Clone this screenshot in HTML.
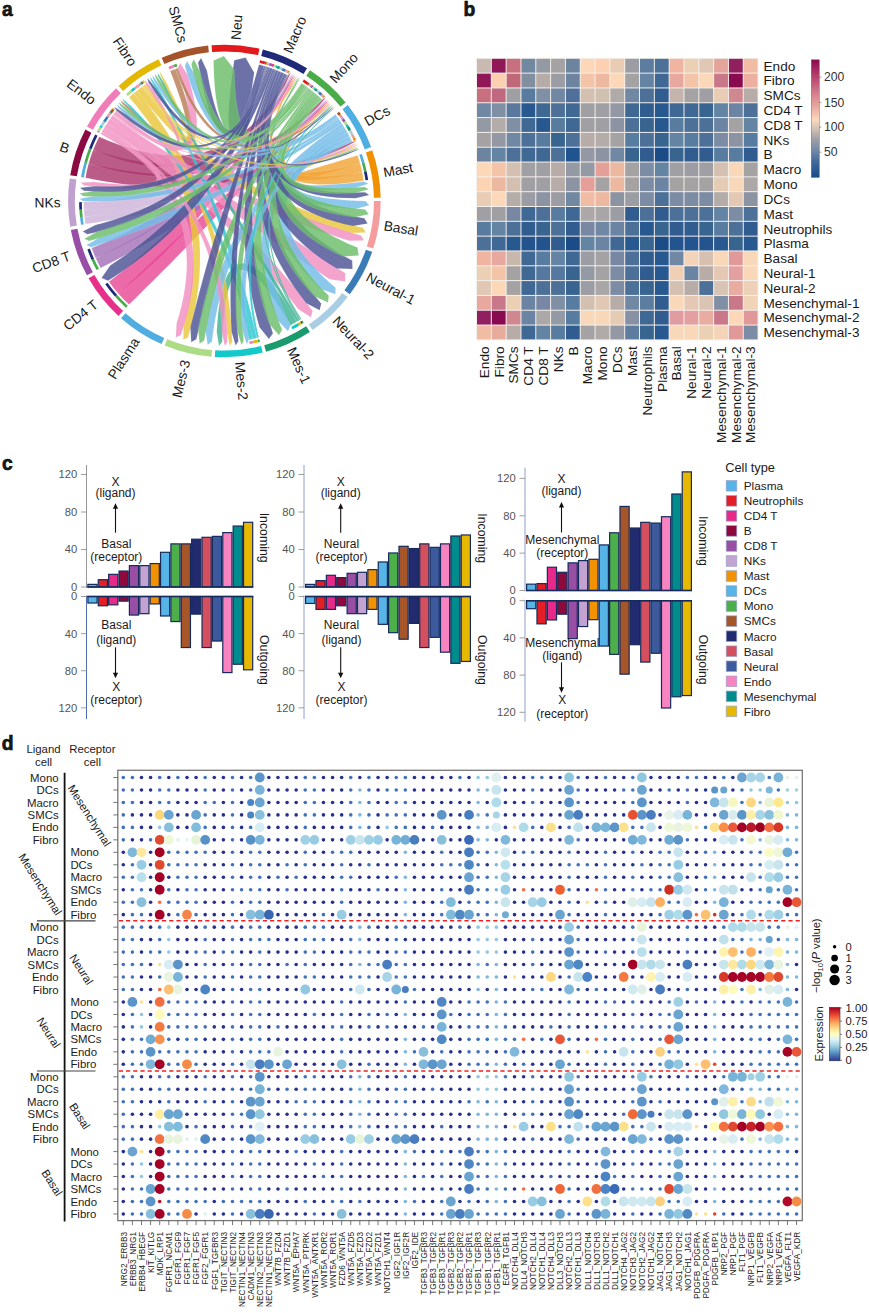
<!DOCTYPE html>
<html><head><meta charset="utf-8"><style>
html,body{margin:0;padding:0;background:#fff;}
svg{display:block;}
svg{fill:#1a1a1a;}
text{font-family:'Liberation Sans', Arial, sans-serif;}
</style></head><body>
<svg width="869" height="1313" viewBox="0 0 869 1313">
<rect width="869" height="1313" fill="#fff"/>
<path d="M380.70,201.07 A156.3,156.3 0 0 1 373.28,248.58 L366.90,246.54 A149.6,149.6 0 0 0 374.00,201.07 Z" fill="#f59c9c"/>
<path d="M372.21,251.82 A156.3,156.3 0 0 1 349.77,294.34 L344.39,290.34 A149.6,149.6 0 0 0 365.87,249.64 Z" fill="#3a7cb8"/>
<path d="M347.70,297.06 A156.3,156.3 0 0 1 312.67,329.99 L308.88,324.46 A149.6,149.6 0 0 0 342.42,292.94 Z" fill="#a9cde2"/>
<path d="M309.83,331.89 A156.3,156.3 0 0 1 266.00,351.66 L264.22,345.20 A149.6,149.6 0 0 0 306.17,326.28 Z" fill="#1a9b6e"/>
<path d="M262.70,352.53 A156.3,156.3 0 0 1 214.83,357.01 L215.24,350.32 A149.6,149.6 0 0 0 261.06,346.04 Z" fill="#13c9c9"/>
<path d="M211.42,356.76 A156.3,156.3 0 0 1 164.69,345.44 L167.25,339.25 A149.6,149.6 0 0 0 211.98,350.08 Z" fill="#acdc86"/>
<path d="M161.55,344.11 A156.3,156.3 0 0 1 121.02,318.23 L125.45,313.21 A149.6,149.6 0 0 0 164.25,337.97 Z" fill="#4fade0"/>
<path d="M118.49,315.95 A156.3,156.3 0 0 1 88.56,278.31 L94.38,275.00 A149.6,149.6 0 0 0 123.03,311.02 Z" fill="#e6308a"/>
<path d="M86.91,275.33 A156.3,156.3 0 0 1 70.82,230.02 L77.40,228.77 A149.6,149.6 0 0 0 92.80,272.14 Z" fill="#984ea6"/>
<path d="M70.22,226.66 A156.3,156.3 0 0 1 69.72,178.58 L76.35,179.54 A149.6,149.6 0 0 0 76.83,225.56 Z" fill="#bfa0cf"/>
<path d="M70.24,175.21 A156.3,156.3 0 0 1 85.38,129.57 L91.34,132.63 A149.6,149.6 0 0 0 76.85,176.31 Z" fill="#8b0a41"/>
<path d="M86.97,126.55 A156.3,156.3 0 0 1 116.11,88.30 L120.75,93.13 A149.6,149.6 0 0 0 92.86,129.74 Z" fill="#f07cb8"/>
<path d="M118.59,85.96 A156.3,156.3 0 0 1 158.57,59.24 L161.39,65.32 A149.6,149.6 0 0 0 123.13,90.89 Z" fill="#e2b800"/>
<path d="M161.68,57.84 A156.3,156.3 0 0 1 208.17,45.55 L208.86,52.21 A149.6,149.6 0 0 0 164.37,63.97 Z" fill="#a5532b"/>
<path d="M211.56,45.23 A156.3,156.3 0 0 1 259.52,48.70 L258.02,55.23 A149.6,149.6 0 0 0 212.11,51.91 Z" fill="#e2191d"/>
<path d="M262.84,49.50 A156.3,156.3 0 0 1 307.07,68.35 L303.53,74.04 A149.6,149.6 0 0 0 261.19,55.99 Z" fill="#1e2a78"/>
<path d="M309.95,70.19 A156.3,156.3 0 0 1 345.66,102.38 L340.46,106.61 A149.6,149.6 0 0 0 306.28,75.80 Z" fill="#48ac48"/>
<path d="M347.78,105.05 A156.3,156.3 0 0 1 371.11,147.10 L364.82,149.41 A149.6,149.6 0 0 0 342.50,109.17 Z" fill="#4faee2"/>
<path d="M372.25,150.31 A156.3,156.3 0 0 1 380.66,197.66 L373.97,197.80 A149.6,149.6 0 0 0 365.92,152.49 Z" fill="#f29100"/>
<path d="M128.99,304.55 A140.8,140.8 0 0 1 118.37,293.64 L125.47,286.81 132.73,279.84 140.01,272.89 147.30,265.96 154.61,259.06 161.95,252.17 169.32,245.31 176.72,238.49 184.15,231.69 191.61,224.93 199.10,218.20 206.62,211.50 214.16,204.82 221.71,198.15 229.27,191.48 236.81,184.81 244.34,178.11 251.85,171.39 259.33,164.65 266.79,157.87 274.21,151.07 281.61,144.24 288.99,137.38 296.34,130.50 303.68,123.61 311.01,116.70 318.32,109.78 325.63,102.85 L329.03,100.61 L319.42,110.93 312.21,117.95 305.02,125.00 297.84,132.06 290.68,139.14 283.54,146.25 276.44,153.38 269.36,160.55 262.32,167.75 255.31,174.98 248.33,182.24 241.37,189.53 234.44,196.84 227.52,204.16 220.60,211.48 213.68,218.79 206.74,226.09 199.77,233.36 192.78,240.60 185.77,247.82 178.72,255.00 171.65,262.16 164.56,269.29 157.44,276.40 150.31,283.49 143.17,290.57 136.01,297.64 128.99,304.55 Z" fill="#e84995" fill-opacity="0.82" stroke="#ffffff" stroke-opacity="0.35" stroke-width="0.3"/>
<path d="M118.37,293.64 A140.8,140.8 0 0 1 108.99,281.65 L116.64,275.64 124.36,269.43 131.99,263.13 139.53,256.77 146.98,250.32 154.35,243.81 161.64,237.23 168.85,230.58 176.00,223.86 183.07,217.08 190.07,210.22 197.00,203.29 203.85,196.27 210.61,189.16 217.27,181.95 223.82,174.63 230.25,167.18 236.55,159.62 242.72,151.92 248.75,144.11 254.64,136.16 260.40,128.10 266.02,119.92 271.50,111.62 276.86,103.22 282.09,94.70 287.20,86.08 292.19,77.36 L294.78,74.22 L288.58,86.88 283.59,95.59 278.50,104.22 273.33,112.77 268.06,121.25 262.71,129.66 257.28,137.99 251.78,146.27 246.19,154.48 240.52,162.62 234.77,170.71 228.94,178.74 223.00,186.70 216.96,194.59 210.81,202.39 204.52,210.09 198.10,217.70 191.54,225.20 184.83,232.58 177.97,239.84 170.97,246.98 163.83,254.01 156.55,260.91 149.13,267.70 141.59,274.38 133.92,280.95 126.12,287.41 118.37,293.64 Z" fill="#e84995" fill-opacity="0.82" stroke="#ffffff" stroke-opacity="0.35" stroke-width="0.3"/>
<path d="M85.53,177.76 A140.8,140.8 0 0 1 88.65,163.61 L98.12,165.65 107.74,167.51 117.33,169.17 126.90,170.63 136.45,171.88 145.97,172.95 155.48,173.82 164.97,174.51 174.44,175.02 183.90,175.34 193.35,175.47 202.80,175.41 212.25,175.16 221.69,174.68 231.12,173.99 240.56,173.05 249.98,171.87 259.39,170.42 268.79,168.71 278.17,166.74 287.52,164.50 296.86,162.00 306.17,159.24 315.45,156.22 324.71,152.96 333.94,149.45 343.15,145.69 352.32,141.70 L356.43,141.05 L344.06,147.82 334.86,151.72 325.63,155.41 316.39,158.88 307.12,162.16 297.83,165.24 288.53,168.13 279.19,170.82 269.84,173.33 260.45,175.66 251.03,177.79 241.58,179.73 232.09,181.47 222.56,182.99 212.99,184.29 203.37,185.35 193.71,186.16 184.01,186.71 174.27,186.99 164.50,187.00 154.69,186.75 144.86,186.23 135.00,185.44 125.11,184.40 115.20,183.10 105.27,181.56 95.32,179.76 85.53,177.76 Z" fill="#ac386e" fill-opacity="0.82" stroke="#ffffff" stroke-opacity="0.35" stroke-width="0.3"/>
<path d="M88.65,163.61 A140.8,140.8 0 0 1 93.22,149.86 L102.30,152.76 111.46,155.37 120.52,157.63 129.48,159.55 138.35,161.14 147.12,162.39 155.81,163.32 164.42,163.92 172.95,164.20 181.41,164.17 189.81,163.81 198.15,163.11 206.44,162.08 214.68,160.69 222.87,158.93 231.00,156.78 239.07,154.24 247.07,151.29 255.00,147.93 262.84,144.16 270.60,139.98 278.27,135.39 285.85,130.40 293.33,125.01 300.72,119.22 308.01,113.05 315.21,106.48 322.32,99.54 L325.91,97.46 L316.82,108.16 309.65,114.87 302.39,121.23 295.06,127.24 287.64,132.90 280.13,138.22 272.54,143.21 264.86,147.86 257.09,152.19 249.22,156.18 241.25,159.85 233.17,163.18 224.97,166.17 216.65,168.81 208.21,171.07 199.63,172.96 190.93,174.44 182.11,175.52 173.17,176.18 164.13,176.42 154.98,176.24 145.73,175.64 136.40,174.63 126.97,173.21 117.47,171.39 107.88,169.17 98.22,166.56 88.65,163.61 Z" fill="#ac386e" fill-opacity="0.82" stroke="#ffffff" stroke-opacity="0.35" stroke-width="0.3"/>
<path d="M93.22,149.86 A140.8,140.8 0 0 1 99.17,136.65 L107.82,140.41 116.46,143.80 124.91,146.74 133.18,149.25 141.27,151.32 149.18,152.97 156.92,154.21 164.49,155.03 171.91,155.44 179.18,155.45 186.33,155.05 193.36,154.23 200.27,152.97 207.09,151.27 213.79,149.10 220.39,146.45 226.87,143.30 233.23,139.64 239.44,135.46 245.51,130.77 251.41,125.56 257.16,119.84 262.73,113.63 268.14,106.91 273.37,99.71 278.44,92.01 283.33,83.84 288.05,75.18 L290.87,72.13 L285.35,84.98 280.52,93.30 275.54,101.17 270.40,108.60 265.11,115.58 259.66,122.12 254.06,128.24 248.29,133.93 242.36,139.19 236.25,144.04 229.95,148.47 223.46,152.47 216.76,156.04 209.84,159.16 202.71,161.81 195.35,163.98 187.78,165.64 180.00,166.79 172.02,167.42 163.87,167.51 155.54,167.08 147.05,166.13 138.41,164.66 129.62,162.67 120.69,160.19 111.61,157.21 102.40,153.74 93.22,149.86 Z" fill="#ac386e" fill-opacity="0.82" stroke="#ffffff" stroke-opacity="0.35" stroke-width="0.3"/>
<path d="M100.54,267.96 A140.8,140.8 0 0 1 95.69,258.09 L104.56,253.72 113.45,249.22 122.30,244.64 131.08,239.98 139.81,235.25 148.49,230.44 157.12,225.56 165.70,220.60 174.24,215.58 182.73,210.49 191.18,205.33 199.59,200.10 207.94,194.78 216.24,189.37 224.48,183.87 232.66,178.26 240.76,172.54 248.80,166.71 256.75,160.75 264.62,154.67 272.41,148.48 280.12,142.16 287.75,135.73 295.31,129.19 302.78,122.54 310.18,115.79 317.51,108.93 324.77,101.97 L328.06,99.61 L318.42,109.88 311.15,116.82 303.83,123.69 296.45,130.47 289.01,137.17 281.53,143.81 273.99,150.37 266.40,156.86 258.76,163.28 251.08,169.64 243.34,175.93 235.54,182.15 227.69,188.30 219.77,194.37 211.78,200.34 203.71,206.22 195.56,212.00 187.32,217.66 179.00,223.21 170.60,228.64 162.10,233.95 153.53,239.15 144.87,244.23 136.13,249.20 127.32,254.06 118.44,258.81 109.48,263.46 100.54,267.96 Z" fill="#a572b8" fill-opacity="0.82" stroke="#ffffff" stroke-opacity="0.35" stroke-width="0.3"/>
<path d="M95.69,258.09 A140.8,140.8 0 0 1 91.63,247.88 L100.70,244.20 109.70,240.30 118.55,236.24 127.25,232.02 135.80,227.62 144.21,223.07 152.47,218.35 160.59,213.47 168.57,208.44 176.42,203.24 184.14,197.88 191.72,192.34 199.17,186.63 206.47,180.74 213.63,174.65 220.63,168.36 227.47,161.87 234.13,155.17 240.63,148.25 246.94,141.12 253.08,133.78 259.04,126.23 264.82,118.48 270.43,110.53 275.85,102.38 281.11,94.04 286.19,85.50 291.11,76.78 L293.56,73.55 L287.33,86.16 282.32,94.77 277.16,103.22 271.85,111.49 266.39,119.59 260.77,127.53 255.02,135.30 249.12,142.91 243.07,150.37 236.87,157.67 230.53,164.82 224.03,171.81 217.36,178.64 210.53,185.31 203.53,191.80 196.34,198.11 188.96,204.23 181.39,210.15 173.63,215.87 165.68,221.38 157.55,226.69 149.23,231.79 140.72,236.68 132.04,241.37 123.19,245.86 114.16,250.15 104.96,254.24 95.69,258.09 Z" fill="#a572b8" fill-opacity="0.82" stroke="#ffffff" stroke-opacity="0.35" stroke-width="0.3"/>
<path d="M357.59,155.34 A140.8,140.8 0 0 1 360.15,163.63 L350.92,166.43 342.29,169.00 334.32,171.30 327.03,173.35 320.40,175.14 314.43,176.66 309.12,177.92 304.47,178.91 300.46,179.63 297.10,180.09 294.34,180.28 292.12,180.19 290.16,179.71 288.09,177.54 288.73,174.86 290.13,173.70 291.94,172.63 294.31,171.38 297.30,169.90 300.94,168.16 305.22,166.16 310.16,163.90 315.75,161.37 322.02,158.58 328.94,155.53 336.54,152.23 344.80,148.66 353.74,144.84 L357.65,143.83 L345.32,149.85 337.09,153.48 329.54,156.88 322.68,160.04 316.49,162.96 310.99,165.65 306.18,168.11 302.05,170.33 298.63,172.32 295.91,174.07 293.92,175.56 292.72,176.74 292.45,177.33 292.77,175.90 291.72,174.49 292.14,174.27 293.64,173.94 295.96,173.40 299.01,172.63 302.77,171.63 307.23,170.41 312.38,168.96 318.22,167.27 324.74,165.36 331.95,163.20 339.84,160.82 348.41,158.19 357.59,155.34 Z" fill="#f2a536" fill-opacity="0.82" stroke="#ffffff" stroke-opacity="0.35" stroke-width="0.3"/>
<path d="M360.15,163.63 A140.8,140.8 0 0 1 362.20,172.07 L352.71,174.25 343.75,176.10 335.39,177.61 327.62,178.78 320.44,179.60 313.84,180.07 307.82,180.18 302.38,179.92 297.51,179.28 293.20,178.25 289.46,176.80 286.31,174.90 283.82,172.52 282.10,169.72 281.19,166.63 281.07,163.35 281.63,159.93 282.80,156.33 284.56,152.49 286.90,148.38 289.80,143.96 293.29,139.24 297.36,134.18 302.02,128.79 307.28,123.08 313.14,117.02 319.59,110.63 326.65,103.91 L329.98,101.62 L320.50,111.56 314.12,117.98 308.36,124.08 303.23,129.85 298.72,135.29 294.85,140.40 291.61,145.17 289.01,149.59 287.06,153.66 285.76,157.34 285.10,160.58 285.05,163.35 285.54,165.61 286.46,167.37 287.78,168.78 289.57,169.94 291.91,170.92 294.89,171.68 298.52,172.21 302.81,172.46 307.75,172.43 313.34,172.11 319.57,171.48 326.44,170.55 333.95,169.30 342.08,167.73 350.83,165.83 360.15,163.63 Z" fill="#f2a536" fill-opacity="0.82" stroke="#ffffff" stroke-opacity="0.35" stroke-width="0.3"/>
<path d="M362.20,172.07 A140.8,140.8 0 0 1 363.72,180.62 L354.02,182.17 344.77,183.35 336.03,184.13 327.80,184.53 320.09,184.52 312.88,184.12 306.19,183.29 300.01,182.05 294.34,180.38 289.21,178.28 284.64,175.73 280.63,172.76 277.22,169.38 274.43,165.61 272.26,161.49 270.70,157.06 269.72,152.32 269.29,147.29 269.40,141.94 270.02,136.27 271.16,130.27 272.81,123.91 274.96,117.20 277.63,110.12 280.81,102.67 284.52,94.85 288.74,86.65 293.48,78.08 L295.99,74.91 L289.88,87.26 285.75,95.45 282.16,103.27 279.12,110.70 276.62,117.76 274.68,124.43 273.29,130.70 272.45,136.58 272.16,142.04 272.41,147.07 273.19,151.67 274.49,155.81 276.26,159.50 278.49,162.75 281.16,165.60 284.27,168.09 287.85,170.23 291.92,172.05 296.50,173.56 301.61,174.76 307.26,175.63 313.47,176.17 320.22,176.37 327.53,176.22 335.39,175.72 343.80,174.86 352.76,173.64 362.20,172.07 Z" fill="#f2a536" fill-opacity="0.82" stroke="#ffffff" stroke-opacity="0.35" stroke-width="0.3"/>
<path d="M85.51,224.11 A140.8,140.8 0 0 1 84.49,216.81 L94.36,215.41 104.25,213.92 114.12,212.34 123.96,210.67 133.78,208.92 143.57,207.09 153.35,205.18 163.10,203.19 172.84,201.13 182.56,198.99 192.25,196.77 201.93,194.47 211.59,192.09 221.22,189.62 230.84,187.05 240.43,184.38 249.99,181.60 259.53,178.72 269.03,175.71 278.51,172.60 287.96,169.37 297.37,166.03 306.76,162.57 316.11,159.01 325.44,155.34 334.74,151.57 344.00,147.70 353.24,143.72 L357.15,142.67 L344.51,148.87 335.25,152.82 325.98,156.67 316.68,160.44 307.35,164.13 298.01,167.73 288.64,171.26 279.25,174.70 269.83,178.08 260.40,181.37 250.94,184.59 241.45,187.73 231.94,190.79 222.40,193.76 212.83,196.63 203.22,199.41 193.59,202.08 183.92,204.64 174.21,207.08 164.48,209.42 154.71,211.64 144.91,213.74 135.07,215.74 125.21,217.63 115.31,219.41 105.39,221.08 95.44,222.65 85.51,224.11 Z" fill="#cdb5d9" fill-opacity="0.82" stroke="#ffffff" stroke-opacity="0.35" stroke-width="0.3"/>
<path d="M84.49,216.81 A140.8,140.8 0 0 1 83.86,209.47 L93.69,208.53 103.48,207.37 113.16,206.00 122.74,204.42 132.23,202.63 141.62,200.63 150.91,198.42 160.11,196.02 169.21,193.40 178.23,190.59 187.16,187.56 196.00,184.33 204.75,180.89 213.41,177.22 221.98,173.33 230.45,169.20 238.82,164.84 247.09,160.24 255.26,155.40 263.32,150.31 271.27,144.99 279.11,139.42 286.84,133.62 294.47,127.58 301.99,121.30 309.40,114.79 316.70,108.06 323.90,101.09 L327.17,98.71 L317.59,108.99 310.30,115.79 302.92,122.38 295.44,128.76 287.87,134.92 280.19,140.88 272.42,146.63 264.55,152.17 256.59,157.51 248.52,162.64 240.36,167.57 232.09,172.30 223.71,176.82 215.22,181.12 206.62,185.20 197.90,189.06 189.07,192.69 180.12,196.08 171.05,199.23 161.87,202.14 152.57,204.81 143.16,207.23 133.64,209.42 124.02,211.37 114.28,213.08 104.44,214.56 94.49,215.81 84.49,216.81 Z" fill="#cdb5d9" fill-opacity="0.82" stroke="#ffffff" stroke-opacity="0.35" stroke-width="0.3"/>
<path d="M83.86,209.47 A140.8,140.8 0 0 1 83.60,202.11 L93.40,201.64 103.05,200.89 112.51,199.84 121.78,198.49 130.86,196.86 139.76,194.94 148.48,192.74 157.02,190.25 165.38,187.48 173.57,184.42 181.59,181.07 189.43,177.43 197.11,173.49 204.62,169.25 211.96,164.69 219.11,159.82 226.08,154.63 232.87,149.11 239.47,143.26 245.87,137.09 252.08,130.59 258.09,123.77 263.90,116.63 269.51,109.17 274.93,101.40 280.16,93.31 285.19,84.91 290.02,76.20 L292.44,72.96 L286.30,85.55 281.31,94.02 276.13,102.19 270.76,110.07 265.21,117.65 259.48,124.93 253.57,131.93 247.47,138.64 241.19,145.06 234.72,151.20 228.06,157.06 221.21,162.63 214.15,167.91 206.90,172.89 199.44,177.58 191.77,181.96 183.89,186.03 175.80,189.78 167.50,193.21 159.00,196.31 150.28,199.09 141.37,201.54 132.26,203.66 122.95,205.46 113.45,206.94 103.76,208.10 93.88,208.95 83.86,209.47 Z" fill="#cdb5d9" fill-opacity="0.82" stroke="#ffffff" stroke-opacity="0.35" stroke-width="0.3"/>
<path d="M296.72,321.80 A140.8,140.8 0 0 1 290.36,325.40 L285.56,317.07 280.92,309.39 276.44,302.39 272.15,296.07 268.04,290.43 264.11,285.49 260.38,281.23 256.85,277.67 253.55,274.80 250.50,272.62 247.72,271.11 245.26,270.23 243.10,269.92 241.18,270.10 239.34,270.75 237.50,271.98 235.62,273.87 233.76,276.48 231.97,279.84 230.28,283.93 228.72,288.75 227.31,294.28 226.05,300.51 224.95,307.44 224.01,315.05 223.22,323.36 222.61,332.34 222.15,341.98 L219.05,345.90 L216.70,332.01 217.31,322.88 218.09,314.42 219.03,306.61 220.14,299.46 221.42,292.96 222.87,287.10 224.50,281.87 226.33,277.26 228.39,273.26 230.69,269.87 233.31,267.10 236.29,265.00 239.60,263.68 243.15,263.22 246.80,263.62 250.46,264.80 254.14,266.70 257.87,269.26 261.68,272.48 265.58,276.35 269.61,280.88 273.77,286.06 278.07,291.89 282.51,298.39 287.10,305.54 291.85,313.36 296.72,321.80 Z" fill="#3cb292" fill-opacity="0.82" stroke="#ffffff" stroke-opacity="0.35" stroke-width="0.3"/>
<path d="M136.85,90.73 A140.8,140.8 0 0 1 141.99,86.84 L148.07,94.66 154.30,102.30 160.66,109.73 167.16,116.95 173.79,123.96 180.56,130.76 187.45,137.35 194.49,143.73 201.66,149.90 208.96,155.85 216.39,161.60 223.96,167.13 231.66,172.45 239.49,177.57 247.46,182.47 255.55,187.18 263.78,191.67 272.13,195.96 280.61,200.05 289.23,203.94 297.97,207.62 306.85,211.11 315.86,214.39 325.00,217.46 334.27,220.34 343.68,223.01 353.22,225.47 362.84,227.72 L365.95,232.45 L351.34,233.11 341.62,230.58 332.04,227.84 322.59,224.89 313.27,221.72 304.10,218.34 295.05,214.75 286.15,210.94 277.38,206.91 268.75,202.68 260.26,198.22 251.91,193.56 243.70,188.68 235.63,183.60 227.69,178.30 219.89,172.80 212.23,167.09 204.70,161.17 197.31,155.05 190.05,148.73 182.92,142.19 175.93,135.46 169.08,128.52 162.36,121.37 155.77,114.01 149.32,106.45 143.00,98.68 136.85,90.73 Z" fill="#eac63b" fill-opacity="0.82" stroke="#ffffff" stroke-opacity="0.35" stroke-width="0.3"/>
<path d="M129.08,97.37 A140.8,140.8 0 0 1 133.72,93.28 L140.24,100.92 146.45,108.65 152.31,116.46 157.84,124.36 163.02,132.33 167.87,140.38 172.39,148.51 176.56,156.72 180.40,165.01 183.90,173.37 187.06,181.82 189.88,190.35 192.36,198.95 194.50,207.64 196.29,216.41 197.74,225.25 198.84,234.18 199.60,243.18 200.00,252.26 200.06,261.41 199.77,270.64 199.13,279.95 198.14,289.32 196.81,298.77 195.13,308.29 193.10,317.88 190.74,327.55 188.04,337.23 L183.27,340.04 L183.45,325.63 185.78,316.20 187.77,306.86 189.43,297.59 190.75,288.40 191.75,279.29 192.41,270.25 192.74,261.30 192.74,252.42 192.42,243.61 191.76,234.88 190.77,226.22 189.45,217.63 187.80,209.12 185.81,200.67 183.48,192.29 180.82,183.99 177.82,175.75 174.48,167.59 170.79,159.50 166.77,151.48 162.40,143.53 157.70,135.65 152.65,127.85 147.27,120.11 141.54,112.45 135.47,104.86 129.08,97.37 Z" fill="#eac63b" fill-opacity="0.82" stroke="#ffffff" stroke-opacity="0.35" stroke-width="0.3"/>
<path d="M106.89,123.43 A140.8,140.8 0 0 1 110.29,118.51 L118.56,124.18 126.86,129.86 135.17,135.52 143.50,141.16 151.83,146.79 160.18,152.40 168.54,157.99 176.93,163.55 185.32,169.09 193.74,174.60 202.17,180.09 210.62,185.56 219.08,191.01 227.55,196.45 236.02,201.88 244.49,207.31 252.96,212.76 261.42,218.21 269.87,223.68 278.31,229.16 286.74,234.66 295.16,240.18 303.57,245.70 311.97,251.24 320.38,256.78 328.77,262.33 337.17,267.89 345.42,273.35 L345.07,281.39 L329.56,279.29 321.20,273.67 312.86,268.02 304.52,262.37 296.20,256.69 287.89,251.00 279.60,245.28 271.32,239.54 263.06,233.78 254.82,227.99 246.60,222.17 238.39,216.34 230.19,210.48 222.00,204.62 213.82,198.75 205.64,192.89 197.45,187.03 189.25,181.18 181.05,175.35 172.83,169.54 164.61,163.73 156.38,157.95 148.14,152.17 139.89,146.41 131.64,140.66 123.38,134.91 115.12,129.16 106.89,123.43 Z" fill="#f290c1" fill-opacity="0.82" stroke="#ffffff" stroke-opacity="0.35" stroke-width="0.3"/>
<path d="M170.16,71.07 A140.8,140.8 0 0 1 175.34,69.02 L178.83,78.11 181.93,86.64 184.65,94.60 186.97,101.98 188.90,108.79 190.43,115.04 191.56,120.72 192.30,125.85 192.62,130.43 192.53,134.49 192.00,138.02 190.98,141.05 189.42,143.55 187.30,145.38 184.72,146.42 181.87,146.68 178.80,146.26 175.46,145.24 171.81,143.65 167.83,141.49 163.48,138.77 158.76,135.48 153.66,131.62 148.18,127.19 142.31,122.18 136.05,116.59 129.40,110.43 122.37,103.69 L120.35,100.01 L131.10,108.62 137.74,114.72 143.99,120.24 149.84,125.17 155.30,129.50 160.37,133.24 165.03,136.38 169.29,138.92 173.13,140.85 176.53,142.18 179.46,142.91 181.87,143.07 183.73,142.74 185.08,142.03 186.10,140.94 186.91,139.33 187.48,137.10 187.76,134.20 187.69,130.65 187.27,126.46 186.47,121.65 185.29,116.22 183.73,110.19 181.79,103.55 179.46,96.32 176.74,88.49 173.64,80.06 170.16,71.07 Z" fill="#b77d55" fill-opacity="0.82" stroke="#ffffff" stroke-opacity="0.35" stroke-width="0.3"/>
<path d="M259.02,64.52 A140.8,140.8 0 0 1 264.02,65.89 L261.51,75.25 259.16,83.93 256.98,91.92 254.97,99.23 253.13,105.85 251.48,111.78 250.01,117.05 248.72,121.65 247.61,125.61 246.65,128.97 245.82,131.79 244.93,134.25 243.26,136.83 237.37,138.72 231.91,135.10 230.30,131.98 229.45,129.17 228.91,126.04 228.58,122.38 228.46,118.11 228.54,113.20 228.81,107.63 229.28,101.39 229.93,94.47 230.75,86.87 231.75,78.58 232.92,69.60 234.21,60.34 L245.55,57.55 L254.22,72.64 252.90,81.48 251.69,89.61 250.61,97.02 249.65,103.71 248.79,109.67 248.04,114.90 247.39,119.38 246.84,123.10 246.37,126.02 245.97,128.07 245.57,129.03 244.71,128.28 240.28,125.62 235.72,127.08 235.67,127.81 236.71,127.02 238.08,125.19 239.64,122.49 241.33,118.98 243.13,114.72 245.05,109.71 247.08,103.97 249.23,97.51 251.49,90.33 253.88,82.43 256.39,73.82 259.02,64.52 Z" fill="#4c5395" fill-opacity="0.82" stroke="#ffffff" stroke-opacity="0.35" stroke-width="0.3"/>
<path d="M301.71,83.32 A140.8,140.8 0 0 1 305.80,86.11 L300.26,94.16 294.93,101.58 289.80,108.37 284.87,114.54 280.15,120.09 275.63,125.03 271.29,129.38 267.11,133.15 263.05,136.35 259.06,138.99 255.05,141.05 250.93,142.46 246.63,143.10 242.22,142.79 237.88,141.45 233.85,139.13 230.25,135.97 227.11,132.10 224.39,127.60 222.04,122.50 220.03,116.80 218.33,110.52 216.91,103.64 215.75,96.15 214.85,88.06 214.18,79.34 213.75,70.00 213.55,60.42 L223.86,56.00 L234.28,69.48 234.53,78.32 234.94,86.47 235.52,93.92 236.25,100.67 237.12,106.71 238.10,112.04 239.18,116.64 240.33,120.52 241.50,123.69 242.66,126.18 243.76,128.06 244.83,129.48 246.00,130.56 247.50,131.36 249.51,131.79 252.10,131.68 255.21,130.91 258.73,129.41 262.59,127.15 266.73,124.15 271.11,120.42 275.72,115.97 280.52,110.81 285.53,104.96 290.73,98.42 296.13,91.20 301.71,83.32 Z" fill="#6bbd6a" fill-opacity="0.82" stroke="#ffffff" stroke-opacity="0.35" stroke-width="0.3"/>
<path d="M347.15,132.03 A140.8,140.8 0 0 1 349.41,136.22 L340.96,141.00 333.09,145.84 325.83,150.75 319.18,155.71 313.13,160.72 307.69,165.78 302.87,170.89 298.67,176.04 295.08,181.22 292.11,186.43 289.74,191.65 287.97,196.88 286.78,202.11 286.17,207.36 286.10,212.62 286.58,217.91 287.60,223.25 289.15,228.65 291.24,234.13 293.88,239.71 297.08,245.38 300.85,251.14 305.19,257.01 310.11,262.97 315.62,269.03 321.72,275.17 328.42,281.40 335.63,287.65 L335.36,294.34 L321.36,289.22 314.42,282.67 308.06,276.15 302.29,269.67 297.12,263.21 292.56,256.78 288.60,250.37 285.25,243.99 282.53,237.63 280.44,231.31 279.00,225.02 278.20,218.80 278.05,212.64 278.53,206.58 279.65,200.62 281.38,194.78 283.71,189.05 286.62,183.44 290.11,177.93 294.17,172.52 298.80,167.20 303.99,161.97 309.75,156.80 316.08,151.71 322.99,146.69 330.47,141.74 338.53,136.84 347.15,132.03 Z" fill="#73bce8" fill-opacity="0.82" stroke="#ffffff" stroke-opacity="0.35" stroke-width="0.3"/>
<path d="M104.42,127.31 A140.8,140.8 0 0 1 106.89,123.43 L115.35,128.87 123.75,134.41 132.06,140.03 140.28,145.75 148.43,151.55 156.50,157.44 164.49,163.41 172.41,169.47 180.25,175.60 188.02,181.83 195.71,188.14 203.33,194.53 210.87,201.02 218.33,207.60 225.70,214.28 232.99,221.07 240.18,227.96 247.27,234.97 254.27,242.08 261.17,249.31 267.96,256.65 274.66,264.09 281.25,271.65 287.75,279.31 294.15,287.08 300.45,294.95 306.66,302.92 312.71,310.92 L310.91,317.36 L298.29,309.31 292.21,301.41 286.06,293.59 279.82,285.87 273.50,278.22 267.11,270.67 260.64,263.20 254.09,255.80 247.46,248.49 240.76,241.26 233.99,234.11 227.13,227.04 220.19,220.05 213.16,213.16 206.04,206.35 198.82,199.64 191.51,193.03 184.09,186.52 176.57,180.12 168.95,173.83 161.22,167.64 153.40,161.56 145.47,155.59 137.45,149.73 129.33,143.97 121.12,138.31 112.81,132.75 104.42,127.31 Z" fill="#f290c1" fill-opacity="0.82" stroke="#ffffff" stroke-opacity="0.35" stroke-width="0.3"/>
<path d="M256.81,338.02 A140.8,140.8 0 0 1 252.63,338.94 L250.42,329.18 248.11,319.44 245.69,309.75 243.17,300.09 240.55,290.48 237.82,280.90 235.00,271.37 232.06,261.88 229.03,252.42 225.90,243.01 222.66,233.63 219.32,224.30 215.88,215.00 212.33,205.74 208.67,196.52 204.90,187.35 201.03,178.22 197.04,169.12 192.94,160.08 188.72,151.07 184.39,142.11 179.96,133.20 175.40,124.32 170.74,115.49 165.97,106.71 161.09,97.97 156.10,89.27 151.00,80.61 L149.99,76.55 L158.22,88.03 163.25,96.74 168.16,105.50 172.98,114.29 177.69,123.13 182.29,132.01 186.80,140.93 191.20,149.89 195.50,158.88 199.69,167.92 203.79,177.01 207.78,186.13 211.67,195.29 215.46,204.50 219.13,213.75 222.70,223.04 226.16,232.38 229.51,241.76 232.74,251.19 235.86,260.67 238.87,270.18 241.77,279.75 244.55,289.35 247.23,299.00 249.79,308.70 252.24,318.43 254.58,328.21 256.81,338.02 Z" fill="#2ac6cf" fill-opacity="0.82" stroke="#ffffff" stroke-opacity="0.35" stroke-width="0.3"/>
<path d="M345.03,128.39 A140.8,140.8 0 0 1 347.15,132.03 L338.78,137.13 330.88,142.37 323.45,147.76 316.50,153.29 310.03,158.96 304.04,164.77 298.54,170.71 293.52,176.79 288.98,183.01 284.94,189.35 281.37,195.82 278.29,202.42 275.68,209.13 273.54,215.96 271.86,222.90 270.64,229.97 269.86,237.15 269.52,244.47 269.61,251.91 270.15,259.50 271.12,267.23 272.54,275.11 274.40,283.14 276.71,291.33 279.46,299.67 282.68,308.17 286.35,316.83 290.45,325.57 L288.04,331.29 L277.84,320.60 274.08,311.59 270.80,302.70 267.99,293.95 265.67,285.32 263.84,276.82 262.51,268.45 261.67,260.22 261.32,252.13 261.48,244.19 262.13,236.40 263.28,228.76 264.93,221.29 267.05,213.99 269.65,206.86 272.72,199.89 276.26,193.09 280.24,186.45 284.68,179.97 289.57,173.65 294.92,167.47 300.71,161.45 306.96,155.58 313.66,149.85 320.82,144.26 328.43,138.82 336.51,133.53 345.03,128.39 Z" fill="#73bce8" fill-opacity="0.82" stroke="#ffffff" stroke-opacity="0.35" stroke-width="0.3"/>
<path d="M133.72,93.28 A140.8,140.8 0 0 1 136.85,90.73 L143.13,98.58 149.20,106.52 155.07,114.54 160.72,122.65 166.16,130.83 171.38,139.10 176.40,147.45 181.20,155.88 185.79,164.39 190.17,172.98 194.33,181.66 198.29,190.42 202.03,199.26 205.56,208.18 208.87,217.19 211.97,226.28 214.85,235.45 217.52,244.71 219.97,254.05 222.20,263.47 224.21,272.98 226.01,282.56 227.59,292.23 228.95,301.98 230.10,311.82 231.03,321.73 231.74,331.73 232.24,341.78 L229.93,345.89 L226.83,332.02 226.14,322.13 225.23,312.33 224.11,302.60 222.78,292.96 221.24,283.39 219.50,273.91 217.54,264.51 215.37,255.18 212.99,245.94 210.40,236.78 207.60,227.69 204.59,218.69 201.37,209.77 197.93,200.92 194.29,192.15 190.42,183.47 186.34,174.86 182.05,166.34 177.54,157.90 172.81,149.54 167.87,141.26 162.72,133.06 157.34,124.94 151.76,116.90 145.96,108.94 139.94,101.07 133.72,93.28 Z" fill="#eac63b" fill-opacity="0.82" stroke="#ffffff" stroke-opacity="0.35" stroke-width="0.3"/>
<path d="M252.63,338.94 A140.8,140.8 0 0 1 248.81,339.67 L246.86,329.89 244.72,320.19 242.39,310.59 239.88,301.09 237.18,291.68 234.31,282.38 231.25,273.16 228.01,264.05 224.59,255.02 220.99,246.09 217.21,237.26 213.24,228.52 209.09,219.88 204.75,211.32 200.22,202.87 195.51,194.51 190.61,186.25 185.51,178.09 180.23,170.02 174.75,162.06 169.08,154.19 163.22,146.43 157.17,138.76 150.93,131.19 144.50,123.73 137.88,116.36 131.07,109.09 124.08,101.92 L122.04,98.30 L132.68,107.55 139.53,114.84 146.20,122.23 152.68,129.71 158.98,137.29 165.10,144.97 171.03,152.75 176.78,160.62 182.34,168.59 187.73,176.66 192.93,184.82 197.95,193.08 202.79,201.44 207.44,209.90 211.91,218.46 216.19,227.12 220.28,235.89 224.17,244.75 227.88,253.72 231.40,262.79 234.72,271.96 237.85,281.23 240.79,290.60 243.54,300.08 246.09,309.65 248.46,319.32 250.64,329.09 252.63,338.94 Z" fill="#2ac6cf" fill-opacity="0.82" stroke="#ffffff" stroke-opacity="0.35" stroke-width="0.3"/>
<path d="M349.41,136.22 A140.8,140.8 0 0 1 351.10,139.58 L342.50,144.01 334.58,148.30 327.35,152.43 320.81,156.42 314.96,160.25 309.82,163.93 305.38,167.45 301.66,170.80 298.66,173.96 296.39,176.91 294.85,179.60 294.00,181.97 293.78,183.96 294.06,185.62 294.78,187.10 296.01,188.56 297.87,190.06 300.44,191.56 303.74,193.01 307.76,194.39 312.51,195.67 317.97,196.84 324.14,197.88 331.01,198.79 338.58,199.57 346.85,200.21 355.81,200.71 365.40,201.06 L369.33,205.36 L355.41,209.03 346.28,208.47 337.81,207.75 330.02,206.87 322.88,205.82 316.40,204.61 310.58,203.22 305.40,201.64 300.86,199.86 296.96,197.85 293.68,195.59 291.06,193.03 289.18,190.13 288.14,186.95 288.03,183.64 288.77,180.38 290.25,177.18 292.40,174.01 295.17,170.80 298.58,167.50 302.63,164.09 307.33,160.54 312.68,156.86 318.69,153.03 325.37,149.05 332.72,144.92 340.73,140.64 349.41,136.22 Z" fill="#73bce8" fill-opacity="0.82" stroke="#ffffff" stroke-opacity="0.35" stroke-width="0.3"/>
<path d="M110.29,118.51 A140.8,140.8 0 0 1 112.46,115.60 L120.54,121.50 128.70,127.29 136.92,132.95 145.19,138.50 153.53,143.92 161.93,149.21 170.40,154.38 178.93,159.41 187.52,164.32 196.17,169.10 204.88,173.75 213.66,178.27 222.49,182.66 231.38,186.93 240.32,191.09 249.32,195.13 258.36,199.06 267.46,202.89 276.60,206.61 285.79,210.24 295.03,213.75 304.32,217.17 313.67,220.48 323.07,223.69 332.52,226.78 342.02,229.77 351.58,232.66 361.14,235.41 L363.90,240.54 L349.21,240.64 339.56,237.68 329.98,234.59 320.45,231.39 310.99,228.05 301.59,224.60 292.25,221.01 282.98,217.29 273.77,213.45 264.63,209.47 255.56,205.37 246.55,201.14 237.61,196.79 228.73,192.32 219.91,187.73 211.16,183.03 202.45,178.23 193.81,173.32 185.22,168.31 176.68,163.20 168.19,157.99 159.76,152.67 151.38,147.24 143.05,141.72 134.78,136.08 126.56,130.33 118.39,124.48 110.29,118.51 Z" fill="#f290c1" fill-opacity="0.82" stroke="#ffffff" stroke-opacity="0.35" stroke-width="0.3"/>
<path d="M341.92,123.46 A140.8,140.8 0 0 1 343.82,126.41 L335.54,131.90 327.53,137.57 319.78,143.40 312.29,149.40 305.07,155.57 298.13,161.90 291.45,168.40 285.04,175.06 278.91,181.89 273.05,188.89 267.47,196.05 262.16,203.37 257.11,210.85 252.34,218.49 247.83,226.28 243.57,234.22 239.57,242.31 235.83,250.55 232.33,258.94 229.07,267.49 226.07,276.18 223.31,285.04 220.79,294.05 218.52,303.21 216.51,312.54 214.74,322.03 213.22,331.69 211.97,341.45 L207.63,345.03 L205.56,330.58 207.15,320.71 209.02,311.01 211.15,301.47 213.56,292.10 216.24,282.90 219.20,273.87 222.43,265.01 225.94,256.32 229.72,247.80 233.78,239.46 238.10,231.30 242.69,223.31 247.55,215.50 252.66,207.86 258.03,200.39 263.65,193.09 269.51,185.96 275.63,178.99 281.99,172.18 288.60,165.52 295.46,159.03 302.57,152.70 309.93,146.53 317.55,140.52 325.42,134.67 333.55,128.98 341.92,123.46 Z" fill="#73bce8" fill-opacity="0.82" stroke="#ffffff" stroke-opacity="0.35" stroke-width="0.3"/>
<path d="M280.94,72.05 A140.8,140.8 0 0 1 284.10,73.48 L280.26,82.51 276.88,91.39 273.99,100.10 271.59,108.65 269.67,117.03 268.24,125.23 267.30,133.26 266.86,141.10 266.91,148.76 267.45,156.21 268.47,163.47 269.97,170.52 271.93,177.36 274.33,183.99 277.17,190.43 280.42,196.67 284.09,202.75 288.16,208.66 292.63,214.43 297.52,220.06 302.83,225.56 308.56,230.94 314.73,236.20 321.35,241.33 328.42,246.34 335.94,251.23 343.93,255.99 352.22,260.53 L352.52,268.90 L336.71,268.48 328.30,263.32 320.36,257.98 312.89,252.45 305.90,246.73 299.40,240.81 293.39,234.69 287.89,228.38 282.91,221.88 278.44,215.20 274.50,208.34 271.09,201.34 268.20,194.18 265.82,186.90 263.95,179.50 262.56,171.99 261.64,164.37 261.18,156.63 261.17,148.79 261.60,140.82 262.46,132.72 263.77,124.49 265.52,116.12 267.71,107.61 270.34,98.94 273.42,90.13 276.96,81.16 280.94,72.05 Z" fill="#4c5395" fill-opacity="0.82" stroke="#ffffff" stroke-opacity="0.35" stroke-width="0.3"/>
<path d="M101.58,132.16 A140.8,140.8 0 0 1 103.27,129.23 L111.82,134.34 119.95,139.62 127.66,145.06 134.94,150.65 141.81,156.41 148.25,162.33 154.27,168.41 159.87,174.66 165.06,181.07 169.83,187.64 174.18,194.39 178.12,201.30 181.62,208.40 184.70,215.67 187.35,223.12 189.55,230.75 191.31,238.55 192.61,246.53 193.46,254.68 193.85,263.00 193.79,271.48 193.28,280.12 192.31,288.91 190.89,297.85 189.03,306.95 186.72,316.20 183.98,325.59 180.80,335.09 L175.78,337.61 L176.59,323.26 179.30,314.16 181.59,305.23 183.45,296.47 184.91,287.87 185.94,279.44 186.57,271.17 186.79,263.07 186.59,255.12 185.99,247.32 184.98,239.68 183.56,232.17 181.72,224.81 179.46,217.59 176.77,210.51 173.65,203.58 170.09,196.78 166.08,190.13 161.63,183.63 156.73,177.28 151.38,171.09 145.59,165.05 139.36,159.17 132.68,153.45 125.56,147.89 118.00,142.48 110.00,137.24 101.58,132.16 Z" fill="#f290c1" fill-opacity="0.82" stroke="#ffffff" stroke-opacity="0.35" stroke-width="0.3"/>
<path d="M316.92,94.87 A140.8,140.8 0 0 1 319.43,97.11 L313.10,104.52 307.34,111.80 302.18,118.95 297.61,125.96 293.64,132.84 290.26,139.56 287.49,146.14 285.33,152.55 283.77,158.79 282.82,164.84 282.45,170.70 282.67,176.35 283.43,181.80 284.73,187.03 286.55,192.08 288.86,196.95 291.67,201.68 294.97,206.29 298.77,210.80 303.09,215.22 307.94,219.56 313.34,223.82 319.29,228.01 325.81,232.12 332.90,236.13 340.57,240.06 348.83,243.88 357.50,247.54 L358.73,255.60 L343.13,256.60 334.44,252.44 326.31,248.12 318.75,243.62 311.76,238.95 305.35,234.09 299.53,229.05 294.31,223.82 289.70,218.40 285.72,212.81 282.38,207.05 279.69,201.14 277.66,195.12 276.27,189.01 275.51,182.82 275.36,176.57 275.81,170.26 276.82,163.90 278.38,157.47 280.49,150.96 283.14,144.35 286.33,137.65 290.05,130.83 294.33,123.89 299.15,116.82 304.52,109.63 310.44,102.31 316.92,94.87 Z" fill="#6bbd6a" fill-opacity="0.82" stroke="#ffffff" stroke-opacity="0.35" stroke-width="0.3"/>
<path d="M113.63,114.08 A140.8,140.8 0 0 1 115.64,111.58 L123.26,117.55 130.50,122.96 137.35,127.79 143.79,132.04 149.85,135.71 155.50,138.80 160.74,141.31 165.56,143.23 169.95,144.57 173.88,145.32 177.33,145.52 180.28,145.20 182.72,144.41 184.70,143.21 186.33,141.59 187.67,139.50 188.74,136.85 189.53,133.61 190.01,129.74 190.15,125.26 189.93,120.17 189.34,114.46 188.38,108.16 187.05,101.27 185.33,93.79 183.23,85.72 180.75,77.07 177.89,67.89 L180.17,62.91 L187.79,74.98 190.28,83.81 192.38,92.09 194.08,99.82 195.38,107.00 196.28,113.64 196.77,119.75 196.85,125.32 196.50,130.37 195.72,134.91 194.47,138.93 192.72,142.42 190.46,145.32 187.71,147.56 184.54,149.09 181.04,149.89 177.26,150.02 173.22,149.54 168.87,148.48 164.21,146.87 159.19,144.71 153.82,141.99 148.08,138.73 141.95,134.91 135.45,130.54 128.56,125.61 121.29,120.12 113.63,114.08 Z" fill="#f290c1" fill-opacity="0.82" stroke="#ffffff" stroke-opacity="0.35" stroke-width="0.3"/>
<path d="M299.31,320.22 A140.8,140.8 0 0 1 296.72,321.80 L291.48,313.23 286.26,304.63 281.05,296.02 275.87,287.40 270.72,278.76 265.58,270.11 260.47,261.44 255.38,252.77 250.32,244.07 245.28,235.37 240.26,226.65 235.26,217.92 230.29,209.17 225.34,200.41 220.41,191.64 215.51,182.85 210.62,174.06 205.75,165.25 200.91,156.43 196.08,147.59 191.28,138.75 186.49,129.89 181.73,121.02 176.99,112.14 172.26,103.25 167.56,94.34 162.88,85.42 158.22,76.49 L157.46,72.38 L165.05,84.28 169.74,93.19 174.44,102.09 179.17,110.98 183.92,119.85 188.70,128.70 193.49,137.55 198.31,146.37 203.16,155.19 208.02,163.99 212.92,172.78 217.83,181.55 222.76,190.31 227.72,199.06 232.70,207.80 237.70,216.52 242.73,225.23 247.77,233.92 252.83,242.61 257.91,251.28 263.02,259.94 268.14,268.59 273.28,277.23 278.45,285.85 283.63,294.47 288.84,303.07 294.06,311.65 299.31,320.22 Z" fill="#3cb292" fill-opacity="0.82" stroke="#ffffff" stroke-opacity="0.35" stroke-width="0.3"/>
<path d="M335.55,114.57 A140.8,140.8 0 0 1 337.36,116.95 L329.43,122.79 321.67,128.08 314.11,132.82 306.73,136.99 299.54,140.61 292.53,143.67 285.69,146.18 279.04,148.13 272.55,149.52 266.22,150.35 260.06,150.61 254.07,150.29 248.23,149.39 242.56,147.90 237.07,145.81 231.77,143.12 226.67,139.83 221.79,135.94 217.12,131.46 212.67,126.41 208.44,120.77 204.44,114.57 200.66,107.81 197.09,100.48 193.73,92.60 190.59,84.16 187.65,75.16 184.92,65.64 L187.09,60.88 L193.97,73.24 196.80,82.01 199.80,90.20 202.98,97.83 206.33,104.88 209.86,111.37 213.55,117.29 217.41,122.64 221.43,127.44 225.62,131.70 229.97,135.41 234.50,138.58 239.22,141.23 244.13,143.35 249.25,144.93 254.59,145.98 260.15,146.49 265.94,146.44 271.96,145.82 278.19,144.64 284.64,142.89 291.30,140.56 298.17,137.66 305.25,134.19 312.53,130.14 320.00,125.52 327.68,120.33 335.55,114.57 Z" fill="#73bce8" fill-opacity="0.82" stroke="#ffffff" stroke-opacity="0.35" stroke-width="0.3"/>
<path d="M340.26,120.99 A140.8,140.8 0 0 1 341.92,123.46 L333.57,129.05 325.16,134.57 316.72,140.00 308.23,145.34 299.70,150.60 291.12,155.77 282.51,160.87 273.86,165.88 265.16,170.81 256.43,175.66 247.65,180.43 238.83,185.12 229.97,189.72 221.06,194.24 212.10,198.67 203.10,203.00 194.05,207.24 184.94,211.38 175.79,215.41 166.58,219.35 157.32,223.18 148.02,226.92 138.66,230.55 129.26,234.09 119.80,237.53 110.31,240.87 100.76,244.11 91.20,247.25 L86.35,245.34 L98.69,237.88 108.18,234.69 117.64,231.41 127.05,228.06 136.42,224.61 145.75,221.09 155.04,217.48 164.29,213.79 173.50,210.02 182.67,206.17 191.80,202.24 200.90,198.22 209.95,194.12 218.97,189.93 227.94,185.65 236.87,181.27 245.75,176.80 254.58,172.23 263.37,167.55 272.11,162.77 280.79,157.89 289.43,152.92 298.03,147.84 306.57,142.66 315.06,137.38 323.51,132.01 331.91,126.55 340.26,120.99 Z" fill="#73bce8" fill-opacity="0.82" stroke="#ffffff" stroke-opacity="0.35" stroke-width="0.3"/>
<path d="M270.06,67.81 A140.8,140.8 0 0 1 272.72,68.75 L269.30,78.19 265.70,87.50 261.92,96.67 257.97,105.70 253.85,114.59 249.55,123.35 245.10,131.97 240.47,140.47 235.68,148.84 230.72,157.08 225.59,165.21 220.28,173.20 214.80,181.07 209.12,188.81 203.25,196.41 197.18,203.87 190.90,211.17 184.40,218.32 177.69,225.31 170.77,232.13 163.64,238.79 156.29,245.29 148.75,251.62 140.99,257.78 133.04,263.78 124.89,269.62 116.55,275.30 108.12,280.75 L101.49,277.94 L110.11,265.49 118.28,260.04 126.28,254.46 134.11,248.73 141.77,242.88 149.26,236.90 156.58,230.78 163.75,224.54 170.75,218.16 177.60,211.66 184.30,205.01 190.83,198.23 197.21,191.31 203.42,184.23 209.45,177.00 215.30,169.60 220.97,162.03 226.43,154.30 231.70,146.39 236.77,138.31 241.63,130.06 246.29,121.65 250.74,113.07 255.00,104.33 259.06,95.43 262.92,86.38 266.59,77.16 270.06,67.81 Z" fill="#4c5395" fill-opacity="0.82" stroke="#ffffff" stroke-opacity="0.35" stroke-width="0.3"/>
<path d="M175.34,69.02 A140.8,140.8 0 0 1 177.96,68.08 L181.42,77.20 185.02,85.76 188.77,93.73 192.66,101.13 196.69,107.95 200.87,114.20 205.17,119.87 209.62,124.97 214.20,129.51 218.93,133.47 223.79,136.87 228.79,139.71 233.94,141.99 239.25,143.71 244.71,144.87 250.33,145.46 256.11,145.49 262.06,144.94 268.16,143.82 274.43,142.13 280.86,139.85 287.44,137.00 294.17,133.56 301.06,129.55 308.11,124.96 315.30,119.79 322.64,114.05 330.14,107.72 L333.55,105.55 L323.43,115.01 316.06,120.80 308.83,126.02 301.75,130.66 294.82,134.74 288.03,138.24 281.39,141.18 274.88,143.54 268.52,145.33 262.29,146.55 256.20,147.20 250.25,147.27 244.43,146.75 238.75,145.66 233.21,143.97 227.81,141.69 222.57,138.83 217.48,135.37 212.55,131.34 207.78,126.71 203.17,121.51 198.72,115.74 194.43,109.38 190.30,102.45 186.33,94.95 182.51,86.88 178.84,78.23 175.34,69.02 Z" fill="#b77d55" fill-opacity="0.82" stroke="#ffffff" stroke-opacity="0.35" stroke-width="0.3"/>
<path d="M278.45,70.99 A140.8,140.8 0 0 1 280.94,72.05 L277.23,81.24 273.91,90.37 270.97,99.44 268.43,108.45 266.28,117.39 264.53,126.27 263.17,135.08 262.22,143.83 261.67,152.50 261.52,161.09 261.77,169.61 262.41,178.04 263.44,186.39 264.85,194.65 266.62,202.83 268.75,210.93 271.23,218.95 274.05,226.91 277.22,234.80 280.72,242.64 284.56,250.42 288.74,258.15 293.28,265.83 298.16,273.47 303.41,281.06 309.01,288.61 314.98,296.11 321.24,303.48 L319.68,310.30 L306.27,303.22 300.13,295.36 294.39,287.43 289.04,279.42 284.09,271.34 279.54,263.19 275.39,254.97 271.66,246.68 268.34,238.32 265.43,229.91 262.94,221.43 260.87,212.91 259.20,204.35 257.92,195.75 257.04,187.11 256.53,178.44 256.40,169.73 256.62,160.99 257.20,152.22 258.13,143.40 259.42,134.53 261.06,125.61 263.05,116.65 265.41,107.63 268.12,98.55 271.20,89.42 274.64,80.23 278.45,70.99 Z" fill="#4c5395" fill-opacity="0.82" stroke="#ffffff" stroke-opacity="0.35" stroke-width="0.3"/>
<path d="M276.00,69.99 A140.8,140.8 0 0 1 278.45,70.99 L274.85,80.29 271.50,89.61 268.40,98.95 265.56,108.29 262.99,117.64 260.68,127.00 258.63,136.37 256.86,145.75 255.36,155.13 254.13,164.51 253.17,173.90 252.47,183.28 252.04,192.66 251.86,202.04 251.92,211.41 252.22,220.78 252.74,230.15 253.49,239.51 254.45,248.87 255.62,258.24 257.01,267.61 258.62,276.99 260.44,286.37 262.49,295.77 264.76,305.18 267.27,314.60 270.00,324.04 272.93,333.38 L268.93,338.99 L259.45,327.18 256.74,317.47 254.28,307.77 252.09,298.07 250.16,288.39 248.49,278.71 247.10,269.04 245.98,259.38 245.14,249.74 244.58,240.11 244.28,230.50 244.26,220.91 244.50,211.34 245.00,201.79 245.75,192.27 246.73,182.78 247.94,173.30 249.38,163.85 251.04,154.41 252.91,144.98 255.01,135.58 257.32,126.18 259.86,116.79 262.63,107.41 265.62,98.04 268.84,88.68 272.30,79.33 276.00,69.99 Z" fill="#4c5395" fill-opacity="0.82" stroke="#ffffff" stroke-opacity="0.35" stroke-width="0.3"/>
<path d="M314.95,93.18 A140.8,140.8 0 0 1 316.92,94.87 L310.69,102.48 304.96,110.07 299.72,117.65 294.99,125.19 290.77,132.72 287.06,140.22 283.86,147.69 281.18,155.12 279.02,162.52 277.37,169.88 276.23,177.19 275.60,184.44 275.46,191.64 275.81,198.78 276.64,205.86 277.93,212.89 279.67,219.88 281.86,226.83 284.49,233.75 287.58,240.66 291.11,247.56 295.09,254.45 299.54,261.35 304.46,268.24 309.85,275.14 315.71,282.03 322.06,288.93 328.82,295.75 L327.96,302.49 L314.25,296.33 307.69,289.06 301.62,281.75 296.06,274.40 291.00,267.01 286.45,259.57 282.43,252.09 278.93,244.58 275.96,237.03 273.53,229.45 271.63,221.86 270.27,214.26 269.43,206.66 269.11,199.08 269.30,191.50 269.98,183.95 271.15,176.40 272.79,168.87 274.90,161.35 277.47,153.83 280.51,146.30 284.01,138.76 287.99,131.21 292.43,123.64 297.34,116.05 302.74,108.45 308.61,100.82 314.95,93.18 Z" fill="#6bbd6a" fill-opacity="0.82" stroke="#ffffff" stroke-opacity="0.35" stroke-width="0.3"/>
<path d="M351.10,139.58 A140.8,140.8 0 0 1 352.14,141.79 L343.42,146.00 335.38,150.02 328.02,153.84 321.36,157.47 315.38,160.91 310.09,164.15 305.50,167.19 301.62,170.02 298.44,172.65 295.98,175.05 294.26,177.18 293.26,178.97 292.94,180.32 293.09,181.18 293.58,181.87 294.64,182.63 296.45,183.42 299.03,184.12 302.36,184.68 306.42,185.07 311.19,185.29 316.66,185.32 322.84,185.17 329.71,184.83 337.27,184.30 345.52,183.58 354.45,182.67 364.05,181.56 L368.37,183.77 L355.03,188.02 346.01,188.91 337.67,189.60 330.00,190.09 323.01,190.37 316.68,190.45 311.02,190.32 306.01,189.98 301.66,189.43 297.94,188.65 294.83,187.61 292.32,186.27 290.42,184.51 289.32,182.28 289.24,179.84 290.05,177.48 291.56,175.18 293.69,172.82 296.45,170.34 299.86,167.69 303.92,164.86 308.65,161.84 314.04,158.63 320.10,155.21 326.84,151.60 334.25,147.79 342.34,143.79 351.10,139.58 Z" fill="#73bce8" fill-opacity="0.82" stroke="#ffffff" stroke-opacity="0.35" stroke-width="0.3"/>
<path d="M313.14,91.68 A140.8,140.8 0 0 1 314.95,93.18 L308.78,100.95 302.98,108.78 297.56,116.67 292.51,124.62 287.84,132.62 283.55,140.68 279.64,148.80 276.12,156.97 272.99,165.19 270.25,173.46 267.89,181.78 265.92,190.14 264.33,198.54 263.11,206.97 262.25,215.44 261.74,223.94 261.58,232.48 261.76,241.06 262.27,249.68 263.11,258.35 264.29,267.07 265.80,275.84 267.66,284.67 269.85,293.56 272.38,302.52 275.26,311.53 278.50,320.61 282.05,329.68 L279.03,335.32 L269.32,324.01 266.06,314.59 263.17,305.23 260.67,295.92 258.55,286.66 256.82,277.45 255.48,268.30 254.53,259.20 253.98,250.17 253.82,241.20 254.06,232.30 254.68,223.47 255.69,214.72 257.08,206.05 258.83,197.45 260.94,188.94 263.40,180.49 266.20,172.12 269.35,163.81 272.83,155.57 276.66,147.39 280.82,139.26 285.33,131.19 290.19,123.18 295.40,115.22 300.96,107.32 306.87,99.47 313.14,91.68 Z" fill="#6bbd6a" fill-opacity="0.82" stroke="#ffffff" stroke-opacity="0.35" stroke-width="0.3"/>
<path d="M343.82,126.41 A140.8,140.8 0 0 1 345.03,128.39 L336.68,133.72 328.70,139.21 321.07,144.88 313.82,150.71 306.93,156.71 300.41,162.88 294.26,169.22 288.48,175.73 283.07,182.40 278.04,189.23 273.37,196.23 269.08,203.40 265.15,210.72 261.58,218.20 258.38,225.85 255.54,233.64 253.05,241.60 250.92,249.71 249.13,257.98 247.70,266.42 246.61,275.01 245.87,283.78 245.49,292.70 245.45,301.80 245.77,311.07 246.44,320.50 247.47,330.11 248.85,339.86 L246.92,344.24 L242.36,330.74 241.35,320.95 240.70,311.32 240.43,301.86 240.52,292.57 240.99,283.44 241.83,274.49 243.05,265.70 244.64,257.08 246.60,248.64 248.94,240.37 251.65,232.28 254.73,224.37 258.18,216.64 261.99,209.08 266.16,201.70 270.68,194.49 275.56,187.46 280.79,180.60 286.37,173.91 292.31,167.38 298.60,161.03 305.24,154.84 312.24,148.82 319.60,142.96 327.31,137.27 335.39,131.75 343.82,126.41 Z" fill="#73bce8" fill-opacity="0.82" stroke="#ffffff" stroke-opacity="0.35" stroke-width="0.3"/>
<path d="M338.92,119.09 A140.8,140.8 0 0 1 340.26,120.99 L331.99,126.69 323.65,132.18 315.24,137.46 306.77,142.54 298.24,147.41 289.64,152.07 280.98,156.52 272.25,160.78 263.46,164.82 254.60,168.67 245.68,172.31 236.69,175.75 227.63,178.98 218.50,182.00 209.31,184.81 200.04,187.40 190.70,189.78 181.28,191.93 171.80,193.87 162.25,195.58 152.63,197.08 142.93,198.35 133.18,199.40 123.35,200.23 113.45,200.84 103.49,201.23 93.47,201.41 83.40,201.37 L79.42,198.72 L93.44,196.27 103.36,196.12 113.21,195.77 123.00,195.21 132.72,194.45 142.37,193.48 151.97,192.31 161.50,190.94 170.97,189.36 180.38,187.58 189.72,185.60 199.01,183.41 208.24,181.02 217.40,178.42 226.51,175.60 235.55,172.57 244.53,169.32 253.44,165.85 262.29,162.16 271.07,158.25 279.79,154.12 288.44,149.77 297.02,145.19 305.54,140.41 313.98,135.40 322.36,130.18 330.68,124.74 338.92,119.09 Z" fill="#73bce8" fill-opacity="0.82" stroke="#ffffff" stroke-opacity="0.35" stroke-width="0.3"/>
<path d="M284.10,73.48 A140.8,140.8 0 0 1 286.17,74.47 L282.13,83.38 278.62,92.03 275.62,100.40 273.14,108.49 271.19,116.31 269.77,123.84 268.87,131.09 268.50,138.05 268.65,144.71 269.33,151.06 270.51,157.11 272.20,162.83 274.38,168.25 277.03,173.36 280.15,178.17 283.73,182.70 287.76,186.96 292.26,190.98 297.22,194.76 302.67,198.30 308.60,201.62 315.03,204.71 321.97,207.56 329.43,210.19 337.40,212.57 345.88,214.72 354.89,216.61 364.34,218.24 L367.62,223.62 L353.07,225.97 343.71,223.92 334.85,221.58 326.50,218.95 318.65,216.02 311.30,212.79 304.47,209.25 298.17,205.41 292.39,201.25 287.15,196.80 282.47,192.04 278.34,187.00 274.78,181.69 271.77,176.13 269.33,170.32 267.42,164.29 266.05,158.03 265.20,151.56 264.86,144.85 265.02,137.92 265.67,130.75 266.82,123.34 268.46,115.68 270.59,107.76 273.22,99.58 276.35,91.14 279.97,82.44 284.10,73.48 Z" fill="#4c5395" fill-opacity="0.82" stroke="#ffffff" stroke-opacity="0.35" stroke-width="0.3"/>
<path d="M103.27,129.23 A140.8,140.8 0 0 1 104.42,127.31 L112.92,132.60 121.11,138.06 128.99,143.70 136.58,149.51 143.86,155.49 150.84,161.64 157.53,167.97 163.91,174.47 170.00,181.15 175.79,187.99 181.28,195.02 186.47,202.22 191.37,209.59 195.96,217.15 200.24,224.90 204.22,232.82 207.88,240.93 211.23,249.22 214.27,257.70 216.98,266.36 219.38,275.19 221.46,284.21 223.23,293.41 224.67,302.78 225.81,312.32 226.62,322.04 227.13,331.93 227.32,341.97 L224.74,346.00 L221.99,332.10 221.52,322.37 220.76,312.82 219.70,303.44 218.33,294.23 216.68,285.20 214.72,276.34 212.47,267.65 209.93,259.12 207.09,250.76 203.95,242.57 200.51,234.54 196.77,226.68 192.73,218.98 188.38,211.45 183.72,204.08 178.74,196.88 173.45,189.86 167.85,183.01 161.92,176.33 155.69,169.83 149.13,163.50 142.27,157.35 135.09,151.37 127.60,145.57 119.80,139.95 111.68,134.50 103.27,129.23 Z" fill="#f290c1" fill-opacity="0.82" stroke="#ffffff" stroke-opacity="0.35" stroke-width="0.3"/>
<path d="M258.90,337.51 A140.8,140.8 0 0 1 256.81,338.02 L254.60,328.27 252.73,318.63 251.23,309.10 250.08,299.68 249.29,290.36 248.86,281.16 248.78,272.06 249.07,263.08 249.71,254.20 250.71,245.44 252.07,236.79 253.79,228.25 255.86,219.82 258.29,211.51 261.07,203.30 264.21,195.21 267.70,187.24 271.54,179.37 275.74,171.62 280.28,163.98 285.18,156.44 290.43,149.02 296.03,141.71 301.98,134.51 308.29,127.42 314.95,120.44 321.96,113.56 329.32,106.80 L332.72,104.60 L322.81,114.46 315.84,121.31 309.22,128.27 302.95,135.34 297.04,142.52 291.49,149.80 286.30,157.20 281.46,164.70 276.98,172.32 272.85,180.04 269.08,187.87 265.67,195.81 262.61,203.86 259.91,212.01 257.56,220.27 255.56,228.64 253.91,237.11 252.61,245.69 251.67,254.38 251.07,263.18 250.82,272.08 250.93,281.10 251.38,290.22 252.18,299.46 253.33,308.81 254.84,318.26 256.70,327.83 258.90,337.51 Z" fill="#2ac6cf" fill-opacity="0.82" stroke="#ffffff" stroke-opacity="0.35" stroke-width="0.3"/>
<path d="M319.43,97.11 A140.8,140.8 0 0 1 320.98,98.55 L314.49,105.80 308.60,112.81 303.33,119.60 298.67,126.15 294.63,132.47 291.21,138.55 288.42,144.38 286.26,149.96 284.72,155.27 283.80,160.30 283.49,165.04 283.77,169.47 284.62,173.60 286.02,177.43 287.94,180.99 290.38,184.32 293.36,187.43 296.89,190.36 300.99,193.12 305.68,195.70 310.97,198.10 316.87,200.32 323.39,202.35 330.52,204.18 338.27,205.81 346.63,207.23 355.62,208.44 365.15,209.42 L368.80,214.20 L354.55,217.18 345.29,215.86 336.61,214.29 328.52,212.47 321.01,210.40 314.10,208.06 307.77,205.45 302.04,202.56 296.92,199.39 292.41,195.93 288.53,192.19 285.31,188.17 282.76,183.90 280.89,179.40 279.70,174.71 279.18,169.86 279.29,164.86 280.01,159.69 281.33,154.36 283.23,148.85 285.72,143.15 288.78,137.24 292.42,131.11 296.64,124.76 301.46,118.19 306.86,111.39 312.85,104.36 319.43,97.11 Z" fill="#6bbd6a" fill-opacity="0.82" stroke="#ffffff" stroke-opacity="0.35" stroke-width="0.3"/>
<path d="M272.72,68.75 A140.8,140.8 0 0 1 274.63,69.46 L271.16,78.89 267.74,88.34 264.37,97.81 261.05,107.29 257.80,116.79 254.59,126.31 251.45,135.84 248.37,145.40 245.36,154.97 242.41,164.57 239.51,174.18 236.68,183.81 233.91,193.45 231.18,203.11 228.50,212.78 225.86,222.46 223.25,232.14 220.67,241.84 218.11,251.54 215.58,261.25 213.07,270.97 210.58,280.69 208.12,290.42 205.70,300.17 203.30,309.92 200.93,319.68 198.60,329.45 196.33,339.18 L191.25,342.16 L190.38,327.48 192.78,317.69 195.24,307.91 197.75,298.15 200.32,288.40 202.95,278.68 205.63,268.97 208.38,259.28 211.19,249.62 214.06,239.97 217.00,230.34 219.99,220.74 223.04,211.15 226.14,201.58 229.28,192.02 232.45,182.48 235.66,172.95 238.90,163.43 242.16,153.92 245.44,144.42 248.75,134.93 252.08,125.45 255.44,115.97 258.83,106.51 262.25,97.05 265.71,87.60 269.19,78.17 272.72,68.75 Z" fill="#4c5395" fill-opacity="0.82" stroke="#ffffff" stroke-opacity="0.35" stroke-width="0.3"/>
<path d="M100.60,133.93 A140.8,140.8 0 0 1 101.58,132.16 L110.07,136.90 117.89,141.42 125.05,145.72 131.54,149.80 137.36,153.66 142.53,157.31 147.04,160.74 150.89,163.95 154.10,166.97 156.66,169.80 158.59,172.47 159.87,175.04 160.45,177.57 160.20,180.06 159.05,182.32 157.14,184.18 154.58,185.68 151.41,186.86 147.62,187.77 143.19,188.42 138.13,188.84 132.41,189.03 126.04,188.99 119.01,188.72 111.31,188.23 102.96,187.51 93.93,186.57 84.26,185.41 L80.57,182.58 L94.46,181.95 103.40,182.91 111.67,183.65 119.26,184.18 126.16,184.50 132.38,184.61 137.92,184.51 142.76,184.20 146.90,183.70 150.34,183.00 153.05,182.14 155.03,181.15 156.31,180.10 157.02,179.01 157.27,177.70 157.02,176.00 156.13,173.90 154.54,171.47 152.24,168.75 149.24,165.78 145.55,162.57 141.17,159.14 136.11,155.49 130.36,151.61 123.93,147.52 116.83,143.21 109.05,138.68 100.60,133.93 Z" fill="#f290c1" fill-opacity="0.82" stroke="#ffffff" stroke-opacity="0.35" stroke-width="0.3"/>
<path d="M310.61,89.68 A140.8,140.8 0 0 1 312.13,90.87 L306.03,98.81 300.09,106.84 294.32,114.94 288.73,123.11 283.30,131.36 278.04,139.69 272.97,148.10 268.06,156.58 263.34,165.14 258.80,173.78 254.43,182.49 250.25,191.28 246.23,200.14 242.38,209.06 238.70,218.05 235.17,227.10 231.80,236.21 228.57,245.39 225.48,254.62 222.54,263.92 219.74,273.27 217.08,282.69 214.57,292.17 212.20,301.72 209.98,311.34 207.91,321.03 205.99,330.78 204.24,340.55 L199.59,343.86 L198.16,329.28 200.17,319.41 202.35,309.61 204.70,299.88 207.22,290.23 209.92,280.66 212.79,271.17 215.84,261.76 219.07,252.43 222.48,243.19 226.06,234.02 229.82,224.95 233.75,215.95 237.84,207.04 242.09,198.20 246.49,189.44 251.04,180.76 255.73,172.14 260.57,163.59 265.54,155.11 270.66,146.70 275.92,138.35 281.33,130.07 286.89,121.86 292.59,113.71 298.45,105.63 304.45,97.62 310.61,89.68 Z" fill="#6bbd6a" fill-opacity="0.82" stroke="#ffffff" stroke-opacity="0.35" stroke-width="0.3"/>
<path d="M144.46,85.09 A140.8,140.8 0 0 1 145.96,84.08 L151.43,92.07 156.54,99.46 161.29,106.22 165.67,112.36 169.69,117.88 173.35,122.78 176.65,127.06 179.57,130.71 182.14,133.74 184.32,136.14 186.13,137.90 187.52,139.01 188.36,139.45 188.33,139.50 188.25,139.49 188.25,138.53 187.93,136.77 187.25,134.34 186.20,131.25 184.79,127.54 183.01,123.19 180.87,118.22 178.36,112.63 175.49,106.42 172.26,99.58 168.67,92.13 164.71,84.06 160.39,75.36 L159.59,71.29 L166.68,83.08 170.64,91.17 174.24,98.64 177.47,105.49 180.34,111.73 182.85,117.35 184.99,122.36 186.77,126.75 188.20,130.54 189.26,133.71 189.96,136.30 190.30,138.34 190.23,139.93 189.36,141.22 187.81,141.35 186.42,140.62 184.83,139.33 182.94,137.46 180.71,134.98 178.13,131.90 175.19,128.20 171.88,123.89 168.22,118.97 164.19,113.43 159.80,107.27 155.05,100.49 149.94,93.10 144.46,85.09 Z" fill="#eac63b" fill-opacity="0.82" stroke="#ffffff" stroke-opacity="0.35" stroke-width="0.3"/>
<path d="M264.02,65.89 A140.8,140.8 0 0 1 265.71,66.40 L262.86,75.70 260.06,84.31 257.31,92.23 254.61,99.45 251.97,106.00 249.37,111.85 246.83,117.03 244.33,121.54 241.86,125.39 239.40,128.60 236.92,131.17 234.35,133.10 231.61,134.34 228.69,134.78 225.72,134.30 222.88,132.94 220.23,130.82 217.75,128.00 215.41,124.50 213.19,120.33 211.05,115.49 209.00,109.97 207.02,103.76 205.11,96.87 203.27,89.30 201.48,81.03 199.75,72.08 198.08,62.48 L201.07,57.89 L206.97,70.78 208.61,79.61 210.29,87.73 212.00,95.14 213.74,101.84 215.50,107.82 217.28,113.10 219.07,117.65 220.86,121.47 222.62,124.58 224.34,126.95 225.97,128.63 227.50,129.68 229.00,130.21 230.64,130.25 232.55,129.71 234.71,128.45 237.05,126.43 239.52,123.65 242.06,120.12 244.66,115.85 247.30,110.86 249.99,105.14 252.72,98.70 255.48,91.56 258.29,83.71 261.13,75.15 264.02,65.89 Z" fill="#4c5395" fill-opacity="0.82" stroke="#ffffff" stroke-opacity="0.35" stroke-width="0.3"/>
<path d="M268.39,67.25 A140.8,140.8 0 0 1 270.06,67.81 L266.75,77.24 263.21,86.42 259.44,95.33 255.43,103.99 251.20,112.39 246.73,120.54 242.04,128.44 237.12,136.09 231.96,143.48 226.58,150.64 220.96,157.54 215.11,164.20 209.01,170.61 202.67,176.77 196.07,182.67 189.22,188.31 182.12,193.68 174.75,198.77 167.13,203.59 159.26,208.13 151.13,212.39 142.75,216.37 134.12,220.06 125.25,223.48 116.13,226.61 106.78,229.47 97.19,232.05 87.40,234.35 L82.67,231.62 L95.42,224.98 104.81,222.51 113.95,219.79 122.87,216.82 131.55,213.61 140.00,210.14 148.23,206.42 156.23,202.46 164.01,198.25 171.57,193.79 178.91,189.07 186.04,184.10 192.95,178.87 199.64,173.38 206.10,167.61 212.34,161.57 218.34,155.24 224.11,148.64 229.64,141.75 234.92,134.58 239.96,127.12 244.76,119.39 249.31,111.38 253.61,103.10 257.67,94.54 261.49,85.71 265.06,76.61 268.39,67.25 Z" fill="#4c5395" fill-opacity="0.82" stroke="#ffffff" stroke-opacity="0.35" stroke-width="0.3"/>
<path d="M305.80,86.11 A140.8,140.8 0 0 1 307.14,87.07 L301.35,94.95 295.69,102.20 290.17,108.81 284.78,114.79 279.52,120.14 274.40,124.86 269.40,128.96 264.51,132.43 259.74,135.29 255.06,137.53 250.46,139.14 245.93,140.11 241.46,140.41 237.05,140.03 232.74,138.94 228.55,137.13 224.51,134.62 220.64,131.42 216.96,127.55 213.45,123.03 210.12,117.86 206.96,112.06 203.97,105.61 201.14,98.53 198.47,90.82 195.94,82.48 193.56,73.50 191.34,63.93 L193.86,59.25 L200.21,71.87 202.48,80.65 204.87,88.78 207.37,96.26 209.98,103.08 212.71,109.25 215.53,114.77 218.44,119.64 221.45,123.87 224.55,127.47 227.73,130.45 231.00,132.83 234.39,134.63 237.93,135.85 241.64,136.49 245.55,136.54 249.67,135.97 253.99,134.74 258.50,132.86 263.18,130.32 268.02,127.10 273.00,123.22 278.13,118.68 283.40,113.47 288.80,107.61 294.33,101.10 300.00,93.93 305.80,86.11 Z" fill="#6bbd6a" fill-opacity="0.82" stroke="#ffffff" stroke-opacity="0.35" stroke-width="0.3"/>
<path d="M309.31,88.68 A140.8,140.8 0 0 1 310.61,89.68 L304.45,97.60 298.15,105.33 291.73,112.88 285.18,120.24 278.52,127.42 271.72,134.41 264.81,141.23 257.77,147.87 250.62,154.33 243.34,160.61 235.93,166.72 228.40,172.66 220.73,178.41 212.94,183.98 205.00,189.36 196.93,194.54 188.71,199.53 180.36,204.32 171.86,208.91 163.22,213.29 154.43,217.46 145.51,221.43 136.45,225.19 127.26,228.75 117.93,232.11 108.46,235.26 98.87,238.22 89.18,240.96 L84.39,238.71 L96.95,231.69 106.42,228.83 115.76,225.79 124.98,222.56 134.07,219.16 143.05,215.57 151.90,211.81 160.63,207.87 169.24,203.75 177.74,199.46 186.12,194.98 194.39,190.33 202.54,185.48 210.57,180.45 218.48,175.22 226.27,169.79 233.93,164.16 241.45,158.32 248.85,152.27 256.11,146.02 263.23,139.56 270.22,132.89 277.07,126.03 283.79,118.95 290.37,111.68 296.82,104.21 303.13,96.55 309.31,88.68 Z" fill="#6bbd6a" fill-opacity="0.82" stroke="#ffffff" stroke-opacity="0.35" stroke-width="0.3"/>
<path d="M274.63,69.46 A140.8,140.8 0 0 1 276.00,69.99 L272.46,79.38 269.09,88.79 265.88,98.22 262.84,107.68 259.96,117.17 257.25,126.67 254.72,136.21 252.35,145.77 250.15,155.35 248.13,164.96 246.28,174.59 244.60,184.24 243.09,193.91 241.74,203.60 240.55,213.31 239.51,223.04 238.62,232.79 237.87,242.55 237.27,252.34 236.81,262.14 236.50,271.96 236.32,281.81 236.29,291.67 236.41,301.56 236.68,311.47 237.09,321.40 237.65,331.36 238.37,341.31 L235.61,345.57 L231.55,331.74 231.03,321.68 230.68,311.65 230.49,301.65 230.47,291.67 230.62,281.71 230.94,271.78 231.43,261.88 232.09,252.00 232.93,242.15 233.94,232.33 235.12,222.54 236.46,212.78 237.97,203.05 239.63,193.35 241.45,183.67 243.42,174.02 245.53,164.40 247.78,154.80 250.18,145.23 252.72,135.68 255.41,126.15 258.24,116.65 261.22,107.17 264.34,97.71 267.62,88.27 271.05,78.85 274.63,69.46 Z" fill="#4c5395" fill-opacity="0.82" stroke="#ffffff" stroke-opacity="0.35" stroke-width="0.3"/>
<path d="M286.17,74.47 A140.8,140.8 0 0 1 287.38,75.07 L283.21,83.91 279.57,92.40 276.45,100.56 273.85,108.37 271.78,115.85 270.24,122.97 269.23,129.75 268.75,136.17 268.80,142.23 269.36,147.93 270.44,153.26 272.03,158.22 274.11,162.80 276.68,167.02 279.73,170.90 283.25,174.43 287.26,177.64 291.76,180.53 296.75,183.12 302.26,185.40 308.28,187.38 314.83,189.04 321.89,190.39 329.49,191.43 337.62,192.14 346.27,192.53 355.45,192.60 365.13,192.33 L369.28,194.99 L355.50,198.22 346.11,198.11 337.23,197.65 328.86,196.84 321.00,195.67 313.65,194.15 306.80,192.27 300.48,190.03 294.67,187.42 289.40,184.44 284.66,181.09 280.46,177.39 276.82,173.33 273.75,168.94 271.22,164.23 269.26,159.20 267.83,153.87 266.93,148.25 266.56,142.31 266.70,136.07 267.35,129.51 268.51,122.64 270.18,115.44 272.36,107.91 275.04,100.05 278.24,91.86 281.95,83.33 286.17,74.47 Z" fill="#4c5395" fill-opacity="0.82" stroke="#ffffff" stroke-opacity="0.35" stroke-width="0.3"/>
<path d="M338.14,118.01 A140.8,140.8 0 0 1 338.92,119.09 L330.77,124.77 322.63,130.01 314.52,134.79 306.43,139.13 298.36,143.02 290.31,146.47 282.28,149.47 274.28,152.02 266.29,154.13 258.32,155.79 250.37,157.00 242.43,157.76 234.52,158.08 226.62,157.94 218.73,157.35 210.87,156.30 203.02,154.80 195.20,152.83 187.40,150.41 179.62,147.52 171.87,144.18 164.14,140.38 156.45,136.13 148.78,131.42 141.13,126.25 133.52,120.63 125.93,114.56 118.38,108.04 L116.38,104.27 L127.82,112.30 135.30,118.32 142.81,123.89 150.34,129.01 157.88,133.68 165.45,137.91 173.03,141.69 180.63,145.03 188.25,147.93 195.90,150.39 203.57,152.41 211.26,153.98 218.98,155.11 226.73,155.80 234.51,156.04 242.32,155.84 250.15,155.18 258.02,154.07 265.91,152.51 273.84,150.49 281.79,148.02 289.76,145.09 297.76,141.71 305.79,137.88 313.84,133.59 321.92,128.85 330.02,123.66 338.14,118.01 Z" fill="#73bce8" fill-opacity="0.82" stroke="#ffffff" stroke-opacity="0.35" stroke-width="0.3"/>
<path d="M337.36,116.95 A140.8,140.8 0 0 1 338.14,118.01 L330.09,123.73 322.14,128.93 314.30,133.61 306.57,137.77 298.94,141.40 291.42,144.51 284.01,147.10 276.70,149.17 269.50,150.71 262.40,151.74 255.40,152.24 248.50,152.21 241.70,151.65 235.01,150.57 228.42,148.95 221.93,146.79 215.55,144.10 209.29,140.87 203.14,137.10 197.11,132.80 191.19,127.97 185.39,122.61 179.72,116.71 174.16,110.29 168.72,103.34 163.39,95.87 158.18,87.87 153.10,79.36 L152.38,75.15 L160.67,86.33 165.79,94.24 171.03,101.62 176.37,108.48 181.81,114.81 187.35,120.62 192.99,125.91 198.74,130.69 204.59,134.94 210.54,138.68 216.60,141.90 222.77,144.61 229.05,146.80 235.45,148.48 241.96,149.65 248.60,150.29 255.35,150.41 262.22,150.01 269.22,149.08 276.33,147.63 283.56,145.64 290.90,143.13 298.36,140.09 305.93,136.51 313.62,132.41 321.42,127.79 329.34,122.63 337.36,116.95 Z" fill="#73bce8" fill-opacity="0.82" stroke="#ffffff" stroke-opacity="0.35" stroke-width="0.3"/>
<path d="M312.13,90.87 A140.8,140.8 0 0 1 313.14,91.68 L306.99,99.55 301.12,107.51 295.52,115.54 290.19,123.65 285.14,131.84 280.37,140.11 275.87,148.45 271.66,156.88 267.72,165.39 264.07,173.97 260.69,182.63 257.60,191.36 254.78,200.16 252.24,209.03 249.96,217.98 247.94,226.99 246.19,236.07 244.69,245.21 243.45,254.43 242.46,263.72 241.73,273.08 241.24,282.51 241.02,292.01 241.05,301.59 241.33,311.25 241.88,320.99 242.68,330.80 243.74,340.67 L241.53,344.98 L237.33,331.30 236.55,321.34 236.06,311.46 235.84,301.66 235.89,291.93 236.23,282.29 236.84,272.72 237.74,263.24 238.92,253.84 240.38,244.52 242.13,235.29 244.15,226.14 246.44,217.08 249.01,208.11 251.84,199.22 254.94,190.42 258.30,181.70 261.91,173.06 265.77,164.50 269.89,156.01 274.27,147.61 278.90,139.27 283.79,131.02 288.93,122.84 294.34,114.73 300.01,106.70 305.93,98.75 312.13,90.87 Z" fill="#6bbd6a" fill-opacity="0.82" stroke="#ffffff" stroke-opacity="0.35" stroke-width="0.3"/>
<path d="M308.27,87.91 A140.8,140.8 0 0 1 309.31,88.68 L303.21,96.61 296.97,104.23 290.59,111.55 284.07,118.56 277.40,125.28 270.60,131.71 263.65,137.83 256.57,143.66 249.34,149.20 241.97,154.44 234.45,159.39 226.79,164.05 218.97,168.41 211.01,172.47 202.89,176.22 194.61,179.67 186.18,182.80 177.59,185.62 168.85,188.12 159.95,190.29 150.90,192.15 141.71,193.68 132.36,194.89 122.87,195.79 113.23,196.36 103.45,196.62 93.52,196.57 83.48,196.20 L79.61,193.29 L93.65,191.19 103.41,191.29 113.02,191.09 122.49,190.59 131.81,189.80 141.00,188.71 150.05,187.33 158.95,185.65 167.72,183.69 176.36,181.43 184.87,178.88 193.24,176.03 201.48,172.88 209.59,169.43 217.56,165.67 225.40,161.59 233.11,157.20 240.67,152.49 248.09,147.46 255.36,142.11 262.49,136.44 269.47,130.45 276.30,124.14 282.99,117.52 289.53,110.59 295.93,103.34 302.17,95.78 308.27,87.91 Z" fill="#6bbd6a" fill-opacity="0.82" stroke="#ffffff" stroke-opacity="0.35" stroke-width="0.3"/>
<path d="M320.98,98.55 A140.8,140.8 0 0 1 321.92,99.44 L315.32,106.58 309.33,113.43 303.94,120.00 299.18,126.27 295.03,132.25 291.50,137.94 288.59,143.32 286.30,148.41 284.63,153.18 283.59,157.62 283.15,161.73 283.31,165.48 284.04,168.88 285.31,171.93 287.12,174.68 289.47,177.15 292.38,179.37 295.87,181.36 299.97,183.10 304.69,184.59 310.02,185.83 315.98,186.81 322.56,187.52 329.75,187.96 337.57,188.13 346.01,188.01 355.06,187.61 364.70,186.94 L368.93,189.31 L355.35,192.98 346.15,193.34 337.53,193.41 329.52,193.17 322.09,192.63 315.26,191.78 309.02,190.63 303.37,189.15 298.31,187.35 293.85,185.23 290.00,182.76 286.77,179.95 284.19,176.82 282.29,173.38 281.06,169.67 280.50,165.73 280.58,161.56 281.29,157.17 282.59,152.53 284.48,147.65 286.97,142.50 290.04,137.07 293.71,131.37 297.97,125.38 302.83,119.11 308.28,112.54 314.33,105.69 320.98,98.55 Z" fill="#6bbd6a" fill-opacity="0.82" stroke="#ffffff" stroke-opacity="0.35" stroke-width="0.3"/>
<path d="M267.16,66.85 A140.8,140.8 0 0 1 268.39,67.25 L265.18,76.66 261.72,85.69 258.02,94.36 254.07,102.66 249.88,110.59 245.45,118.16 240.77,125.36 235.85,132.21 230.68,138.69 225.26,144.81 219.60,150.57 213.68,155.97 207.50,161.01 201.06,165.69 194.36,169.99 187.40,173.92 180.17,177.47 172.67,180.63 164.91,183.40 156.90,185.78 148.62,187.77 140.10,189.37 131.32,190.57 122.29,191.39 113.02,191.82 103.51,191.86 93.75,191.52 83.77,190.80 L80.01,187.73 L94.05,186.15 103.60,186.53 112.91,186.54 121.96,186.19 130.77,185.48 139.33,184.41 147.64,182.98 155.71,181.19 163.55,179.04 171.14,176.54 178.51,173.68 185.64,170.45 192.55,166.85 199.22,162.89 205.66,158.54 211.87,153.81 217.84,148.69 223.57,143.19 229.06,137.29 234.29,131.00 239.28,124.33 244.02,117.27 248.50,109.82 252.74,101.99 256.72,93.77 260.45,85.18 263.93,76.20 267.16,66.85 Z" fill="#4c5395" fill-opacity="0.82" stroke="#ffffff" stroke-opacity="0.35" stroke-width="0.3"/>
<path d="M115.64,111.58 A140.8,140.8 0 0 1 116.45,110.60 L123.95,116.75 130.98,122.36 137.54,127.44 143.62,131.99 149.22,136.00 154.35,139.48 159.00,142.42 163.18,144.83 166.86,146.69 170.05,148.01 172.73,148.79 174.84,149.04 176.35,148.83 177.27,148.27 177.83,147.36 178.09,145.90 177.97,143.81 177.40,141.11 176.37,137.85 174.87,134.02 172.89,129.64 170.45,124.72 167.53,119.26 164.14,113.26 160.27,106.72 155.94,99.65 151.12,92.04 145.85,83.91 L144.87,79.75 L153.59,90.47 158.40,98.11 162.74,105.24 166.61,111.83 170.00,117.90 172.92,123.45 175.36,128.48 177.33,133.00 178.82,137.00 179.84,140.50 180.37,143.52 180.40,146.08 179.87,148.21 178.68,149.83 176.92,150.74 174.79,150.93 172.32,150.53 169.46,149.60 166.17,148.15 162.43,146.18 158.23,143.69 153.56,140.68 148.42,137.14 142.81,133.08 136.73,128.50 130.17,123.39 123.14,117.75 115.64,111.58 Z" fill="#f290c1" fill-opacity="0.82" stroke="#ffffff" stroke-opacity="0.35" stroke-width="0.3"/>
<path d="M301.36,318.91 A140.8,140.8 0 0 1 300.34,319.57 L295.10,311.14 290.33,302.78 286.04,294.48 282.21,286.25 278.85,278.09 275.97,270.00 273.56,261.98 271.62,254.02 270.15,246.13 269.15,238.31 268.62,230.56 268.57,222.87 268.99,215.26 269.88,207.72 271.25,200.25 273.08,192.84 275.39,185.52 278.16,178.26 281.41,171.07 285.13,163.95 289.31,156.91 293.97,149.94 299.09,143.03 304.69,136.20 310.75,129.44 317.28,122.75 324.28,116.13 331.75,109.58 L335.12,107.38 L324.94,116.86 317.97,123.46 311.47,130.12 305.44,136.85 299.88,143.65 294.79,150.51 290.17,157.45 286.02,164.45 282.34,171.52 279.13,178.66 276.39,185.86 274.11,193.13 272.31,200.47 270.97,207.88 270.11,215.36 269.70,222.90 269.77,230.51 270.30,238.19 271.30,245.95 272.77,253.77 274.70,261.66 277.11,269.63 279.98,277.66 283.32,285.77 287.12,293.95 291.40,302.20 296.14,310.52 301.36,318.91 Z" fill="#3cb292" fill-opacity="0.82" stroke="#ffffff" stroke-opacity="0.35" stroke-width="0.3"/>
<path d="M300.34,319.57 A140.8,140.8 0 0 1 299.31,320.22 L294.10,311.71 289.27,303.19 284.82,294.67 280.75,286.14 277.06,277.60 273.75,269.06 270.82,260.52 268.26,251.97 266.09,243.41 264.30,234.85 262.89,226.28 261.86,217.71 261.20,209.14 260.93,200.56 261.04,191.97 261.53,183.39 262.39,174.80 263.63,166.20 265.26,157.61 267.26,149.00 269.64,140.40 272.40,131.79 275.53,123.18 279.05,114.56 282.94,105.94 287.21,97.32 291.86,88.69 296.88,80.06 L299.37,76.89 L292.72,89.17 288.09,97.77 283.83,106.36 279.96,114.95 276.46,123.54 273.35,132.12 270.61,140.69 268.25,149.26 266.27,157.82 264.66,166.37 263.44,174.93 262.59,183.47 262.12,192.01 262.03,200.55 262.32,209.08 262.98,217.60 264.02,226.12 265.44,234.63 267.23,243.15 269.40,251.65 271.95,260.15 274.87,268.65 278.17,277.15 281.85,285.64 285.90,294.13 290.34,302.61 295.15,311.09 300.34,319.57 Z" fill="#3cb292" fill-opacity="0.82" stroke="#ffffff" stroke-opacity="0.35" stroke-width="0.3"/>
<path d="M141.99,86.84 A140.8,140.8 0 0 1 142.81,86.25 L148.72,94.19 154.75,101.71 160.91,108.80 167.19,115.47 173.59,121.70 180.11,127.51 186.76,132.89 193.53,137.84 200.42,142.36 207.43,146.46 214.57,150.13 221.83,153.37 229.21,156.19 236.71,158.57 244.34,160.54 252.09,162.07 259.96,163.19 267.96,163.87 276.08,164.14 284.32,163.97 292.69,163.38 301.19,162.37 309.81,160.93 318.55,159.06 327.42,156.77 336.42,154.05 345.54,150.91 354.79,147.34 L358.73,146.40 L345.96,152.06 336.80,155.22 327.75,157.95 318.83,160.25 310.04,162.12 301.36,163.57 292.81,164.58 284.38,165.16 276.07,165.32 267.89,165.05 259.83,164.34 251.89,163.21 244.09,161.64 236.40,159.65 228.84,157.23 221.41,154.38 214.10,151.10 206.92,147.39 199.86,143.26 192.93,138.70 186.12,133.71 179.44,128.29 172.89,122.45 166.46,116.18 160.15,109.48 153.97,102.36 147.92,94.81 141.99,86.84 Z" fill="#eac63b" fill-opacity="0.82" stroke="#ffffff" stroke-opacity="0.35" stroke-width="0.3"/>
<path d="M142.81,86.25 A140.8,140.8 0 0 1 143.64,85.67 L149.45,93.60 155.33,101.00 161.26,107.86 167.25,114.19 173.30,119.98 179.41,125.23 185.57,129.95 191.79,134.14 198.07,137.78 204.40,140.90 210.79,143.48 217.23,145.52 223.74,147.04 230.29,148.02 236.91,148.47 243.59,148.39 250.32,147.78 257.12,146.63 263.97,144.96 270.89,142.75 277.88,140.01 284.92,136.74 292.03,132.94 299.20,128.60 306.43,123.72 313.72,118.31 321.08,112.37 328.49,105.89 L331.87,103.66 L321.87,113.31 314.47,119.28 307.13,124.72 299.85,129.63 292.63,133.99 285.46,137.82 278.35,141.12 271.29,143.88 264.29,146.10 257.35,147.78 250.47,148.93 243.64,149.54 236.88,149.60 230.17,149.13 223.53,148.12 216.94,146.58 210.42,144.49 203.96,141.87 197.57,138.71 191.24,135.02 184.97,130.79 178.76,126.03 172.61,120.74 166.53,114.91 160.51,108.54 154.55,101.64 148.65,94.21 142.81,86.25 Z" fill="#eac63b" fill-opacity="0.82" stroke="#ffffff" stroke-opacity="0.35" stroke-width="0.3"/>
<path d="M143.64,85.67 A140.8,140.8 0 0 1 144.46,85.09 L150.18,93.03 155.88,100.37 161.55,107.10 167.20,113.22 172.83,118.74 178.43,123.66 184.00,127.96 189.55,131.67 195.08,134.76 200.57,137.26 206.04,139.15 211.48,140.44 216.89,141.13 222.28,141.22 227.65,140.72 232.99,139.61 238.32,137.91 243.63,135.61 248.92,132.71 254.20,129.21 259.47,125.11 264.71,120.40 269.94,115.08 275.16,109.16 280.35,102.64 285.53,95.51 290.69,87.77 295.83,79.43 L298.40,76.30 L291.72,88.43 286.54,96.21 281.33,103.38 276.09,109.94 270.83,115.91 265.55,121.27 260.24,126.03 254.90,130.18 249.54,133.73 244.15,136.67 238.73,139.00 233.28,140.72 227.81,141.84 222.32,142.34 216.81,142.23 211.28,141.51 205.74,140.18 200.17,138.25 194.60,135.70 189.01,132.56 183.40,128.80 177.77,124.45 172.13,119.49 166.47,113.93 160.79,107.77 155.09,101.01 149.37,93.64 143.64,85.67 Z" fill="#eac63b" fill-opacity="0.82" stroke="#ffffff" stroke-opacity="0.35" stroke-width="0.3"/>
<path d="M266.43,66.62 A140.8,140.8 0 0 1 267.16,66.85 L264.06,76.17 260.79,84.91 257.36,93.08 253.76,100.68 250.00,107.71 246.08,114.17 241.99,120.06 237.73,125.39 233.30,130.15 228.70,134.35 223.93,137.98 218.97,141.04 213.83,143.53 208.50,145.45 202.99,146.78 197.30,147.53 191.43,147.68 185.39,147.24 179.19,146.20 172.82,144.57 166.30,142.35 159.62,139.54 152.79,136.15 145.80,132.17 138.66,127.61 131.36,122.47 123.91,116.76 116.30,110.47 L114.30,106.65 L125.89,114.28 133.23,119.94 140.41,125.02 147.40,129.54 154.23,133.48 160.87,136.85 167.35,139.65 173.65,141.89 179.77,143.56 185.73,144.68 191.52,145.24 197.15,145.23 202.63,144.67 207.96,143.54 213.15,141.85 218.19,139.57 223.08,136.72 227.83,133.27 232.42,129.24 236.85,124.63 241.13,119.42 245.24,113.63 249.19,107.25 252.97,100.28 256.59,92.74 260.03,84.61 263.32,75.91 266.43,66.62 Z" fill="#4c5395" fill-opacity="0.82" stroke="#ffffff" stroke-opacity="0.35" stroke-width="0.3"/>
<path d="M265.71,66.40 A140.8,140.8 0 0 1 266.43,66.62 L263.42,75.92 260.33,84.57 257.15,92.57 253.89,99.94 250.54,106.66 247.12,112.74 243.60,118.18 240.00,122.99 236.31,127.16 232.52,130.70 228.63,133.61 224.62,135.88 220.50,137.50 216.25,138.47 211.90,138.76 207.45,138.39 202.90,137.33 198.29,135.60 193.60,133.21 188.85,130.16 184.03,126.45 179.14,122.08 174.18,117.07 169.16,111.41 164.06,105.10 158.88,98.14 153.63,90.54 148.30,82.30 L147.52,78.06 L156.26,88.79 161.43,96.32 166.51,103.20 171.50,109.44 176.39,115.02 181.19,119.96 185.88,124.25 190.47,127.89 194.97,130.90 199.35,133.27 203.64,135.02 207.84,136.13 211.96,136.63 216.00,136.51 219.99,135.76 223.93,134.37 227.82,132.33 231.65,129.64 235.42,126.28 239.11,122.25 242.73,117.57 246.27,112.22 249.72,106.22 253.09,99.56 256.37,92.25 259.57,84.28 262.68,75.66 265.71,66.40 Z" fill="#4c5395" fill-opacity="0.82" stroke="#ffffff" stroke-opacity="0.35" stroke-width="0.3"/>
<path d="M307.71,87.49 A140.8,140.8 0 0 1 308.27,87.91 L302.28,95.75 296.23,103.06 290.14,109.84 283.99,116.09 277.80,121.81 271.56,127.00 265.26,131.66 258.91,135.80 252.51,139.41 246.05,142.49 239.53,145.04 232.96,147.07 226.32,148.57 219.62,149.53 212.86,149.95 206.03,149.82 199.15,149.15 192.22,147.94 185.23,146.17 178.20,143.86 171.12,141.00 163.99,137.60 156.82,133.65 149.61,129.17 142.36,124.14 135.07,118.58 127.73,112.47 120.35,105.84 L118.43,102.03 L129.65,110.26 136.88,116.30 144.06,121.81 151.18,126.80 158.25,131.25 165.25,135.17 172.20,138.56 179.10,141.44 185.94,143.79 192.73,145.61 199.48,146.92 206.18,147.71 212.83,147.97 219.45,147.70 226.03,146.91 232.58,145.58 239.08,143.72 245.55,141.31 251.98,138.37 258.36,134.88 264.70,130.84 270.99,126.27 277.23,121.16 283.43,115.50 289.57,109.30 295.67,102.57 301.71,95.30 307.71,87.49 Z" fill="#6bbd6a" fill-opacity="0.82" stroke="#ffffff" stroke-opacity="0.35" stroke-width="0.3"/>
<path d="M307.14,87.07 A140.8,140.8 0 0 1 307.71,87.49 L301.80,95.32 295.93,102.56 290.09,109.19 284.30,115.21 278.55,120.64 272.84,125.47 267.16,129.70 261.52,133.33 255.91,136.37 250.33,138.81 244.77,140.65 239.23,141.88 233.72,142.51 228.23,142.53 222.76,141.92 217.32,140.70 211.91,138.85 206.55,136.37 201.23,133.28 195.96,129.56 190.75,125.23 185.58,120.29 180.47,114.74 175.41,108.58 170.40,101.82 165.43,94.45 160.51,86.47 155.65,77.90 L155.02,73.68 L163.03,84.99 167.87,92.88 172.74,100.17 177.64,106.85 182.57,112.93 187.54,118.40 192.53,123.26 197.54,127.53 202.59,131.21 207.66,134.28 212.77,136.77 217.92,138.67 223.11,139.99 228.35,140.71 233.64,140.84 239.00,140.37 244.41,139.30 249.88,137.62 255.41,135.32 260.98,132.41 266.60,128.89 272.27,124.75 277.98,120.00 283.73,114.63 289.52,108.66 295.36,102.07 301.23,94.88 307.14,87.07 Z" fill="#6bbd6a" fill-opacity="0.82" stroke="#ffffff" stroke-opacity="0.35" stroke-width="0.3"/>
<path d="M112.46,115.60 A140.8,140.8 0 0 1 112.85,115.09 L120.85,121.02 128.89,126.59 136.98,131.81 145.12,136.66 153.31,141.16 161.54,145.30 169.82,149.08 178.15,152.50 186.52,155.56 194.94,158.26 203.40,160.60 211.91,162.58 220.46,164.21 229.06,165.48 237.70,166.39 246.39,166.94 255.12,167.14 263.89,166.98 272.71,166.48 281.58,165.62 290.50,164.40 299.46,162.83 308.47,160.91 317.52,158.63 326.62,156.00 335.78,153.01 344.97,149.67 354.22,145.98 L358.20,145.11 L345.50,151.05 336.25,154.40 327.05,157.39 317.89,160.02 308.79,162.29 299.72,164.20 290.71,165.76 281.74,166.95 272.81,167.78 263.94,168.25 255.11,168.36 246.33,168.11 237.60,167.49 228.92,166.53 220.29,165.20 211.71,163.51 203.17,161.47 194.69,159.08 186.25,156.33 177.87,153.22 169.52,149.76 161.23,145.95 152.98,141.78 144.78,137.26 136.63,132.38 128.53,127.14 120.47,121.55 112.46,115.60 Z" fill="#f290c1" fill-opacity="0.82" stroke="#ffffff" stroke-opacity="0.35" stroke-width="0.3"/>
<path d="M112.85,115.09 A140.8,140.8 0 0 1 113.24,114.58 L121.18,120.50 129.09,125.94 136.99,130.93 144.86,135.45 152.72,139.50 160.55,143.08 168.37,146.21 176.16,148.86 183.93,151.05 191.68,152.77 199.40,154.03 207.10,154.82 214.78,155.15 222.44,155.02 230.07,154.42 237.68,153.37 245.27,151.85 252.83,149.87 260.38,147.44 267.91,144.54 275.42,141.19 282.91,137.38 290.38,133.10 297.84,128.37 305.28,123.17 312.70,117.51 320.11,111.39 327.49,104.81 L330.93,102.64 L321.06,112.51 313.61,118.66 306.13,124.34 298.64,129.56 291.11,134.32 283.57,138.61 276.01,142.43 268.42,145.78 260.81,148.67 253.18,151.09 245.54,153.04 237.87,154.52 230.18,155.53 222.48,156.08 214.76,156.16 207.03,155.77 199.28,154.92 191.51,153.61 183.73,151.84 175.93,149.60 168.11,146.90 160.27,143.75 152.41,140.13 144.54,136.04 136.64,131.50 128.73,126.49 120.80,121.02 112.85,115.09 Z" fill="#f290c1" fill-opacity="0.82" stroke="#ffffff" stroke-opacity="0.35" stroke-width="0.3"/>
<path d="M113.24,114.58 A140.8,140.8 0 0 1 113.63,114.08 L121.50,119.99 129.26,125.37 136.92,130.22 144.48,134.54 151.93,138.32 159.28,141.56 166.53,144.27 173.67,146.45 180.70,148.10 187.62,149.21 194.44,149.78 201.15,149.83 207.76,149.34 214.26,148.33 220.65,146.79 226.93,144.72 233.11,142.12 239.19,139.00 245.17,135.35 251.05,131.18 256.84,126.47 262.52,121.24 268.10,115.48 273.59,109.18 278.98,102.36 284.27,95.00 289.46,87.11 294.55,78.69 L297.20,75.60 L290.70,87.89 285.47,95.83 280.14,103.23 274.70,110.10 269.15,116.44 263.49,122.24 257.73,127.51 251.86,132.24 245.89,136.44 239.81,140.10 233.62,143.23 227.34,145.81 220.95,147.86 214.46,149.37 207.87,150.34 201.18,150.78 194.40,150.68 187.52,150.05 180.54,148.89 173.46,147.20 166.29,144.98 159.01,142.23 151.63,138.95 144.16,135.14 136.58,130.79 128.90,125.92 121.12,120.52 113.24,114.58 Z" fill="#f290c1" fill-opacity="0.82" stroke="#ffffff" stroke-opacity="0.35" stroke-width="0.3"/>
<path d="M321.92,99.44 A140.8,140.8 0 0 1 322.18,99.69 L315.50,106.74 309.41,113.40 303.90,119.67 298.98,125.55 294.64,131.04 290.89,136.13 287.73,140.84 285.16,145.15 283.18,149.06 281.78,152.57 280.98,155.67 280.75,158.35 281.09,160.60 281.97,162.43 283.38,163.87 285.36,164.95 287.92,165.68 291.08,166.05 294.84,166.03 299.19,165.63 304.14,164.85 309.68,163.67 315.81,162.11 322.52,160.17 329.83,157.83 337.72,155.10 346.19,151.98 355.25,148.48 L359.25,147.69 L346.71,153.36 338.20,156.47 330.28,159.20 322.94,161.53 316.17,163.46 309.99,165.01 304.38,166.16 299.35,166.91 294.89,167.27 291.01,167.23 287.69,166.79 284.95,165.93 282.78,164.65 281.21,162.94 280.29,160.83 279.99,158.36 280.29,155.54 281.18,152.37 282.65,148.82 284.69,144.88 287.32,140.57 290.52,135.87 294.30,130.77 298.66,125.29 303.60,119.41 309.13,113.15 315.23,106.49 321.92,99.44 Z" fill="#6bbd6a" fill-opacity="0.82" stroke="#ffffff" stroke-opacity="0.35" stroke-width="0.3"/>
<path d="M287.38,75.07 A140.8,140.8 0 0 1 287.70,75.23 L283.44,83.99 279.69,92.31 276.43,100.17 273.67,107.58 271.41,114.54 269.65,121.05 268.39,127.10 267.63,132.70 267.37,137.84 267.61,142.52 268.34,146.74 269.56,150.49 271.26,153.78 273.44,156.62 276.10,159.00 279.23,160.94 282.86,162.44 286.98,163.51 291.60,164.14 296.73,164.33 302.35,164.09 308.48,163.39 315.12,162.25 322.25,160.67 329.89,158.64 338.02,156.16 346.66,153.23 355.80,149.85 L359.80,149.11 L347.15,154.61 338.47,157.54 330.28,160.02 322.59,162.05 315.39,163.62 308.68,164.75 302.46,165.42 296.73,165.63 291.49,165.38 286.75,164.68 282.50,163.51 278.74,161.88 275.50,159.78 272.76,157.23 270.54,154.23 268.84,150.78 267.65,146.90 266.97,142.59 266.78,137.84 267.10,132.65 267.90,127.01 269.20,120.94 271.00,114.41 273.28,107.44 276.07,100.02 279.34,92.16 283.12,83.84 287.38,75.07 Z" fill="#4c5395" fill-opacity="0.82" stroke="#ffffff" stroke-opacity="0.35" stroke-width="0.3"/>
<path d="M301.46,83.16 A140.8,140.8 0 0 1 301.71,83.32 L296.39,91.43 291.46,98.94 286.91,105.83 282.76,112.13 278.98,117.81 275.60,122.89 272.60,127.37 269.99,131.24 267.77,134.51 265.94,137.17 264.49,139.23 263.42,140.68 262.72,141.56 261.94,141.84 261.85,141.00 262.30,139.95 263.12,138.32 264.33,136.10 265.93,133.27 267.92,129.83 270.29,125.79 273.05,121.15 276.19,115.90 279.73,110.04 283.65,103.58 287.95,96.52 292.65,88.84 297.73,80.57 L300.35,77.48 L293.69,89.48 288.99,97.15 284.67,104.21 280.74,110.66 277.19,116.50 274.03,121.74 271.24,126.36 268.84,130.38 266.83,133.79 265.20,136.59 263.95,138.77 263.09,140.35 262.62,141.29 262.38,141.22 262.22,141.07 262.92,140.29 264.01,138.88 265.50,136.86 267.37,134.23 269.62,130.99 272.26,127.14 275.28,122.68 278.69,117.61 282.47,111.94 286.64,105.65 291.20,98.76 296.14,91.27 301.46,83.16 Z" fill="#6bbd6a" fill-opacity="0.82" stroke="#ffffff" stroke-opacity="0.35" stroke-width="0.3"/>
<path d="M287.70,75.23 A140.8,140.8 0 0 1 287.96,75.36 L283.65,84.06 279.78,92.21 276.34,99.80 273.34,106.84 270.78,113.32 268.65,119.24 266.96,124.61 265.71,129.42 264.90,133.66 264.52,137.35 264.58,140.46 265.06,142.99 265.95,144.93 267.23,146.30 268.90,147.14 270.99,147.47 273.54,147.26 276.54,146.52 280.00,145.23 283.90,143.38 288.24,140.98 293.03,138.02 298.25,134.51 303.92,130.45 310.02,125.83 316.56,120.66 323.54,114.93 330.95,108.65 L334.38,106.51 L324.32,115.87 317.32,121.60 310.75,126.78 304.62,131.40 298.92,135.47 293.65,138.98 288.80,141.94 284.39,144.34 280.40,146.18 276.83,147.47 273.69,148.19 270.96,148.35 268.64,147.92 266.76,146.90 265.36,145.31 264.45,143.17 264.00,140.51 263.99,137.32 264.42,133.59 265.28,129.31 266.57,124.49 268.29,119.12 270.44,113.19 273.03,106.71 276.05,99.67 279.50,92.08 283.38,83.93 287.70,75.23 Z" fill="#4c5395" fill-opacity="0.82" stroke="#ffffff" stroke-opacity="0.35" stroke-width="0.3"/>
<path d="M339.10,111.80 A145.3,145.3 0 0 1 340.97,114.26 L338.80,115.87 A142.6,142.6 0 0 0 336.97,113.46 Z" fill="#a5532b"/>
<path d="M340.97,114.26 A145.3,145.3 0 0 1 341.78,115.36 L339.60,116.95 A142.6,142.6 0 0 0 338.80,115.87 Z" fill="#e2b800"/>
<path d="M341.78,115.36 A145.3,145.3 0 0 1 342.58,116.47 L340.39,118.04 A142.6,142.6 0 0 0 339.60,116.95 Z" fill="#f07cb8"/>
<path d="M342.58,116.47 A145.3,145.3 0 0 1 343.96,118.43 L341.74,119.97 A142.6,142.6 0 0 0 340.39,118.04 Z" fill="#bfa0cf"/>
<path d="M343.96,118.43 A145.3,145.3 0 0 1 345.68,120.98 L343.43,122.46 A142.6,142.6 0 0 0 341.74,119.97 Z" fill="#984ea6"/>
<path d="M345.68,120.98 A145.3,145.3 0 0 1 347.63,124.02 L345.34,125.45 A142.6,142.6 0 0 0 343.43,122.46 Z" fill="#acdc86"/>
<path d="M347.63,124.02 A145.3,145.3 0 0 1 348.89,126.07 L346.57,127.46 A142.6,142.6 0 0 0 345.34,125.45 Z" fill="#13c9c9"/>
<path d="M348.89,126.07 A145.3,145.3 0 0 1 351.07,129.82 L348.72,131.14 A142.6,142.6 0 0 0 346.57,127.46 Z" fill="#1a9b6e"/>
<path d="M351.07,129.82 A145.3,145.3 0 0 1 353.41,134.15 L351.01,135.39 A142.6,142.6 0 0 0 348.72,131.14 Z" fill="#a9cde2"/>
<path d="M353.41,134.15 A145.3,145.3 0 0 1 355.15,137.62 L352.72,138.80 A142.6,142.6 0 0 0 351.01,135.39 Z" fill="#f59c9c"/>
<path d="M355.15,137.62 A145.3,145.3 0 0 1 356.23,139.89 L353.78,141.03 A142.6,142.6 0 0 0 352.72,138.80 Z" fill="#f29100"/>
<path d="M303.92,79.39 A145.3,145.3 0 0 1 304.18,79.56 L302.70,81.82 A142.6,142.6 0 0 0 302.45,81.65 Z" fill="#1e2a78"/>
<path d="M304.18,79.56 A145.3,145.3 0 0 1 308.40,82.44 L306.84,84.64 A142.6,142.6 0 0 0 302.70,81.82 Z" fill="#e2191d"/>
<path d="M308.40,82.44 A145.3,145.3 0 0 1 309.78,83.43 L308.19,85.62 A142.6,142.6 0 0 0 306.84,84.64 Z" fill="#a5532b"/>
<path d="M309.78,83.43 A145.3,145.3 0 0 1 310.37,83.86 L308.77,86.04 A142.6,142.6 0 0 0 308.19,85.62 Z" fill="#e2b800"/>
<path d="M310.37,83.86 A145.3,145.3 0 0 1 310.95,84.29 L309.35,86.46 A142.6,142.6 0 0 0 308.77,86.04 Z" fill="#f07cb8"/>
<path d="M310.95,84.29 A145.3,145.3 0 0 1 312.03,85.10 L310.40,87.25 A142.6,142.6 0 0 0 309.35,86.46 Z" fill="#bfa0cf"/>
<path d="M312.03,85.10 A145.3,145.3 0 0 1 313.37,86.12 L311.72,88.26 A142.6,142.6 0 0 0 310.40,87.25 Z" fill="#984ea6"/>
<path d="M313.37,86.12 A145.3,145.3 0 0 1 314.93,87.35 L313.25,89.46 A142.6,142.6 0 0 0 311.72,88.26 Z" fill="#acdc86"/>
<path d="M314.93,87.35 A145.3,145.3 0 0 1 315.97,88.19 L314.27,90.28 A142.6,142.6 0 0 0 313.25,89.46 Z" fill="#13c9c9"/>
<path d="M315.97,88.19 A145.3,145.3 0 0 1 317.85,89.74 L316.11,91.80 A142.6,142.6 0 0 0 314.27,90.28 Z" fill="#1a9b6e"/>
<path d="M317.85,89.74 A145.3,145.3 0 0 1 319.88,91.48 L318.11,93.51 A142.6,142.6 0 0 0 316.11,91.80 Z" fill="#a9cde2"/>
<path d="M319.88,91.48 A145.3,145.3 0 0 1 322.47,93.79 L320.64,95.78 A142.6,142.6 0 0 0 318.11,93.51 Z" fill="#3a7cb8"/>
<path d="M322.47,93.79 A145.3,145.3 0 0 1 324.07,95.27 L322.22,97.24 A142.6,142.6 0 0 0 320.64,95.78 Z" fill="#f59c9c"/>
<path d="M324.07,95.27 A145.3,145.3 0 0 1 325.04,96.20 L323.17,98.14 A142.6,142.6 0 0 0 322.22,97.24 Z" fill="#f29100"/>
<path d="M325.04,96.20 A145.3,145.3 0 0 1 325.30,96.45 L323.43,98.39 A142.6,142.6 0 0 0 323.17,98.14 Z" fill="#4faee2"/>
<path d="M260.13,60.16 A145.3,145.3 0 0 1 265.28,61.57 L264.52,64.16 A142.6,142.6 0 0 0 259.47,62.78 Z" fill="#e2191d"/>
<path d="M265.28,61.57 A145.3,145.3 0 0 1 267.03,62.09 L266.24,64.67 A142.6,142.6 0 0 0 264.52,64.16 Z" fill="#a5532b"/>
<path d="M267.03,62.09 A145.3,145.3 0 0 1 267.78,62.33 L266.97,64.90 A142.6,142.6 0 0 0 266.24,64.67 Z" fill="#e2b800"/>
<path d="M267.78,62.33 A145.3,145.3 0 0 1 268.53,62.56 L267.71,65.14 A142.6,142.6 0 0 0 266.97,64.90 Z" fill="#f07cb8"/>
<path d="M268.53,62.56 A145.3,145.3 0 0 1 269.80,62.97 L268.96,65.54 A142.6,142.6 0 0 0 267.71,65.14 Z" fill="#bfa0cf"/>
<path d="M269.80,62.97 A145.3,145.3 0 0 1 271.52,63.55 L270.64,66.11 A142.6,142.6 0 0 0 268.96,65.54 Z" fill="#984ea6"/>
<path d="M271.52,63.55 A145.3,145.3 0 0 1 274.26,64.52 L273.34,67.06 A142.6,142.6 0 0 0 270.64,66.11 Z" fill="#e6308a"/>
<path d="M274.26,64.52 A145.3,145.3 0 0 1 276.23,65.26 L275.27,67.78 A142.6,142.6 0 0 0 273.34,67.06 Z" fill="#acdc86"/>
<path d="M276.23,65.26 A145.3,145.3 0 0 1 277.65,65.81 L276.66,68.32 A142.6,142.6 0 0 0 275.27,67.78 Z" fill="#13c9c9"/>
<path d="M277.65,65.81 A145.3,145.3 0 0 1 280.18,66.83 L279.14,69.33 A142.6,142.6 0 0 0 276.66,68.32 Z" fill="#1a9b6e"/>
<path d="M280.18,66.83 A145.3,145.3 0 0 1 282.75,67.93 L281.66,70.40 A142.6,142.6 0 0 0 279.14,69.33 Z" fill="#a9cde2"/>
<path d="M282.75,67.93 A145.3,145.3 0 0 1 286.01,69.41 L284.86,71.85 A142.6,142.6 0 0 0 281.66,70.40 Z" fill="#3a7cb8"/>
<path d="M286.01,69.41 A145.3,145.3 0 0 1 288.14,70.43 L286.96,72.86 A142.6,142.6 0 0 0 284.86,71.85 Z" fill="#f59c9c"/>
<path d="M288.14,70.43 A145.3,145.3 0 0 1 289.40,71.05 L288.19,73.46 A142.6,142.6 0 0 0 286.96,72.86 Z" fill="#f29100"/>
<path d="M289.40,71.05 A145.3,145.3 0 0 1 289.72,71.21 L288.51,73.62 A142.6,142.6 0 0 0 288.19,73.46 Z" fill="#4faee2"/>
<path d="M289.72,71.21 A145.3,145.3 0 0 1 289.99,71.35 L288.77,73.76 A142.6,142.6 0 0 0 288.51,73.62 Z" fill="#48ac48"/>
<path d="M126.04,94.06 A145.3,145.3 0 0 1 130.83,89.84 L132.57,91.91 A142.6,142.6 0 0 0 127.87,96.04 Z" fill="#acdc86"/>
<path d="M130.83,89.84 A145.3,145.3 0 0 1 134.05,87.21 L135.73,89.32 A142.6,142.6 0 0 0 132.57,91.91 Z" fill="#13c9c9"/>
<path d="M134.05,87.21 A145.3,145.3 0 0 1 139.36,83.19 L140.94,85.38 A142.6,142.6 0 0 0 135.73,89.32 Z" fill="#f59c9c"/>
<path d="M139.36,83.19 A145.3,145.3 0 0 1 140.20,82.58 L141.77,84.78 A142.6,142.6 0 0 0 140.94,85.38 Z" fill="#4faee2"/>
<path d="M140.20,82.58 A145.3,145.3 0 0 1 141.05,81.98 L142.60,84.19 A142.6,142.6 0 0 0 141.77,84.78 Z" fill="#48ac48"/>
<path d="M141.05,81.98 A145.3,145.3 0 0 1 141.91,81.39 L143.44,83.61 A142.6,142.6 0 0 0 142.60,84.19 Z" fill="#1e2a78"/>
<path d="M141.91,81.39 A145.3,145.3 0 0 1 143.45,80.34 L144.95,82.58 A142.6,142.6 0 0 0 143.44,83.61 Z" fill="#e2b800"/>
<path d="M96.64,131.79 A145.3,145.3 0 0 1 97.65,129.96 L100.01,131.28 A142.6,142.6 0 0 0 99.02,133.08 Z" fill="#bfa0cf"/>
<path d="M97.65,129.96 A145.3,145.3 0 0 1 99.39,126.93 L101.72,128.31 A142.6,142.6 0 0 0 100.01,131.28 Z" fill="#acdc86"/>
<path d="M99.39,126.93 A145.3,145.3 0 0 1 100.59,124.95 L102.89,126.37 A142.6,142.6 0 0 0 101.72,128.31 Z" fill="#13c9c9"/>
<path d="M100.59,124.95 A145.3,145.3 0 0 1 103.14,120.96 L105.39,122.44 A142.6,142.6 0 0 0 102.89,126.37 Z" fill="#a9cde2"/>
<path d="M103.14,120.96 A145.3,145.3 0 0 1 106.64,115.88 L108.83,117.46 A142.6,142.6 0 0 0 105.39,122.44 Z" fill="#3a7cb8"/>
<path d="M106.64,115.88 A145.3,145.3 0 0 1 108.88,112.87 L111.03,114.51 A142.6,142.6 0 0 0 108.83,117.46 Z" fill="#f59c9c"/>
<path d="M108.88,112.87 A145.3,145.3 0 0 1 109.28,112.34 L111.42,113.99 A142.6,142.6 0 0 0 111.03,114.51 Z" fill="#4faee2"/>
<path d="M109.28,112.34 A145.3,145.3 0 0 1 109.69,111.82 L111.82,113.48 A142.6,142.6 0 0 0 111.42,113.99 Z" fill="#48ac48"/>
<path d="M109.69,111.82 A145.3,145.3 0 0 1 110.09,111.30 L112.22,112.97 A142.6,142.6 0 0 0 111.82,113.48 Z" fill="#1e2a78"/>
<path d="M110.09,111.30 A145.3,145.3 0 0 1 112.16,108.72 L114.25,110.44 A142.6,142.6 0 0 0 112.22,112.97 Z" fill="#a5532b"/>
<path d="M112.16,108.72 A145.3,145.3 0 0 1 113.00,107.71 L115.07,109.44 A142.6,142.6 0 0 0 114.25,110.44 Z" fill="#e2b800"/>
<path d="M303.82,322.67 A145.3,145.3 0 0 1 302.76,323.36 L301.31,321.08 A142.6,142.6 0 0 0 302.34,320.41 Z" fill="#48ac48"/>
<path d="M302.76,323.36 A145.3,145.3 0 0 1 301.70,324.03 L300.26,321.75 A142.6,142.6 0 0 0 301.31,321.08 Z" fill="#1e2a78"/>
<path d="M301.70,324.03 A145.3,145.3 0 0 1 299.04,325.67 L297.65,323.35 A142.6,142.6 0 0 0 300.26,321.75 Z" fill="#e2b800"/>
<path d="M299.04,325.67 A145.3,145.3 0 0 1 292.46,329.37 L291.20,326.99 A142.6,142.6 0 0 0 297.65,323.35 Z" fill="#13c9c9"/>
<path d="M168.42,66.92 A145.3,145.3 0 0 1 173.77,64.81 L174.71,67.34 A142.6,142.6 0 0 0 169.46,69.41 Z" fill="#f07cb8"/>
<path d="M173.77,64.81 A145.3,145.3 0 0 1 176.47,63.83 L177.36,66.38 A142.6,142.6 0 0 0 174.71,67.34 Z" fill="#48ac48"/>
<path d="M260.01,341.87 A145.3,145.3 0 0 1 257.85,342.40 L257.23,339.77 A142.6,142.6 0 0 0 259.35,339.25 Z" fill="#48ac48"/>
<path d="M257.85,342.40 A145.3,145.3 0 0 1 253.53,343.35 L252.99,340.71 A142.6,142.6 0 0 0 257.23,339.77 Z" fill="#e2b800"/>
<path d="M253.53,343.35 A145.3,145.3 0 0 1 249.59,344.10 L249.13,341.44 A142.6,142.6 0 0 0 252.99,340.71 Z" fill="#f07cb8"/>
<path d="M81.09,177.02 A145.3,145.3 0 0 1 84.32,162.42 L86.92,163.14 A142.6,142.6 0 0 0 83.76,177.47 Z" fill="#4faee2"/>
<path d="M84.32,162.42 A145.3,145.3 0 0 1 89.02,148.23 L91.54,149.21 A142.6,142.6 0 0 0 86.92,163.14 Z" fill="#48ac48"/>
<path d="M89.02,148.23 A145.3,145.3 0 0 1 95.16,134.59 L97.56,135.83 A142.6,142.6 0 0 0 91.54,149.21 Z" fill="#1e2a78"/>
<path d="M81.07,224.85 A145.3,145.3 0 0 1 80.02,217.32 L82.70,217.02 A142.6,142.6 0 0 0 83.73,224.41 Z" fill="#4faee2"/>
<path d="M80.02,217.32 A145.3,145.3 0 0 1 79.36,209.74 L82.06,209.58 A142.6,142.6 0 0 0 82.70,217.02 Z" fill="#48ac48"/>
<path d="M79.36,209.74 A145.3,145.3 0 0 1 79.10,202.14 L81.80,202.12 A142.6,142.6 0 0 0 82.06,209.58 Z" fill="#1e2a78"/>
<path d="M96.58,270.10 A145.3,145.3 0 0 1 91.58,259.92 L94.05,258.82 A142.6,142.6 0 0 0 98.96,268.82 Z" fill="#48ac48"/>
<path d="M91.58,259.92 A145.3,145.3 0 0 1 87.39,249.38 L89.94,248.48 A142.6,142.6 0 0 0 94.05,258.82 Z" fill="#1e2a78"/>
<path d="M125.94,307.86 A145.3,145.3 0 0 1 114.98,296.60 L117.01,294.82 A142.6,142.6 0 0 0 127.77,305.87 Z" fill="#48ac48"/>
<path d="M114.98,296.60 A145.3,145.3 0 0 1 105.30,284.23 L107.51,282.68 A142.6,142.6 0 0 0 117.01,294.82 Z" fill="#1e2a78"/>
<path d="M361.85,153.88 A145.3,145.3 0 0 1 364.49,162.44 L361.89,163.16 A142.6,142.6 0 0 0 359.29,154.76 Z" fill="#4faee2"/>
<path d="M364.49,162.44 A145.3,145.3 0 0 1 366.60,171.15 L363.96,171.70 A142.6,142.6 0 0 0 361.89,163.16 Z" fill="#48ac48"/>
<path d="M366.60,171.15 A145.3,145.3 0 0 1 368.17,179.96 L365.50,180.36 A142.6,142.6 0 0 0 363.96,171.70 Z" fill="#1e2a78"/>
<text x="383.97" y="225.91" font-size="13.8" dominant-baseline="central" transform="rotate(8.87 383.97 225.91)">Basal</text>
<text x="367.23" y="276.37" font-size="13.8" dominant-baseline="central" transform="rotate(27.82 367.23 276.37)">Neural-1</text>
<text x="335.02" y="318.67" font-size="13.8" dominant-baseline="central" transform="rotate(46.77 335.02 318.67)">Neural-2</text>
<text x="290.82" y="348.21" font-size="13.8" dominant-baseline="central" transform="rotate(65.72 290.82 348.21)">Mes-1</text>
<text x="239.42" y="361.80" font-size="13.8" dominant-baseline="central" transform="rotate(84.66 239.42 361.80)">Mes-2</text>
<text x="185.85" y="360.20" font-size="13.8" text-anchor="end" dominant-baseline="central" transform="rotate(-76.39 185.85 360.20)">Mes-3</text>
<text x="136.25" y="339.06" font-size="13.8" text-anchor="end" dominant-baseline="central" transform="rotate(-57.44 136.25 339.06)">Plasma</text>
<text x="96.20" y="302.96" font-size="13.8" text-anchor="end" dominant-baseline="central" transform="rotate(-38.49 96.20 302.96)">CD4 T</text>
<text x="70.04" y="255.81" font-size="13.8" text-anchor="end" dominant-baseline="central" transform="rotate(-19.55 70.04 255.81)">CD8 T</text>
<text x="60.61" y="202.72" font-size="13.8" text-anchor="end" dominant-baseline="central" transform="rotate(-0.60 60.61 202.72)">NKs</text>
<text x="68.93" y="149.44" font-size="13.8" text-anchor="end" dominant-baseline="central" transform="rotate(18.35 68.93 149.44)">B</text>
<text x="94.09" y="101.75" font-size="13.8" text-anchor="end" dominant-baseline="central" transform="rotate(37.29 94.09 101.75)">Endo</text>
<text x="133.38" y="64.82" font-size="13.8" text-anchor="end" dominant-baseline="central" transform="rotate(56.24 133.38 64.82)">Fibro</text>
<text x="182.53" y="42.64" font-size="13.8" text-anchor="end" dominant-baseline="central" transform="rotate(75.19 182.53 42.64)">SMCs</text>
<text x="236.05" y="39.92" font-size="13.8" dominant-baseline="central" transform="rotate(-85.86 236.05 39.92)">Neu</text>
<text x="287.72" y="52.43" font-size="13.8" dominant-baseline="central" transform="rotate(-66.92 287.72 52.43)">Macro</text>
<text x="332.53" y="81.04" font-size="13.8" dominant-baseline="central" transform="rotate(-47.97 332.53 81.04)">Mono</text>
<text x="365.62" y="122.65" font-size="13.8" dominant-baseline="central" transform="rotate(-29.02 365.62 122.65)">DCs</text>
<text x="383.41" y="172.75" font-size="13.8" dominant-baseline="central" transform="rotate(-10.07 383.41 172.75)">Mast</text>
<rect x="476.0" y="57.8" width="282.58" height="282.58" fill="#f4f0ec"/>
<rect x="477.00" y="58.80" width="13.82" height="13.82" fill="#c8bab0"/>
<rect x="491.82" y="58.80" width="13.82" height="13.82" fill="#901858"/>
<rect x="506.64" y="58.80" width="13.82" height="13.82" fill="#c87080"/>
<rect x="521.46" y="58.80" width="13.82" height="13.82" fill="#7088a0"/>
<rect x="536.28" y="58.80" width="13.82" height="13.82" fill="#949aa4"/>
<rect x="551.10" y="58.80" width="13.82" height="13.82" fill="#a4a2a2"/>
<rect x="565.92" y="58.80" width="13.82" height="13.82" fill="#6c84a0"/>
<rect x="580.74" y="58.80" width="13.82" height="13.82" fill="#fcd8b8"/>
<rect x="595.56" y="58.80" width="13.82" height="13.82" fill="#fcd0b0"/>
<rect x="610.38" y="58.80" width="13.82" height="13.82" fill="#e8ccb4"/>
<rect x="625.20" y="58.80" width="13.82" height="13.82" fill="#9c9ca4"/>
<rect x="640.02" y="58.80" width="13.82" height="13.82" fill="#5c7ca0"/>
<rect x="654.84" y="58.80" width="13.82" height="13.82" fill="#4c7098"/>
<rect x="669.66" y="58.80" width="13.82" height="13.82" fill="#f0b4a0"/>
<rect x="684.48" y="58.80" width="13.82" height="13.82" fill="#ecd0b4"/>
<rect x="699.30" y="58.80" width="13.82" height="13.82" fill="#e0c8b4"/>
<rect x="714.12" y="58.80" width="13.82" height="13.82" fill="#e4a49c"/>
<rect x="728.94" y="58.80" width="13.82" height="13.82" fill="#902060"/>
<rect x="743.76" y="58.80" width="13.82" height="13.82" fill="#f0bca4"/>
<rect x="477.00" y="73.62" width="13.82" height="13.82" fill="#901858"/>
<rect x="491.82" y="73.62" width="13.82" height="13.82" fill="#fcd0b0"/>
<rect x="506.64" y="73.62" width="13.82" height="13.82" fill="#c06878"/>
<rect x="521.46" y="73.62" width="13.82" height="13.82" fill="#8090a0"/>
<rect x="536.28" y="73.62" width="13.82" height="13.82" fill="#b8aca8"/>
<rect x="551.10" y="73.62" width="13.82" height="13.82" fill="#9c9ca4"/>
<rect x="565.92" y="73.62" width="13.82" height="13.82" fill="#6c84a0"/>
<rect x="580.74" y="73.62" width="13.82" height="13.82" fill="#f4c4a8"/>
<rect x="595.56" y="73.62" width="13.82" height="13.82" fill="#ecb8a0"/>
<rect x="610.38" y="73.62" width="13.82" height="13.82" fill="#fcd8b8"/>
<rect x="625.20" y="73.62" width="13.82" height="13.82" fill="#a4a2a2"/>
<rect x="640.02" y="73.62" width="13.82" height="13.82" fill="#6484a4"/>
<rect x="654.84" y="73.62" width="13.82" height="13.82" fill="#406894"/>
<rect x="669.66" y="73.62" width="13.82" height="13.82" fill="#e8a8a0"/>
<rect x="684.48" y="73.62" width="13.82" height="13.82" fill="#f4c4a8"/>
<rect x="699.30" y="73.62" width="13.82" height="13.82" fill="#fcd8b8"/>
<rect x="714.12" y="73.62" width="13.82" height="13.82" fill="#c87888"/>
<rect x="728.94" y="73.62" width="13.82" height="13.82" fill="#8a0a50"/>
<rect x="743.76" y="73.62" width="13.82" height="13.82" fill="#ecb0a0"/>
<rect x="477.00" y="88.44" width="13.82" height="13.82" fill="#c87080"/>
<rect x="491.82" y="88.44" width="13.82" height="13.82" fill="#c06880"/>
<rect x="506.64" y="88.44" width="13.82" height="13.82" fill="#a0a0a4"/>
<rect x="521.46" y="88.44" width="13.82" height="13.82" fill="#587ca0"/>
<rect x="536.28" y="88.44" width="13.82" height="13.82" fill="#8090a4"/>
<rect x="551.10" y="88.44" width="13.82" height="13.82" fill="#7088a4"/>
<rect x="565.92" y="88.44" width="13.82" height="13.82" fill="#50709c"/>
<rect x="580.74" y="88.44" width="13.82" height="13.82" fill="#d4c0b0"/>
<rect x="595.56" y="88.44" width="13.82" height="13.82" fill="#d0c0b0"/>
<rect x="610.38" y="88.44" width="13.82" height="13.82" fill="#b0aaa8"/>
<rect x="625.20" y="88.44" width="13.82" height="13.82" fill="#7088a4"/>
<rect x="640.02" y="88.44" width="13.82" height="13.82" fill="#4c7098"/>
<rect x="654.84" y="88.44" width="13.82" height="13.82" fill="#305c90"/>
<rect x="669.66" y="88.44" width="13.82" height="13.82" fill="#c4b4ac"/>
<rect x="684.48" y="88.44" width="13.82" height="13.82" fill="#a4a2a2"/>
<rect x="699.30" y="88.44" width="13.82" height="13.82" fill="#a0a0a4"/>
<rect x="714.12" y="88.44" width="13.82" height="13.82" fill="#e8ccb4"/>
<rect x="728.94" y="88.44" width="13.82" height="13.82" fill="#d08890"/>
<rect x="743.76" y="88.44" width="13.82" height="13.82" fill="#b8aca8"/>
<rect x="477.00" y="103.26" width="13.82" height="13.82" fill="#7088a4"/>
<rect x="491.82" y="103.26" width="13.82" height="13.82" fill="#8090a4"/>
<rect x="506.64" y="103.26" width="13.82" height="13.82" fill="#5878a0"/>
<rect x="521.46" y="103.26" width="13.82" height="13.82" fill="#285890"/>
<rect x="536.28" y="103.26" width="13.82" height="13.82" fill="#406894"/>
<rect x="551.10" y="103.26" width="13.82" height="13.82" fill="#4c7098"/>
<rect x="565.92" y="103.26" width="13.82" height="13.82" fill="#406894"/>
<rect x="580.74" y="103.26" width="13.82" height="13.82" fill="#a0a0a4"/>
<rect x="595.56" y="103.26" width="13.82" height="13.82" fill="#a0a0a4"/>
<rect x="610.38" y="103.26" width="13.82" height="13.82" fill="#9498a4"/>
<rect x="625.20" y="103.26" width="13.82" height="13.82" fill="#406894"/>
<rect x="640.02" y="103.26" width="13.82" height="13.82" fill="#305c90"/>
<rect x="654.84" y="103.26" width="13.82" height="13.82" fill="#285890"/>
<rect x="669.66" y="103.26" width="13.82" height="13.82" fill="#406894"/>
<rect x="684.48" y="103.26" width="13.82" height="13.82" fill="#406894"/>
<rect x="699.30" y="103.26" width="13.82" height="13.82" fill="#386490"/>
<rect x="714.12" y="103.26" width="13.82" height="13.82" fill="#6484a4"/>
<rect x="728.94" y="103.26" width="13.82" height="13.82" fill="#6c84a4"/>
<rect x="743.76" y="103.26" width="13.82" height="13.82" fill="#4c7098"/>
<rect x="477.00" y="118.08" width="13.82" height="13.82" fill="#949aa4"/>
<rect x="491.82" y="118.08" width="13.82" height="13.82" fill="#b4aca8"/>
<rect x="506.64" y="118.08" width="13.82" height="13.82" fill="#8090a4"/>
<rect x="521.46" y="118.08" width="13.82" height="13.82" fill="#406894"/>
<rect x="536.28" y="118.08" width="13.82" height="13.82" fill="#285890"/>
<rect x="551.10" y="118.08" width="13.82" height="13.82" fill="#587ca0"/>
<rect x="565.92" y="118.08" width="13.82" height="13.82" fill="#406894"/>
<rect x="580.74" y="118.08" width="13.82" height="13.82" fill="#a0a0a4"/>
<rect x="595.56" y="118.08" width="13.82" height="13.82" fill="#a0a0a4"/>
<rect x="610.38" y="118.08" width="13.82" height="13.82" fill="#8c94a4"/>
<rect x="625.20" y="118.08" width="13.82" height="13.82" fill="#4c7098"/>
<rect x="640.02" y="118.08" width="13.82" height="13.82" fill="#386490"/>
<rect x="654.84" y="118.08" width="13.82" height="13.82" fill="#285890"/>
<rect x="669.66" y="118.08" width="13.82" height="13.82" fill="#587ca0"/>
<rect x="684.48" y="118.08" width="13.82" height="13.82" fill="#4c7098"/>
<rect x="699.30" y="118.08" width="13.82" height="13.82" fill="#4c7098"/>
<rect x="714.12" y="118.08" width="13.82" height="13.82" fill="#6c84a4"/>
<rect x="728.94" y="118.08" width="13.82" height="13.82" fill="#a4a2a2"/>
<rect x="743.76" y="118.08" width="13.82" height="13.82" fill="#6484a4"/>
<rect x="477.00" y="132.90" width="13.82" height="13.82" fill="#a4a2a2"/>
<rect x="491.82" y="132.90" width="13.82" height="13.82" fill="#9498a4"/>
<rect x="506.64" y="132.90" width="13.82" height="13.82" fill="#7088a4"/>
<rect x="521.46" y="132.90" width="13.82" height="13.82" fill="#4c7098"/>
<rect x="536.28" y="132.90" width="13.82" height="13.82" fill="#587ca0"/>
<rect x="551.10" y="132.90" width="13.82" height="13.82" fill="#386490"/>
<rect x="565.92" y="132.90" width="13.82" height="13.82" fill="#4c7098"/>
<rect x="580.74" y="132.90" width="13.82" height="13.82" fill="#b8aca8"/>
<rect x="595.56" y="132.90" width="13.82" height="13.82" fill="#b4aca8"/>
<rect x="610.38" y="132.90" width="13.82" height="13.82" fill="#a4a2a2"/>
<rect x="625.20" y="132.90" width="13.82" height="13.82" fill="#587ca0"/>
<rect x="640.02" y="132.90" width="13.82" height="13.82" fill="#4c7098"/>
<rect x="654.84" y="132.90" width="13.82" height="13.82" fill="#386490"/>
<rect x="669.66" y="132.90" width="13.82" height="13.82" fill="#6484a4"/>
<rect x="684.48" y="132.90" width="13.82" height="13.82" fill="#587ca0"/>
<rect x="699.30" y="132.90" width="13.82" height="13.82" fill="#4c7098"/>
<rect x="714.12" y="132.90" width="13.82" height="13.82" fill="#7c8ca4"/>
<rect x="728.94" y="132.90" width="13.82" height="13.82" fill="#8c94a4"/>
<rect x="743.76" y="132.90" width="13.82" height="13.82" fill="#587ca0"/>
<rect x="477.00" y="147.72" width="13.82" height="13.82" fill="#6c84a0"/>
<rect x="491.82" y="147.72" width="13.82" height="13.82" fill="#6484a4"/>
<rect x="506.64" y="147.72" width="13.82" height="13.82" fill="#4c7098"/>
<rect x="521.46" y="147.72" width="13.82" height="13.82" fill="#406894"/>
<rect x="536.28" y="147.72" width="13.82" height="13.82" fill="#406894"/>
<rect x="551.10" y="147.72" width="13.82" height="13.82" fill="#4c7098"/>
<rect x="565.92" y="147.72" width="13.82" height="13.82" fill="#205490"/>
<rect x="580.74" y="147.72" width="13.82" height="13.82" fill="#9498a4"/>
<rect x="595.56" y="147.72" width="13.82" height="13.82" fill="#8c94a4"/>
<rect x="610.38" y="147.72" width="13.82" height="13.82" fill="#7088a4"/>
<rect x="625.20" y="147.72" width="13.82" height="13.82" fill="#386490"/>
<rect x="640.02" y="147.72" width="13.82" height="13.82" fill="#305c90"/>
<rect x="654.84" y="147.72" width="13.82" height="13.82" fill="#1c4c88"/>
<rect x="669.66" y="147.72" width="13.82" height="13.82" fill="#386490"/>
<rect x="684.48" y="147.72" width="13.82" height="13.82" fill="#305c90"/>
<rect x="699.30" y="147.72" width="13.82" height="13.82" fill="#305c90"/>
<rect x="714.12" y="147.72" width="13.82" height="13.82" fill="#587ca0"/>
<rect x="728.94" y="147.72" width="13.82" height="13.82" fill="#587ca0"/>
<rect x="743.76" y="147.72" width="13.82" height="13.82" fill="#305c90"/>
<rect x="477.00" y="162.54" width="13.82" height="13.82" fill="#fcd8b8"/>
<rect x="491.82" y="162.54" width="13.82" height="13.82" fill="#f4c4a8"/>
<rect x="506.64" y="162.54" width="13.82" height="13.82" fill="#d4c0b0"/>
<rect x="521.46" y="162.54" width="13.82" height="13.82" fill="#a0a0a4"/>
<rect x="536.28" y="162.54" width="13.82" height="13.82" fill="#a0a0a4"/>
<rect x="551.10" y="162.54" width="13.82" height="13.82" fill="#b8aca8"/>
<rect x="565.92" y="162.54" width="13.82" height="13.82" fill="#949aa4"/>
<rect x="580.74" y="162.54" width="13.82" height="13.82" fill="#949aa4"/>
<rect x="595.56" y="162.54" width="13.82" height="13.82" fill="#e4a098"/>
<rect x="610.38" y="162.54" width="13.82" height="13.82" fill="#ecb8a0"/>
<rect x="625.20" y="162.54" width="13.82" height="13.82" fill="#a4a2a2"/>
<rect x="640.02" y="162.54" width="13.82" height="13.82" fill="#7c8ca4"/>
<rect x="654.84" y="162.54" width="13.82" height="13.82" fill="#6484a4"/>
<rect x="669.66" y="162.54" width="13.82" height="13.82" fill="#a0a0a4"/>
<rect x="684.48" y="162.54" width="13.82" height="13.82" fill="#9c9ca4"/>
<rect x="699.30" y="162.54" width="13.82" height="13.82" fill="#a0a0a4"/>
<rect x="714.12" y="162.54" width="13.82" height="13.82" fill="#d4c0b0"/>
<rect x="728.94" y="162.54" width="13.82" height="13.82" fill="#f8d8b8"/>
<rect x="743.76" y="162.54" width="13.82" height="13.82" fill="#a4a2a2"/>
<rect x="477.00" y="177.36" width="13.82" height="13.82" fill="#fcd4b4"/>
<rect x="491.82" y="177.36" width="13.82" height="13.82" fill="#ecb8a0"/>
<rect x="506.64" y="177.36" width="13.82" height="13.82" fill="#d4c0b0"/>
<rect x="521.46" y="177.36" width="13.82" height="13.82" fill="#a0a0a4"/>
<rect x="536.28" y="177.36" width="13.82" height="13.82" fill="#a0a0a4"/>
<rect x="551.10" y="177.36" width="13.82" height="13.82" fill="#b8aca8"/>
<rect x="565.92" y="177.36" width="13.82" height="13.82" fill="#8c94a4"/>
<rect x="580.74" y="177.36" width="13.82" height="13.82" fill="#e4a098"/>
<rect x="595.56" y="177.36" width="13.82" height="13.82" fill="#a4a2a2"/>
<rect x="610.38" y="177.36" width="13.82" height="13.82" fill="#ecb8a0"/>
<rect x="625.20" y="177.36" width="13.82" height="13.82" fill="#a4a2a2"/>
<rect x="640.02" y="177.36" width="13.82" height="13.82" fill="#7c8ca4"/>
<rect x="654.84" y="177.36" width="13.82" height="13.82" fill="#6c84a4"/>
<rect x="669.66" y="177.36" width="13.82" height="13.82" fill="#a4a2a2"/>
<rect x="684.48" y="177.36" width="13.82" height="13.82" fill="#a4a2a2"/>
<rect x="699.30" y="177.36" width="13.82" height="13.82" fill="#a4a2a2"/>
<rect x="714.12" y="177.36" width="13.82" height="13.82" fill="#e4ccb4"/>
<rect x="728.94" y="177.36" width="13.82" height="13.82" fill="#f8d8b8"/>
<rect x="743.76" y="177.36" width="13.82" height="13.82" fill="#aca8a8"/>
<rect x="477.00" y="192.18" width="13.82" height="13.82" fill="#e8ccb4"/>
<rect x="491.82" y="192.18" width="13.82" height="13.82" fill="#fcd8b8"/>
<rect x="506.64" y="192.18" width="13.82" height="13.82" fill="#b4aca8"/>
<rect x="521.46" y="192.18" width="13.82" height="13.82" fill="#9c9ca4"/>
<rect x="536.28" y="192.18" width="13.82" height="13.82" fill="#8c94a4"/>
<rect x="551.10" y="192.18" width="13.82" height="13.82" fill="#9c9ca4"/>
<rect x="565.92" y="192.18" width="13.82" height="13.82" fill="#7088a0"/>
<rect x="580.74" y="192.18" width="13.82" height="13.82" fill="#f0bca4"/>
<rect x="595.56" y="192.18" width="13.82" height="13.82" fill="#ecb8a0"/>
<rect x="610.38" y="192.18" width="13.82" height="13.82" fill="#8c94a4"/>
<rect x="625.20" y="192.18" width="13.82" height="13.82" fill="#9c9ca4"/>
<rect x="640.02" y="192.18" width="13.82" height="13.82" fill="#7c8ca4"/>
<rect x="654.84" y="192.18" width="13.82" height="13.82" fill="#4c7098"/>
<rect x="669.66" y="192.18" width="13.82" height="13.82" fill="#7c8ca4"/>
<rect x="684.48" y="192.18" width="13.82" height="13.82" fill="#7c8ca4"/>
<rect x="699.30" y="192.18" width="13.82" height="13.82" fill="#7c8ca4"/>
<rect x="714.12" y="192.18" width="13.82" height="13.82" fill="#b4aca8"/>
<rect x="728.94" y="192.18" width="13.82" height="13.82" fill="#e4c8b4"/>
<rect x="743.76" y="192.18" width="13.82" height="13.82" fill="#8c94a4"/>
<rect x="477.00" y="207.00" width="13.82" height="13.82" fill="#a0a0a4"/>
<rect x="491.82" y="207.00" width="13.82" height="13.82" fill="#a0a0a4"/>
<rect x="506.64" y="207.00" width="13.82" height="13.82" fill="#7888a4"/>
<rect x="521.46" y="207.00" width="13.82" height="13.82" fill="#406894"/>
<rect x="536.28" y="207.00" width="13.82" height="13.82" fill="#4c7098"/>
<rect x="551.10" y="207.00" width="13.82" height="13.82" fill="#587ca0"/>
<rect x="565.92" y="207.00" width="13.82" height="13.82" fill="#406894"/>
<rect x="580.74" y="207.00" width="13.82" height="13.82" fill="#aca8a8"/>
<rect x="595.56" y="207.00" width="13.82" height="13.82" fill="#a8a6a6"/>
<rect x="610.38" y="207.00" width="13.82" height="13.82" fill="#9c9ca4"/>
<rect x="625.20" y="207.00" width="13.82" height="13.82" fill="#305c90"/>
<rect x="640.02" y="207.00" width="13.82" height="13.82" fill="#4c7098"/>
<rect x="654.84" y="207.00" width="13.82" height="13.82" fill="#305c90"/>
<rect x="669.66" y="207.00" width="13.82" height="13.82" fill="#4c7098"/>
<rect x="684.48" y="207.00" width="13.82" height="13.82" fill="#4c7098"/>
<rect x="699.30" y="207.00" width="13.82" height="13.82" fill="#4c7098"/>
<rect x="714.12" y="207.00" width="13.82" height="13.82" fill="#6484a4"/>
<rect x="728.94" y="207.00" width="13.82" height="13.82" fill="#7c8ca4"/>
<rect x="743.76" y="207.00" width="13.82" height="13.82" fill="#4c7098"/>
<rect x="477.00" y="221.82" width="13.82" height="13.82" fill="#587ca0"/>
<rect x="491.82" y="221.82" width="13.82" height="13.82" fill="#6484a4"/>
<rect x="506.64" y="221.82" width="13.82" height="13.82" fill="#4c7098"/>
<rect x="521.46" y="221.82" width="13.82" height="13.82" fill="#305c90"/>
<rect x="536.28" y="221.82" width="13.82" height="13.82" fill="#386490"/>
<rect x="551.10" y="221.82" width="13.82" height="13.82" fill="#4c7098"/>
<rect x="565.92" y="221.82" width="13.82" height="13.82" fill="#305c90"/>
<rect x="580.74" y="221.82" width="13.82" height="13.82" fill="#7888a4"/>
<rect x="595.56" y="221.82" width="13.82" height="13.82" fill="#7088a4"/>
<rect x="610.38" y="221.82" width="13.82" height="13.82" fill="#6c84a4"/>
<rect x="625.20" y="221.82" width="13.82" height="13.82" fill="#4c7098"/>
<rect x="640.02" y="221.82" width="13.82" height="13.82" fill="#285890"/>
<rect x="654.84" y="221.82" width="13.82" height="13.82" fill="#386490"/>
<rect x="669.66" y="221.82" width="13.82" height="13.82" fill="#305c90"/>
<rect x="684.48" y="221.82" width="13.82" height="13.82" fill="#305c90"/>
<rect x="699.30" y="221.82" width="13.82" height="13.82" fill="#386490"/>
<rect x="714.12" y="221.82" width="13.82" height="13.82" fill="#587ca0"/>
<rect x="728.94" y="221.82" width="13.82" height="13.82" fill="#4c7098"/>
<rect x="743.76" y="221.82" width="13.82" height="13.82" fill="#305c90"/>
<rect x="477.00" y="236.64" width="13.82" height="13.82" fill="#4c7098"/>
<rect x="491.82" y="236.64" width="13.82" height="13.82" fill="#406894"/>
<rect x="506.64" y="236.64" width="13.82" height="13.82" fill="#285890"/>
<rect x="521.46" y="236.64" width="13.82" height="13.82" fill="#245490"/>
<rect x="536.28" y="236.64" width="13.82" height="13.82" fill="#245490"/>
<rect x="551.10" y="236.64" width="13.82" height="13.82" fill="#305c90"/>
<rect x="565.92" y="236.64" width="13.82" height="13.82" fill="#1c4c88"/>
<rect x="580.74" y="236.64" width="13.82" height="13.82" fill="#6484a4"/>
<rect x="595.56" y="236.64" width="13.82" height="13.82" fill="#6c84a4"/>
<rect x="610.38" y="236.64" width="13.82" height="13.82" fill="#406894"/>
<rect x="625.20" y="236.64" width="13.82" height="13.82" fill="#285890"/>
<rect x="640.02" y="236.64" width="13.82" height="13.82" fill="#386490"/>
<rect x="654.84" y="236.64" width="13.82" height="13.82" fill="#1c4c88"/>
<rect x="669.66" y="236.64" width="13.82" height="13.82" fill="#245490"/>
<rect x="684.48" y="236.64" width="13.82" height="13.82" fill="#245490"/>
<rect x="699.30" y="236.64" width="13.82" height="13.82" fill="#245490"/>
<rect x="714.12" y="236.64" width="13.82" height="13.82" fill="#285890"/>
<rect x="728.94" y="236.64" width="13.82" height="13.82" fill="#386490"/>
<rect x="743.76" y="236.64" width="13.82" height="13.82" fill="#285890"/>
<rect x="477.00" y="251.46" width="13.82" height="13.82" fill="#f0b4a0"/>
<rect x="491.82" y="251.46" width="13.82" height="13.82" fill="#e8a8a0"/>
<rect x="506.64" y="251.46" width="13.82" height="13.82" fill="#c8b8ac"/>
<rect x="521.46" y="251.46" width="13.82" height="13.82" fill="#406894"/>
<rect x="536.28" y="251.46" width="13.82" height="13.82" fill="#587ca0"/>
<rect x="551.10" y="251.46" width="13.82" height="13.82" fill="#6484a4"/>
<rect x="565.92" y="251.46" width="13.82" height="13.82" fill="#406894"/>
<rect x="580.74" y="251.46" width="13.82" height="13.82" fill="#9c9ca4"/>
<rect x="595.56" y="251.46" width="13.82" height="13.82" fill="#a4a2a2"/>
<rect x="610.38" y="251.46" width="13.82" height="13.82" fill="#7888a4"/>
<rect x="625.20" y="251.46" width="13.82" height="13.82" fill="#4c7098"/>
<rect x="640.02" y="251.46" width="13.82" height="13.82" fill="#305c90"/>
<rect x="654.84" y="251.46" width="13.82" height="13.82" fill="#285890"/>
<rect x="669.66" y="251.46" width="13.82" height="13.82" fill="#7088a4"/>
<rect x="684.48" y="251.46" width="13.82" height="13.82" fill="#f4d4b8"/>
<rect x="699.30" y="251.46" width="13.82" height="13.82" fill="#d8c0b0"/>
<rect x="714.12" y="251.46" width="13.82" height="13.82" fill="#f8d8b8"/>
<rect x="728.94" y="251.46" width="13.82" height="13.82" fill="#e09898"/>
<rect x="743.76" y="251.46" width="13.82" height="13.82" fill="#f8d8b8"/>
<rect x="477.00" y="266.28" width="13.82" height="13.82" fill="#ecd0b4"/>
<rect x="491.82" y="266.28" width="13.82" height="13.82" fill="#f4c4a8"/>
<rect x="506.64" y="266.28" width="13.82" height="13.82" fill="#a4a2a2"/>
<rect x="521.46" y="266.28" width="13.82" height="13.82" fill="#406894"/>
<rect x="536.28" y="266.28" width="13.82" height="13.82" fill="#5478a0"/>
<rect x="551.10" y="266.28" width="13.82" height="13.82" fill="#5478a0"/>
<rect x="565.92" y="266.28" width="13.82" height="13.82" fill="#386490"/>
<rect x="580.74" y="266.28" width="13.82" height="13.82" fill="#949aa4"/>
<rect x="595.56" y="266.28" width="13.82" height="13.82" fill="#a4a2a2"/>
<rect x="610.38" y="266.28" width="13.82" height="13.82" fill="#7c8ca4"/>
<rect x="625.20" y="266.28" width="13.82" height="13.82" fill="#4c7098"/>
<rect x="640.02" y="266.28" width="13.82" height="13.82" fill="#305c90"/>
<rect x="654.84" y="266.28" width="13.82" height="13.82" fill="#285890"/>
<rect x="669.66" y="266.28" width="13.82" height="13.82" fill="#f0d0b4"/>
<rect x="684.48" y="266.28" width="13.82" height="13.82" fill="#6c84a4"/>
<rect x="699.30" y="266.28" width="13.82" height="13.82" fill="#b8aca8"/>
<rect x="714.12" y="266.28" width="13.82" height="13.82" fill="#e4c8b4"/>
<rect x="728.94" y="266.28" width="13.82" height="13.82" fill="#e4a0a0"/>
<rect x="743.76" y="266.28" width="13.82" height="13.82" fill="#f8d8b8"/>
<rect x="477.00" y="281.10" width="13.82" height="13.82" fill="#e0c8b4"/>
<rect x="491.82" y="281.10" width="13.82" height="13.82" fill="#fcd8b8"/>
<rect x="506.64" y="281.10" width="13.82" height="13.82" fill="#a4a2a2"/>
<rect x="521.46" y="281.10" width="13.82" height="13.82" fill="#406894"/>
<rect x="536.28" y="281.10" width="13.82" height="13.82" fill="#4c7098"/>
<rect x="551.10" y="281.10" width="13.82" height="13.82" fill="#4c7098"/>
<rect x="565.92" y="281.10" width="13.82" height="13.82" fill="#386490"/>
<rect x="580.74" y="281.10" width="13.82" height="13.82" fill="#9c9ca4"/>
<rect x="595.56" y="281.10" width="13.82" height="13.82" fill="#a8a6a6"/>
<rect x="610.38" y="281.10" width="13.82" height="13.82" fill="#7c8ca4"/>
<rect x="625.20" y="281.10" width="13.82" height="13.82" fill="#4c7098"/>
<rect x="640.02" y="281.10" width="13.82" height="13.82" fill="#386490"/>
<rect x="654.84" y="281.10" width="13.82" height="13.82" fill="#285890"/>
<rect x="669.66" y="281.10" width="13.82" height="13.82" fill="#d4c0b0"/>
<rect x="684.48" y="281.10" width="13.82" height="13.82" fill="#b8aca8"/>
<rect x="699.30" y="281.10" width="13.82" height="13.82" fill="#4c7098"/>
<rect x="714.12" y="281.10" width="13.82" height="13.82" fill="#d8c4b4"/>
<rect x="728.94" y="281.10" width="13.82" height="13.82" fill="#e8aca0"/>
<rect x="743.76" y="281.10" width="13.82" height="13.82" fill="#ecd0b8"/>
<rect x="477.00" y="295.92" width="13.82" height="13.82" fill="#e8a8a0"/>
<rect x="491.82" y="295.92" width="13.82" height="13.82" fill="#c87888"/>
<rect x="506.64" y="295.92" width="13.82" height="13.82" fill="#ecd0b4"/>
<rect x="521.46" y="295.92" width="13.82" height="13.82" fill="#6c84a4"/>
<rect x="536.28" y="295.92" width="13.82" height="13.82" fill="#7888a4"/>
<rect x="551.10" y="295.92" width="13.82" height="13.82" fill="#8090a4"/>
<rect x="565.92" y="295.92" width="13.82" height="13.82" fill="#587ca0"/>
<rect x="580.74" y="295.92" width="13.82" height="13.82" fill="#d4c0b0"/>
<rect x="595.56" y="295.92" width="13.82" height="13.82" fill="#e0c8b4"/>
<rect x="610.38" y="295.92" width="13.82" height="13.82" fill="#b8aca8"/>
<rect x="625.20" y="295.92" width="13.82" height="13.82" fill="#7088a4"/>
<rect x="640.02" y="295.92" width="13.82" height="13.82" fill="#5c7ca0"/>
<rect x="654.84" y="295.92" width="13.82" height="13.82" fill="#305c90"/>
<rect x="669.66" y="295.92" width="13.82" height="13.82" fill="#f8d8b8"/>
<rect x="684.48" y="295.92" width="13.82" height="13.82" fill="#e4c8b4"/>
<rect x="699.30" y="295.92" width="13.82" height="13.82" fill="#dcc4b4"/>
<rect x="714.12" y="295.92" width="13.82" height="13.82" fill="#8090a4"/>
<rect x="728.94" y="295.92" width="13.82" height="13.82" fill="#c87888"/>
<rect x="743.76" y="295.92" width="13.82" height="13.82" fill="#f0d4b8"/>
<rect x="477.00" y="310.74" width="13.82" height="13.82" fill="#902060"/>
<rect x="491.82" y="310.74" width="13.82" height="13.82" fill="#8a0a50"/>
<rect x="506.64" y="310.74" width="13.82" height="13.82" fill="#d08890"/>
<rect x="521.46" y="310.74" width="13.82" height="13.82" fill="#6c84a4"/>
<rect x="536.28" y="310.74" width="13.82" height="13.82" fill="#aca8a8"/>
<rect x="551.10" y="310.74" width="13.82" height="13.82" fill="#949aa4"/>
<rect x="565.92" y="310.74" width="13.82" height="13.82" fill="#587ca0"/>
<rect x="580.74" y="310.74" width="13.82" height="13.82" fill="#f8d8b8"/>
<rect x="595.56" y="310.74" width="13.82" height="13.82" fill="#f8d8b8"/>
<rect x="610.38" y="310.74" width="13.82" height="13.82" fill="#e4ccb4"/>
<rect x="625.20" y="310.74" width="13.82" height="13.82" fill="#8890a4"/>
<rect x="640.02" y="310.74" width="13.82" height="13.82" fill="#406894"/>
<rect x="654.84" y="310.74" width="13.82" height="13.82" fill="#305c90"/>
<rect x="669.66" y="310.74" width="13.82" height="13.82" fill="#e09ca0"/>
<rect x="684.48" y="310.74" width="13.82" height="13.82" fill="#e4a0a0"/>
<rect x="699.30" y="310.74" width="13.82" height="13.82" fill="#e8aca0"/>
<rect x="714.12" y="310.74" width="13.82" height="13.82" fill="#c87888"/>
<rect x="728.94" y="310.74" width="13.82" height="13.82" fill="#fcd8b8"/>
<rect x="743.76" y="310.74" width="13.82" height="13.82" fill="#e09898"/>
<rect x="477.00" y="325.56" width="13.82" height="13.82" fill="#f0bca4"/>
<rect x="491.82" y="325.56" width="13.82" height="13.82" fill="#e8ac9c"/>
<rect x="506.64" y="325.56" width="13.82" height="13.82" fill="#b8aca8"/>
<rect x="521.46" y="325.56" width="13.82" height="13.82" fill="#406894"/>
<rect x="536.28" y="325.56" width="13.82" height="13.82" fill="#6484a4"/>
<rect x="551.10" y="325.56" width="13.82" height="13.82" fill="#587ca0"/>
<rect x="565.92" y="325.56" width="13.82" height="13.82" fill="#305c90"/>
<rect x="580.74" y="325.56" width="13.82" height="13.82" fill="#a4a2a2"/>
<rect x="595.56" y="325.56" width="13.82" height="13.82" fill="#b0aaa8"/>
<rect x="610.38" y="325.56" width="13.82" height="13.82" fill="#9498a4"/>
<rect x="625.20" y="325.56" width="13.82" height="13.82" fill="#5c7ca0"/>
<rect x="640.02" y="325.56" width="13.82" height="13.82" fill="#386490"/>
<rect x="654.84" y="325.56" width="13.82" height="13.82" fill="#285890"/>
<rect x="669.66" y="325.56" width="13.82" height="13.82" fill="#f8d8b8"/>
<rect x="684.48" y="325.56" width="13.82" height="13.82" fill="#f8d8b8"/>
<rect x="699.30" y="325.56" width="13.82" height="13.82" fill="#ecd0b4"/>
<rect x="714.12" y="325.56" width="13.82" height="13.82" fill="#f4d4b8"/>
<rect x="728.94" y="325.56" width="13.82" height="13.82" fill="#e09898"/>
<rect x="743.76" y="325.56" width="13.82" height="13.82" fill="#7c8ca4"/>
<text x="763.50" y="70.51" font-size="13.6">Endo</text>
<text x="763.50" y="85.33" font-size="13.6">Fibro</text>
<text x="763.50" y="100.15" font-size="13.6">SMCs</text>
<text x="763.50" y="114.97" font-size="13.6">CD4 T</text>
<text x="763.50" y="129.79" font-size="13.6">CD8 T</text>
<text x="763.50" y="144.61" font-size="13.6">NKs</text>
<text x="763.50" y="159.43" font-size="13.6">B</text>
<text x="763.50" y="174.25" font-size="13.6">Macro</text>
<text x="763.50" y="189.07" font-size="13.6">Mono</text>
<text x="763.50" y="203.89" font-size="13.6">DCs</text>
<text x="763.50" y="218.71" font-size="13.6">Mast</text>
<text x="763.50" y="233.53" font-size="13.6">Neutrophils</text>
<text x="763.50" y="248.35" font-size="13.6">Plasma</text>
<text x="763.50" y="263.17" font-size="13.6">Basal</text>
<text x="763.50" y="277.99" font-size="13.6">Neural-1</text>
<text x="763.50" y="292.81" font-size="13.6">Neural-2</text>
<text x="763.50" y="307.63" font-size="13.6">Mesenchymal-1</text>
<text x="763.50" y="322.45" font-size="13.6">Mesenchymal-2</text>
<text x="763.50" y="337.27" font-size="13.6">Mesenchymal-3</text>
<text x="488.71" y="346.30" font-size="13.7" text-anchor="end" transform="rotate(-90.00 488.71 346.30)">Endo</text>
<text x="503.53" y="346.30" font-size="13.7" text-anchor="end" transform="rotate(-90.00 503.53 346.30)">Fibro</text>
<text x="518.35" y="346.30" font-size="13.7" text-anchor="end" transform="rotate(-90.00 518.35 346.30)">SMCs</text>
<text x="533.17" y="346.30" font-size="13.7" text-anchor="end" transform="rotate(-90.00 533.17 346.30)">CD4 T</text>
<text x="547.99" y="346.30" font-size="13.7" text-anchor="end" transform="rotate(-90.00 547.99 346.30)">CD8 T</text>
<text x="562.81" y="346.30" font-size="13.7" text-anchor="end" transform="rotate(-90.00 562.81 346.30)">NKs</text>
<text x="577.63" y="346.30" font-size="13.7" text-anchor="end" transform="rotate(-90.00 577.63 346.30)">B</text>
<text x="592.45" y="346.30" font-size="13.7" text-anchor="end" transform="rotate(-90.00 592.45 346.30)">Macro</text>
<text x="607.27" y="346.30" font-size="13.7" text-anchor="end" transform="rotate(-90.00 607.27 346.30)">Mono</text>
<text x="622.09" y="346.30" font-size="13.7" text-anchor="end" transform="rotate(-90.00 622.09 346.30)">DCs</text>
<text x="636.91" y="346.30" font-size="13.7" text-anchor="end" transform="rotate(-90.00 636.91 346.30)">Mast</text>
<text x="651.73" y="346.30" font-size="13.7" text-anchor="end" transform="rotate(-90.00 651.73 346.30)">Neutrophils</text>
<text x="666.55" y="346.30" font-size="13.7" text-anchor="end" transform="rotate(-90.00 666.55 346.30)">Plasma</text>
<text x="681.37" y="346.30" font-size="13.7" text-anchor="end" transform="rotate(-90.00 681.37 346.30)">Basal</text>
<text x="696.19" y="346.30" font-size="13.7" text-anchor="end" transform="rotate(-90.00 696.19 346.30)">Neural-1</text>
<text x="711.01" y="346.30" font-size="13.7" text-anchor="end" transform="rotate(-90.00 711.01 346.30)">Neural-2</text>
<text x="725.83" y="346.30" font-size="13.7" text-anchor="end" transform="rotate(-90.00 725.83 346.30)">Mesenchymal-1</text>
<text x="740.65" y="346.30" font-size="13.7" text-anchor="end" transform="rotate(-90.00 740.65 346.30)">Mesenchymal-2</text>
<text x="755.47" y="346.30" font-size="13.7" text-anchor="end" transform="rotate(-90.00 755.47 346.30)">Mesenchymal-3</text>
<defs><linearGradient id="hmcb" x1="0" y1="1" x2="0" y2="0"><stop offset="0" stop-color="#184a8a"/><stop offset="0.13" stop-color="#41689a"/><stop offset="0.22" stop-color="#6c86a6"/><stop offset="0.33" stop-color="#a2a2a6"/><stop offset="0.42" stop-color="#d6c4b6"/><stop offset="0.49" stop-color="#fbd8bc"/><stop offset="0.6" stop-color="#eaa8a0"/><stop offset="0.72" stop-color="#d27c8c"/><stop offset="0.85" stop-color="#b8456e"/><stop offset="1.0" stop-color="#8a0a50"/></linearGradient></defs>
<rect x="811.3" y="59.8" width="8" height="117.6" fill="url(#hmcb)" stroke="#555" stroke-width="0.4"/>
<line x1="819.3" x2="821.3" y1="77.2" y2="77.2" stroke="#555" stroke-width="0.6"/>
<text x="824.00" y="81.40" font-size="12.2" fill="#333">200</text>
<line x1="819.3" x2="821.3" y1="102.4" y2="102.4" stroke="#555" stroke-width="0.6"/>
<text x="824.00" y="106.60" font-size="12.2" fill="#333">150</text>
<line x1="819.3" x2="821.3" y1="127.1" y2="127.1" stroke="#555" stroke-width="0.6"/>
<text x="824.00" y="131.30" font-size="12.2" fill="#333">100</text>
<line x1="819.3" x2="821.3" y1="152.2" y2="152.2" stroke="#555" stroke-width="0.6"/>
<text x="824.00" y="156.40" font-size="12.2" fill="#333">50</text>
<line x1="86.5" x2="86.5" y1="465" y2="588.0" stroke="#999" stroke-width="1"/>
<line x1="86.5" x2="86.5" y1="595.5" y2="719" stroke="#5070a8" stroke-width="1"/>
<line x1="81.0" x2="86.5" y1="587.00" y2="587.00" stroke="#888" stroke-width="0.8"/>
<text x="77.20" y="590.90" font-size="11.2" text-anchor="end" fill="#555">0</text>
<line x1="81.0" x2="86.5" y1="596.50" y2="596.50" stroke="#888" stroke-width="0.8"/>
<text x="77.20" y="600.40" font-size="11.2" text-anchor="end" fill="#555">0</text>
<line x1="81.0" x2="86.5" y1="549.50" y2="549.50" stroke="#888" stroke-width="0.8"/>
<text x="77.20" y="553.40" font-size="11.2" text-anchor="end" fill="#555">40</text>
<line x1="81.0" x2="86.5" y1="633.62" y2="633.62" stroke="#888" stroke-width="0.8"/>
<text x="77.20" y="637.52" font-size="11.2" text-anchor="end" fill="#555">40</text>
<line x1="81.0" x2="86.5" y1="512.00" y2="512.00" stroke="#888" stroke-width="0.8"/>
<text x="77.20" y="515.90" font-size="11.2" text-anchor="end" fill="#555">80</text>
<line x1="81.0" x2="86.5" y1="670.74" y2="670.74" stroke="#888" stroke-width="0.8"/>
<text x="77.20" y="674.64" font-size="11.2" text-anchor="end" fill="#555">80</text>
<line x1="81.0" x2="86.5" y1="474.50" y2="474.50" stroke="#888" stroke-width="0.8"/>
<text x="77.20" y="478.40" font-size="11.2" text-anchor="end" fill="#555">120</text>
<line x1="81.0" x2="86.5" y1="707.86" y2="707.86" stroke="#888" stroke-width="0.8"/>
<text x="77.20" y="711.76" font-size="11.2" text-anchor="end" fill="#555">120</text>
<rect x="87.90" y="584.38" width="9.18" height="2.62" fill="#56b4e6" stroke="#162a5c" stroke-width="1.2"/>
<rect x="87.90" y="596.50" width="9.18" height="6.50" fill="#56b4e6" stroke="#162a5c" stroke-width="1.2"/>
<rect x="98.27" y="579.69" width="9.18" height="7.31" fill="#e31e24" stroke="#162a5c" stroke-width="1.2"/>
<rect x="98.27" y="596.50" width="9.18" height="9.28" fill="#e31e24" stroke="#162a5c" stroke-width="1.2"/>
<rect x="108.65" y="574.34" width="9.18" height="12.66" fill="#e7298a" stroke="#162a5c" stroke-width="1.2"/>
<rect x="108.65" y="596.50" width="9.18" height="8.35" fill="#e7298a" stroke="#162a5c" stroke-width="1.2"/>
<rect x="119.02" y="571.06" width="9.18" height="15.94" fill="#8e0a3c" stroke="#162a5c" stroke-width="1.2"/>
<rect x="119.02" y="596.50" width="9.18" height="4.64" fill="#8e0a3c" stroke="#162a5c" stroke-width="1.2"/>
<rect x="129.40" y="565.62" width="9.18" height="21.38" fill="#984ea3" stroke="#162a5c" stroke-width="1.2"/>
<rect x="129.40" y="596.50" width="9.18" height="18.56" fill="#984ea3" stroke="#162a5c" stroke-width="1.2"/>
<rect x="139.78" y="565.62" width="9.18" height="21.38" fill="#c3a3d1" stroke="#162a5c" stroke-width="1.2"/>
<rect x="139.78" y="596.50" width="9.18" height="17.17" fill="#c3a3d1" stroke="#162a5c" stroke-width="1.2"/>
<rect x="150.15" y="563.56" width="9.18" height="23.44" fill="#f39200" stroke="#162a5c" stroke-width="1.2"/>
<rect x="150.15" y="596.50" width="9.18" height="7.42" fill="#f39200" stroke="#162a5c" stroke-width="1.2"/>
<rect x="160.53" y="552.31" width="9.18" height="34.69" fill="#56b4e6" stroke="#162a5c" stroke-width="1.2"/>
<rect x="160.53" y="596.50" width="9.18" height="19.49" fill="#56b4e6" stroke="#162a5c" stroke-width="1.2"/>
<rect x="170.90" y="543.88" width="9.18" height="43.12" fill="#4daf4a" stroke="#162a5c" stroke-width="1.2"/>
<rect x="170.90" y="596.50" width="9.18" height="25.06" fill="#4daf4a" stroke="#162a5c" stroke-width="1.2"/>
<rect x="181.28" y="543.88" width="9.18" height="43.12" fill="#a65628" stroke="#162a5c" stroke-width="1.2"/>
<rect x="181.28" y="596.50" width="9.18" height="51.04" fill="#a65628" stroke="#162a5c" stroke-width="1.2"/>
<rect x="191.65" y="539.19" width="9.18" height="47.81" fill="#232b70" stroke="#162a5c" stroke-width="1.2"/>
<rect x="191.65" y="596.50" width="9.18" height="17.63" fill="#232b70" stroke="#162a5c" stroke-width="1.2"/>
<rect x="202.03" y="537.31" width="9.18" height="49.69" fill="#d5505f" stroke="#162a5c" stroke-width="1.2"/>
<rect x="202.03" y="596.50" width="9.18" height="51.04" fill="#d5505f" stroke="#162a5c" stroke-width="1.2"/>
<rect x="212.40" y="536.38" width="9.18" height="50.62" fill="#3c5a9c" stroke="#162a5c" stroke-width="1.2"/>
<rect x="212.40" y="596.50" width="9.18" height="44.54" fill="#3c5a9c" stroke="#162a5c" stroke-width="1.2"/>
<rect x="222.78" y="532.62" width="9.18" height="54.38" fill="#f783c0" stroke="#162a5c" stroke-width="1.2"/>
<rect x="222.78" y="596.50" width="9.18" height="76.10" fill="#f783c0" stroke="#162a5c" stroke-width="1.2"/>
<rect x="233.15" y="526.06" width="9.18" height="60.94" fill="#008c8c" stroke="#162a5c" stroke-width="1.2"/>
<rect x="233.15" y="596.50" width="9.18" height="67.74" fill="#008c8c" stroke="#162a5c" stroke-width="1.2"/>
<rect x="243.53" y="522.31" width="9.18" height="64.69" fill="#e6b800" stroke="#162a5c" stroke-width="1.2"/>
<rect x="243.53" y="596.50" width="9.18" height="73.31" fill="#e6b800" stroke="#162a5c" stroke-width="1.2"/>
<line x1="87.3" x2="253.3" y1="587.00" y2="587.00" stroke="#162a5c" stroke-width="1.6"/>
<line x1="87.3" x2="253.3" y1="596.50" y2="596.50" stroke="#162a5c" stroke-width="1.6"/>
<text x="259.80" y="512.70" font-size="12.3" transform="rotate(90.00 259.80 512.70)">Incoming</text>
<text x="259.80" y="635.00" font-size="12.3" transform="rotate(90.00 259.80 635.00)">Outgoing</text>
<text x="115.50" y="486.00" font-size="12" text-anchor="middle">X</text>
<text x="115.50" y="497.00" font-size="12" text-anchor="middle">(ligand)</text>
<line x1="115.5" x2="115.5" y1="532.7" y2="507.3" stroke="#111" stroke-width="1.1"/><path d="M112.9,508.8 L115.5,503.3 L118.1,508.8 Z" fill="#111"/>
<text x="116.30" y="547.50" font-size="12" text-anchor="middle">Basal</text>
<text x="116.30" y="561.00" font-size="12" text-anchor="middle">(receptor)</text>
<text x="116.30" y="629.00" font-size="12" text-anchor="middle">Basal</text>
<text x="116.30" y="643.50" font-size="12" text-anchor="middle">(ligand)</text>
<line x1="115.5" x2="115.5" y1="647.3" y2="674.3" stroke="#111" stroke-width="1.1"/><path d="M112.9,672.8 L115.5,678.3 L118.1,672.8 Z" fill="#111"/>
<text x="116.30" y="691.00" font-size="12" text-anchor="middle">X</text>
<text x="116.30" y="703.50" font-size="12" text-anchor="middle">(receptor)</text>
<line x1="304.0" x2="304.0" y1="465" y2="588.0" stroke="#8ea0c8" stroke-width="1"/>
<line x1="304.0" x2="304.0" y1="595.5" y2="719" stroke="#8ea0c8" stroke-width="1"/>
<line x1="298.5" x2="304.0" y1="587.00" y2="587.00" stroke="#888" stroke-width="0.8"/>
<text x="294.70" y="590.90" font-size="11.2" text-anchor="end" fill="#555">0</text>
<line x1="298.5" x2="304.0" y1="596.50" y2="596.50" stroke="#888" stroke-width="0.8"/>
<text x="294.70" y="600.40" font-size="11.2" text-anchor="end" fill="#555">0</text>
<line x1="298.5" x2="304.0" y1="549.50" y2="549.50" stroke="#888" stroke-width="0.8"/>
<text x="294.70" y="553.40" font-size="11.2" text-anchor="end" fill="#555">40</text>
<line x1="298.5" x2="304.0" y1="633.62" y2="633.62" stroke="#888" stroke-width="0.8"/>
<text x="294.70" y="637.52" font-size="11.2" text-anchor="end" fill="#555">40</text>
<line x1="298.5" x2="304.0" y1="512.00" y2="512.00" stroke="#888" stroke-width="0.8"/>
<text x="294.70" y="515.90" font-size="11.2" text-anchor="end" fill="#555">80</text>
<line x1="298.5" x2="304.0" y1="670.74" y2="670.74" stroke="#888" stroke-width="0.8"/>
<text x="294.70" y="674.64" font-size="11.2" text-anchor="end" fill="#555">80</text>
<line x1="298.5" x2="304.0" y1="474.50" y2="474.50" stroke="#888" stroke-width="0.8"/>
<text x="294.70" y="478.40" font-size="11.2" text-anchor="end" fill="#555">120</text>
<line x1="298.5" x2="304.0" y1="707.86" y2="707.86" stroke="#888" stroke-width="0.8"/>
<text x="294.70" y="711.76" font-size="11.2" text-anchor="end" fill="#555">120</text>
<rect x="305.60" y="584.38" width="9.18" height="2.62" fill="#56b4e6" stroke="#162a5c" stroke-width="1.2"/>
<rect x="305.60" y="596.50" width="9.18" height="6.96" fill="#56b4e6" stroke="#162a5c" stroke-width="1.2"/>
<rect x="315.98" y="580.62" width="9.18" height="6.38" fill="#e31e24" stroke="#162a5c" stroke-width="1.2"/>
<rect x="315.98" y="596.50" width="9.18" height="12.90" fill="#e31e24" stroke="#162a5c" stroke-width="1.2"/>
<rect x="326.35" y="575.28" width="9.18" height="11.72" fill="#e7298a" stroke="#162a5c" stroke-width="1.2"/>
<rect x="326.35" y="596.50" width="9.18" height="12.90" fill="#e7298a" stroke="#162a5c" stroke-width="1.2"/>
<rect x="336.73" y="577.62" width="9.18" height="9.38" fill="#8e0a3c" stroke="#162a5c" stroke-width="1.2"/>
<rect x="336.73" y="596.50" width="9.18" height="9.28" fill="#8e0a3c" stroke="#162a5c" stroke-width="1.2"/>
<rect x="347.10" y="573.31" width="9.18" height="13.69" fill="#984ea3" stroke="#162a5c" stroke-width="1.2"/>
<rect x="347.10" y="596.50" width="9.18" height="17.17" fill="#984ea3" stroke="#162a5c" stroke-width="1.2"/>
<rect x="357.48" y="572.28" width="9.18" height="14.72" fill="#c3a3d1" stroke="#162a5c" stroke-width="1.2"/>
<rect x="357.48" y="596.50" width="9.18" height="17.17" fill="#c3a3d1" stroke="#162a5c" stroke-width="1.2"/>
<rect x="367.85" y="569.66" width="9.18" height="17.34" fill="#f39200" stroke="#162a5c" stroke-width="1.2"/>
<rect x="367.85" y="596.50" width="9.18" height="12.90" fill="#f39200" stroke="#162a5c" stroke-width="1.2"/>
<rect x="378.23" y="561.97" width="9.18" height="25.03" fill="#56b4e6" stroke="#162a5c" stroke-width="1.2"/>
<rect x="378.23" y="596.50" width="9.18" height="27.84" fill="#56b4e6" stroke="#162a5c" stroke-width="1.2"/>
<rect x="388.60" y="552.97" width="9.18" height="34.03" fill="#4daf4a" stroke="#162a5c" stroke-width="1.2"/>
<rect x="388.60" y="596.50" width="9.18" height="36.19" fill="#4daf4a" stroke="#162a5c" stroke-width="1.2"/>
<rect x="398.98" y="546.31" width="9.18" height="40.69" fill="#a65628" stroke="#162a5c" stroke-width="1.2"/>
<rect x="398.98" y="596.50" width="9.18" height="42.69" fill="#a65628" stroke="#162a5c" stroke-width="1.2"/>
<rect x="409.35" y="548.56" width="9.18" height="38.44" fill="#232b70" stroke="#162a5c" stroke-width="1.2"/>
<rect x="409.35" y="596.50" width="9.18" height="26.91" fill="#232b70" stroke="#162a5c" stroke-width="1.2"/>
<rect x="419.73" y="543.88" width="9.18" height="43.12" fill="#d5505f" stroke="#162a5c" stroke-width="1.2"/>
<rect x="419.73" y="596.50" width="9.18" height="51.04" fill="#d5505f" stroke="#162a5c" stroke-width="1.2"/>
<rect x="430.10" y="547.34" width="9.18" height="39.66" fill="#3c5a9c" stroke="#162a5c" stroke-width="1.2"/>
<rect x="430.10" y="596.50" width="9.18" height="40.83" fill="#3c5a9c" stroke="#162a5c" stroke-width="1.2"/>
<rect x="440.48" y="543.88" width="9.18" height="43.12" fill="#f783c0" stroke="#162a5c" stroke-width="1.2"/>
<rect x="440.48" y="596.50" width="9.18" height="55.68" fill="#f783c0" stroke="#162a5c" stroke-width="1.2"/>
<rect x="450.85" y="536.00" width="9.18" height="51.00" fill="#008c8c" stroke="#162a5c" stroke-width="1.2"/>
<rect x="450.85" y="596.50" width="9.18" height="66.82" fill="#008c8c" stroke="#162a5c" stroke-width="1.2"/>
<rect x="461.23" y="534.97" width="9.18" height="52.03" fill="#e6b800" stroke="#162a5c" stroke-width="1.2"/>
<rect x="461.23" y="596.50" width="9.18" height="64.96" fill="#e6b800" stroke="#162a5c" stroke-width="1.2"/>
<line x1="305.0" x2="471.0" y1="587.00" y2="587.00" stroke="#162a5c" stroke-width="1.6"/>
<line x1="305.0" x2="471.0" y1="596.50" y2="596.50" stroke="#162a5c" stroke-width="1.6"/>
<text x="477.50" y="513.30" font-size="12.3" transform="rotate(90.00 477.50 513.30)">Incoming</text>
<text x="477.50" y="635.00" font-size="12.3" transform="rotate(90.00 477.50 635.00)">Outgoing</text>
<text x="340.70" y="486.00" font-size="12" text-anchor="middle">X</text>
<text x="340.70" y="497.00" font-size="12" text-anchor="middle">(ligand)</text>
<line x1="340.7" x2="340.7" y1="532.7" y2="507.3" stroke="#111" stroke-width="1.1"/><path d="M338.09999999999997,508.8 L340.7,503.3 L343.3,508.8 Z" fill="#111"/>
<text x="341.50" y="547.50" font-size="12" text-anchor="middle">Neural</text>
<text x="341.50" y="561.00" font-size="12" text-anchor="middle">(receptor)</text>
<text x="341.50" y="629.00" font-size="12" text-anchor="middle">Neural</text>
<text x="341.50" y="643.50" font-size="12" text-anchor="middle">(ligand)</text>
<line x1="340.7" x2="340.7" y1="647.3" y2="674.3" stroke="#111" stroke-width="1.1"/><path d="M338.09999999999997,672.8 L340.7,678.3 L343.3,672.8 Z" fill="#111"/>
<text x="341.50" y="691.00" font-size="12" text-anchor="middle">X</text>
<text x="341.50" y="703.50" font-size="12" text-anchor="middle">(receptor)</text>
<line x1="525.0" x2="525.0" y1="467.6" y2="591.5" stroke="#8ea0c8" stroke-width="1"/>
<line x1="525.0" x2="525.0" y1="599.7" y2="721.7" stroke="#8ea0c8" stroke-width="1"/>
<line x1="519.5" x2="525.0" y1="590.50" y2="590.50" stroke="#888" stroke-width="0.8"/>
<text x="515.70" y="594.40" font-size="11.2" text-anchor="end" fill="#555">0</text>
<line x1="519.5" x2="525.0" y1="600.70" y2="600.70" stroke="#888" stroke-width="0.8"/>
<text x="515.70" y="604.60" font-size="11.2" text-anchor="end" fill="#555">0</text>
<line x1="519.5" x2="525.0" y1="553.14" y2="553.14" stroke="#888" stroke-width="0.8"/>
<text x="515.70" y="557.04" font-size="11.2" text-anchor="end" fill="#555">40</text>
<line x1="519.5" x2="525.0" y1="637.90" y2="637.90" stroke="#888" stroke-width="0.8"/>
<text x="515.70" y="641.80" font-size="11.2" text-anchor="end" fill="#555">40</text>
<line x1="519.5" x2="525.0" y1="515.78" y2="515.78" stroke="#888" stroke-width="0.8"/>
<text x="515.70" y="519.68" font-size="11.2" text-anchor="end" fill="#555">80</text>
<line x1="519.5" x2="525.0" y1="675.10" y2="675.10" stroke="#888" stroke-width="0.8"/>
<text x="515.70" y="679.00" font-size="11.2" text-anchor="end" fill="#555">80</text>
<line x1="519.5" x2="525.0" y1="478.42" y2="478.42" stroke="#888" stroke-width="0.8"/>
<text x="515.70" y="482.32" font-size="11.2" text-anchor="end" fill="#555">120</text>
<line x1="519.5" x2="525.0" y1="712.30" y2="712.30" stroke="#888" stroke-width="0.8"/>
<text x="515.70" y="716.20" font-size="11.2" text-anchor="end" fill="#555">120</text>
<rect x="526.60" y="584.15" width="9.18" height="6.35" fill="#56b4e6" stroke="#162a5c" stroke-width="1.2"/>
<rect x="526.60" y="600.70" width="9.18" height="8.00" fill="#56b4e6" stroke="#162a5c" stroke-width="1.2"/>
<rect x="536.98" y="583.59" width="9.18" height="6.91" fill="#e31e24" stroke="#162a5c" stroke-width="1.2"/>
<rect x="536.98" y="600.70" width="9.18" height="23.16" fill="#e31e24" stroke="#162a5c" stroke-width="1.2"/>
<rect x="547.35" y="567.24" width="9.18" height="23.26" fill="#e7298a" stroke="#162a5c" stroke-width="1.2"/>
<rect x="547.35" y="600.70" width="9.18" height="19.25" fill="#e7298a" stroke="#162a5c" stroke-width="1.2"/>
<rect x="557.73" y="572.29" width="9.18" height="18.21" fill="#8e0a3c" stroke="#162a5c" stroke-width="1.2"/>
<rect x="557.73" y="600.70" width="9.18" height="13.49" fill="#8e0a3c" stroke="#162a5c" stroke-width="1.2"/>
<rect x="568.10" y="562.85" width="9.18" height="27.65" fill="#984ea3" stroke="#162a5c" stroke-width="1.2"/>
<rect x="568.10" y="600.70" width="9.18" height="37.94" fill="#984ea3" stroke="#162a5c" stroke-width="1.2"/>
<rect x="578.48" y="560.61" width="9.18" height="29.89" fill="#c3a3d1" stroke="#162a5c" stroke-width="1.2"/>
<rect x="578.48" y="600.70" width="9.18" height="25.85" fill="#c3a3d1" stroke="#162a5c" stroke-width="1.2"/>
<rect x="588.85" y="559.30" width="9.18" height="31.20" fill="#f39200" stroke="#162a5c" stroke-width="1.2"/>
<rect x="588.85" y="600.70" width="9.18" height="18.97" fill="#f39200" stroke="#162a5c" stroke-width="1.2"/>
<rect x="599.23" y="544.92" width="9.18" height="45.58" fill="#56b4e6" stroke="#162a5c" stroke-width="1.2"/>
<rect x="599.23" y="600.70" width="9.18" height="45.38" fill="#56b4e6" stroke="#162a5c" stroke-width="1.2"/>
<rect x="609.60" y="532.78" width="9.18" height="57.72" fill="#4daf4a" stroke="#162a5c" stroke-width="1.2"/>
<rect x="609.60" y="600.70" width="9.18" height="53.66" fill="#4daf4a" stroke="#162a5c" stroke-width="1.2"/>
<rect x="619.98" y="506.44" width="9.18" height="84.06" fill="#a65628" stroke="#162a5c" stroke-width="1.2"/>
<rect x="619.98" y="600.70" width="9.18" height="73.47" fill="#a65628" stroke="#162a5c" stroke-width="1.2"/>
<rect x="630.35" y="528.02" width="9.18" height="62.48" fill="#232b70" stroke="#162a5c" stroke-width="1.2"/>
<rect x="630.35" y="600.70" width="9.18" height="43.99" fill="#232b70" stroke="#162a5c" stroke-width="1.2"/>
<rect x="640.73" y="522.32" width="9.18" height="68.18" fill="#d5505f" stroke="#162a5c" stroke-width="1.2"/>
<rect x="640.73" y="600.70" width="9.18" height="61.38" fill="#d5505f" stroke="#162a5c" stroke-width="1.2"/>
<rect x="651.10" y="523.07" width="9.18" height="67.43" fill="#3c5a9c" stroke="#162a5c" stroke-width="1.2"/>
<rect x="651.10" y="600.70" width="9.18" height="52.55" fill="#3c5a9c" stroke="#162a5c" stroke-width="1.2"/>
<rect x="661.48" y="516.71" width="9.18" height="73.79" fill="#f783c0" stroke="#162a5c" stroke-width="1.2"/>
<rect x="661.48" y="600.70" width="9.18" height="107.32" fill="#f783c0" stroke="#162a5c" stroke-width="1.2"/>
<rect x="671.85" y="494.02" width="9.18" height="96.48" fill="#008c8c" stroke="#162a5c" stroke-width="1.2"/>
<rect x="671.85" y="600.70" width="9.18" height="96.07" fill="#008c8c" stroke="#162a5c" stroke-width="1.2"/>
<rect x="682.23" y="471.88" width="9.18" height="118.62" fill="#e6b800" stroke="#162a5c" stroke-width="1.2"/>
<rect x="682.23" y="600.70" width="9.18" height="94.86" fill="#e6b800" stroke="#162a5c" stroke-width="1.2"/>
<line x1="526.0" x2="692.0" y1="590.50" y2="590.50" stroke="#162a5c" stroke-width="1.6"/>
<line x1="526.0" x2="692.0" y1="600.70" y2="600.70" stroke="#162a5c" stroke-width="1.6"/>
<text x="698.50" y="516.00" font-size="12.3" transform="rotate(90.00 698.50 516.00)">Incoming</text>
<text x="698.50" y="634.70" font-size="12.3" transform="rotate(90.00 698.50 634.70)">Outgoing</text>
<text x="561.50" y="483.00" font-size="12" text-anchor="middle">X</text>
<text x="561.50" y="495.20" font-size="12" text-anchor="middle">(ligand)</text>
<line x1="561.5" x2="561.5" y1="532.5" y2="506" stroke="#111" stroke-width="1.1"/><path d="M558.9,507.5 L561.5,502 L564.1,507.5 Z" fill="#111"/>
<text x="562.30" y="544.20" font-size="12" text-anchor="middle">Mesenchymal</text>
<text x="562.30" y="557.00" font-size="12" text-anchor="middle">(receptor)</text>
<text x="562.30" y="647.20" font-size="12" text-anchor="middle">Mesenchymal</text>
<text x="562.30" y="659.60" font-size="12" text-anchor="middle">(ligand)</text>
<line x1="561.5" x2="561.5" y1="662.3" y2="688.7" stroke="#111" stroke-width="1.1"/><path d="M558.9,687.2 L561.5,692.7 L564.1,687.2 Z" fill="#111"/>
<text x="562.30" y="703.80" font-size="12" text-anchor="middle">X</text>
<text x="562.30" y="717.60" font-size="12" text-anchor="middle">(receptor)</text>
<text x="725.20" y="472.40" font-size="12.8">Cell type</text>
<rect x="726.2" y="480.50" width="10.6" height="10.6" fill="#56b4e6" stroke="#9aa6c8" stroke-width="0.7"/>
<text x="743.70" y="490.10" font-size="11.8">Plasma</text>
<rect x="726.2" y="495.54" width="10.6" height="10.6" fill="#e31e24" stroke="#9aa6c8" stroke-width="0.7"/>
<text x="743.70" y="505.14" font-size="11.8">Neutrophils</text>
<rect x="726.2" y="510.58" width="10.6" height="10.6" fill="#e7298a" stroke="#9aa6c8" stroke-width="0.7"/>
<text x="743.70" y="520.18" font-size="11.8">CD4 T</text>
<rect x="726.2" y="525.62" width="10.6" height="10.6" fill="#8e0a3c" stroke="#9aa6c8" stroke-width="0.7"/>
<text x="743.70" y="535.22" font-size="11.8">B</text>
<rect x="726.2" y="540.66" width="10.6" height="10.6" fill="#984ea3" stroke="#9aa6c8" stroke-width="0.7"/>
<text x="743.70" y="550.26" font-size="11.8">CD8 T</text>
<rect x="726.2" y="555.70" width="10.6" height="10.6" fill="#c3a3d1" stroke="#9aa6c8" stroke-width="0.7"/>
<text x="743.70" y="565.30" font-size="11.8">NKs</text>
<rect x="726.2" y="570.74" width="10.6" height="10.6" fill="#f39200" stroke="#9aa6c8" stroke-width="0.7"/>
<text x="743.70" y="580.34" font-size="11.8">Mast</text>
<rect x="726.2" y="585.78" width="10.6" height="10.6" fill="#56b4e6" stroke="#9aa6c8" stroke-width="0.7"/>
<text x="743.70" y="595.38" font-size="11.8">DCs</text>
<rect x="726.2" y="600.82" width="10.6" height="10.6" fill="#4daf4a" stroke="#9aa6c8" stroke-width="0.7"/>
<text x="743.70" y="610.42" font-size="11.8">Mono</text>
<rect x="726.2" y="615.86" width="10.6" height="10.6" fill="#a65628" stroke="#9aa6c8" stroke-width="0.7"/>
<text x="743.70" y="625.46" font-size="11.8">SMCs</text>
<rect x="726.2" y="630.90" width="10.6" height="10.6" fill="#232b70" stroke="#9aa6c8" stroke-width="0.7"/>
<text x="743.70" y="640.50" font-size="11.8">Macro</text>
<rect x="726.2" y="645.94" width="10.6" height="10.6" fill="#d5505f" stroke="#9aa6c8" stroke-width="0.7"/>
<text x="743.70" y="655.54" font-size="11.8">Basal</text>
<rect x="726.2" y="660.98" width="10.6" height="10.6" fill="#3c5a9c" stroke="#9aa6c8" stroke-width="0.7"/>
<text x="743.70" y="670.58" font-size="11.8">Neural</text>
<rect x="726.2" y="676.02" width="10.6" height="10.6" fill="#f783c0" stroke="#9aa6c8" stroke-width="0.7"/>
<text x="743.70" y="685.62" font-size="11.8">Endo</text>
<rect x="726.2" y="691.06" width="10.6" height="10.6" fill="#008c8c" stroke="#9aa6c8" stroke-width="0.7"/>
<text x="743.70" y="700.66" font-size="11.8">Mesenchymal</text>
<rect x="726.2" y="706.10" width="10.6" height="10.6" fill="#e6b800" stroke="#9aa6c8" stroke-width="0.7"/>
<text x="743.70" y="715.70" font-size="11.8">Fibro</text>
<rect x="117.8" y="770.3" width="684.5" height="450.29999999999995" fill="none" stroke="#777" stroke-width="1.3"/>
<line x1="118.8" x2="801.3" y1="920.8" y2="920.8" stroke="#f02020" stroke-width="1.6" stroke-dasharray="4.2,3"/>
<line x1="118.8" x2="801.3" y1="1071.0" y2="1071.0" stroke="#f02020" stroke-width="1.6" stroke-dasharray="4.2,3"/>
<line x1="113.3" x2="117.8" y1="777.50" y2="777.50" stroke="#555" stroke-width="0.8"/>
<line x1="113.3" x2="117.8" y1="789.97" y2="789.97" stroke="#555" stroke-width="0.8"/>
<line x1="113.3" x2="117.8" y1="802.44" y2="802.44" stroke="#555" stroke-width="0.8"/>
<line x1="113.3" x2="117.8" y1="814.91" y2="814.91" stroke="#555" stroke-width="0.8"/>
<line x1="113.3" x2="117.8" y1="827.38" y2="827.38" stroke="#555" stroke-width="0.8"/>
<line x1="113.3" x2="117.8" y1="839.85" y2="839.85" stroke="#555" stroke-width="0.8"/>
<line x1="113.3" x2="117.8" y1="852.32" y2="852.32" stroke="#555" stroke-width="0.8"/>
<line x1="113.3" x2="117.8" y1="864.79" y2="864.79" stroke="#555" stroke-width="0.8"/>
<line x1="113.3" x2="117.8" y1="877.26" y2="877.26" stroke="#555" stroke-width="0.8"/>
<line x1="113.3" x2="117.8" y1="889.73" y2="889.73" stroke="#555" stroke-width="0.8"/>
<line x1="113.3" x2="117.8" y1="902.20" y2="902.20" stroke="#555" stroke-width="0.8"/>
<line x1="113.3" x2="117.8" y1="914.67" y2="914.67" stroke="#555" stroke-width="0.8"/>
<line x1="113.3" x2="117.8" y1="927.14" y2="927.14" stroke="#555" stroke-width="0.8"/>
<line x1="113.3" x2="117.8" y1="939.61" y2="939.61" stroke="#555" stroke-width="0.8"/>
<line x1="113.3" x2="117.8" y1="952.08" y2="952.08" stroke="#555" stroke-width="0.8"/>
<line x1="113.3" x2="117.8" y1="964.55" y2="964.55" stroke="#555" stroke-width="0.8"/>
<line x1="113.3" x2="117.8" y1="977.02" y2="977.02" stroke="#555" stroke-width="0.8"/>
<line x1="113.3" x2="117.8" y1="989.49" y2="989.49" stroke="#555" stroke-width="0.8"/>
<line x1="113.3" x2="117.8" y1="1001.96" y2="1001.96" stroke="#555" stroke-width="0.8"/>
<line x1="113.3" x2="117.8" y1="1014.43" y2="1014.43" stroke="#555" stroke-width="0.8"/>
<line x1="113.3" x2="117.8" y1="1026.90" y2="1026.90" stroke="#555" stroke-width="0.8"/>
<line x1="113.3" x2="117.8" y1="1039.37" y2="1039.37" stroke="#555" stroke-width="0.8"/>
<line x1="113.3" x2="117.8" y1="1051.84" y2="1051.84" stroke="#555" stroke-width="0.8"/>
<line x1="113.3" x2="117.8" y1="1064.31" y2="1064.31" stroke="#555" stroke-width="0.8"/>
<line x1="113.3" x2="117.8" y1="1076.78" y2="1076.78" stroke="#555" stroke-width="0.8"/>
<line x1="113.3" x2="117.8" y1="1089.25" y2="1089.25" stroke="#555" stroke-width="0.8"/>
<line x1="113.3" x2="117.8" y1="1101.72" y2="1101.72" stroke="#555" stroke-width="0.8"/>
<line x1="113.3" x2="117.8" y1="1114.19" y2="1114.19" stroke="#555" stroke-width="0.8"/>
<line x1="113.3" x2="117.8" y1="1126.66" y2="1126.66" stroke="#555" stroke-width="0.8"/>
<line x1="113.3" x2="117.8" y1="1139.13" y2="1139.13" stroke="#555" stroke-width="0.8"/>
<line x1="113.3" x2="117.8" y1="1151.60" y2="1151.60" stroke="#555" stroke-width="0.8"/>
<line x1="113.3" x2="117.8" y1="1164.07" y2="1164.07" stroke="#555" stroke-width="0.8"/>
<line x1="113.3" x2="117.8" y1="1176.54" y2="1176.54" stroke="#555" stroke-width="0.8"/>
<line x1="113.3" x2="117.8" y1="1189.01" y2="1189.01" stroke="#555" stroke-width="0.8"/>
<line x1="113.3" x2="117.8" y1="1201.48" y2="1201.48" stroke="#555" stroke-width="0.8"/>
<line x1="113.3" x2="117.8" y1="1213.95" y2="1213.95" stroke="#555" stroke-width="0.8"/>
<line x1="123.30" x2="123.30" y1="1220.6" y2="1225.1" stroke="#555" stroke-width="0.8"/>
<text x="126.60" y="1231.90" font-size="9.4" text-anchor="end" fill="#222" transform="rotate(-90.00 126.60 1231.90)" textLength="54.4" lengthAdjust="spacingAndGlyphs">NRG2_ERBB3</text>
<line x1="132.40" x2="132.40" y1="1220.6" y2="1225.1" stroke="#555" stroke-width="0.8"/>
<text x="135.70" y="1231.90" font-size="9.4" text-anchor="end" fill="#222" transform="rotate(-90.00 135.70 1231.90)" textLength="54.4" lengthAdjust="spacingAndGlyphs">ERBB3_NRG1</text>
<line x1="141.50" x2="141.50" y1="1220.6" y2="1225.1" stroke="#555" stroke-width="0.8"/>
<text x="144.80" y="1231.90" font-size="9.4" text-anchor="end" fill="#222" transform="rotate(-90.00 144.80 1231.90)" textLength="59.9" lengthAdjust="spacingAndGlyphs">ERBB4_HBEGF</text>
<line x1="150.59" x2="150.59" y1="1220.6" y2="1225.1" stroke="#555" stroke-width="0.8"/>
<text x="153.89" y="1231.90" font-size="9.4" text-anchor="end" fill="#222" transform="rotate(-90.00 153.89 1231.90)" textLength="41.1" lengthAdjust="spacingAndGlyphs">KIT_KITLG</text>
<line x1="159.69" x2="159.69" y1="1220.6" y2="1225.1" stroke="#555" stroke-width="0.8"/>
<text x="162.99" y="1231.90" font-size="9.4" text-anchor="end" fill="#222" transform="rotate(-90.00 162.99 1231.90)" textLength="43.4" lengthAdjust="spacingAndGlyphs">MDK_LRP1</text>
<line x1="168.79" x2="168.79" y1="1220.6" y2="1225.1" stroke="#555" stroke-width="0.8"/>
<text x="172.09" y="1231.90" font-size="9.4" text-anchor="end" fill="#222" transform="rotate(-90.00 172.09 1231.90)" textLength="60.3" lengthAdjust="spacingAndGlyphs">FGFR1_NCAM1</text>
<line x1="177.89" x2="177.89" y1="1220.6" y2="1225.1" stroke="#555" stroke-width="0.8"/>
<text x="181.19" y="1231.90" font-size="9.4" text-anchor="end" fill="#222" transform="rotate(-90.00 181.19 1231.90)" textLength="52.6" lengthAdjust="spacingAndGlyphs">FGFR1_FGF9</text>
<line x1="186.99" x2="186.99" y1="1220.6" y2="1225.1" stroke="#555" stroke-width="0.8"/>
<text x="190.29" y="1231.90" font-size="9.4" text-anchor="end" fill="#222" transform="rotate(-90.00 190.29 1231.90)" textLength="52.6" lengthAdjust="spacingAndGlyphs">FGFR1_FGF7</text>
<line x1="196.08" x2="196.08" y1="1220.6" y2="1225.1" stroke="#555" stroke-width="0.8"/>
<text x="199.38" y="1231.90" font-size="9.4" text-anchor="end" fill="#222" transform="rotate(-90.00 199.38 1231.90)" textLength="52.6" lengthAdjust="spacingAndGlyphs">FGFR1_FGF5</text>
<line x1="205.18" x2="205.18" y1="1220.6" y2="1225.1" stroke="#555" stroke-width="0.8"/>
<text x="208.48" y="1231.90" font-size="9.4" text-anchor="end" fill="#222" transform="rotate(-90.00 208.48 1231.90)" textLength="52.6" lengthAdjust="spacingAndGlyphs">FGF2_FGFR1</text>
<line x1="214.28" x2="214.28" y1="1220.6" y2="1225.1" stroke="#555" stroke-width="0.8"/>
<text x="217.58" y="1231.90" font-size="9.4" text-anchor="end" fill="#222" transform="rotate(-90.00 217.58 1231.90)" textLength="58.0" lengthAdjust="spacingAndGlyphs">FGF1_TGFBR3</text>
<line x1="223.38" x2="223.38" y1="1220.6" y2="1225.1" stroke="#555" stroke-width="0.8"/>
<text x="226.68" y="1231.90" font-size="9.4" text-anchor="end" fill="#222" transform="rotate(-90.00 226.68 1231.90)" textLength="60.8" lengthAdjust="spacingAndGlyphs">TIGIT_NECTIN3</text>
<line x1="232.48" x2="232.48" y1="1220.6" y2="1225.1" stroke="#555" stroke-width="0.8"/>
<text x="235.78" y="1231.90" font-size="9.4" text-anchor="end" fill="#222" transform="rotate(-90.00 235.78 1231.90)" textLength="60.8" lengthAdjust="spacingAndGlyphs">TIGIT_NECTIN2</text>
<line x1="241.57" x2="241.57" y1="1220.6" y2="1225.1" stroke="#555" stroke-width="0.8"/>
<text x="244.87" y="1231.90" font-size="9.4" text-anchor="end" fill="#222" transform="rotate(-90.00 244.87 1231.90)" textLength="75.0" lengthAdjust="spacingAndGlyphs">NECTIN1_NECTIN4</text>
<line x1="250.67" x2="250.67" y1="1220.6" y2="1225.1" stroke="#555" stroke-width="0.8"/>
<text x="253.97" y="1231.90" font-size="9.4" text-anchor="end" fill="#222" transform="rotate(-90.00 253.97 1231.90)" textLength="68.6" lengthAdjust="spacingAndGlyphs">CADM1_NECTIN3</text>
<line x1="259.77" x2="259.77" y1="1220.6" y2="1225.1" stroke="#555" stroke-width="0.8"/>
<text x="263.07" y="1231.90" font-size="9.4" text-anchor="end" fill="#222" transform="rotate(-90.00 263.07 1231.90)" textLength="75.0" lengthAdjust="spacingAndGlyphs">NECTIN2_NECTIN3</text>
<line x1="268.87" x2="268.87" y1="1220.6" y2="1225.1" stroke="#555" stroke-width="0.8"/>
<text x="272.17" y="1231.90" font-size="9.4" text-anchor="end" fill="#222" transform="rotate(-90.00 272.17 1231.90)" textLength="75.0" lengthAdjust="spacingAndGlyphs">NECTIN1_NECTIN3</text>
<line x1="277.97" x2="277.97" y1="1220.6" y2="1225.1" stroke="#555" stroke-width="0.8"/>
<text x="281.27" y="1231.90" font-size="9.4" text-anchor="end" fill="#222" transform="rotate(-90.00 281.27 1231.90)" textLength="53.9" lengthAdjust="spacingAndGlyphs">WNT7B_FZD4</text>
<line x1="287.06" x2="287.06" y1="1220.6" y2="1225.1" stroke="#555" stroke-width="0.8"/>
<text x="290.36" y="1231.90" font-size="9.4" text-anchor="end" fill="#222" transform="rotate(-90.00 290.36 1231.90)" textLength="53.9" lengthAdjust="spacingAndGlyphs">WNT7B_FZD1</text>
<line x1="296.16" x2="296.16" y1="1220.6" y2="1225.1" stroke="#555" stroke-width="0.8"/>
<text x="299.46" y="1231.90" font-size="9.4" text-anchor="end" fill="#222" transform="rotate(-90.00 299.46 1231.90)" textLength="60.3" lengthAdjust="spacingAndGlyphs">WNT5A_EPHA7</text>
<line x1="305.26" x2="305.26" y1="1220.6" y2="1225.1" stroke="#555" stroke-width="0.8"/>
<text x="308.56" y="1231.90" font-size="9.4" text-anchor="end" fill="#222" transform="rotate(-90.00 308.56 1231.90)" textLength="60.8" lengthAdjust="spacingAndGlyphs">WNT5A_PTPRK</text>
<line x1="314.36" x2="314.36" y1="1220.6" y2="1225.1" stroke="#555" stroke-width="0.8"/>
<text x="317.66" y="1231.90" font-size="9.4" text-anchor="end" fill="#222" transform="rotate(-90.00 317.66 1231.90)" textLength="65.8" lengthAdjust="spacingAndGlyphs">WNT5A_ANTXR1</text>
<line x1="323.46" x2="323.46" y1="1220.6" y2="1225.1" stroke="#555" stroke-width="0.8"/>
<text x="326.76" y="1231.90" font-size="9.4" text-anchor="end" fill="#222" transform="rotate(-90.00 326.76 1231.90)" textLength="56.2" lengthAdjust="spacingAndGlyphs">WNT5A_ROR2</text>
<line x1="332.55" x2="332.55" y1="1220.6" y2="1225.1" stroke="#555" stroke-width="0.8"/>
<text x="335.85" y="1231.90" font-size="9.4" text-anchor="end" fill="#222" transform="rotate(-90.00 335.85 1231.90)" textLength="56.2" lengthAdjust="spacingAndGlyphs">WNT5A_ROR1</text>
<line x1="341.65" x2="341.65" y1="1220.6" y2="1225.1" stroke="#555" stroke-width="0.8"/>
<text x="344.95" y="1231.90" font-size="9.4" text-anchor="end" fill="#222" transform="rotate(-90.00 344.95 1231.90)" textLength="53.9" lengthAdjust="spacingAndGlyphs">FZD6_WNT5A</text>
<line x1="350.75" x2="350.75" y1="1220.6" y2="1225.1" stroke="#555" stroke-width="0.8"/>
<text x="354.05" y="1231.90" font-size="9.4" text-anchor="end" fill="#222" transform="rotate(-90.00 354.05 1231.90)" textLength="53.9" lengthAdjust="spacingAndGlyphs">WNT5A_FZD5</text>
<line x1="359.85" x2="359.85" y1="1220.6" y2="1225.1" stroke="#555" stroke-width="0.8"/>
<text x="363.15" y="1231.90" font-size="9.4" text-anchor="end" fill="#222" transform="rotate(-90.00 363.15 1231.90)" textLength="53.9" lengthAdjust="spacingAndGlyphs">WNT5A_FZD3</text>
<line x1="368.95" x2="368.95" y1="1220.6" y2="1225.1" stroke="#555" stroke-width="0.8"/>
<text x="372.25" y="1231.90" font-size="9.4" text-anchor="end" fill="#222" transform="rotate(-90.00 372.25 1231.90)" textLength="53.9" lengthAdjust="spacingAndGlyphs">WNT5A_FZD2</text>
<line x1="378.04" x2="378.04" y1="1220.6" y2="1225.1" stroke="#555" stroke-width="0.8"/>
<text x="381.34" y="1231.90" font-size="9.4" text-anchor="end" fill="#222" transform="rotate(-90.00 381.34 1231.90)" textLength="53.9" lengthAdjust="spacingAndGlyphs">WNT5A_FZD1</text>
<line x1="387.14" x2="387.14" y1="1220.6" y2="1225.1" stroke="#555" stroke-width="0.8"/>
<text x="390.44" y="1231.90" font-size="9.4" text-anchor="end" fill="#222" transform="rotate(-90.00 390.44 1231.90)" textLength="61.7" lengthAdjust="spacingAndGlyphs">NOTCH1_WNT4</text>
<line x1="396.24" x2="396.24" y1="1220.6" y2="1225.1" stroke="#555" stroke-width="0.8"/>
<text x="399.54" y="1231.90" font-size="9.4" text-anchor="end" fill="#222" transform="rotate(-90.00 399.54 1231.90)" textLength="47.1" lengthAdjust="spacingAndGlyphs">IGF2_IGF1R</text>
<line x1="405.34" x2="405.34" y1="1220.6" y2="1225.1" stroke="#555" stroke-width="0.8"/>
<text x="408.64" y="1231.90" font-size="9.4" text-anchor="end" fill="#222" transform="rotate(-90.00 408.64 1231.90)" textLength="47.1" lengthAdjust="spacingAndGlyphs">IGF2_IGF2R</text>
<line x1="414.44" x2="414.44" y1="1220.6" y2="1225.1" stroke="#555" stroke-width="0.8"/>
<text x="417.74" y="1231.90" font-size="9.4" text-anchor="end" fill="#222" transform="rotate(-90.00 417.74 1231.90)" textLength="36.6" lengthAdjust="spacingAndGlyphs">IGF2_IDE</text>
<line x1="423.53" x2="423.53" y1="1220.6" y2="1225.1" stroke="#555" stroke-width="0.8"/>
<text x="426.83" y="1231.90" font-size="9.4" text-anchor="end" fill="#222" transform="rotate(-90.00 426.83 1231.90)" textLength="62.8" lengthAdjust="spacingAndGlyphs">TGFB3_TGFβR3</text>
<line x1="432.63" x2="432.63" y1="1220.6" y2="1225.1" stroke="#555" stroke-width="0.8"/>
<text x="435.93" y="1231.90" font-size="9.4" text-anchor="end" fill="#222" transform="rotate(-90.00 435.93 1231.90)" textLength="62.8" lengthAdjust="spacingAndGlyphs">TGFB3_TGFβR2</text>
<line x1="441.73" x2="441.73" y1="1220.6" y2="1225.1" stroke="#555" stroke-width="0.8"/>
<text x="445.03" y="1231.90" font-size="9.4" text-anchor="end" fill="#222" transform="rotate(-90.00 445.03 1231.90)" textLength="62.8" lengthAdjust="spacingAndGlyphs">TGFB3_TGFβR1</text>
<line x1="450.83" x2="450.83" y1="1220.6" y2="1225.1" stroke="#555" stroke-width="0.8"/>
<text x="454.13" y="1231.90" font-size="9.4" text-anchor="end" fill="#222" transform="rotate(-90.00 454.13 1231.90)" textLength="62.8" lengthAdjust="spacingAndGlyphs">TGFB2_TGFβR3</text>
<line x1="459.93" x2="459.93" y1="1220.6" y2="1225.1" stroke="#555" stroke-width="0.8"/>
<text x="463.23" y="1231.90" font-size="9.4" text-anchor="end" fill="#222" transform="rotate(-90.00 463.23 1231.90)" textLength="62.8" lengthAdjust="spacingAndGlyphs">TGFB2_TGFβR2</text>
<line x1="469.02" x2="469.02" y1="1220.6" y2="1225.1" stroke="#555" stroke-width="0.8"/>
<text x="472.32" y="1231.90" font-size="9.4" text-anchor="end" fill="#222" transform="rotate(-90.00 472.32 1231.90)" textLength="62.8" lengthAdjust="spacingAndGlyphs">TGFB2_TGFβR1</text>
<line x1="478.12" x2="478.12" y1="1220.6" y2="1225.1" stroke="#555" stroke-width="0.8"/>
<text x="481.42" y="1231.90" font-size="9.4" text-anchor="end" fill="#222" transform="rotate(-90.00 481.42 1231.90)" textLength="62.8" lengthAdjust="spacingAndGlyphs">TGFB1_TGFβR3</text>
<line x1="487.22" x2="487.22" y1="1220.6" y2="1225.1" stroke="#555" stroke-width="0.8"/>
<text x="490.52" y="1231.90" font-size="9.4" text-anchor="end" fill="#222" transform="rotate(-90.00 490.52 1231.90)" textLength="62.8" lengthAdjust="spacingAndGlyphs">TGFB1_TGFβR2</text>
<line x1="496.32" x2="496.32" y1="1220.6" y2="1225.1" stroke="#555" stroke-width="0.8"/>
<text x="499.62" y="1231.90" font-size="9.4" text-anchor="end" fill="#222" transform="rotate(-90.00 499.62 1231.90)" textLength="62.8" lengthAdjust="spacingAndGlyphs">TGFB1_TGFβR1</text>
<line x1="505.42" x2="505.42" y1="1220.6" y2="1225.1" stroke="#555" stroke-width="0.8"/>
<text x="508.72" y="1231.90" font-size="9.4" text-anchor="end" fill="#222" transform="rotate(-90.00 508.72 1231.90)" textLength="53.9" lengthAdjust="spacingAndGlyphs">EGFR_TGFB1</text>
<line x1="514.51" x2="514.51" y1="1220.6" y2="1225.1" stroke="#555" stroke-width="0.8"/>
<text x="517.81" y="1231.90" font-size="9.4" text-anchor="end" fill="#222" transform="rotate(-90.00 517.81 1231.90)" textLength="58.1" lengthAdjust="spacingAndGlyphs">NOTCH4_DLL4</text>
<line x1="523.61" x2="523.61" y1="1220.6" y2="1225.1" stroke="#555" stroke-width="0.8"/>
<text x="526.91" y="1231.90" font-size="9.4" text-anchor="end" fill="#222" transform="rotate(-90.00 526.91 1231.90)" textLength="58.1" lengthAdjust="spacingAndGlyphs">DLL4_NOTCH3</text>
<line x1="532.71" x2="532.71" y1="1220.6" y2="1225.1" stroke="#555" stroke-width="0.8"/>
<text x="536.01" y="1231.90" font-size="9.4" text-anchor="end" fill="#222" transform="rotate(-90.00 536.01 1231.90)" textLength="58.1" lengthAdjust="spacingAndGlyphs">NOTCH2_DLL4</text>
<line x1="541.81" x2="541.81" y1="1220.6" y2="1225.1" stroke="#555" stroke-width="0.8"/>
<text x="545.11" y="1231.90" font-size="9.4" text-anchor="end" fill="#222" transform="rotate(-90.00 545.11 1231.90)" textLength="58.1" lengthAdjust="spacingAndGlyphs">NOTCH1_DLL4</text>
<line x1="550.91" x2="550.91" y1="1220.6" y2="1225.1" stroke="#555" stroke-width="0.8"/>
<text x="554.21" y="1231.90" font-size="9.4" text-anchor="end" fill="#222" transform="rotate(-90.00 554.21 1231.90)" textLength="58.1" lengthAdjust="spacingAndGlyphs">NOTCH4_DLL3</text>
<line x1="560.00" x2="560.00" y1="1220.6" y2="1225.1" stroke="#555" stroke-width="0.8"/>
<text x="563.30" y="1231.90" font-size="9.4" text-anchor="end" fill="#222" transform="rotate(-90.00 563.30 1231.90)" textLength="58.1" lengthAdjust="spacingAndGlyphs">DLL3_NOTCH3</text>
<line x1="569.10" x2="569.10" y1="1220.6" y2="1225.1" stroke="#555" stroke-width="0.8"/>
<text x="572.40" y="1231.90" font-size="9.4" text-anchor="end" fill="#222" transform="rotate(-90.00 572.40 1231.90)" textLength="58.1" lengthAdjust="spacingAndGlyphs">NOTCH2_DLL3</text>
<line x1="578.20" x2="578.20" y1="1220.6" y2="1225.1" stroke="#555" stroke-width="0.8"/>
<text x="581.50" y="1231.90" font-size="9.4" text-anchor="end" fill="#222" transform="rotate(-90.00 581.50 1231.90)" textLength="58.1" lengthAdjust="spacingAndGlyphs">NOTCH1_DLL3</text>
<line x1="587.30" x2="587.30" y1="1220.6" y2="1225.1" stroke="#555" stroke-width="0.8"/>
<text x="590.60" y="1231.90" font-size="9.4" text-anchor="end" fill="#222" transform="rotate(-90.00 590.60 1231.90)" textLength="58.1" lengthAdjust="spacingAndGlyphs">DLL1_NOTCH4</text>
<line x1="596.40" x2="596.40" y1="1220.6" y2="1225.1" stroke="#555" stroke-width="0.8"/>
<text x="599.70" y="1231.90" font-size="9.4" text-anchor="end" fill="#222" transform="rotate(-90.00 599.70 1231.90)" textLength="58.1" lengthAdjust="spacingAndGlyphs">DLL1_NOTCH3</text>
<line x1="605.49" x2="605.49" y1="1220.6" y2="1225.1" stroke="#555" stroke-width="0.8"/>
<text x="608.79" y="1231.90" font-size="9.4" text-anchor="end" fill="#222" transform="rotate(-90.00 608.79 1231.90)" textLength="58.1" lengthAdjust="spacingAndGlyphs">DLL1_NOTCH2</text>
<line x1="614.59" x2="614.59" y1="1220.6" y2="1225.1" stroke="#555" stroke-width="0.8"/>
<text x="617.89" y="1231.90" font-size="9.4" text-anchor="end" fill="#222" transform="rotate(-90.00 617.89 1231.90)" textLength="58.1" lengthAdjust="spacingAndGlyphs">DLL1_NOTCH1</text>
<line x1="623.69" x2="623.69" y1="1220.6" y2="1225.1" stroke="#555" stroke-width="0.8"/>
<text x="626.99" y="1231.90" font-size="9.4" text-anchor="end" fill="#222" transform="rotate(-90.00 626.99 1231.90)" textLength="59.0" lengthAdjust="spacingAndGlyphs">NOTCH4_JAG2</text>
<line x1="632.79" x2="632.79" y1="1220.6" y2="1225.1" stroke="#555" stroke-width="0.8"/>
<text x="636.09" y="1231.90" font-size="9.4" text-anchor="end" fill="#222" transform="rotate(-90.00 636.09 1231.90)" textLength="59.0" lengthAdjust="spacingAndGlyphs">NOTCH3_JAG2</text>
<line x1="641.89" x2="641.89" y1="1220.6" y2="1225.1" stroke="#555" stroke-width="0.8"/>
<text x="645.19" y="1231.90" font-size="9.4" text-anchor="end" fill="#222" transform="rotate(-90.00 645.19 1231.90)" textLength="59.0" lengthAdjust="spacingAndGlyphs">NOTCH2_JAG2</text>
<line x1="650.98" x2="650.98" y1="1220.6" y2="1225.1" stroke="#555" stroke-width="0.8"/>
<text x="654.28" y="1231.90" font-size="9.4" text-anchor="end" fill="#222" transform="rotate(-90.00 654.28 1231.90)" textLength="59.0" lengthAdjust="spacingAndGlyphs">NOTCH1_JAG2</text>
<line x1="660.08" x2="660.08" y1="1220.6" y2="1225.1" stroke="#555" stroke-width="0.8"/>
<text x="663.38" y="1231.90" font-size="9.4" text-anchor="end" fill="#222" transform="rotate(-90.00 663.38 1231.90)" textLength="59.0" lengthAdjust="spacingAndGlyphs">JAG1_NOTCH4</text>
<line x1="669.18" x2="669.18" y1="1220.6" y2="1225.1" stroke="#555" stroke-width="0.8"/>
<text x="672.48" y="1231.90" font-size="9.4" text-anchor="end" fill="#222" transform="rotate(-90.00 672.48 1231.90)" textLength="59.0" lengthAdjust="spacingAndGlyphs">JAG1_NOTCH3</text>
<line x1="678.28" x2="678.28" y1="1220.6" y2="1225.1" stroke="#555" stroke-width="0.8"/>
<text x="681.58" y="1231.90" font-size="9.4" text-anchor="end" fill="#222" transform="rotate(-90.00 681.58 1231.90)" textLength="59.0" lengthAdjust="spacingAndGlyphs">JAG1_NOTCH2</text>
<line x1="687.38" x2="687.38" y1="1220.6" y2="1225.1" stroke="#555" stroke-width="0.8"/>
<text x="690.68" y="1231.90" font-size="9.4" text-anchor="end" fill="#222" transform="rotate(-90.00 690.68 1231.90)" textLength="59.0" lengthAdjust="spacingAndGlyphs">NOTCH1_JAG1</text>
<line x1="696.47" x2="696.47" y1="1220.6" y2="1225.1" stroke="#555" stroke-width="0.8"/>
<text x="699.77" y="1231.90" font-size="9.4" text-anchor="end" fill="#222" transform="rotate(-90.00 699.77 1231.90)" textLength="67.2" lengthAdjust="spacingAndGlyphs">PDGFB_PDGFRA</text>
<line x1="705.57" x2="705.57" y1="1220.6" y2="1225.1" stroke="#555" stroke-width="0.8"/>
<text x="708.87" y="1231.90" font-size="9.4" text-anchor="end" fill="#222" transform="rotate(-90.00 708.87 1231.90)" textLength="66.7" lengthAdjust="spacingAndGlyphs">PDGFA_PDGFRA</text>
<line x1="714.67" x2="714.67" y1="1220.6" y2="1225.1" stroke="#555" stroke-width="0.8"/>
<text x="717.97" y="1231.90" font-size="9.4" text-anchor="end" fill="#222" transform="rotate(-90.00 717.97 1231.90)" textLength="53.5" lengthAdjust="spacingAndGlyphs">PDGFB_LRP1</text>
<line x1="723.77" x2="723.77" y1="1220.6" y2="1225.1" stroke="#555" stroke-width="0.8"/>
<text x="727.07" y="1231.90" font-size="9.4" text-anchor="end" fill="#222" transform="rotate(-90.00 727.07 1231.90)" textLength="43.4" lengthAdjust="spacingAndGlyphs">NRP2_PGF</text>
<line x1="732.87" x2="732.87" y1="1220.6" y2="1225.1" stroke="#555" stroke-width="0.8"/>
<text x="736.17" y="1231.90" font-size="9.4" text-anchor="end" fill="#222" transform="rotate(-90.00 736.17 1231.90)" textLength="43.4" lengthAdjust="spacingAndGlyphs">NRP1_PGF</text>
<line x1="741.96" x2="741.96" y1="1220.6" y2="1225.1" stroke="#555" stroke-width="0.8"/>
<text x="745.26" y="1231.90" font-size="9.4" text-anchor="end" fill="#222" transform="rotate(-90.00 745.26 1231.90)" textLength="40.1" lengthAdjust="spacingAndGlyphs">FLT1_PGF</text>
<line x1="751.06" x2="751.06" y1="1220.6" y2="1225.1" stroke="#555" stroke-width="0.8"/>
<text x="754.36" y="1231.90" font-size="9.4" text-anchor="end" fill="#222" transform="rotate(-90.00 754.36 1231.90)" textLength="54.4" lengthAdjust="spacingAndGlyphs">NRP1_VEGFB</text>
<line x1="760.16" x2="760.16" y1="1220.6" y2="1225.1" stroke="#555" stroke-width="0.8"/>
<text x="763.46" y="1231.90" font-size="9.4" text-anchor="end" fill="#222" transform="rotate(-90.00 763.46 1231.90)" textLength="51.0" lengthAdjust="spacingAndGlyphs">FLT1_VEGFB</text>
<line x1="769.26" x2="769.26" y1="1220.6" y2="1225.1" stroke="#555" stroke-width="0.8"/>
<text x="772.56" y="1231.90" font-size="9.4" text-anchor="end" fill="#222" transform="rotate(-90.00 772.56 1231.90)" textLength="53.9" lengthAdjust="spacingAndGlyphs">NRP2_VEGFA</text>
<line x1="778.36" x2="778.36" y1="1220.6" y2="1225.1" stroke="#555" stroke-width="0.8"/>
<text x="781.66" y="1231.90" font-size="9.4" text-anchor="end" fill="#222" transform="rotate(-90.00 781.66 1231.90)" textLength="53.9" lengthAdjust="spacingAndGlyphs">NRP1_VEGFA</text>
<line x1="787.45" x2="787.45" y1="1220.6" y2="1225.1" stroke="#555" stroke-width="0.8"/>
<text x="790.75" y="1231.90" font-size="9.4" text-anchor="end" fill="#222" transform="rotate(-90.00 790.75 1231.90)" textLength="50.6" lengthAdjust="spacingAndGlyphs">VEGFA_FLT1</text>
<line x1="796.55" x2="796.55" y1="1220.6" y2="1225.1" stroke="#555" stroke-width="0.8"/>
<text x="799.85" y="1231.90" font-size="9.4" text-anchor="end" fill="#222" transform="rotate(-90.00 799.85 1231.90)" textLength="49.4" lengthAdjust="spacingAndGlyphs">VEGFA_KDR</text>
<circle cx="123.30" cy="777.50" r="1.8" fill="#4271bb"/>
<circle cx="132.40" cy="777.50" r="1.8" fill="#4271bb"/>
<circle cx="141.50" cy="777.50" r="1.8" fill="#27308f"/>
<circle cx="150.59" cy="777.50" r="1.8" fill="#27308f"/>
<circle cx="159.69" cy="777.50" r="1.8" fill="#4271bb"/>
<circle cx="168.79" cy="777.50" r="1.8" fill="#27308f"/>
<circle cx="177.89" cy="777.50" r="1.8" fill="#4271bb"/>
<circle cx="186.99" cy="777.50" r="1.8" fill="#27308f"/>
<circle cx="196.08" cy="777.50" r="1.8" fill="#27308f"/>
<circle cx="205.18" cy="777.50" r="1.8" fill="#4271bb"/>
<circle cx="214.28" cy="777.50" r="1.8" fill="#27308f"/>
<circle cx="223.38" cy="777.50" r="1.8" fill="#27308f"/>
<circle cx="232.48" cy="777.50" r="1.8" fill="#4271bb"/>
<circle cx="241.57" cy="777.50" r="1.8" fill="#27308f"/>
<circle cx="250.67" cy="777.50" r="1.8" fill="#4271bb"/>
<circle cx="259.77" cy="777.50" r="4.9" fill="#5a94c8"/>
<circle cx="268.87" cy="777.50" r="1.8" fill="#27308f"/>
<circle cx="277.97" cy="777.50" r="1.8" fill="#27308f"/>
<circle cx="287.06" cy="777.50" r="1.8" fill="#27308f"/>
<circle cx="296.16" cy="777.50" r="1.8" fill="#27308f"/>
<circle cx="305.26" cy="777.50" r="1.8" fill="#4271bb"/>
<circle cx="314.36" cy="777.50" r="1.8" fill="#4271bb"/>
<circle cx="323.46" cy="777.50" r="1.8" fill="#27308f"/>
<circle cx="332.55" cy="777.50" r="1.8" fill="#27308f"/>
<circle cx="341.65" cy="777.50" r="1.8" fill="#27308f"/>
<circle cx="350.75" cy="777.50" r="1.8" fill="#4271bb"/>
<circle cx="359.85" cy="777.50" r="1.8" fill="#27308f"/>
<circle cx="368.95" cy="777.50" r="1.8" fill="#4271bb"/>
<circle cx="378.04" cy="777.50" r="1.8" fill="#27308f"/>
<circle cx="387.14" cy="777.50" r="1.8" fill="#27308f"/>
<circle cx="396.24" cy="777.50" r="1.8" fill="#4271bb"/>
<circle cx="405.34" cy="777.50" r="1.8" fill="#4271bb"/>
<circle cx="414.44" cy="777.50" r="1.8" fill="#27308f"/>
<circle cx="423.53" cy="777.50" r="1.8" fill="#27308f"/>
<circle cx="432.63" cy="777.50" r="1.8" fill="#27308f"/>
<circle cx="441.73" cy="777.50" r="1.8" fill="#27308f"/>
<circle cx="450.83" cy="777.50" r="1.8" fill="#27308f"/>
<circle cx="459.93" cy="777.50" r="1.8" fill="#4271bb"/>
<circle cx="469.02" cy="777.50" r="1.8" fill="#27308f"/>
<circle cx="478.12" cy="777.50" r="1.8" fill="#90c8e0"/>
<circle cx="487.22" cy="777.50" r="1.8" fill="#90c8e0"/>
<circle cx="496.32" cy="777.50" r="4.9" fill="#e0f0f0"/>
<circle cx="505.42" cy="777.50" r="1.8" fill="#27308f"/>
<circle cx="514.51" cy="777.50" r="1.8" fill="#27308f"/>
<circle cx="523.61" cy="777.50" r="1.8" fill="#27308f"/>
<circle cx="532.71" cy="777.50" r="1.8" fill="#4271bb"/>
<circle cx="541.81" cy="777.50" r="1.8" fill="#4271bb"/>
<circle cx="550.91" cy="777.50" r="1.8" fill="#27308f"/>
<circle cx="560.00" cy="777.50" r="1.8" fill="#27308f"/>
<circle cx="569.10" cy="777.50" r="4.9" fill="#90c8e0"/>
<circle cx="578.20" cy="777.50" r="1.8" fill="#4271bb"/>
<circle cx="587.30" cy="777.50" r="1.8" fill="#27308f"/>
<circle cx="596.40" cy="777.50" r="1.8" fill="#27308f"/>
<circle cx="605.49" cy="777.50" r="1.8" fill="#4271bb"/>
<circle cx="614.59" cy="777.50" r="1.8" fill="#27308f"/>
<circle cx="623.69" cy="777.50" r="1.8" fill="#27308f"/>
<circle cx="632.79" cy="777.50" r="1.8" fill="#4271bb"/>
<circle cx="641.89" cy="777.50" r="4.9" fill="#90c8e0"/>
<circle cx="650.98" cy="777.50" r="1.8" fill="#27308f"/>
<circle cx="660.08" cy="777.50" r="1.8" fill="#27308f"/>
<circle cx="669.18" cy="777.50" r="1.8" fill="#27308f"/>
<circle cx="678.28" cy="777.50" r="1.8" fill="#27308f"/>
<circle cx="687.38" cy="777.50" r="1.8" fill="#4271bb"/>
<circle cx="696.47" cy="777.50" r="1.8" fill="#4271bb"/>
<circle cx="705.57" cy="777.50" r="1.8" fill="#27308f"/>
<circle cx="714.67" cy="777.50" r="1.8" fill="#27308f"/>
<circle cx="723.77" cy="777.50" r="1.8" fill="#4271bb"/>
<circle cx="732.87" cy="777.50" r="1.8" fill="#27308f"/>
<circle cx="741.96" cy="777.50" r="4.9" fill="#6aa4d0"/>
<circle cx="751.06" cy="777.50" r="4.9" fill="#a8d4e8"/>
<circle cx="760.16" cy="777.50" r="4.9" fill="#a8d4e8"/>
<circle cx="769.26" cy="777.50" r="1.8" fill="#4271bb"/>
<circle cx="778.36" cy="777.50" r="4.9" fill="#78b4d8"/>
<circle cx="787.45" cy="777.50" r="1.8" fill="#e8f4e0"/>
<circle cx="796.55" cy="777.50" r="1.8" fill="#e0f0f0"/>
<circle cx="123.30" cy="789.97" r="1.8" fill="#4271bb"/>
<circle cx="132.40" cy="789.97" r="1.8" fill="#4271bb"/>
<circle cx="141.50" cy="789.97" r="1.8" fill="#27308f"/>
<circle cx="150.59" cy="789.97" r="1.8" fill="#27308f"/>
<circle cx="159.69" cy="789.97" r="1.8" fill="#4271bb"/>
<circle cx="168.79" cy="789.97" r="1.8" fill="#4271bb"/>
<circle cx="177.89" cy="789.97" r="1.8" fill="#27308f"/>
<circle cx="186.99" cy="789.97" r="1.8" fill="#27308f"/>
<circle cx="196.08" cy="789.97" r="1.8" fill="#27308f"/>
<circle cx="205.18" cy="789.97" r="1.8" fill="#4271bb"/>
<circle cx="214.28" cy="789.97" r="1.8" fill="#27308f"/>
<circle cx="223.38" cy="789.97" r="1.8" fill="#27308f"/>
<circle cx="232.48" cy="789.97" r="1.8" fill="#4271bb"/>
<circle cx="241.57" cy="789.97" r="1.8" fill="#27308f"/>
<circle cx="250.67" cy="789.97" r="1.8" fill="#4271bb"/>
<circle cx="259.77" cy="789.97" r="4.9" fill="#78b4d8"/>
<circle cx="268.87" cy="789.97" r="1.8" fill="#27308f"/>
<circle cx="277.97" cy="789.97" r="1.8" fill="#27308f"/>
<circle cx="287.06" cy="789.97" r="1.8" fill="#27308f"/>
<circle cx="296.16" cy="789.97" r="1.8" fill="#27308f"/>
<circle cx="305.26" cy="789.97" r="1.8" fill="#4271bb"/>
<circle cx="314.36" cy="789.97" r="1.8" fill="#4271bb"/>
<circle cx="323.46" cy="789.97" r="1.8" fill="#27308f"/>
<circle cx="332.55" cy="789.97" r="1.8" fill="#27308f"/>
<circle cx="341.65" cy="789.97" r="1.8" fill="#27308f"/>
<circle cx="350.75" cy="789.97" r="1.8" fill="#4271bb"/>
<circle cx="359.85" cy="789.97" r="1.8" fill="#7fb6dc"/>
<circle cx="368.95" cy="789.97" r="1.8" fill="#4271bb"/>
<circle cx="378.04" cy="789.97" r="1.8" fill="#27308f"/>
<circle cx="387.14" cy="789.97" r="1.8" fill="#4271bb"/>
<circle cx="396.24" cy="789.97" r="1.8" fill="#4271bb"/>
<circle cx="405.34" cy="789.97" r="1.8" fill="#4271bb"/>
<circle cx="414.44" cy="789.97" r="1.8" fill="#27308f"/>
<circle cx="423.53" cy="789.97" r="1.8" fill="#27308f"/>
<circle cx="432.63" cy="789.97" r="1.8" fill="#27308f"/>
<circle cx="441.73" cy="789.97" r="1.8" fill="#27308f"/>
<circle cx="450.83" cy="789.97" r="1.8" fill="#27308f"/>
<circle cx="459.93" cy="789.97" r="1.8" fill="#27308f"/>
<circle cx="469.02" cy="789.97" r="1.8" fill="#27308f"/>
<circle cx="478.12" cy="789.97" r="1.8" fill="#7fb6dc"/>
<circle cx="487.22" cy="789.97" r="1.8" fill="#7fb6dc"/>
<circle cx="496.32" cy="789.97" r="4.9" fill="#c8e4ec"/>
<circle cx="505.42" cy="789.97" r="1.8" fill="#27308f"/>
<circle cx="514.51" cy="789.97" r="1.8" fill="#27308f"/>
<circle cx="523.61" cy="789.97" r="1.8" fill="#27308f"/>
<circle cx="532.71" cy="789.97" r="1.8" fill="#4271bb"/>
<circle cx="541.81" cy="789.97" r="1.8" fill="#27308f"/>
<circle cx="550.91" cy="789.97" r="1.8" fill="#27308f"/>
<circle cx="560.00" cy="789.97" r="1.8" fill="#27308f"/>
<circle cx="569.10" cy="789.97" r="4.9" fill="#6aa4d0"/>
<circle cx="578.20" cy="789.97" r="1.8" fill="#4271bb"/>
<circle cx="587.30" cy="789.97" r="1.8" fill="#27308f"/>
<circle cx="596.40" cy="789.97" r="1.8" fill="#27308f"/>
<circle cx="605.49" cy="789.97" r="1.8" fill="#27308f"/>
<circle cx="614.59" cy="789.97" r="1.8" fill="#27308f"/>
<circle cx="623.69" cy="789.97" r="1.8" fill="#4271bb"/>
<circle cx="632.79" cy="789.97" r="1.8" fill="#4271bb"/>
<circle cx="641.89" cy="789.97" r="4.9" fill="#6aa4d0"/>
<circle cx="650.98" cy="789.97" r="1.8" fill="#27308f"/>
<circle cx="660.08" cy="789.97" r="1.8" fill="#27308f"/>
<circle cx="669.18" cy="789.97" r="1.8" fill="#4271bb"/>
<circle cx="678.28" cy="789.97" r="1.8" fill="#27308f"/>
<circle cx="687.38" cy="789.97" r="1.8" fill="#4271bb"/>
<circle cx="696.47" cy="789.97" r="1.8" fill="#27308f"/>
<circle cx="705.57" cy="789.97" r="1.8" fill="#27308f"/>
<circle cx="714.67" cy="789.97" r="3.5" fill="#5a94c8"/>
<circle cx="723.77" cy="789.97" r="3.5" fill="#6aa4d0"/>
<circle cx="732.87" cy="789.97" r="1.8" fill="#27308f"/>
<circle cx="741.96" cy="789.97" r="1.8" fill="#4271bb"/>
<circle cx="751.06" cy="789.97" r="1.8" fill="#90c8e0"/>
<circle cx="760.16" cy="789.97" r="1.8" fill="#90c8e0"/>
<circle cx="769.26" cy="789.97" r="3.5" fill="#80b8dc"/>
<circle cx="778.36" cy="789.97" r="1.8" fill="#4271bb"/>
<circle cx="787.45" cy="789.97" r="1.8" fill="#a0d0e4"/>
<circle cx="796.55" cy="789.97" r="1.8" fill="#a0d0e4"/>
<circle cx="123.30" cy="802.44" r="1.8" fill="#4271bb"/>
<circle cx="132.40" cy="802.44" r="1.8" fill="#4271bb"/>
<circle cx="141.50" cy="802.44" r="1.8" fill="#27308f"/>
<circle cx="150.59" cy="802.44" r="1.8" fill="#27308f"/>
<circle cx="159.69" cy="802.44" r="1.8" fill="#4271bb"/>
<circle cx="168.79" cy="802.44" r="1.8" fill="#4271bb"/>
<circle cx="177.89" cy="802.44" r="1.8" fill="#27308f"/>
<circle cx="186.99" cy="802.44" r="1.8" fill="#27308f"/>
<circle cx="196.08" cy="802.44" r="1.8" fill="#27308f"/>
<circle cx="205.18" cy="802.44" r="1.8" fill="#4271bb"/>
<circle cx="214.28" cy="802.44" r="1.8" fill="#4271bb"/>
<circle cx="223.38" cy="802.44" r="1.8" fill="#27308f"/>
<circle cx="232.48" cy="802.44" r="1.8" fill="#4271bb"/>
<circle cx="241.57" cy="802.44" r="1.8" fill="#27308f"/>
<circle cx="250.67" cy="802.44" r="3.5" fill="#4a84c4"/>
<circle cx="259.77" cy="802.44" r="4.9" fill="#6aa4d0"/>
<circle cx="268.87" cy="802.44" r="1.8" fill="#27308f"/>
<circle cx="277.97" cy="802.44" r="1.8" fill="#27308f"/>
<circle cx="287.06" cy="802.44" r="1.8" fill="#27308f"/>
<circle cx="296.16" cy="802.44" r="1.8" fill="#27308f"/>
<circle cx="305.26" cy="802.44" r="1.8" fill="#4271bb"/>
<circle cx="314.36" cy="802.44" r="1.8" fill="#4271bb"/>
<circle cx="323.46" cy="802.44" r="1.8" fill="#27308f"/>
<circle cx="332.55" cy="802.44" r="1.8" fill="#27308f"/>
<circle cx="341.65" cy="802.44" r="1.8" fill="#27308f"/>
<circle cx="350.75" cy="802.44" r="1.8" fill="#4271bb"/>
<circle cx="359.85" cy="802.44" r="1.8" fill="#7fb6dc"/>
<circle cx="368.95" cy="802.44" r="1.8" fill="#4271bb"/>
<circle cx="378.04" cy="802.44" r="1.8" fill="#27308f"/>
<circle cx="387.14" cy="802.44" r="1.8" fill="#27308f"/>
<circle cx="396.24" cy="802.44" r="1.8" fill="#4271bb"/>
<circle cx="405.34" cy="802.44" r="1.8" fill="#4271bb"/>
<circle cx="414.44" cy="802.44" r="1.8" fill="#27308f"/>
<circle cx="423.53" cy="802.44" r="1.8" fill="#27308f"/>
<circle cx="432.63" cy="802.44" r="1.8" fill="#27308f"/>
<circle cx="441.73" cy="802.44" r="1.8" fill="#27308f"/>
<circle cx="450.83" cy="802.44" r="1.8" fill="#27308f"/>
<circle cx="459.93" cy="802.44" r="1.8" fill="#27308f"/>
<circle cx="469.02" cy="802.44" r="1.8" fill="#27308f"/>
<circle cx="478.12" cy="802.44" r="1.8" fill="#7fb6dc"/>
<circle cx="487.22" cy="802.44" r="1.8" fill="#27308f"/>
<circle cx="496.32" cy="802.44" r="4.9" fill="#b0dcea"/>
<circle cx="505.42" cy="802.44" r="1.8" fill="#27308f"/>
<circle cx="514.51" cy="802.44" r="1.8" fill="#27308f"/>
<circle cx="523.61" cy="802.44" r="1.8" fill="#27308f"/>
<circle cx="532.71" cy="802.44" r="1.8" fill="#4271bb"/>
<circle cx="541.81" cy="802.44" r="1.8" fill="#27308f"/>
<circle cx="550.91" cy="802.44" r="1.8" fill="#27308f"/>
<circle cx="560.00" cy="802.44" r="1.8" fill="#27308f"/>
<circle cx="569.10" cy="802.44" r="4.9" fill="#5a94c8"/>
<circle cx="578.20" cy="802.44" r="1.8" fill="#4271bb"/>
<circle cx="587.30" cy="802.44" r="1.8" fill="#27308f"/>
<circle cx="596.40" cy="802.44" r="1.8" fill="#27308f"/>
<circle cx="605.49" cy="802.44" r="1.8" fill="#27308f"/>
<circle cx="614.59" cy="802.44" r="1.8" fill="#27308f"/>
<circle cx="623.69" cy="802.44" r="1.8" fill="#27308f"/>
<circle cx="632.79" cy="802.44" r="1.8" fill="#4271bb"/>
<circle cx="641.89" cy="802.44" r="4.9" fill="#5a94c8"/>
<circle cx="650.98" cy="802.44" r="1.8" fill="#27308f"/>
<circle cx="660.08" cy="802.44" r="1.8" fill="#27308f"/>
<circle cx="669.18" cy="802.44" r="1.8" fill="#27308f"/>
<circle cx="678.28" cy="802.44" r="1.8" fill="#27308f"/>
<circle cx="687.38" cy="802.44" r="1.8" fill="#4271bb"/>
<circle cx="696.47" cy="802.44" r="1.8" fill="#27308f"/>
<circle cx="705.57" cy="802.44" r="1.8" fill="#27308f"/>
<circle cx="714.67" cy="802.44" r="4.9" fill="#80b8dc"/>
<circle cx="723.77" cy="802.44" r="4.9" fill="#c8e4ec"/>
<circle cx="732.87" cy="802.44" r="4.9" fill="#f4f8c0"/>
<circle cx="741.96" cy="802.44" r="1.8" fill="#4271bb"/>
<circle cx="751.06" cy="802.44" r="4.9" fill="#fdd880"/>
<circle cx="760.16" cy="802.44" r="1.8" fill="#7fb6dc"/>
<circle cx="769.26" cy="802.44" r="4.9" fill="#e8f4d8"/>
<circle cx="778.36" cy="802.44" r="4.9" fill="#fee890"/>
<circle cx="787.45" cy="802.44" r="1.8" fill="#90c8e0"/>
<circle cx="796.55" cy="802.44" r="1.8" fill="#90c8e0"/>
<circle cx="123.30" cy="814.91" r="1.8" fill="#4271bb"/>
<circle cx="132.40" cy="814.91" r="1.8" fill="#27308f"/>
<circle cx="141.50" cy="814.91" r="1.8" fill="#27308f"/>
<circle cx="150.59" cy="814.91" r="1.8" fill="#27308f"/>
<circle cx="159.69" cy="814.91" r="4.9" fill="#fdd878"/>
<circle cx="168.79" cy="814.91" r="4.9" fill="#6aa4d0"/>
<circle cx="177.89" cy="814.91" r="1.8" fill="#27308f"/>
<circle cx="186.99" cy="814.91" r="1.8" fill="#27308f"/>
<circle cx="196.08" cy="814.91" r="4.9" fill="#6aa4d0"/>
<circle cx="205.18" cy="814.91" r="1.8" fill="#4271bb"/>
<circle cx="214.28" cy="814.91" r="1.8" fill="#27308f"/>
<circle cx="223.38" cy="814.91" r="1.8" fill="#27308f"/>
<circle cx="232.48" cy="814.91" r="1.8" fill="#4271bb"/>
<circle cx="241.57" cy="814.91" r="1.8" fill="#27308f"/>
<circle cx="250.67" cy="814.91" r="3.5" fill="#4a84c4"/>
<circle cx="259.77" cy="814.91" r="4.9" fill="#88c0dc"/>
<circle cx="268.87" cy="814.91" r="1.8" fill="#27308f"/>
<circle cx="277.97" cy="814.91" r="1.8" fill="#27308f"/>
<circle cx="287.06" cy="814.91" r="1.8" fill="#27308f"/>
<circle cx="296.16" cy="814.91" r="1.8" fill="#27308f"/>
<circle cx="305.26" cy="814.91" r="1.8" fill="#4271bb"/>
<circle cx="314.36" cy="814.91" r="1.8" fill="#4271bb"/>
<circle cx="323.46" cy="814.91" r="1.8" fill="#27308f"/>
<circle cx="332.55" cy="814.91" r="1.8" fill="#27308f"/>
<circle cx="341.65" cy="814.91" r="1.8" fill="#27308f"/>
<circle cx="350.75" cy="814.91" r="1.8" fill="#4271bb"/>
<circle cx="359.85" cy="814.91" r="1.8" fill="#7fb6dc"/>
<circle cx="368.95" cy="814.91" r="1.8" fill="#4271bb"/>
<circle cx="378.04" cy="814.91" r="1.8" fill="#27308f"/>
<circle cx="387.14" cy="814.91" r="1.8" fill="#4271bb"/>
<circle cx="396.24" cy="814.91" r="1.8" fill="#4271bb"/>
<circle cx="405.34" cy="814.91" r="1.8" fill="#4271bb"/>
<circle cx="414.44" cy="814.91" r="1.8" fill="#27308f"/>
<circle cx="423.53" cy="814.91" r="1.8" fill="#27308f"/>
<circle cx="432.63" cy="814.91" r="1.8" fill="#27308f"/>
<circle cx="441.73" cy="814.91" r="4.9" fill="#5a94c8"/>
<circle cx="450.83" cy="814.91" r="1.8" fill="#27308f"/>
<circle cx="459.93" cy="814.91" r="1.8" fill="#27308f"/>
<circle cx="469.02" cy="814.91" r="4.9" fill="#4a7cc0"/>
<circle cx="478.12" cy="814.91" r="1.8" fill="#7fb6dc"/>
<circle cx="487.22" cy="814.91" r="1.8" fill="#4271bb"/>
<circle cx="496.32" cy="814.91" r="3.5" fill="#a8d4e8"/>
<circle cx="505.42" cy="814.91" r="1.8" fill="#27308f"/>
<circle cx="514.51" cy="814.91" r="1.8" fill="#27308f"/>
<circle cx="523.61" cy="814.91" r="1.8" fill="#27308f"/>
<circle cx="532.71" cy="814.91" r="1.8" fill="#27308f"/>
<circle cx="541.81" cy="814.91" r="1.8" fill="#27308f"/>
<circle cx="550.91" cy="814.91" r="1.8" fill="#27308f"/>
<circle cx="560.00" cy="814.91" r="1.8" fill="#27308f"/>
<circle cx="569.10" cy="814.91" r="4.9" fill="#6aa4d0"/>
<circle cx="578.20" cy="814.91" r="4.9" fill="#4a7cc0"/>
<circle cx="587.30" cy="814.91" r="1.8" fill="#27308f"/>
<circle cx="596.40" cy="814.91" r="1.8" fill="#27308f"/>
<circle cx="605.49" cy="814.91" r="1.8" fill="#27308f"/>
<circle cx="614.59" cy="814.91" r="1.8" fill="#27308f"/>
<circle cx="623.69" cy="814.91" r="1.8" fill="#27308f"/>
<circle cx="632.79" cy="814.91" r="4.9" fill="#e85030"/>
<circle cx="641.89" cy="814.91" r="4.9" fill="#5a94c8"/>
<circle cx="650.98" cy="814.91" r="4.9" fill="#4a7cc0"/>
<circle cx="660.08" cy="814.91" r="1.8" fill="#27308f"/>
<circle cx="669.18" cy="814.91" r="4.9" fill="#e8f4e8"/>
<circle cx="678.28" cy="814.91" r="4.9" fill="#d8ecf4"/>
<circle cx="687.38" cy="814.91" r="4.9" fill="#78b4d8"/>
<circle cx="696.47" cy="814.91" r="1.8" fill="#27308f"/>
<circle cx="705.57" cy="814.91" r="1.8" fill="#27308f"/>
<circle cx="714.67" cy="814.91" r="1.8" fill="#27308f"/>
<circle cx="723.77" cy="814.91" r="4.9" fill="#6aa4d0"/>
<circle cx="732.87" cy="814.91" r="4.9" fill="#d8ecf0"/>
<circle cx="741.96" cy="814.91" r="4.9" fill="#5a94c8"/>
<circle cx="751.06" cy="814.91" r="4.9" fill="#fef0a8"/>
<circle cx="760.16" cy="814.91" r="4.9" fill="#a8d4e8"/>
<circle cx="769.26" cy="814.91" r="4.9" fill="#88c0dc"/>
<circle cx="778.36" cy="814.91" r="4.9" fill="#f0f8d0"/>
<circle cx="787.45" cy="814.91" r="1.8" fill="#7fb6dc"/>
<circle cx="796.55" cy="814.91" r="1.8" fill="#7fb6dc"/>
<circle cx="123.30" cy="827.38" r="1.8" fill="#4271bb"/>
<circle cx="132.40" cy="827.38" r="1.8" fill="#4271bb"/>
<circle cx="141.50" cy="827.38" r="1.8" fill="#27308f"/>
<circle cx="150.59" cy="827.38" r="1.8" fill="#27308f"/>
<circle cx="159.69" cy="827.38" r="1.8" fill="#90c8e0"/>
<circle cx="168.79" cy="827.38" r="4.9" fill="#88c0dc"/>
<circle cx="177.89" cy="827.38" r="1.8" fill="#27308f"/>
<circle cx="186.99" cy="827.38" r="1.8" fill="#27308f"/>
<circle cx="196.08" cy="827.38" r="4.9" fill="#80bcdc"/>
<circle cx="205.18" cy="827.38" r="1.8" fill="#4271bb"/>
<circle cx="214.28" cy="827.38" r="1.8" fill="#27308f"/>
<circle cx="223.38" cy="827.38" r="1.8" fill="#27308f"/>
<circle cx="232.48" cy="827.38" r="1.8" fill="#4271bb"/>
<circle cx="241.57" cy="827.38" r="1.8" fill="#27308f"/>
<circle cx="250.67" cy="827.38" r="1.8" fill="#4271bb"/>
<circle cx="259.77" cy="827.38" r="4.9" fill="#d8ecf4"/>
<circle cx="268.87" cy="827.38" r="1.8" fill="#27308f"/>
<circle cx="277.97" cy="827.38" r="1.8" fill="#27308f"/>
<circle cx="287.06" cy="827.38" r="1.8" fill="#27308f"/>
<circle cx="296.16" cy="827.38" r="1.8" fill="#27308f"/>
<circle cx="305.26" cy="827.38" r="1.8" fill="#4271bb"/>
<circle cx="314.36" cy="827.38" r="1.8" fill="#27308f"/>
<circle cx="323.46" cy="827.38" r="1.8" fill="#27308f"/>
<circle cx="332.55" cy="827.38" r="1.8" fill="#27308f"/>
<circle cx="341.65" cy="827.38" r="1.8" fill="#27308f"/>
<circle cx="350.75" cy="827.38" r="1.8" fill="#4271bb"/>
<circle cx="359.85" cy="827.38" r="1.8" fill="#7fb6dc"/>
<circle cx="368.95" cy="827.38" r="1.8" fill="#4271bb"/>
<circle cx="378.04" cy="827.38" r="1.8" fill="#27308f"/>
<circle cx="387.14" cy="827.38" r="1.8" fill="#90c8e0"/>
<circle cx="396.24" cy="827.38" r="1.8" fill="#4271bb"/>
<circle cx="405.34" cy="827.38" r="1.8" fill="#4271bb"/>
<circle cx="414.44" cy="827.38" r="1.8" fill="#27308f"/>
<circle cx="423.53" cy="827.38" r="1.8" fill="#27308f"/>
<circle cx="432.63" cy="827.38" r="1.8" fill="#4271bb"/>
<circle cx="441.73" cy="827.38" r="1.8" fill="#27308f"/>
<circle cx="450.83" cy="827.38" r="1.8" fill="#27308f"/>
<circle cx="459.93" cy="827.38" r="1.8" fill="#27308f"/>
<circle cx="469.02" cy="827.38" r="1.8" fill="#27308f"/>
<circle cx="478.12" cy="827.38" r="1.8" fill="#7fb6dc"/>
<circle cx="487.22" cy="827.38" r="1.8" fill="#7fb6dc"/>
<circle cx="496.32" cy="827.38" r="4.9" fill="#d8ecf4"/>
<circle cx="505.42" cy="827.38" r="1.8" fill="#27308f"/>
<circle cx="514.51" cy="827.38" r="1.8" fill="#fee090"/>
<circle cx="523.61" cy="827.38" r="4.9" fill="#b0dcea"/>
<circle cx="532.71" cy="827.38" r="1.8" fill="#4271bb"/>
<circle cx="541.81" cy="827.38" r="1.8" fill="#27308f"/>
<circle cx="550.91" cy="827.38" r="4.9" fill="#fde08a"/>
<circle cx="560.00" cy="827.38" r="1.8" fill="#27308f"/>
<circle cx="569.10" cy="827.38" r="1.8" fill="#4271bb"/>
<circle cx="578.20" cy="827.38" r="4.9" fill="#c0e0ec"/>
<circle cx="587.30" cy="827.38" r="1.8" fill="#27308f"/>
<circle cx="596.40" cy="827.38" r="4.9" fill="#78b4d8"/>
<circle cx="605.49" cy="827.38" r="4.9" fill="#78b4d8"/>
<circle cx="614.59" cy="827.38" r="4.9" fill="#5a94c8"/>
<circle cx="623.69" cy="827.38" r="4.9" fill="#fde08a"/>
<circle cx="632.79" cy="827.38" r="1.8" fill="#4271bb"/>
<circle cx="641.89" cy="827.38" r="1.8" fill="#4271bb"/>
<circle cx="650.98" cy="827.38" r="4.9" fill="#c8e4ec"/>
<circle cx="660.08" cy="827.38" r="1.8" fill="#27308f"/>
<circle cx="669.18" cy="827.38" r="4.9" fill="#eef8d8"/>
<circle cx="678.28" cy="827.38" r="4.9" fill="#e8f4e0"/>
<circle cx="687.38" cy="827.38" r="4.9" fill="#eef8d8"/>
<circle cx="696.47" cy="827.38" r="1.8" fill="#fee090"/>
<circle cx="705.57" cy="827.38" r="1.8" fill="#4271bb"/>
<circle cx="714.67" cy="827.38" r="4.9" fill="#fde08a"/>
<circle cx="723.77" cy="827.38" r="4.9" fill="#f88c48"/>
<circle cx="732.87" cy="827.38" r="4.9" fill="#e85838"/>
<circle cx="741.96" cy="827.38" r="4.9" fill="#a50026"/>
<circle cx="751.06" cy="827.38" r="4.9" fill="#b81828"/>
<circle cx="760.16" cy="827.38" r="4.9" fill="#a00020"/>
<circle cx="769.26" cy="827.38" r="4.9" fill="#f46d43"/>
<circle cx="778.36" cy="827.38" r="4.9" fill="#d83828"/>
<circle cx="787.45" cy="827.38" r="1.8" fill="#7fb6dc"/>
<circle cx="796.55" cy="827.38" r="1.8" fill="#7fb6dc"/>
<circle cx="123.30" cy="839.85" r="1.8" fill="#4271bb"/>
<circle cx="132.40" cy="839.85" r="1.8" fill="#27308f"/>
<circle cx="141.50" cy="839.85" r="1.8" fill="#27308f"/>
<circle cx="150.59" cy="839.85" r="1.8" fill="#4271bb"/>
<circle cx="159.69" cy="839.85" r="4.9" fill="#e04830"/>
<circle cx="168.79" cy="839.85" r="4.9" fill="#eef8d8"/>
<circle cx="177.89" cy="839.85" r="1.8" fill="#e0f0f0"/>
<circle cx="186.99" cy="839.85" r="1.8" fill="#e0f4f8"/>
<circle cx="196.08" cy="839.85" r="4.9" fill="#e8f4d8"/>
<circle cx="205.18" cy="839.85" r="4.9" fill="#5890c8"/>
<circle cx="214.28" cy="839.85" r="1.8" fill="#27308f"/>
<circle cx="223.38" cy="839.85" r="1.8" fill="#27308f"/>
<circle cx="232.48" cy="839.85" r="1.8" fill="#4271bb"/>
<circle cx="241.57" cy="839.85" r="1.8" fill="#27308f"/>
<circle cx="250.67" cy="839.85" r="4.9" fill="#5890c8"/>
<circle cx="259.77" cy="839.85" r="4.9" fill="#7ab4d8"/>
<circle cx="268.87" cy="839.85" r="1.8" fill="#27308f"/>
<circle cx="277.97" cy="839.85" r="1.8" fill="#27308f"/>
<circle cx="287.06" cy="839.85" r="1.8" fill="#27308f"/>
<circle cx="296.16" cy="839.85" r="1.8" fill="#27308f"/>
<circle cx="305.26" cy="839.85" r="4.9" fill="#a0d0e4"/>
<circle cx="314.36" cy="839.85" r="4.9" fill="#98cce4"/>
<circle cx="323.46" cy="839.85" r="1.8" fill="#27308f"/>
<circle cx="332.55" cy="839.85" r="1.8" fill="#27308f"/>
<circle cx="341.65" cy="839.85" r="1.8" fill="#27308f"/>
<circle cx="350.75" cy="839.85" r="4.9" fill="#a0d0e4"/>
<circle cx="359.85" cy="839.85" r="4.9" fill="#c8e4ec"/>
<circle cx="368.95" cy="839.85" r="4.9" fill="#a0d0e4"/>
<circle cx="378.04" cy="839.85" r="4.9" fill="#98cce4"/>
<circle cx="387.14" cy="839.85" r="1.8" fill="#27308f"/>
<circle cx="396.24" cy="839.85" r="4.9" fill="#78b4d8"/>
<circle cx="405.34" cy="839.85" r="4.9" fill="#70acd4"/>
<circle cx="414.44" cy="839.85" r="4.9" fill="#4a7cc0"/>
<circle cx="423.53" cy="839.85" r="1.8" fill="#27308f"/>
<circle cx="432.63" cy="839.85" r="1.8" fill="#27308f"/>
<circle cx="441.73" cy="839.85" r="4.9" fill="#88c0dc"/>
<circle cx="450.83" cy="839.85" r="1.8" fill="#27308f"/>
<circle cx="459.93" cy="839.85" r="1.8" fill="#27308f"/>
<circle cx="469.02" cy="839.85" r="4.9" fill="#3a6ab8"/>
<circle cx="478.12" cy="839.85" r="1.8" fill="#7fb6dc"/>
<circle cx="487.22" cy="839.85" r="1.8" fill="#7fb6dc"/>
<circle cx="496.32" cy="839.85" r="1.8" fill="#27308f"/>
<circle cx="505.42" cy="839.85" r="4.9" fill="#80b8dc"/>
<circle cx="514.51" cy="839.85" r="1.8" fill="#27308f"/>
<circle cx="523.61" cy="839.85" r="1.8" fill="#27308f"/>
<circle cx="532.71" cy="839.85" r="1.8" fill="#27308f"/>
<circle cx="541.81" cy="839.85" r="1.8" fill="#27308f"/>
<circle cx="550.91" cy="839.85" r="1.8" fill="#27308f"/>
<circle cx="560.00" cy="839.85" r="1.8" fill="#27308f"/>
<circle cx="569.10" cy="839.85" r="4.9" fill="#80b8dc"/>
<circle cx="578.20" cy="839.85" r="1.8" fill="#4271bb"/>
<circle cx="587.30" cy="839.85" r="1.8" fill="#27308f"/>
<circle cx="596.40" cy="839.85" r="1.8" fill="#27308f"/>
<circle cx="605.49" cy="839.85" r="1.8" fill="#27308f"/>
<circle cx="614.59" cy="839.85" r="1.8" fill="#27308f"/>
<circle cx="623.69" cy="839.85" r="1.8" fill="#27308f"/>
<circle cx="632.79" cy="839.85" r="4.9" fill="#70acd4"/>
<circle cx="641.89" cy="839.85" r="4.9" fill="#80b8dc"/>
<circle cx="650.98" cy="839.85" r="1.8" fill="#27308f"/>
<circle cx="660.08" cy="839.85" r="1.8" fill="#27308f"/>
<circle cx="669.18" cy="839.85" r="4.9" fill="#70acd4"/>
<circle cx="678.28" cy="839.85" r="4.9" fill="#5a94c8"/>
<circle cx="687.38" cy="839.85" r="1.8" fill="#4271bb"/>
<circle cx="696.47" cy="839.85" r="1.8" fill="#27308f"/>
<circle cx="705.57" cy="839.85" r="1.8" fill="#27308f"/>
<circle cx="714.67" cy="839.85" r="1.8" fill="#27308f"/>
<circle cx="723.77" cy="839.85" r="4.9" fill="#d8ecf4"/>
<circle cx="732.87" cy="839.85" r="4.9" fill="#c8e4ec"/>
<circle cx="741.96" cy="839.85" r="1.8" fill="#4271bb"/>
<circle cx="751.06" cy="839.85" r="4.9" fill="#f4f8d0"/>
<circle cx="760.16" cy="839.85" r="1.8" fill="#7fb6dc"/>
<circle cx="769.26" cy="839.85" r="4.9" fill="#e8f4e0"/>
<circle cx="778.36" cy="839.85" r="4.9" fill="#d8ecf4"/>
<circle cx="787.45" cy="839.85" r="1.8" fill="#7fb6dc"/>
<circle cx="796.55" cy="839.85" r="1.8" fill="#7fb6dc"/>
<circle cx="123.30" cy="852.32" r="1.8" fill="#27308f"/>
<circle cx="132.40" cy="852.32" r="4.9" fill="#80b8dc"/>
<circle cx="141.50" cy="852.32" r="4.9" fill="#fee8a0"/>
<circle cx="150.59" cy="852.32" r="1.8" fill="#27308f"/>
<circle cx="159.69" cy="852.32" r="4.9" fill="#a50026"/>
<circle cx="168.79" cy="852.32" r="1.8" fill="#4271bb"/>
<circle cx="177.89" cy="852.32" r="1.8" fill="#4271bb"/>
<circle cx="186.99" cy="852.32" r="1.8" fill="#4271bb"/>
<circle cx="196.08" cy="852.32" r="1.8" fill="#4271bb"/>
<circle cx="205.18" cy="852.32" r="1.8" fill="#4271bb"/>
<circle cx="214.28" cy="852.32" r="1.8" fill="#27308f"/>
<circle cx="223.38" cy="852.32" r="1.8" fill="#27308f"/>
<circle cx="232.48" cy="852.32" r="1.8" fill="#4271bb"/>
<circle cx="241.57" cy="852.32" r="1.8" fill="#27308f"/>
<circle cx="250.67" cy="852.32" r="1.8" fill="#4271bb"/>
<circle cx="259.77" cy="852.32" r="1.8" fill="#4271bb"/>
<circle cx="268.87" cy="852.32" r="1.8" fill="#27308f"/>
<circle cx="277.97" cy="852.32" r="1.8" fill="#27308f"/>
<circle cx="287.06" cy="852.32" r="1.8" fill="#27308f"/>
<circle cx="296.16" cy="852.32" r="1.8" fill="#27308f"/>
<circle cx="305.26" cy="852.32" r="1.8" fill="#4271bb"/>
<circle cx="314.36" cy="852.32" r="1.8" fill="#27308f"/>
<circle cx="323.46" cy="852.32" r="1.8" fill="#27308f"/>
<circle cx="332.55" cy="852.32" r="1.8" fill="#4271bb"/>
<circle cx="341.65" cy="852.32" r="1.8" fill="#4271bb"/>
<circle cx="350.75" cy="852.32" r="1.8" fill="#4271bb"/>
<circle cx="359.85" cy="852.32" r="1.8" fill="#27308f"/>
<circle cx="368.95" cy="852.32" r="1.8" fill="#27308f"/>
<circle cx="378.04" cy="852.32" r="1.8" fill="#27308f"/>
<circle cx="387.14" cy="852.32" r="1.8" fill="#27308f"/>
<circle cx="396.24" cy="852.32" r="1.8" fill="#27308f"/>
<circle cx="405.34" cy="852.32" r="1.8" fill="#7fb6dc"/>
<circle cx="414.44" cy="852.32" r="1.8" fill="#27308f"/>
<circle cx="423.53" cy="852.32" r="1.8" fill="#27308f"/>
<circle cx="432.63" cy="852.32" r="1.8" fill="#27308f"/>
<circle cx="441.73" cy="852.32" r="1.8" fill="#4271bb"/>
<circle cx="450.83" cy="852.32" r="1.8" fill="#27308f"/>
<circle cx="459.93" cy="852.32" r="1.8" fill="#27308f"/>
<circle cx="469.02" cy="852.32" r="4.9" fill="#4a7cc0"/>
<circle cx="478.12" cy="852.32" r="1.8" fill="#4271bb"/>
<circle cx="487.22" cy="852.32" r="1.8" fill="#4271bb"/>
<circle cx="496.32" cy="852.32" r="1.8" fill="#7fb6dc"/>
<circle cx="505.42" cy="852.32" r="4.9" fill="#d0e8f0"/>
<circle cx="514.51" cy="852.32" r="1.8" fill="#27308f"/>
<circle cx="523.61" cy="852.32" r="1.8" fill="#4271bb"/>
<circle cx="532.71" cy="852.32" r="1.8" fill="#4271bb"/>
<circle cx="541.81" cy="852.32" r="1.8" fill="#27308f"/>
<circle cx="550.91" cy="852.32" r="1.8" fill="#27308f"/>
<circle cx="560.00" cy="852.32" r="1.8" fill="#27308f"/>
<circle cx="569.10" cy="852.32" r="1.8" fill="#4271bb"/>
<circle cx="578.20" cy="852.32" r="1.8" fill="#27308f"/>
<circle cx="587.30" cy="852.32" r="1.8" fill="#27308f"/>
<circle cx="596.40" cy="852.32" r="1.8" fill="#27308f"/>
<circle cx="605.49" cy="852.32" r="1.8" fill="#4271bb"/>
<circle cx="614.59" cy="852.32" r="1.8" fill="#27308f"/>
<circle cx="623.69" cy="852.32" r="1.8" fill="#27308f"/>
<circle cx="632.79" cy="852.32" r="1.8" fill="#4271bb"/>
<circle cx="641.89" cy="852.32" r="1.8" fill="#27308f"/>
<circle cx="650.98" cy="852.32" r="1.8" fill="#27308f"/>
<circle cx="660.08" cy="852.32" r="1.8" fill="#4271bb"/>
<circle cx="669.18" cy="852.32" r="1.8" fill="#4271bb"/>
<circle cx="678.28" cy="852.32" r="4.9" fill="#c8e4ec"/>
<circle cx="687.38" cy="852.32" r="1.8" fill="#27308f"/>
<circle cx="696.47" cy="852.32" r="1.8" fill="#27308f"/>
<circle cx="705.57" cy="852.32" r="1.8" fill="#4271bb"/>
<circle cx="714.67" cy="852.32" r="1.8" fill="#7fb6dc"/>
<circle cx="723.77" cy="852.32" r="1.8" fill="#27308f"/>
<circle cx="732.87" cy="852.32" r="1.8" fill="#27308f"/>
<circle cx="741.96" cy="852.32" r="1.8" fill="#27308f"/>
<circle cx="751.06" cy="852.32" r="1.8" fill="#4271bb"/>
<circle cx="760.16" cy="852.32" r="1.8" fill="#4271bb"/>
<circle cx="769.26" cy="852.32" r="4.9" fill="#fafcc8"/>
<circle cx="778.36" cy="852.32" r="4.9" fill="#eef8d8"/>
<circle cx="787.45" cy="852.32" r="4.9" fill="#70acd4"/>
<circle cx="796.55" cy="852.32" r="1.8" fill="#4271bb"/>
<circle cx="123.30" cy="864.79" r="1.8" fill="#27308f"/>
<circle cx="132.40" cy="864.79" r="1.8" fill="#4271bb"/>
<circle cx="141.50" cy="864.79" r="4.9" fill="#98cce4"/>
<circle cx="150.59" cy="864.79" r="1.8" fill="#27308f"/>
<circle cx="159.69" cy="864.79" r="4.9" fill="#e04830"/>
<circle cx="168.79" cy="864.79" r="1.8" fill="#4271bb"/>
<circle cx="177.89" cy="864.79" r="1.8" fill="#4271bb"/>
<circle cx="186.99" cy="864.79" r="1.8" fill="#4271bb"/>
<circle cx="196.08" cy="864.79" r="1.8" fill="#4271bb"/>
<circle cx="205.18" cy="864.79" r="1.8" fill="#27308f"/>
<circle cx="214.28" cy="864.79" r="1.8" fill="#27308f"/>
<circle cx="223.38" cy="864.79" r="1.8" fill="#27308f"/>
<circle cx="232.48" cy="864.79" r="1.8" fill="#4271bb"/>
<circle cx="241.57" cy="864.79" r="1.8" fill="#27308f"/>
<circle cx="250.67" cy="864.79" r="1.8" fill="#4271bb"/>
<circle cx="259.77" cy="864.79" r="1.8" fill="#4271bb"/>
<circle cx="268.87" cy="864.79" r="1.8" fill="#27308f"/>
<circle cx="277.97" cy="864.79" r="1.8" fill="#27308f"/>
<circle cx="287.06" cy="864.79" r="1.8" fill="#4271bb"/>
<circle cx="296.16" cy="864.79" r="1.8" fill="#27308f"/>
<circle cx="305.26" cy="864.79" r="1.8" fill="#4271bb"/>
<circle cx="314.36" cy="864.79" r="1.8" fill="#27308f"/>
<circle cx="323.46" cy="864.79" r="1.8" fill="#27308f"/>
<circle cx="332.55" cy="864.79" r="1.8" fill="#27308f"/>
<circle cx="341.65" cy="864.79" r="1.8" fill="#4271bb"/>
<circle cx="350.75" cy="864.79" r="1.8" fill="#27308f"/>
<circle cx="359.85" cy="864.79" r="1.8" fill="#27308f"/>
<circle cx="368.95" cy="864.79" r="1.8" fill="#4271bb"/>
<circle cx="378.04" cy="864.79" r="1.8" fill="#27308f"/>
<circle cx="387.14" cy="864.79" r="1.8" fill="#27308f"/>
<circle cx="396.24" cy="864.79" r="1.8" fill="#27308f"/>
<circle cx="405.34" cy="864.79" r="1.8" fill="#27308f"/>
<circle cx="414.44" cy="864.79" r="1.8" fill="#27308f"/>
<circle cx="423.53" cy="864.79" r="1.8" fill="#27308f"/>
<circle cx="432.63" cy="864.79" r="1.8" fill="#27308f"/>
<circle cx="441.73" cy="864.79" r="1.8" fill="#4271bb"/>
<circle cx="450.83" cy="864.79" r="1.8" fill="#4271bb"/>
<circle cx="459.93" cy="864.79" r="1.8" fill="#4271bb"/>
<circle cx="469.02" cy="864.79" r="4.9" fill="#5088c4"/>
<circle cx="478.12" cy="864.79" r="1.8" fill="#4271bb"/>
<circle cx="487.22" cy="864.79" r="1.8" fill="#27308f"/>
<circle cx="496.32" cy="864.79" r="1.8" fill="#7fb6dc"/>
<circle cx="505.42" cy="864.79" r="4.9" fill="#b8e0ec"/>
<circle cx="514.51" cy="864.79" r="1.8" fill="#27308f"/>
<circle cx="523.61" cy="864.79" r="1.8" fill="#27308f"/>
<circle cx="532.71" cy="864.79" r="1.8" fill="#27308f"/>
<circle cx="541.81" cy="864.79" r="1.8" fill="#27308f"/>
<circle cx="550.91" cy="864.79" r="1.8" fill="#27308f"/>
<circle cx="560.00" cy="864.79" r="1.8" fill="#27308f"/>
<circle cx="569.10" cy="864.79" r="1.8" fill="#4271bb"/>
<circle cx="578.20" cy="864.79" r="1.8" fill="#4271bb"/>
<circle cx="587.30" cy="864.79" r="1.8" fill="#4271bb"/>
<circle cx="596.40" cy="864.79" r="1.8" fill="#27308f"/>
<circle cx="605.49" cy="864.79" r="1.8" fill="#4271bb"/>
<circle cx="614.59" cy="864.79" r="1.8" fill="#27308f"/>
<circle cx="623.69" cy="864.79" r="1.8" fill="#27308f"/>
<circle cx="632.79" cy="864.79" r="1.8" fill="#27308f"/>
<circle cx="641.89" cy="864.79" r="1.8" fill="#4271bb"/>
<circle cx="650.98" cy="864.79" r="1.8" fill="#27308f"/>
<circle cx="660.08" cy="864.79" r="1.8" fill="#4271bb"/>
<circle cx="669.18" cy="864.79" r="1.8" fill="#4271bb"/>
<circle cx="678.28" cy="864.79" r="4.9" fill="#98cce4"/>
<circle cx="687.38" cy="864.79" r="1.8" fill="#27308f"/>
<circle cx="696.47" cy="864.79" r="1.8" fill="#27308f"/>
<circle cx="705.57" cy="864.79" r="1.8" fill="#27308f"/>
<circle cx="714.67" cy="864.79" r="1.8" fill="#7fb6dc"/>
<circle cx="723.77" cy="864.79" r="1.8" fill="#27308f"/>
<circle cx="732.87" cy="864.79" r="1.8" fill="#27308f"/>
<circle cx="741.96" cy="864.79" r="1.8" fill="#27308f"/>
<circle cx="751.06" cy="864.79" r="1.8" fill="#4271bb"/>
<circle cx="760.16" cy="864.79" r="1.8" fill="#4271bb"/>
<circle cx="769.26" cy="864.79" r="4.9" fill="#d8ecf4"/>
<circle cx="778.36" cy="864.79" r="4.9" fill="#c8e4ec"/>
<circle cx="787.45" cy="864.79" r="1.8" fill="#4271bb"/>
<circle cx="796.55" cy="864.79" r="1.8" fill="#4271bb"/>
<circle cx="123.30" cy="877.26" r="1.8" fill="#4271bb"/>
<circle cx="132.40" cy="877.26" r="1.8" fill="#4271bb"/>
<circle cx="141.50" cy="877.26" r="4.9" fill="#b8e0ec"/>
<circle cx="150.59" cy="877.26" r="1.8" fill="#27308f"/>
<circle cx="159.69" cy="877.26" r="4.9" fill="#a50026"/>
<circle cx="168.79" cy="877.26" r="1.8" fill="#27308f"/>
<circle cx="177.89" cy="877.26" r="1.8" fill="#4271bb"/>
<circle cx="186.99" cy="877.26" r="1.8" fill="#4271bb"/>
<circle cx="196.08" cy="877.26" r="1.8" fill="#4271bb"/>
<circle cx="205.18" cy="877.26" r="1.8" fill="#27308f"/>
<circle cx="214.28" cy="877.26" r="1.8" fill="#27308f"/>
<circle cx="223.38" cy="877.26" r="1.8" fill="#27308f"/>
<circle cx="232.48" cy="877.26" r="1.8" fill="#4271bb"/>
<circle cx="241.57" cy="877.26" r="1.8" fill="#27308f"/>
<circle cx="250.67" cy="877.26" r="1.8" fill="#4271bb"/>
<circle cx="259.77" cy="877.26" r="1.8" fill="#4271bb"/>
<circle cx="268.87" cy="877.26" r="1.8" fill="#27308f"/>
<circle cx="277.97" cy="877.26" r="1.8" fill="#4271bb"/>
<circle cx="287.06" cy="877.26" r="1.8" fill="#27308f"/>
<circle cx="296.16" cy="877.26" r="1.8" fill="#4271bb"/>
<circle cx="305.26" cy="877.26" r="1.8" fill="#27308f"/>
<circle cx="314.36" cy="877.26" r="1.8" fill="#27308f"/>
<circle cx="323.46" cy="877.26" r="1.8" fill="#27308f"/>
<circle cx="332.55" cy="877.26" r="1.8" fill="#27308f"/>
<circle cx="341.65" cy="877.26" r="1.8" fill="#4271bb"/>
<circle cx="350.75" cy="877.26" r="1.8" fill="#4271bb"/>
<circle cx="359.85" cy="877.26" r="1.8" fill="#27308f"/>
<circle cx="368.95" cy="877.26" r="1.8" fill="#27308f"/>
<circle cx="378.04" cy="877.26" r="1.8" fill="#27308f"/>
<circle cx="387.14" cy="877.26" r="1.8" fill="#27308f"/>
<circle cx="396.24" cy="877.26" r="1.8" fill="#4271bb"/>
<circle cx="405.34" cy="877.26" r="1.8" fill="#7fb6dc"/>
<circle cx="414.44" cy="877.26" r="1.8" fill="#27308f"/>
<circle cx="423.53" cy="877.26" r="1.8" fill="#27308f"/>
<circle cx="432.63" cy="877.26" r="1.8" fill="#27308f"/>
<circle cx="441.73" cy="877.26" r="1.8" fill="#27308f"/>
<circle cx="450.83" cy="877.26" r="1.8" fill="#27308f"/>
<circle cx="459.93" cy="877.26" r="1.8" fill="#27308f"/>
<circle cx="469.02" cy="877.26" r="4.9" fill="#6aa4d0"/>
<circle cx="478.12" cy="877.26" r="1.8" fill="#4271bb"/>
<circle cx="487.22" cy="877.26" r="1.8" fill="#4271bb"/>
<circle cx="496.32" cy="877.26" r="1.8" fill="#7fb6dc"/>
<circle cx="505.42" cy="877.26" r="4.9" fill="#a8d4e8"/>
<circle cx="514.51" cy="877.26" r="1.8" fill="#27308f"/>
<circle cx="523.61" cy="877.26" r="1.8" fill="#27308f"/>
<circle cx="532.71" cy="877.26" r="1.8" fill="#27308f"/>
<circle cx="541.81" cy="877.26" r="1.8" fill="#27308f"/>
<circle cx="550.91" cy="877.26" r="1.8" fill="#27308f"/>
<circle cx="560.00" cy="877.26" r="1.8" fill="#27308f"/>
<circle cx="569.10" cy="877.26" r="1.8" fill="#4271bb"/>
<circle cx="578.20" cy="877.26" r="1.8" fill="#27308f"/>
<circle cx="587.30" cy="877.26" r="1.8" fill="#27308f"/>
<circle cx="596.40" cy="877.26" r="1.8" fill="#27308f"/>
<circle cx="605.49" cy="877.26" r="1.8" fill="#4271bb"/>
<circle cx="614.59" cy="877.26" r="1.8" fill="#27308f"/>
<circle cx="623.69" cy="877.26" r="1.8" fill="#27308f"/>
<circle cx="632.79" cy="877.26" r="1.8" fill="#4271bb"/>
<circle cx="641.89" cy="877.26" r="1.8" fill="#27308f"/>
<circle cx="650.98" cy="877.26" r="1.8" fill="#27308f"/>
<circle cx="660.08" cy="877.26" r="1.8" fill="#4271bb"/>
<circle cx="669.18" cy="877.26" r="1.8" fill="#4271bb"/>
<circle cx="678.28" cy="877.26" r="4.9" fill="#88c0dc"/>
<circle cx="687.38" cy="877.26" r="1.8" fill="#27308f"/>
<circle cx="696.47" cy="877.26" r="1.8" fill="#27308f"/>
<circle cx="705.57" cy="877.26" r="1.8" fill="#4271bb"/>
<circle cx="714.67" cy="877.26" r="1.8" fill="#7fb6dc"/>
<circle cx="723.77" cy="877.26" r="1.8" fill="#27308f"/>
<circle cx="732.87" cy="877.26" r="1.8" fill="#27308f"/>
<circle cx="741.96" cy="877.26" r="1.8" fill="#27308f"/>
<circle cx="751.06" cy="877.26" r="4.9" fill="#c8e4ec"/>
<circle cx="760.16" cy="877.26" r="1.8" fill="#4271bb"/>
<circle cx="769.26" cy="877.26" r="4.9" fill="#b0dcea"/>
<circle cx="778.36" cy="877.26" r="4.9" fill="#98cce4"/>
<circle cx="787.45" cy="877.26" r="1.8" fill="#4271bb"/>
<circle cx="796.55" cy="877.26" r="1.8" fill="#4271bb"/>
<circle cx="123.30" cy="889.73" r="1.8" fill="#27308f"/>
<circle cx="132.40" cy="889.73" r="1.8" fill="#4271bb"/>
<circle cx="141.50" cy="889.73" r="1.8" fill="#4271bb"/>
<circle cx="150.59" cy="889.73" r="1.8" fill="#27308f"/>
<circle cx="159.69" cy="889.73" r="4.9" fill="#a50026"/>
<circle cx="168.79" cy="889.73" r="1.8" fill="#4271bb"/>
<circle cx="177.89" cy="889.73" r="1.8" fill="#27308f"/>
<circle cx="186.99" cy="889.73" r="1.8" fill="#4271bb"/>
<circle cx="196.08" cy="889.73" r="1.8" fill="#4271bb"/>
<circle cx="205.18" cy="889.73" r="1.8" fill="#27308f"/>
<circle cx="214.28" cy="889.73" r="1.8" fill="#27308f"/>
<circle cx="223.38" cy="889.73" r="1.8" fill="#27308f"/>
<circle cx="232.48" cy="889.73" r="1.8" fill="#4271bb"/>
<circle cx="241.57" cy="889.73" r="1.8" fill="#4271bb"/>
<circle cx="250.67" cy="889.73" r="1.8" fill="#4271bb"/>
<circle cx="259.77" cy="889.73" r="1.8" fill="#4271bb"/>
<circle cx="268.87" cy="889.73" r="1.8" fill="#27308f"/>
<circle cx="277.97" cy="889.73" r="1.8" fill="#27308f"/>
<circle cx="287.06" cy="889.73" r="1.8" fill="#4271bb"/>
<circle cx="296.16" cy="889.73" r="1.8" fill="#27308f"/>
<circle cx="305.26" cy="889.73" r="1.8" fill="#27308f"/>
<circle cx="314.36" cy="889.73" r="1.8" fill="#27308f"/>
<circle cx="323.46" cy="889.73" r="1.8" fill="#27308f"/>
<circle cx="332.55" cy="889.73" r="1.8" fill="#27308f"/>
<circle cx="341.65" cy="889.73" r="1.8" fill="#4271bb"/>
<circle cx="350.75" cy="889.73" r="1.8" fill="#27308f"/>
<circle cx="359.85" cy="889.73" r="1.8" fill="#27308f"/>
<circle cx="368.95" cy="889.73" r="1.8" fill="#27308f"/>
<circle cx="378.04" cy="889.73" r="1.8" fill="#4271bb"/>
<circle cx="387.14" cy="889.73" r="1.8" fill="#27308f"/>
<circle cx="396.24" cy="889.73" r="1.8" fill="#27308f"/>
<circle cx="405.34" cy="889.73" r="1.8" fill="#7fb6dc"/>
<circle cx="414.44" cy="889.73" r="1.8" fill="#27308f"/>
<circle cx="423.53" cy="889.73" r="1.8" fill="#27308f"/>
<circle cx="432.63" cy="889.73" r="1.8" fill="#27308f"/>
<circle cx="441.73" cy="889.73" r="1.8" fill="#4271bb"/>
<circle cx="450.83" cy="889.73" r="1.8" fill="#27308f"/>
<circle cx="459.93" cy="889.73" r="1.8" fill="#27308f"/>
<circle cx="469.02" cy="889.73" r="4.9" fill="#4a7cc0"/>
<circle cx="478.12" cy="889.73" r="1.8" fill="#4271bb"/>
<circle cx="487.22" cy="889.73" r="1.8" fill="#4271bb"/>
<circle cx="496.32" cy="889.73" r="1.8" fill="#7fb6dc"/>
<circle cx="505.42" cy="889.73" r="4.9" fill="#98cce4"/>
<circle cx="514.51" cy="889.73" r="1.8" fill="#27308f"/>
<circle cx="523.61" cy="889.73" r="1.8" fill="#f46d43"/>
<circle cx="532.71" cy="889.73" r="1.8" fill="#27308f"/>
<circle cx="541.81" cy="889.73" r="1.8" fill="#27308f"/>
<circle cx="550.91" cy="889.73" r="1.8" fill="#27308f"/>
<circle cx="560.00" cy="889.73" r="4.9" fill="#f06030"/>
<circle cx="569.10" cy="889.73" r="1.8" fill="#4271bb"/>
<circle cx="578.20" cy="889.73" r="1.8" fill="#27308f"/>
<circle cx="587.30" cy="889.73" r="1.8" fill="#27308f"/>
<circle cx="596.40" cy="889.73" r="1.8" fill="#f46d43"/>
<circle cx="605.49" cy="889.73" r="1.8" fill="#4271bb"/>
<circle cx="614.59" cy="889.73" r="1.8" fill="#27308f"/>
<circle cx="623.69" cy="889.73" r="1.8" fill="#27308f"/>
<circle cx="632.79" cy="889.73" r="1.8" fill="#4271bb"/>
<circle cx="641.89" cy="889.73" r="1.8" fill="#27308f"/>
<circle cx="650.98" cy="889.73" r="1.8" fill="#4271bb"/>
<circle cx="660.08" cy="889.73" r="1.8" fill="#4271bb"/>
<circle cx="669.18" cy="889.73" r="4.9" fill="#d03020"/>
<circle cx="678.28" cy="889.73" r="4.9" fill="#98cce4"/>
<circle cx="687.38" cy="889.73" r="4.9" fill="#d0e8f0"/>
<circle cx="696.47" cy="889.73" r="1.8" fill="#27308f"/>
<circle cx="705.57" cy="889.73" r="1.8" fill="#4271bb"/>
<circle cx="714.67" cy="889.73" r="1.8" fill="#7fb6dc"/>
<circle cx="723.77" cy="889.73" r="4.9" fill="#c8e4ec"/>
<circle cx="732.87" cy="889.73" r="4.9" fill="#c0e0ec"/>
<circle cx="741.96" cy="889.73" r="1.8" fill="#27308f"/>
<circle cx="751.06" cy="889.73" r="1.8" fill="#27308f"/>
<circle cx="760.16" cy="889.73" r="1.8" fill="#4271bb"/>
<circle cx="769.26" cy="889.73" r="3.5" fill="#6aa4d0"/>
<circle cx="778.36" cy="889.73" r="1.8" fill="#4271bb"/>
<circle cx="787.45" cy="889.73" r="4.9" fill="#78b4d8"/>
<circle cx="796.55" cy="889.73" r="1.8" fill="#4271bb"/>
<circle cx="123.30" cy="902.20" r="1.8" fill="#4271bb"/>
<circle cx="132.40" cy="902.20" r="1.8" fill="#4271bb"/>
<circle cx="141.50" cy="902.20" r="4.9" fill="#88c0dc"/>
<circle cx="150.59" cy="902.20" r="1.8" fill="#27308f"/>
<circle cx="159.69" cy="902.20" r="1.8" fill="#f46d43"/>
<circle cx="168.79" cy="902.20" r="1.8" fill="#4271bb"/>
<circle cx="177.89" cy="902.20" r="1.8" fill="#4271bb"/>
<circle cx="186.99" cy="902.20" r="1.8" fill="#4271bb"/>
<circle cx="196.08" cy="902.20" r="1.8" fill="#4271bb"/>
<circle cx="205.18" cy="902.20" r="1.8" fill="#27308f"/>
<circle cx="214.28" cy="902.20" r="1.8" fill="#27308f"/>
<circle cx="223.38" cy="902.20" r="1.8" fill="#27308f"/>
<circle cx="232.48" cy="902.20" r="1.8" fill="#4271bb"/>
<circle cx="241.57" cy="902.20" r="1.8" fill="#27308f"/>
<circle cx="250.67" cy="902.20" r="1.8" fill="#4271bb"/>
<circle cx="259.77" cy="902.20" r="1.8" fill="#4271bb"/>
<circle cx="268.87" cy="902.20" r="1.8" fill="#27308f"/>
<circle cx="277.97" cy="902.20" r="1.8" fill="#27308f"/>
<circle cx="287.06" cy="902.20" r="1.8" fill="#27308f"/>
<circle cx="296.16" cy="902.20" r="1.8" fill="#27308f"/>
<circle cx="305.26" cy="902.20" r="1.8" fill="#27308f"/>
<circle cx="314.36" cy="902.20" r="1.8" fill="#27308f"/>
<circle cx="323.46" cy="902.20" r="1.8" fill="#27308f"/>
<circle cx="332.55" cy="902.20" r="1.8" fill="#27308f"/>
<circle cx="341.65" cy="902.20" r="1.8" fill="#4271bb"/>
<circle cx="350.75" cy="902.20" r="1.8" fill="#27308f"/>
<circle cx="359.85" cy="902.20" r="1.8" fill="#27308f"/>
<circle cx="368.95" cy="902.20" r="1.8" fill="#27308f"/>
<circle cx="378.04" cy="902.20" r="1.8" fill="#27308f"/>
<circle cx="387.14" cy="902.20" r="1.8" fill="#27308f"/>
<circle cx="396.24" cy="902.20" r="1.8" fill="#27308f"/>
<circle cx="405.34" cy="902.20" r="1.8" fill="#7fb6dc"/>
<circle cx="414.44" cy="902.20" r="1.8" fill="#27308f"/>
<circle cx="423.53" cy="902.20" r="1.8" fill="#27308f"/>
<circle cx="432.63" cy="902.20" r="1.8" fill="#27308f"/>
<circle cx="441.73" cy="902.20" r="1.8" fill="#4271bb"/>
<circle cx="450.83" cy="902.20" r="4.9" fill="#80bcdc"/>
<circle cx="459.93" cy="902.20" r="1.8" fill="#27308f"/>
<circle cx="469.02" cy="902.20" r="1.8" fill="#4271bb"/>
<circle cx="478.12" cy="902.20" r="1.8" fill="#4271bb"/>
<circle cx="487.22" cy="902.20" r="1.8" fill="#4271bb"/>
<circle cx="496.32" cy="902.20" r="1.8" fill="#7fb6dc"/>
<circle cx="505.42" cy="902.20" r="4.9" fill="#c8e4ec"/>
<circle cx="514.51" cy="902.20" r="1.8" fill="#27308f"/>
<circle cx="523.61" cy="902.20" r="1.8" fill="#27308f"/>
<circle cx="532.71" cy="902.20" r="4.9" fill="#a8d4e8"/>
<circle cx="541.81" cy="902.20" r="4.9" fill="#98cce4"/>
<circle cx="550.91" cy="902.20" r="1.8" fill="#27308f"/>
<circle cx="560.00" cy="902.20" r="1.8" fill="#27308f"/>
<circle cx="569.10" cy="902.20" r="1.8" fill="#4271bb"/>
<circle cx="578.20" cy="902.20" r="1.8" fill="#27308f"/>
<circle cx="587.30" cy="902.20" r="1.8" fill="#fee090"/>
<circle cx="596.40" cy="902.20" r="1.8" fill="#27308f"/>
<circle cx="605.49" cy="902.20" r="1.8" fill="#4271bb"/>
<circle cx="614.59" cy="902.20" r="1.8" fill="#27308f"/>
<circle cx="623.69" cy="902.20" r="1.8" fill="#27308f"/>
<circle cx="632.79" cy="902.20" r="4.9" fill="#e0f0e8"/>
<circle cx="641.89" cy="902.20" r="4.9" fill="#d8ecf4"/>
<circle cx="650.98" cy="902.20" r="4.9" fill="#c8e4ec"/>
<circle cx="660.08" cy="902.20" r="4.9" fill="#fdae61"/>
<circle cx="669.18" cy="902.20" r="1.8" fill="#4271bb"/>
<circle cx="678.28" cy="902.20" r="1.8" fill="#4271bb"/>
<circle cx="687.38" cy="902.20" r="4.9" fill="#d8ecf4"/>
<circle cx="696.47" cy="902.20" r="1.8" fill="#27308f"/>
<circle cx="705.57" cy="902.20" r="1.8" fill="#27308f"/>
<circle cx="714.67" cy="902.20" r="1.8" fill="#7fb6dc"/>
<circle cx="723.77" cy="902.20" r="4.9" fill="#78b4d8"/>
<circle cx="732.87" cy="902.20" r="1.8" fill="#27308f"/>
<circle cx="741.96" cy="902.20" r="1.8" fill="#27308f"/>
<circle cx="751.06" cy="902.20" r="1.8" fill="#4271bb"/>
<circle cx="760.16" cy="902.20" r="1.8" fill="#4271bb"/>
<circle cx="769.26" cy="902.20" r="1.8" fill="#4271bb"/>
<circle cx="778.36" cy="902.20" r="1.8" fill="#4271bb"/>
<circle cx="787.45" cy="902.20" r="4.9" fill="#a50026"/>
<circle cx="796.55" cy="902.20" r="4.9" fill="#e85838"/>
<circle cx="123.30" cy="914.67" r="1.8" fill="#27308f"/>
<circle cx="132.40" cy="914.67" r="1.8" fill="#4271bb"/>
<circle cx="141.50" cy="914.67" r="1.8" fill="#4271bb"/>
<circle cx="150.59" cy="914.67" r="1.8" fill="#27308f"/>
<circle cx="159.69" cy="914.67" r="4.9" fill="#a50026"/>
<circle cx="168.79" cy="914.67" r="1.8" fill="#27308f"/>
<circle cx="177.89" cy="914.67" r="1.8" fill="#4271bb"/>
<circle cx="186.99" cy="914.67" r="4.9" fill="#f4844a"/>
<circle cx="196.08" cy="914.67" r="1.8" fill="#4271bb"/>
<circle cx="205.18" cy="914.67" r="1.8" fill="#27308f"/>
<circle cx="214.28" cy="914.67" r="1.8" fill="#27308f"/>
<circle cx="223.38" cy="914.67" r="1.8" fill="#27308f"/>
<circle cx="232.48" cy="914.67" r="1.8" fill="#4271bb"/>
<circle cx="241.57" cy="914.67" r="1.8" fill="#27308f"/>
<circle cx="250.67" cy="914.67" r="4.9" fill="#88c0dc"/>
<circle cx="259.77" cy="914.67" r="4.9" fill="#78b4d8"/>
<circle cx="268.87" cy="914.67" r="4.9" fill="#3a68b0"/>
<circle cx="277.97" cy="914.67" r="1.8" fill="#27308f"/>
<circle cx="287.06" cy="914.67" r="1.8" fill="#27308f"/>
<circle cx="296.16" cy="914.67" r="1.8" fill="#27308f"/>
<circle cx="305.26" cy="914.67" r="1.8" fill="#27308f"/>
<circle cx="314.36" cy="914.67" r="1.8" fill="#27308f"/>
<circle cx="323.46" cy="914.67" r="1.8" fill="#4271bb"/>
<circle cx="332.55" cy="914.67" r="1.8" fill="#27308f"/>
<circle cx="341.65" cy="914.67" r="4.9" fill="#98cce4"/>
<circle cx="350.75" cy="914.67" r="1.8" fill="#27308f"/>
<circle cx="359.85" cy="914.67" r="1.8" fill="#27308f"/>
<circle cx="368.95" cy="914.67" r="1.8" fill="#27308f"/>
<circle cx="378.04" cy="914.67" r="1.8" fill="#27308f"/>
<circle cx="387.14" cy="914.67" r="1.8" fill="#27308f"/>
<circle cx="396.24" cy="914.67" r="1.8" fill="#27308f"/>
<circle cx="405.34" cy="914.67" r="1.8" fill="#7fb6dc"/>
<circle cx="414.44" cy="914.67" r="1.8" fill="#27308f"/>
<circle cx="423.53" cy="914.67" r="1.8" fill="#27308f"/>
<circle cx="432.63" cy="914.67" r="1.8" fill="#27308f"/>
<circle cx="441.73" cy="914.67" r="1.8" fill="#4271bb"/>
<circle cx="450.83" cy="914.67" r="4.9" fill="#80bcdc"/>
<circle cx="459.93" cy="914.67" r="4.9" fill="#5088c4"/>
<circle cx="469.02" cy="914.67" r="4.9" fill="#6aa4d0"/>
<circle cx="478.12" cy="914.67" r="1.8" fill="#4271bb"/>
<circle cx="487.22" cy="914.67" r="1.8" fill="#4271bb"/>
<circle cx="496.32" cy="914.67" r="1.8" fill="#7fb6dc"/>
<circle cx="505.42" cy="914.67" r="3.5" fill="#70acd4"/>
<circle cx="514.51" cy="914.67" r="1.8" fill="#27308f"/>
<circle cx="523.61" cy="914.67" r="1.8" fill="#27308f"/>
<circle cx="532.71" cy="914.67" r="1.8" fill="#27308f"/>
<circle cx="541.81" cy="914.67" r="1.8" fill="#27308f"/>
<circle cx="550.91" cy="914.67" r="1.8" fill="#27308f"/>
<circle cx="560.00" cy="914.67" r="4.9" fill="#6aa4d0"/>
<circle cx="569.10" cy="914.67" r="1.8" fill="#4271bb"/>
<circle cx="578.20" cy="914.67" r="1.8" fill="#27308f"/>
<circle cx="587.30" cy="914.67" r="1.8" fill="#27308f"/>
<circle cx="596.40" cy="914.67" r="1.8" fill="#27308f"/>
<circle cx="605.49" cy="914.67" r="1.8" fill="#4271bb"/>
<circle cx="614.59" cy="914.67" r="1.8" fill="#27308f"/>
<circle cx="623.69" cy="914.67" r="1.8" fill="#27308f"/>
<circle cx="632.79" cy="914.67" r="1.8" fill="#27308f"/>
<circle cx="641.89" cy="914.67" r="1.8" fill="#27308f"/>
<circle cx="650.98" cy="914.67" r="1.8" fill="#27308f"/>
<circle cx="660.08" cy="914.67" r="1.8" fill="#4271bb"/>
<circle cx="669.18" cy="914.67" r="4.9" fill="#a0d0e4"/>
<circle cx="678.28" cy="914.67" r="4.9" fill="#b0dcea"/>
<circle cx="687.38" cy="914.67" r="4.9" fill="#5a94c8"/>
<circle cx="696.47" cy="914.67" r="1.8" fill="#f46d43"/>
<circle cx="705.57" cy="914.67" r="4.9" fill="#fdc070"/>
<circle cx="714.67" cy="914.67" r="1.8" fill="#d73027"/>
<circle cx="723.77" cy="914.67" r="4.9" fill="#6aa4d0"/>
<circle cx="732.87" cy="914.67" r="1.8" fill="#27308f"/>
<circle cx="741.96" cy="914.67" r="1.8" fill="#4271bb"/>
<circle cx="751.06" cy="914.67" r="4.9" fill="#b0dcea"/>
<circle cx="760.16" cy="914.67" r="1.8" fill="#4271bb"/>
<circle cx="769.26" cy="914.67" r="4.9" fill="#b0dcea"/>
<circle cx="778.36" cy="914.67" r="4.9" fill="#a0d0e4"/>
<circle cx="787.45" cy="914.67" r="1.8" fill="#4271bb"/>
<circle cx="796.55" cy="914.67" r="1.8" fill="#4271bb"/>
<circle cx="123.30" cy="927.14" r="1.8" fill="#4271bb"/>
<circle cx="132.40" cy="927.14" r="1.8" fill="#4271bb"/>
<circle cx="141.50" cy="927.14" r="1.8" fill="#4271bb"/>
<circle cx="150.59" cy="927.14" r="1.8" fill="#27308f"/>
<circle cx="159.69" cy="927.14" r="1.8" fill="#4271bb"/>
<circle cx="168.79" cy="927.14" r="1.8" fill="#90c8e0"/>
<circle cx="177.89" cy="927.14" r="1.8" fill="#27308f"/>
<circle cx="186.99" cy="927.14" r="1.8" fill="#27308f"/>
<circle cx="196.08" cy="927.14" r="1.8" fill="#27308f"/>
<circle cx="205.18" cy="927.14" r="1.8" fill="#4271bb"/>
<circle cx="214.28" cy="927.14" r="1.8" fill="#27308f"/>
<circle cx="223.38" cy="927.14" r="1.8" fill="#27308f"/>
<circle cx="232.48" cy="927.14" r="1.8" fill="#4271bb"/>
<circle cx="241.57" cy="927.14" r="1.8" fill="#27308f"/>
<circle cx="250.67" cy="927.14" r="1.8" fill="#4271bb"/>
<circle cx="259.77" cy="927.14" r="1.8" fill="#4271bb"/>
<circle cx="268.87" cy="927.14" r="1.8" fill="#27308f"/>
<circle cx="277.97" cy="927.14" r="1.8" fill="#27308f"/>
<circle cx="287.06" cy="927.14" r="1.8" fill="#27308f"/>
<circle cx="296.16" cy="927.14" r="1.8" fill="#27308f"/>
<circle cx="305.26" cy="927.14" r="1.8" fill="#4271bb"/>
<circle cx="314.36" cy="927.14" r="1.8" fill="#4271bb"/>
<circle cx="323.46" cy="927.14" r="1.8" fill="#4271bb"/>
<circle cx="332.55" cy="927.14" r="1.8" fill="#27308f"/>
<circle cx="341.65" cy="927.14" r="1.8" fill="#27308f"/>
<circle cx="350.75" cy="927.14" r="1.8" fill="#4271bb"/>
<circle cx="359.85" cy="927.14" r="1.8" fill="#7fb6dc"/>
<circle cx="368.95" cy="927.14" r="1.8" fill="#4271bb"/>
<circle cx="378.04" cy="927.14" r="1.8" fill="#27308f"/>
<circle cx="387.14" cy="927.14" r="1.8" fill="#27308f"/>
<circle cx="396.24" cy="927.14" r="1.8" fill="#4271bb"/>
<circle cx="405.34" cy="927.14" r="1.8" fill="#4271bb"/>
<circle cx="414.44" cy="927.14" r="1.8" fill="#27308f"/>
<circle cx="423.53" cy="927.14" r="1.8" fill="#27308f"/>
<circle cx="432.63" cy="927.14" r="1.8" fill="#27308f"/>
<circle cx="441.73" cy="927.14" r="1.8" fill="#27308f"/>
<circle cx="450.83" cy="927.14" r="1.8" fill="#27308f"/>
<circle cx="459.93" cy="927.14" r="1.8" fill="#4271bb"/>
<circle cx="469.02" cy="927.14" r="1.8" fill="#27308f"/>
<circle cx="478.12" cy="927.14" r="1.8" fill="#90c8e0"/>
<circle cx="487.22" cy="927.14" r="1.8" fill="#90c8e0"/>
<circle cx="496.32" cy="927.14" r="1.8" fill="#90c8e0"/>
<circle cx="505.42" cy="927.14" r="1.8" fill="#27308f"/>
<circle cx="514.51" cy="927.14" r="1.8" fill="#27308f"/>
<circle cx="523.61" cy="927.14" r="1.8" fill="#27308f"/>
<circle cx="532.71" cy="927.14" r="1.8" fill="#27308f"/>
<circle cx="541.81" cy="927.14" r="1.8" fill="#27308f"/>
<circle cx="550.91" cy="927.14" r="1.8" fill="#27308f"/>
<circle cx="560.00" cy="927.14" r="1.8" fill="#27308f"/>
<circle cx="569.10" cy="927.14" r="4.9" fill="#98cce4"/>
<circle cx="578.20" cy="927.14" r="1.8" fill="#4271bb"/>
<circle cx="587.30" cy="927.14" r="1.8" fill="#27308f"/>
<circle cx="596.40" cy="927.14" r="1.8" fill="#27308f"/>
<circle cx="605.49" cy="927.14" r="1.8" fill="#27308f"/>
<circle cx="614.59" cy="927.14" r="1.8" fill="#27308f"/>
<circle cx="623.69" cy="927.14" r="1.8" fill="#27308f"/>
<circle cx="632.79" cy="927.14" r="1.8" fill="#4271bb"/>
<circle cx="641.89" cy="927.14" r="4.9" fill="#e8f4d8"/>
<circle cx="650.98" cy="927.14" r="1.8" fill="#27308f"/>
<circle cx="660.08" cy="927.14" r="1.8" fill="#27308f"/>
<circle cx="669.18" cy="927.14" r="1.8" fill="#27308f"/>
<circle cx="678.28" cy="927.14" r="1.8" fill="#27308f"/>
<circle cx="687.38" cy="927.14" r="1.8" fill="#4271bb"/>
<circle cx="696.47" cy="927.14" r="1.8" fill="#27308f"/>
<circle cx="705.57" cy="927.14" r="1.8" fill="#27308f"/>
<circle cx="714.67" cy="927.14" r="1.8" fill="#27308f"/>
<circle cx="723.77" cy="927.14" r="1.8" fill="#4271bb"/>
<circle cx="732.87" cy="927.14" r="4.9" fill="#b0dcea"/>
<circle cx="741.96" cy="927.14" r="4.9" fill="#b0dcea"/>
<circle cx="751.06" cy="927.14" r="4.9" fill="#c8e4ec"/>
<circle cx="760.16" cy="927.14" r="4.9" fill="#c8e4ec"/>
<circle cx="769.26" cy="927.14" r="1.8" fill="#4271bb"/>
<circle cx="778.36" cy="927.14" r="1.8" fill="#4271bb"/>
<circle cx="787.45" cy="927.14" r="1.8" fill="#e8f4e0"/>
<circle cx="796.55" cy="927.14" r="1.8" fill="#e0f0f0"/>
<circle cx="123.30" cy="939.61" r="1.8" fill="#4271bb"/>
<circle cx="132.40" cy="939.61" r="1.8" fill="#4271bb"/>
<circle cx="141.50" cy="939.61" r="1.8" fill="#27308f"/>
<circle cx="150.59" cy="939.61" r="1.8" fill="#27308f"/>
<circle cx="159.69" cy="939.61" r="1.8" fill="#4271bb"/>
<circle cx="168.79" cy="939.61" r="1.8" fill="#90c8e0"/>
<circle cx="177.89" cy="939.61" r="1.8" fill="#27308f"/>
<circle cx="186.99" cy="939.61" r="1.8" fill="#27308f"/>
<circle cx="196.08" cy="939.61" r="1.8" fill="#27308f"/>
<circle cx="205.18" cy="939.61" r="1.8" fill="#4271bb"/>
<circle cx="214.28" cy="939.61" r="1.8" fill="#27308f"/>
<circle cx="223.38" cy="939.61" r="1.8" fill="#27308f"/>
<circle cx="232.48" cy="939.61" r="1.8" fill="#4271bb"/>
<circle cx="241.57" cy="939.61" r="1.8" fill="#27308f"/>
<circle cx="250.67" cy="939.61" r="1.8" fill="#4271bb"/>
<circle cx="259.77" cy="939.61" r="1.8" fill="#4271bb"/>
<circle cx="268.87" cy="939.61" r="1.8" fill="#4271bb"/>
<circle cx="277.97" cy="939.61" r="1.8" fill="#27308f"/>
<circle cx="287.06" cy="939.61" r="1.8" fill="#27308f"/>
<circle cx="296.16" cy="939.61" r="1.8" fill="#27308f"/>
<circle cx="305.26" cy="939.61" r="1.8" fill="#4271bb"/>
<circle cx="314.36" cy="939.61" r="1.8" fill="#4271bb"/>
<circle cx="323.46" cy="939.61" r="1.8" fill="#4271bb"/>
<circle cx="332.55" cy="939.61" r="1.8" fill="#27308f"/>
<circle cx="341.65" cy="939.61" r="1.8" fill="#27308f"/>
<circle cx="350.75" cy="939.61" r="1.8" fill="#4271bb"/>
<circle cx="359.85" cy="939.61" r="1.8" fill="#7fb6dc"/>
<circle cx="368.95" cy="939.61" r="1.8" fill="#27308f"/>
<circle cx="378.04" cy="939.61" r="1.8" fill="#27308f"/>
<circle cx="387.14" cy="939.61" r="1.8" fill="#27308f"/>
<circle cx="396.24" cy="939.61" r="1.8" fill="#4271bb"/>
<circle cx="405.34" cy="939.61" r="1.8" fill="#27308f"/>
<circle cx="414.44" cy="939.61" r="1.8" fill="#27308f"/>
<circle cx="423.53" cy="939.61" r="1.8" fill="#27308f"/>
<circle cx="432.63" cy="939.61" r="1.8" fill="#27308f"/>
<circle cx="441.73" cy="939.61" r="1.8" fill="#27308f"/>
<circle cx="450.83" cy="939.61" r="1.8" fill="#27308f"/>
<circle cx="459.93" cy="939.61" r="1.8" fill="#27308f"/>
<circle cx="469.02" cy="939.61" r="1.8" fill="#27308f"/>
<circle cx="478.12" cy="939.61" r="1.8" fill="#90c8e0"/>
<circle cx="487.22" cy="939.61" r="1.8" fill="#90c8e0"/>
<circle cx="496.32" cy="939.61" r="1.8" fill="#90c8e0"/>
<circle cx="505.42" cy="939.61" r="1.8" fill="#27308f"/>
<circle cx="514.51" cy="939.61" r="1.8" fill="#27308f"/>
<circle cx="523.61" cy="939.61" r="1.8" fill="#27308f"/>
<circle cx="532.71" cy="939.61" r="1.8" fill="#4271bb"/>
<circle cx="541.81" cy="939.61" r="1.8" fill="#27308f"/>
<circle cx="550.91" cy="939.61" r="1.8" fill="#27308f"/>
<circle cx="560.00" cy="939.61" r="1.8" fill="#27308f"/>
<circle cx="569.10" cy="939.61" r="4.9" fill="#6aa4d0"/>
<circle cx="578.20" cy="939.61" r="1.8" fill="#4271bb"/>
<circle cx="587.30" cy="939.61" r="1.8" fill="#27308f"/>
<circle cx="596.40" cy="939.61" r="1.8" fill="#27308f"/>
<circle cx="605.49" cy="939.61" r="1.8" fill="#27308f"/>
<circle cx="614.59" cy="939.61" r="1.8" fill="#27308f"/>
<circle cx="623.69" cy="939.61" r="1.8" fill="#27308f"/>
<circle cx="632.79" cy="939.61" r="1.8" fill="#4271bb"/>
<circle cx="641.89" cy="939.61" r="4.9" fill="#c8e4ec"/>
<circle cx="650.98" cy="939.61" r="1.8" fill="#27308f"/>
<circle cx="660.08" cy="939.61" r="1.8" fill="#27308f"/>
<circle cx="669.18" cy="939.61" r="1.8" fill="#27308f"/>
<circle cx="678.28" cy="939.61" r="1.8" fill="#27308f"/>
<circle cx="687.38" cy="939.61" r="1.8" fill="#4271bb"/>
<circle cx="696.47" cy="939.61" r="1.8" fill="#27308f"/>
<circle cx="705.57" cy="939.61" r="1.8" fill="#27308f"/>
<circle cx="714.67" cy="939.61" r="1.8" fill="#27308f"/>
<circle cx="723.77" cy="939.61" r="4.9" fill="#c0e0ec"/>
<circle cx="732.87" cy="939.61" r="1.8" fill="#4271bb"/>
<circle cx="741.96" cy="939.61" r="1.8" fill="#4271bb"/>
<circle cx="751.06" cy="939.61" r="1.8" fill="#7fb6dc"/>
<circle cx="760.16" cy="939.61" r="1.8" fill="#7fb6dc"/>
<circle cx="769.26" cy="939.61" r="3.5" fill="#6aa4d0"/>
<circle cx="778.36" cy="939.61" r="1.8" fill="#4271bb"/>
<circle cx="787.45" cy="939.61" r="1.8" fill="#7fb6dc"/>
<circle cx="796.55" cy="939.61" r="1.8" fill="#7fb6dc"/>
<circle cx="123.30" cy="952.08" r="1.8" fill="#4271bb"/>
<circle cx="132.40" cy="952.08" r="1.8" fill="#4271bb"/>
<circle cx="141.50" cy="952.08" r="1.8" fill="#27308f"/>
<circle cx="150.59" cy="952.08" r="1.8" fill="#4271bb"/>
<circle cx="159.69" cy="952.08" r="1.8" fill="#4271bb"/>
<circle cx="168.79" cy="952.08" r="1.8" fill="#90c8e0"/>
<circle cx="177.89" cy="952.08" r="1.8" fill="#27308f"/>
<circle cx="186.99" cy="952.08" r="1.8" fill="#27308f"/>
<circle cx="196.08" cy="952.08" r="1.8" fill="#4271bb"/>
<circle cx="205.18" cy="952.08" r="1.8" fill="#4271bb"/>
<circle cx="214.28" cy="952.08" r="1.8" fill="#27308f"/>
<circle cx="223.38" cy="952.08" r="1.8" fill="#4271bb"/>
<circle cx="232.48" cy="952.08" r="1.8" fill="#4271bb"/>
<circle cx="241.57" cy="952.08" r="1.8" fill="#27308f"/>
<circle cx="250.67" cy="952.08" r="1.8" fill="#27308f"/>
<circle cx="259.77" cy="952.08" r="1.8" fill="#4271bb"/>
<circle cx="268.87" cy="952.08" r="1.8" fill="#27308f"/>
<circle cx="277.97" cy="952.08" r="1.8" fill="#27308f"/>
<circle cx="287.06" cy="952.08" r="1.8" fill="#27308f"/>
<circle cx="296.16" cy="952.08" r="1.8" fill="#27308f"/>
<circle cx="305.26" cy="952.08" r="1.8" fill="#4271bb"/>
<circle cx="314.36" cy="952.08" r="1.8" fill="#4271bb"/>
<circle cx="323.46" cy="952.08" r="1.8" fill="#27308f"/>
<circle cx="332.55" cy="952.08" r="1.8" fill="#27308f"/>
<circle cx="341.65" cy="952.08" r="1.8" fill="#27308f"/>
<circle cx="350.75" cy="952.08" r="1.8" fill="#4271bb"/>
<circle cx="359.85" cy="952.08" r="1.8" fill="#4271bb"/>
<circle cx="368.95" cy="952.08" r="1.8" fill="#4271bb"/>
<circle cx="378.04" cy="952.08" r="1.8" fill="#27308f"/>
<circle cx="387.14" cy="952.08" r="1.8" fill="#27308f"/>
<circle cx="396.24" cy="952.08" r="1.8" fill="#4271bb"/>
<circle cx="405.34" cy="952.08" r="1.8" fill="#4271bb"/>
<circle cx="414.44" cy="952.08" r="1.8" fill="#27308f"/>
<circle cx="423.53" cy="952.08" r="1.8" fill="#27308f"/>
<circle cx="432.63" cy="952.08" r="1.8" fill="#27308f"/>
<circle cx="441.73" cy="952.08" r="1.8" fill="#27308f"/>
<circle cx="450.83" cy="952.08" r="1.8" fill="#27308f"/>
<circle cx="459.93" cy="952.08" r="1.8" fill="#27308f"/>
<circle cx="469.02" cy="952.08" r="1.8" fill="#27308f"/>
<circle cx="478.12" cy="952.08" r="1.8" fill="#90c8e0"/>
<circle cx="487.22" cy="952.08" r="1.8" fill="#90c8e0"/>
<circle cx="496.32" cy="952.08" r="1.8" fill="#90c8e0"/>
<circle cx="505.42" cy="952.08" r="1.8" fill="#27308f"/>
<circle cx="514.51" cy="952.08" r="1.8" fill="#27308f"/>
<circle cx="523.61" cy="952.08" r="1.8" fill="#27308f"/>
<circle cx="532.71" cy="952.08" r="1.8" fill="#4271bb"/>
<circle cx="541.81" cy="952.08" r="1.8" fill="#27308f"/>
<circle cx="550.91" cy="952.08" r="1.8" fill="#27308f"/>
<circle cx="560.00" cy="952.08" r="1.8" fill="#27308f"/>
<circle cx="569.10" cy="952.08" r="4.9" fill="#5a94c8"/>
<circle cx="578.20" cy="952.08" r="1.8" fill="#4271bb"/>
<circle cx="587.30" cy="952.08" r="1.8" fill="#27308f"/>
<circle cx="596.40" cy="952.08" r="1.8" fill="#27308f"/>
<circle cx="605.49" cy="952.08" r="1.8" fill="#4271bb"/>
<circle cx="614.59" cy="952.08" r="1.8" fill="#27308f"/>
<circle cx="623.69" cy="952.08" r="1.8" fill="#27308f"/>
<circle cx="632.79" cy="952.08" r="1.8" fill="#4271bb"/>
<circle cx="641.89" cy="952.08" r="4.9" fill="#b8e0ec"/>
<circle cx="650.98" cy="952.08" r="1.8" fill="#27308f"/>
<circle cx="660.08" cy="952.08" r="1.8" fill="#27308f"/>
<circle cx="669.18" cy="952.08" r="1.8" fill="#27308f"/>
<circle cx="678.28" cy="952.08" r="1.8" fill="#27308f"/>
<circle cx="687.38" cy="952.08" r="1.8" fill="#4271bb"/>
<circle cx="696.47" cy="952.08" r="1.8" fill="#27308f"/>
<circle cx="705.57" cy="952.08" r="1.8" fill="#27308f"/>
<circle cx="714.67" cy="952.08" r="1.8" fill="#27308f"/>
<circle cx="723.77" cy="952.08" r="4.9" fill="#fef4b0"/>
<circle cx="732.87" cy="952.08" r="4.9" fill="#fdc070"/>
<circle cx="741.96" cy="952.08" r="1.8" fill="#4271bb"/>
<circle cx="751.06" cy="952.08" r="4.9" fill="#fdb060"/>
<circle cx="760.16" cy="952.08" r="1.8" fill="#4271bb"/>
<circle cx="769.26" cy="952.08" r="4.9" fill="#e0f0f4"/>
<circle cx="778.36" cy="952.08" r="4.9" fill="#fef4b0"/>
<circle cx="787.45" cy="952.08" r="1.8" fill="#7fb6dc"/>
<circle cx="796.55" cy="952.08" r="1.8" fill="#7fb6dc"/>
<circle cx="123.30" cy="964.55" r="1.8" fill="#4271bb"/>
<circle cx="132.40" cy="964.55" r="1.8" fill="#4271bb"/>
<circle cx="141.50" cy="964.55" r="1.8" fill="#4271bb"/>
<circle cx="150.59" cy="964.55" r="1.8" fill="#27308f"/>
<circle cx="159.69" cy="964.55" r="1.8" fill="#fee090"/>
<circle cx="168.79" cy="964.55" r="4.9" fill="#d8ecf4"/>
<circle cx="177.89" cy="964.55" r="4.9" fill="#5a94c8"/>
<circle cx="186.99" cy="964.55" r="1.8" fill="#27308f"/>
<circle cx="196.08" cy="964.55" r="1.8" fill="#27308f"/>
<circle cx="205.18" cy="964.55" r="1.8" fill="#4271bb"/>
<circle cx="214.28" cy="964.55" r="1.8" fill="#27308f"/>
<circle cx="223.38" cy="964.55" r="1.8" fill="#27308f"/>
<circle cx="232.48" cy="964.55" r="1.8" fill="#4271bb"/>
<circle cx="241.57" cy="964.55" r="1.8" fill="#27308f"/>
<circle cx="250.67" cy="964.55" r="1.8" fill="#4271bb"/>
<circle cx="259.77" cy="964.55" r="1.8" fill="#4271bb"/>
<circle cx="268.87" cy="964.55" r="1.8" fill="#27308f"/>
<circle cx="277.97" cy="964.55" r="1.8" fill="#27308f"/>
<circle cx="287.06" cy="964.55" r="1.8" fill="#4271bb"/>
<circle cx="296.16" cy="964.55" r="1.8" fill="#27308f"/>
<circle cx="305.26" cy="964.55" r="1.8" fill="#4271bb"/>
<circle cx="314.36" cy="964.55" r="1.8" fill="#27308f"/>
<circle cx="323.46" cy="964.55" r="1.8" fill="#27308f"/>
<circle cx="332.55" cy="964.55" r="1.8" fill="#27308f"/>
<circle cx="341.65" cy="964.55" r="1.8" fill="#27308f"/>
<circle cx="350.75" cy="964.55" r="1.8" fill="#4271bb"/>
<circle cx="359.85" cy="964.55" r="1.8" fill="#7fb6dc"/>
<circle cx="368.95" cy="964.55" r="1.8" fill="#4271bb"/>
<circle cx="378.04" cy="964.55" r="1.8" fill="#4271bb"/>
<circle cx="387.14" cy="964.55" r="4.9" fill="#4a7cc0"/>
<circle cx="396.24" cy="964.55" r="1.8" fill="#4271bb"/>
<circle cx="405.34" cy="964.55" r="1.8" fill="#4271bb"/>
<circle cx="414.44" cy="964.55" r="1.8" fill="#27308f"/>
<circle cx="423.53" cy="964.55" r="1.8" fill="#27308f"/>
<circle cx="432.63" cy="964.55" r="1.8" fill="#27308f"/>
<circle cx="441.73" cy="964.55" r="1.8" fill="#27308f"/>
<circle cx="450.83" cy="964.55" r="1.8" fill="#27308f"/>
<circle cx="459.93" cy="964.55" r="1.8" fill="#27308f"/>
<circle cx="469.02" cy="964.55" r="1.8" fill="#27308f"/>
<circle cx="478.12" cy="964.55" r="1.8" fill="#7fb6dc"/>
<circle cx="487.22" cy="964.55" r="1.8" fill="#4271bb"/>
<circle cx="496.32" cy="964.55" r="1.8" fill="#7fb6dc"/>
<circle cx="505.42" cy="964.55" r="1.8" fill="#27308f"/>
<circle cx="514.51" cy="964.55" r="1.8" fill="#27308f"/>
<circle cx="523.61" cy="964.55" r="1.8" fill="#27308f"/>
<circle cx="532.71" cy="964.55" r="1.8" fill="#4271bb"/>
<circle cx="541.81" cy="964.55" r="1.8" fill="#27308f"/>
<circle cx="550.91" cy="964.55" r="1.8" fill="#27308f"/>
<circle cx="560.00" cy="964.55" r="1.8" fill="#27308f"/>
<circle cx="569.10" cy="964.55" r="4.9" fill="#6aa4d0"/>
<circle cx="578.20" cy="964.55" r="4.9" fill="#5088c4"/>
<circle cx="587.30" cy="964.55" r="1.8" fill="#27308f"/>
<circle cx="596.40" cy="964.55" r="1.8" fill="#27308f"/>
<circle cx="605.49" cy="964.55" r="1.8" fill="#27308f"/>
<circle cx="614.59" cy="964.55" r="1.8" fill="#27308f"/>
<circle cx="623.69" cy="964.55" r="1.8" fill="#27308f"/>
<circle cx="632.79" cy="964.55" r="4.9" fill="#a50026"/>
<circle cx="641.89" cy="964.55" r="4.9" fill="#c8e4ec"/>
<circle cx="650.98" cy="964.55" r="4.9" fill="#b0dcea"/>
<circle cx="660.08" cy="964.55" r="4.9" fill="#c8e4ec"/>
<circle cx="669.18" cy="964.55" r="1.8" fill="#27308f"/>
<circle cx="678.28" cy="964.55" r="1.8" fill="#27308f"/>
<circle cx="687.38" cy="964.55" r="4.9" fill="#4a7cc0"/>
<circle cx="696.47" cy="964.55" r="1.8" fill="#27308f"/>
<circle cx="705.57" cy="964.55" r="1.8" fill="#27308f"/>
<circle cx="714.67" cy="964.55" r="1.8" fill="#27308f"/>
<circle cx="723.77" cy="964.55" r="4.9" fill="#c8e4ec"/>
<circle cx="732.87" cy="964.55" r="4.9" fill="#fee8a0"/>
<circle cx="741.96" cy="964.55" r="4.9" fill="#b0dcea"/>
<circle cx="751.06" cy="964.55" r="4.9" fill="#fdd880"/>
<circle cx="760.16" cy="964.55" r="4.9" fill="#d0e8f0"/>
<circle cx="769.26" cy="964.55" r="4.9" fill="#80b8dc"/>
<circle cx="778.36" cy="964.55" r="4.9" fill="#e8f4e0"/>
<circle cx="787.45" cy="964.55" r="1.8" fill="#7fb6dc"/>
<circle cx="796.55" cy="964.55" r="1.8" fill="#27308f"/>
<circle cx="123.30" cy="977.02" r="1.8" fill="#4271bb"/>
<circle cx="132.40" cy="977.02" r="1.8" fill="#4271bb"/>
<circle cx="141.50" cy="977.02" r="1.8" fill="#27308f"/>
<circle cx="150.59" cy="977.02" r="1.8" fill="#27308f"/>
<circle cx="159.69" cy="977.02" r="1.8" fill="#4271bb"/>
<circle cx="168.79" cy="977.02" r="4.9" fill="#e8f4e0"/>
<circle cx="177.89" cy="977.02" r="4.9" fill="#78b4d8"/>
<circle cx="186.99" cy="977.02" r="1.8" fill="#27308f"/>
<circle cx="196.08" cy="977.02" r="1.8" fill="#27308f"/>
<circle cx="205.18" cy="977.02" r="1.8" fill="#4271bb"/>
<circle cx="214.28" cy="977.02" r="1.8" fill="#27308f"/>
<circle cx="223.38" cy="977.02" r="1.8" fill="#27308f"/>
<circle cx="232.48" cy="977.02" r="1.8" fill="#4271bb"/>
<circle cx="241.57" cy="977.02" r="1.8" fill="#27308f"/>
<circle cx="250.67" cy="977.02" r="1.8" fill="#4271bb"/>
<circle cx="259.77" cy="977.02" r="1.8" fill="#4271bb"/>
<circle cx="268.87" cy="977.02" r="1.8" fill="#27308f"/>
<circle cx="277.97" cy="977.02" r="1.8" fill="#27308f"/>
<circle cx="287.06" cy="977.02" r="1.8" fill="#27308f"/>
<circle cx="296.16" cy="977.02" r="1.8" fill="#27308f"/>
<circle cx="305.26" cy="977.02" r="1.8" fill="#4271bb"/>
<circle cx="314.36" cy="977.02" r="1.8" fill="#4271bb"/>
<circle cx="323.46" cy="977.02" r="1.8" fill="#27308f"/>
<circle cx="332.55" cy="977.02" r="1.8" fill="#27308f"/>
<circle cx="341.65" cy="977.02" r="1.8" fill="#27308f"/>
<circle cx="350.75" cy="977.02" r="1.8" fill="#4271bb"/>
<circle cx="359.85" cy="977.02" r="1.8" fill="#4271bb"/>
<circle cx="368.95" cy="977.02" r="1.8" fill="#4271bb"/>
<circle cx="378.04" cy="977.02" r="1.8" fill="#27308f"/>
<circle cx="387.14" cy="977.02" r="4.9" fill="#a8d4e8"/>
<circle cx="396.24" cy="977.02" r="1.8" fill="#4271bb"/>
<circle cx="405.34" cy="977.02" r="1.8" fill="#4271bb"/>
<circle cx="414.44" cy="977.02" r="1.8" fill="#27308f"/>
<circle cx="423.53" cy="977.02" r="1.8" fill="#27308f"/>
<circle cx="432.63" cy="977.02" r="1.8" fill="#27308f"/>
<circle cx="441.73" cy="977.02" r="1.8" fill="#27308f"/>
<circle cx="450.83" cy="977.02" r="1.8" fill="#27308f"/>
<circle cx="459.93" cy="977.02" r="1.8" fill="#27308f"/>
<circle cx="469.02" cy="977.02" r="1.8" fill="#27308f"/>
<circle cx="478.12" cy="977.02" r="1.8" fill="#7fb6dc"/>
<circle cx="487.22" cy="977.02" r="1.8" fill="#7fb6dc"/>
<circle cx="496.32" cy="977.02" r="1.8" fill="#7fb6dc"/>
<circle cx="505.42" cy="977.02" r="1.8" fill="#27308f"/>
<circle cx="514.51" cy="977.02" r="1.8" fill="#fee090"/>
<circle cx="523.61" cy="977.02" r="1.8" fill="#27308f"/>
<circle cx="532.71" cy="977.02" r="1.8" fill="#27308f"/>
<circle cx="541.81" cy="977.02" r="1.8" fill="#27308f"/>
<circle cx="550.91" cy="977.02" r="4.9" fill="#fdd880"/>
<circle cx="560.00" cy="977.02" r="1.8" fill="#27308f"/>
<circle cx="569.10" cy="977.02" r="1.8" fill="#4271bb"/>
<circle cx="578.20" cy="977.02" r="4.9" fill="#c8e4ec"/>
<circle cx="587.30" cy="977.02" r="4.9" fill="#4a84c4"/>
<circle cx="596.40" cy="977.02" r="1.8" fill="#27308f"/>
<circle cx="605.49" cy="977.02" r="1.8" fill="#27308f"/>
<circle cx="614.59" cy="977.02" r="1.8" fill="#27308f"/>
<circle cx="623.69" cy="977.02" r="4.9" fill="#f47840"/>
<circle cx="632.79" cy="977.02" r="1.8" fill="#27308f"/>
<circle cx="641.89" cy="977.02" r="1.8" fill="#27308f"/>
<circle cx="650.98" cy="977.02" r="4.9" fill="#fef4b0"/>
<circle cx="660.08" cy="977.02" r="4.9" fill="#d8ecf4"/>
<circle cx="669.18" cy="977.02" r="1.8" fill="#27308f"/>
<circle cx="678.28" cy="977.02" r="1.8" fill="#27308f"/>
<circle cx="687.38" cy="977.02" r="4.9" fill="#d8ecf4"/>
<circle cx="696.47" cy="977.02" r="1.8" fill="#27308f"/>
<circle cx="705.57" cy="977.02" r="1.8" fill="#27308f"/>
<circle cx="714.67" cy="977.02" r="1.8" fill="#27308f"/>
<circle cx="723.77" cy="977.02" r="4.9" fill="#d83828"/>
<circle cx="732.87" cy="977.02" r="4.9" fill="#a50026"/>
<circle cx="741.96" cy="977.02" r="4.9" fill="#a50026"/>
<circle cx="751.06" cy="977.02" r="4.9" fill="#a50026"/>
<circle cx="760.16" cy="977.02" r="4.9" fill="#a50026"/>
<circle cx="769.26" cy="977.02" r="4.9" fill="#f47840"/>
<circle cx="778.36" cy="977.02" r="4.9" fill="#e04830"/>
<circle cx="787.45" cy="977.02" r="1.8" fill="#7fb6dc"/>
<circle cx="796.55" cy="977.02" r="1.8" fill="#7fb6dc"/>
<circle cx="123.30" cy="989.49" r="1.8" fill="#4271bb"/>
<circle cx="132.40" cy="989.49" r="1.8" fill="#4271bb"/>
<circle cx="141.50" cy="989.49" r="1.8" fill="#27308f"/>
<circle cx="150.59" cy="989.49" r="1.8" fill="#27308f"/>
<circle cx="159.69" cy="989.49" r="1.8" fill="#f46d43"/>
<circle cx="168.79" cy="989.49" r="4.9" fill="#fdc070"/>
<circle cx="177.89" cy="989.49" r="4.9" fill="#e8f4e0"/>
<circle cx="186.99" cy="989.49" r="1.8" fill="#27308f"/>
<circle cx="196.08" cy="989.49" r="1.8" fill="#27308f"/>
<circle cx="205.18" cy="989.49" r="4.9" fill="#4a84c4"/>
<circle cx="214.28" cy="989.49" r="1.8" fill="#27308f"/>
<circle cx="223.38" cy="989.49" r="1.8" fill="#27308f"/>
<circle cx="232.48" cy="989.49" r="1.8" fill="#4271bb"/>
<circle cx="241.57" cy="989.49" r="1.8" fill="#27308f"/>
<circle cx="250.67" cy="989.49" r="1.8" fill="#4271bb"/>
<circle cx="259.77" cy="989.49" r="1.8" fill="#4271bb"/>
<circle cx="268.87" cy="989.49" r="1.8" fill="#27308f"/>
<circle cx="277.97" cy="989.49" r="1.8" fill="#27308f"/>
<circle cx="287.06" cy="989.49" r="1.8" fill="#27308f"/>
<circle cx="296.16" cy="989.49" r="1.8" fill="#27308f"/>
<circle cx="305.26" cy="989.49" r="4.9" fill="#90c8e0"/>
<circle cx="314.36" cy="989.49" r="1.8" fill="#27308f"/>
<circle cx="323.46" cy="989.49" r="1.8" fill="#27308f"/>
<circle cx="332.55" cy="989.49" r="1.8" fill="#27308f"/>
<circle cx="341.65" cy="989.49" r="1.8" fill="#27308f"/>
<circle cx="350.75" cy="989.49" r="1.8" fill="#4271bb"/>
<circle cx="359.85" cy="989.49" r="4.9" fill="#d0e8f0"/>
<circle cx="368.95" cy="989.49" r="1.8" fill="#4271bb"/>
<circle cx="378.04" cy="989.49" r="1.8" fill="#27308f"/>
<circle cx="387.14" cy="989.49" r="1.8" fill="#27308f"/>
<circle cx="396.24" cy="989.49" r="4.9" fill="#78b4d8"/>
<circle cx="405.34" cy="989.49" r="3.5" fill="#4a7cc0"/>
<circle cx="414.44" cy="989.49" r="1.8" fill="#4271bb"/>
<circle cx="423.53" cy="989.49" r="1.8" fill="#27308f"/>
<circle cx="432.63" cy="989.49" r="1.8" fill="#27308f"/>
<circle cx="441.73" cy="989.49" r="1.8" fill="#27308f"/>
<circle cx="450.83" cy="989.49" r="1.8" fill="#27308f"/>
<circle cx="459.93" cy="989.49" r="1.8" fill="#27308f"/>
<circle cx="469.02" cy="989.49" r="1.8" fill="#27308f"/>
<circle cx="478.12" cy="989.49" r="1.8" fill="#7fb6dc"/>
<circle cx="487.22" cy="989.49" r="1.8" fill="#27308f"/>
<circle cx="496.32" cy="989.49" r="1.8" fill="#7fb6dc"/>
<circle cx="505.42" cy="989.49" r="1.8" fill="#27308f"/>
<circle cx="514.51" cy="989.49" r="1.8" fill="#27308f"/>
<circle cx="523.61" cy="989.49" r="1.8" fill="#27308f"/>
<circle cx="532.71" cy="989.49" r="1.8" fill="#4271bb"/>
<circle cx="541.81" cy="989.49" r="1.8" fill="#4271bb"/>
<circle cx="550.91" cy="989.49" r="1.8" fill="#27308f"/>
<circle cx="560.00" cy="989.49" r="1.8" fill="#27308f"/>
<circle cx="569.10" cy="989.49" r="4.9" fill="#80b8dc"/>
<circle cx="578.20" cy="989.49" r="1.8" fill="#4271bb"/>
<circle cx="587.30" cy="989.49" r="1.8" fill="#27308f"/>
<circle cx="596.40" cy="989.49" r="1.8" fill="#4271bb"/>
<circle cx="605.49" cy="989.49" r="1.8" fill="#27308f"/>
<circle cx="614.59" cy="989.49" r="1.8" fill="#27308f"/>
<circle cx="623.69" cy="989.49" r="1.8" fill="#27308f"/>
<circle cx="632.79" cy="989.49" r="4.9" fill="#d0e8f0"/>
<circle cx="641.89" cy="989.49" r="4.9" fill="#e0f0e8"/>
<circle cx="650.98" cy="989.49" r="1.8" fill="#27308f"/>
<circle cx="660.08" cy="989.49" r="4.9" fill="#4a7cc0"/>
<circle cx="669.18" cy="989.49" r="1.8" fill="#27308f"/>
<circle cx="678.28" cy="989.49" r="1.8" fill="#27308f"/>
<circle cx="687.38" cy="989.49" r="1.8" fill="#4271bb"/>
<circle cx="696.47" cy="989.49" r="1.8" fill="#27308f"/>
<circle cx="705.57" cy="989.49" r="1.8" fill="#27308f"/>
<circle cx="714.67" cy="989.49" r="1.8" fill="#27308f"/>
<circle cx="723.77" cy="989.49" r="4.9" fill="#fef0a8"/>
<circle cx="732.87" cy="989.49" r="4.9" fill="#fefac0"/>
<circle cx="741.96" cy="989.49" r="1.8" fill="#4271bb"/>
<circle cx="751.06" cy="989.49" r="4.9" fill="#fef0a8"/>
<circle cx="760.16" cy="989.49" r="1.8" fill="#7fb6dc"/>
<circle cx="769.26" cy="989.49" r="4.9" fill="#e0f0e8"/>
<circle cx="778.36" cy="989.49" r="4.9" fill="#d8ecf4"/>
<circle cx="787.45" cy="989.49" r="1.8" fill="#7fb6dc"/>
<circle cx="796.55" cy="989.49" r="1.8" fill="#27308f"/>
<circle cx="123.30" cy="1001.96" r="1.8" fill="#27308f"/>
<circle cx="132.40" cy="1001.96" r="4.9" fill="#5a94c8"/>
<circle cx="141.50" cy="1001.96" r="1.8" fill="#fee090"/>
<circle cx="150.59" cy="1001.96" r="1.8" fill="#27308f"/>
<circle cx="159.69" cy="1001.96" r="4.9" fill="#f46d43"/>
<circle cx="168.79" cy="1001.96" r="1.8" fill="#4271bb"/>
<circle cx="177.89" cy="1001.96" r="1.8" fill="#4271bb"/>
<circle cx="186.99" cy="1001.96" r="1.8" fill="#4271bb"/>
<circle cx="196.08" cy="1001.96" r="1.8" fill="#4271bb"/>
<circle cx="205.18" cy="1001.96" r="1.8" fill="#27308f"/>
<circle cx="214.28" cy="1001.96" r="1.8" fill="#27308f"/>
<circle cx="223.38" cy="1001.96" r="1.8" fill="#27308f"/>
<circle cx="232.48" cy="1001.96" r="1.8" fill="#4271bb"/>
<circle cx="241.57" cy="1001.96" r="1.8" fill="#27308f"/>
<circle cx="250.67" cy="1001.96" r="1.8" fill="#4271bb"/>
<circle cx="259.77" cy="1001.96" r="1.8" fill="#4271bb"/>
<circle cx="268.87" cy="1001.96" r="1.8" fill="#27308f"/>
<circle cx="277.97" cy="1001.96" r="1.8" fill="#27308f"/>
<circle cx="287.06" cy="1001.96" r="1.8" fill="#27308f"/>
<circle cx="296.16" cy="1001.96" r="1.8" fill="#27308f"/>
<circle cx="305.26" cy="1001.96" r="1.8" fill="#27308f"/>
<circle cx="314.36" cy="1001.96" r="1.8" fill="#27308f"/>
<circle cx="323.46" cy="1001.96" r="1.8" fill="#27308f"/>
<circle cx="332.55" cy="1001.96" r="1.8" fill="#27308f"/>
<circle cx="341.65" cy="1001.96" r="1.8" fill="#4271bb"/>
<circle cx="350.75" cy="1001.96" r="1.8" fill="#27308f"/>
<circle cx="359.85" cy="1001.96" r="1.8" fill="#27308f"/>
<circle cx="368.95" cy="1001.96" r="1.8" fill="#27308f"/>
<circle cx="378.04" cy="1001.96" r="1.8" fill="#27308f"/>
<circle cx="387.14" cy="1001.96" r="1.8" fill="#27308f"/>
<circle cx="396.24" cy="1001.96" r="1.8" fill="#27308f"/>
<circle cx="405.34" cy="1001.96" r="1.8" fill="#4271bb"/>
<circle cx="414.44" cy="1001.96" r="1.8" fill="#27308f"/>
<circle cx="423.53" cy="1001.96" r="1.8" fill="#27308f"/>
<circle cx="432.63" cy="1001.96" r="1.8" fill="#27308f"/>
<circle cx="441.73" cy="1001.96" r="4.9" fill="#5088c4"/>
<circle cx="450.83" cy="1001.96" r="1.8" fill="#27308f"/>
<circle cx="459.93" cy="1001.96" r="1.8" fill="#27308f"/>
<circle cx="469.02" cy="1001.96" r="1.8" fill="#4271bb"/>
<circle cx="478.12" cy="1001.96" r="1.8" fill="#4271bb"/>
<circle cx="487.22" cy="1001.96" r="1.8" fill="#4271bb"/>
<circle cx="496.32" cy="1001.96" r="1.8" fill="#7fb6dc"/>
<circle cx="505.42" cy="1001.96" r="1.8" fill="#4271bb"/>
<circle cx="514.51" cy="1001.96" r="1.8" fill="#27308f"/>
<circle cx="523.61" cy="1001.96" r="1.8" fill="#27308f"/>
<circle cx="532.71" cy="1001.96" r="1.8" fill="#27308f"/>
<circle cx="541.81" cy="1001.96" r="1.8" fill="#27308f"/>
<circle cx="550.91" cy="1001.96" r="1.8" fill="#27308f"/>
<circle cx="560.00" cy="1001.96" r="1.8" fill="#27308f"/>
<circle cx="569.10" cy="1001.96" r="1.8" fill="#4271bb"/>
<circle cx="578.20" cy="1001.96" r="1.8" fill="#27308f"/>
<circle cx="587.30" cy="1001.96" r="1.8" fill="#27308f"/>
<circle cx="596.40" cy="1001.96" r="1.8" fill="#27308f"/>
<circle cx="605.49" cy="1001.96" r="1.8" fill="#4271bb"/>
<circle cx="614.59" cy="1001.96" r="1.8" fill="#4271bb"/>
<circle cx="623.69" cy="1001.96" r="1.8" fill="#27308f"/>
<circle cx="632.79" cy="1001.96" r="1.8" fill="#4271bb"/>
<circle cx="641.89" cy="1001.96" r="1.8" fill="#27308f"/>
<circle cx="650.98" cy="1001.96" r="1.8" fill="#27308f"/>
<circle cx="660.08" cy="1001.96" r="1.8" fill="#27308f"/>
<circle cx="669.18" cy="1001.96" r="1.8" fill="#4271bb"/>
<circle cx="678.28" cy="1001.96" r="4.9" fill="#a0d0e4"/>
<circle cx="687.38" cy="1001.96" r="1.8" fill="#27308f"/>
<circle cx="696.47" cy="1001.96" r="1.8" fill="#4271bb"/>
<circle cx="705.57" cy="1001.96" r="1.8" fill="#27308f"/>
<circle cx="714.67" cy="1001.96" r="1.8" fill="#7fb6dc"/>
<circle cx="723.77" cy="1001.96" r="1.8" fill="#27308f"/>
<circle cx="732.87" cy="1001.96" r="1.8" fill="#27308f"/>
<circle cx="741.96" cy="1001.96" r="1.8" fill="#4271bb"/>
<circle cx="751.06" cy="1001.96" r="1.8" fill="#27308f"/>
<circle cx="760.16" cy="1001.96" r="1.8" fill="#4271bb"/>
<circle cx="769.26" cy="1001.96" r="1.8" fill="#4271bb"/>
<circle cx="778.36" cy="1001.96" r="1.8" fill="#4271bb"/>
<circle cx="787.45" cy="1001.96" r="4.9" fill="#78b4d8"/>
<circle cx="796.55" cy="1001.96" r="1.8" fill="#4271bb"/>
<circle cx="123.30" cy="1014.43" r="1.8" fill="#27308f"/>
<circle cx="132.40" cy="1014.43" r="1.8" fill="#4271bb"/>
<circle cx="141.50" cy="1014.43" r="1.8" fill="#90c8e0"/>
<circle cx="150.59" cy="1014.43" r="1.8" fill="#27308f"/>
<circle cx="159.69" cy="1014.43" r="4.9" fill="#fefab8"/>
<circle cx="168.79" cy="1014.43" r="1.8" fill="#4271bb"/>
<circle cx="177.89" cy="1014.43" r="1.8" fill="#4271bb"/>
<circle cx="186.99" cy="1014.43" r="1.8" fill="#4271bb"/>
<circle cx="196.08" cy="1014.43" r="1.8" fill="#4271bb"/>
<circle cx="205.18" cy="1014.43" r="1.8" fill="#27308f"/>
<circle cx="214.28" cy="1014.43" r="1.8" fill="#27308f"/>
<circle cx="223.38" cy="1014.43" r="1.8" fill="#27308f"/>
<circle cx="232.48" cy="1014.43" r="1.8" fill="#4271bb"/>
<circle cx="241.57" cy="1014.43" r="1.8" fill="#27308f"/>
<circle cx="250.67" cy="1014.43" r="1.8" fill="#4271bb"/>
<circle cx="259.77" cy="1014.43" r="1.8" fill="#4271bb"/>
<circle cx="268.87" cy="1014.43" r="1.8" fill="#27308f"/>
<circle cx="277.97" cy="1014.43" r="1.8" fill="#27308f"/>
<circle cx="287.06" cy="1014.43" r="1.8" fill="#27308f"/>
<circle cx="296.16" cy="1014.43" r="1.8" fill="#27308f"/>
<circle cx="305.26" cy="1014.43" r="1.8" fill="#27308f"/>
<circle cx="314.36" cy="1014.43" r="1.8" fill="#4271bb"/>
<circle cx="323.46" cy="1014.43" r="1.8" fill="#27308f"/>
<circle cx="332.55" cy="1014.43" r="1.8" fill="#27308f"/>
<circle cx="341.65" cy="1014.43" r="1.8" fill="#4271bb"/>
<circle cx="350.75" cy="1014.43" r="1.8" fill="#27308f"/>
<circle cx="359.85" cy="1014.43" r="1.8" fill="#27308f"/>
<circle cx="368.95" cy="1014.43" r="1.8" fill="#4271bb"/>
<circle cx="378.04" cy="1014.43" r="1.8" fill="#27308f"/>
<circle cx="387.14" cy="1014.43" r="1.8" fill="#4271bb"/>
<circle cx="396.24" cy="1014.43" r="1.8" fill="#27308f"/>
<circle cx="405.34" cy="1014.43" r="1.8" fill="#7fb6dc"/>
<circle cx="414.44" cy="1014.43" r="1.8" fill="#27308f"/>
<circle cx="423.53" cy="1014.43" r="1.8" fill="#27308f"/>
<circle cx="432.63" cy="1014.43" r="1.8" fill="#27308f"/>
<circle cx="441.73" cy="1014.43" r="4.9" fill="#5a94c8"/>
<circle cx="450.83" cy="1014.43" r="1.8" fill="#4271bb"/>
<circle cx="459.93" cy="1014.43" r="1.8" fill="#27308f"/>
<circle cx="469.02" cy="1014.43" r="1.8" fill="#4271bb"/>
<circle cx="478.12" cy="1014.43" r="1.8" fill="#4271bb"/>
<circle cx="487.22" cy="1014.43" r="1.8" fill="#4271bb"/>
<circle cx="496.32" cy="1014.43" r="1.8" fill="#7fb6dc"/>
<circle cx="505.42" cy="1014.43" r="1.8" fill="#4271bb"/>
<circle cx="514.51" cy="1014.43" r="1.8" fill="#27308f"/>
<circle cx="523.61" cy="1014.43" r="1.8" fill="#27308f"/>
<circle cx="532.71" cy="1014.43" r="1.8" fill="#27308f"/>
<circle cx="541.81" cy="1014.43" r="1.8" fill="#27308f"/>
<circle cx="550.91" cy="1014.43" r="1.8" fill="#27308f"/>
<circle cx="560.00" cy="1014.43" r="1.8" fill="#27308f"/>
<circle cx="569.10" cy="1014.43" r="1.8" fill="#4271bb"/>
<circle cx="578.20" cy="1014.43" r="1.8" fill="#27308f"/>
<circle cx="587.30" cy="1014.43" r="1.8" fill="#27308f"/>
<circle cx="596.40" cy="1014.43" r="1.8" fill="#27308f"/>
<circle cx="605.49" cy="1014.43" r="1.8" fill="#27308f"/>
<circle cx="614.59" cy="1014.43" r="1.8" fill="#27308f"/>
<circle cx="623.69" cy="1014.43" r="1.8" fill="#27308f"/>
<circle cx="632.79" cy="1014.43" r="1.8" fill="#4271bb"/>
<circle cx="641.89" cy="1014.43" r="1.8" fill="#27308f"/>
<circle cx="650.98" cy="1014.43" r="1.8" fill="#27308f"/>
<circle cx="660.08" cy="1014.43" r="1.8" fill="#4271bb"/>
<circle cx="669.18" cy="1014.43" r="1.8" fill="#4271bb"/>
<circle cx="678.28" cy="1014.43" r="4.9" fill="#6aa4d0"/>
<circle cx="687.38" cy="1014.43" r="1.8" fill="#27308f"/>
<circle cx="696.47" cy="1014.43" r="1.8" fill="#27308f"/>
<circle cx="705.57" cy="1014.43" r="1.8" fill="#27308f"/>
<circle cx="714.67" cy="1014.43" r="1.8" fill="#7fb6dc"/>
<circle cx="723.77" cy="1014.43" r="1.8" fill="#27308f"/>
<circle cx="732.87" cy="1014.43" r="1.8" fill="#27308f"/>
<circle cx="741.96" cy="1014.43" r="1.8" fill="#27308f"/>
<circle cx="751.06" cy="1014.43" r="1.8" fill="#4271bb"/>
<circle cx="760.16" cy="1014.43" r="1.8" fill="#4271bb"/>
<circle cx="769.26" cy="1014.43" r="1.8" fill="#4271bb"/>
<circle cx="778.36" cy="1014.43" r="1.8" fill="#4271bb"/>
<circle cx="787.45" cy="1014.43" r="1.8" fill="#4271bb"/>
<circle cx="796.55" cy="1014.43" r="1.8" fill="#4271bb"/>
<circle cx="123.30" cy="1026.90" r="1.8" fill="#27308f"/>
<circle cx="132.40" cy="1026.90" r="1.8" fill="#4271bb"/>
<circle cx="141.50" cy="1026.90" r="1.8" fill="#90c8e0"/>
<circle cx="150.59" cy="1026.90" r="1.8" fill="#27308f"/>
<circle cx="159.69" cy="1026.90" r="4.9" fill="#f47840"/>
<circle cx="168.79" cy="1026.90" r="1.8" fill="#4271bb"/>
<circle cx="177.89" cy="1026.90" r="1.8" fill="#4271bb"/>
<circle cx="186.99" cy="1026.90" r="1.8" fill="#4271bb"/>
<circle cx="196.08" cy="1026.90" r="1.8" fill="#4271bb"/>
<circle cx="205.18" cy="1026.90" r="1.8" fill="#4271bb"/>
<circle cx="214.28" cy="1026.90" r="1.8" fill="#27308f"/>
<circle cx="223.38" cy="1026.90" r="1.8" fill="#27308f"/>
<circle cx="232.48" cy="1026.90" r="1.8" fill="#4271bb"/>
<circle cx="241.57" cy="1026.90" r="1.8" fill="#27308f"/>
<circle cx="250.67" cy="1026.90" r="1.8" fill="#4271bb"/>
<circle cx="259.77" cy="1026.90" r="1.8" fill="#4271bb"/>
<circle cx="268.87" cy="1026.90" r="1.8" fill="#27308f"/>
<circle cx="277.97" cy="1026.90" r="1.8" fill="#4271bb"/>
<circle cx="287.06" cy="1026.90" r="1.8" fill="#27308f"/>
<circle cx="296.16" cy="1026.90" r="1.8" fill="#27308f"/>
<circle cx="305.26" cy="1026.90" r="1.8" fill="#27308f"/>
<circle cx="314.36" cy="1026.90" r="1.8" fill="#27308f"/>
<circle cx="323.46" cy="1026.90" r="1.8" fill="#27308f"/>
<circle cx="332.55" cy="1026.90" r="1.8" fill="#4271bb"/>
<circle cx="341.65" cy="1026.90" r="1.8" fill="#4271bb"/>
<circle cx="350.75" cy="1026.90" r="1.8" fill="#27308f"/>
<circle cx="359.85" cy="1026.90" r="1.8" fill="#27308f"/>
<circle cx="368.95" cy="1026.90" r="1.8" fill="#4271bb"/>
<circle cx="378.04" cy="1026.90" r="1.8" fill="#27308f"/>
<circle cx="387.14" cy="1026.90" r="1.8" fill="#4271bb"/>
<circle cx="396.24" cy="1026.90" r="1.8" fill="#27308f"/>
<circle cx="405.34" cy="1026.90" r="1.8" fill="#27308f"/>
<circle cx="414.44" cy="1026.90" r="1.8" fill="#27308f"/>
<circle cx="423.53" cy="1026.90" r="1.8" fill="#4271bb"/>
<circle cx="432.63" cy="1026.90" r="1.8" fill="#27308f"/>
<circle cx="441.73" cy="1026.90" r="4.9" fill="#78b4d8"/>
<circle cx="450.83" cy="1026.90" r="1.8" fill="#27308f"/>
<circle cx="459.93" cy="1026.90" r="1.8" fill="#27308f"/>
<circle cx="469.02" cy="1026.90" r="1.8" fill="#4271bb"/>
<circle cx="478.12" cy="1026.90" r="1.8" fill="#4271bb"/>
<circle cx="487.22" cy="1026.90" r="1.8" fill="#4271bb"/>
<circle cx="496.32" cy="1026.90" r="1.8" fill="#7fb6dc"/>
<circle cx="505.42" cy="1026.90" r="1.8" fill="#4271bb"/>
<circle cx="514.51" cy="1026.90" r="1.8" fill="#27308f"/>
<circle cx="523.61" cy="1026.90" r="1.8" fill="#27308f"/>
<circle cx="532.71" cy="1026.90" r="1.8" fill="#27308f"/>
<circle cx="541.81" cy="1026.90" r="1.8" fill="#27308f"/>
<circle cx="550.91" cy="1026.90" r="1.8" fill="#4271bb"/>
<circle cx="560.00" cy="1026.90" r="1.8" fill="#27308f"/>
<circle cx="569.10" cy="1026.90" r="1.8" fill="#4271bb"/>
<circle cx="578.20" cy="1026.90" r="1.8" fill="#27308f"/>
<circle cx="587.30" cy="1026.90" r="1.8" fill="#27308f"/>
<circle cx="596.40" cy="1026.90" r="1.8" fill="#27308f"/>
<circle cx="605.49" cy="1026.90" r="1.8" fill="#4271bb"/>
<circle cx="614.59" cy="1026.90" r="1.8" fill="#27308f"/>
<circle cx="623.69" cy="1026.90" r="1.8" fill="#27308f"/>
<circle cx="632.79" cy="1026.90" r="1.8" fill="#4271bb"/>
<circle cx="641.89" cy="1026.90" r="1.8" fill="#4271bb"/>
<circle cx="650.98" cy="1026.90" r="1.8" fill="#27308f"/>
<circle cx="660.08" cy="1026.90" r="1.8" fill="#4271bb"/>
<circle cx="669.18" cy="1026.90" r="1.8" fill="#4271bb"/>
<circle cx="678.28" cy="1026.90" r="4.9" fill="#6aa4d0"/>
<circle cx="687.38" cy="1026.90" r="1.8" fill="#27308f"/>
<circle cx="696.47" cy="1026.90" r="1.8" fill="#27308f"/>
<circle cx="705.57" cy="1026.90" r="1.8" fill="#27308f"/>
<circle cx="714.67" cy="1026.90" r="1.8" fill="#7fb6dc"/>
<circle cx="723.77" cy="1026.90" r="1.8" fill="#27308f"/>
<circle cx="732.87" cy="1026.90" r="1.8" fill="#27308f"/>
<circle cx="741.96" cy="1026.90" r="1.8" fill="#27308f"/>
<circle cx="751.06" cy="1026.90" r="1.8" fill="#4271bb"/>
<circle cx="760.16" cy="1026.90" r="1.8" fill="#4271bb"/>
<circle cx="769.26" cy="1026.90" r="1.8" fill="#4271bb"/>
<circle cx="778.36" cy="1026.90" r="1.8" fill="#4271bb"/>
<circle cx="787.45" cy="1026.90" r="1.8" fill="#4271bb"/>
<circle cx="796.55" cy="1026.90" r="1.8" fill="#4271bb"/>
<circle cx="123.30" cy="1039.37" r="1.8" fill="#27308f"/>
<circle cx="132.40" cy="1039.37" r="1.8" fill="#4271bb"/>
<circle cx="141.50" cy="1039.37" r="1.8" fill="#4271bb"/>
<circle cx="150.59" cy="1039.37" r="4.9" fill="#70acd4"/>
<circle cx="159.69" cy="1039.37" r="4.9" fill="#f89050"/>
<circle cx="168.79" cy="1039.37" r="1.8" fill="#4271bb"/>
<circle cx="177.89" cy="1039.37" r="1.8" fill="#27308f"/>
<circle cx="186.99" cy="1039.37" r="1.8" fill="#4271bb"/>
<circle cx="196.08" cy="1039.37" r="1.8" fill="#4271bb"/>
<circle cx="205.18" cy="1039.37" r="1.8" fill="#27308f"/>
<circle cx="214.28" cy="1039.37" r="1.8" fill="#27308f"/>
<circle cx="223.38" cy="1039.37" r="1.8" fill="#27308f"/>
<circle cx="232.48" cy="1039.37" r="1.8" fill="#4271bb"/>
<circle cx="241.57" cy="1039.37" r="1.8" fill="#27308f"/>
<circle cx="250.67" cy="1039.37" r="1.8" fill="#4271bb"/>
<circle cx="259.77" cy="1039.37" r="1.8" fill="#4271bb"/>
<circle cx="268.87" cy="1039.37" r="1.8" fill="#27308f"/>
<circle cx="277.97" cy="1039.37" r="1.8" fill="#27308f"/>
<circle cx="287.06" cy="1039.37" r="1.8" fill="#27308f"/>
<circle cx="296.16" cy="1039.37" r="1.8" fill="#27308f"/>
<circle cx="305.26" cy="1039.37" r="1.8" fill="#27308f"/>
<circle cx="314.36" cy="1039.37" r="1.8" fill="#27308f"/>
<circle cx="323.46" cy="1039.37" r="1.8" fill="#27308f"/>
<circle cx="332.55" cy="1039.37" r="1.8" fill="#27308f"/>
<circle cx="341.65" cy="1039.37" r="1.8" fill="#4271bb"/>
<circle cx="350.75" cy="1039.37" r="1.8" fill="#27308f"/>
<circle cx="359.85" cy="1039.37" r="1.8" fill="#27308f"/>
<circle cx="368.95" cy="1039.37" r="1.8" fill="#27308f"/>
<circle cx="378.04" cy="1039.37" r="1.8" fill="#27308f"/>
<circle cx="387.14" cy="1039.37" r="1.8" fill="#27308f"/>
<circle cx="396.24" cy="1039.37" r="1.8" fill="#27308f"/>
<circle cx="405.34" cy="1039.37" r="1.8" fill="#7fb6dc"/>
<circle cx="414.44" cy="1039.37" r="1.8" fill="#27308f"/>
<circle cx="423.53" cy="1039.37" r="1.8" fill="#27308f"/>
<circle cx="432.63" cy="1039.37" r="1.8" fill="#27308f"/>
<circle cx="441.73" cy="1039.37" r="4.9" fill="#5088c4"/>
<circle cx="450.83" cy="1039.37" r="1.8" fill="#27308f"/>
<circle cx="459.93" cy="1039.37" r="1.8" fill="#27308f"/>
<circle cx="469.02" cy="1039.37" r="1.8" fill="#4271bb"/>
<circle cx="478.12" cy="1039.37" r="1.8" fill="#4271bb"/>
<circle cx="487.22" cy="1039.37" r="1.8" fill="#4271bb"/>
<circle cx="496.32" cy="1039.37" r="1.8" fill="#7fb6dc"/>
<circle cx="505.42" cy="1039.37" r="1.8" fill="#4271bb"/>
<circle cx="514.51" cy="1039.37" r="1.8" fill="#4271bb"/>
<circle cx="523.61" cy="1039.37" r="1.8" fill="#f46d43"/>
<circle cx="532.71" cy="1039.37" r="1.8" fill="#27308f"/>
<circle cx="541.81" cy="1039.37" r="1.8" fill="#4271bb"/>
<circle cx="550.91" cy="1039.37" r="1.8" fill="#27308f"/>
<circle cx="560.00" cy="1039.37" r="4.9" fill="#e85838"/>
<circle cx="569.10" cy="1039.37" r="1.8" fill="#4271bb"/>
<circle cx="578.20" cy="1039.37" r="1.8" fill="#27308f"/>
<circle cx="587.30" cy="1039.37" r="1.8" fill="#27308f"/>
<circle cx="596.40" cy="1039.37" r="1.8" fill="#f46d43"/>
<circle cx="605.49" cy="1039.37" r="1.8" fill="#4271bb"/>
<circle cx="614.59" cy="1039.37" r="1.8" fill="#27308f"/>
<circle cx="623.69" cy="1039.37" r="1.8" fill="#27308f"/>
<circle cx="632.79" cy="1039.37" r="1.8" fill="#4271bb"/>
<circle cx="641.89" cy="1039.37" r="1.8" fill="#27308f"/>
<circle cx="650.98" cy="1039.37" r="1.8" fill="#27308f"/>
<circle cx="660.08" cy="1039.37" r="1.8" fill="#4271bb"/>
<circle cx="669.18" cy="1039.37" r="4.9" fill="#e85838"/>
<circle cx="678.28" cy="1039.37" r="4.9" fill="#6aa4d0"/>
<circle cx="687.38" cy="1039.37" r="1.8" fill="#27308f"/>
<circle cx="696.47" cy="1039.37" r="1.8" fill="#27308f"/>
<circle cx="705.57" cy="1039.37" r="1.8" fill="#27308f"/>
<circle cx="714.67" cy="1039.37" r="1.8" fill="#7fb6dc"/>
<circle cx="723.77" cy="1039.37" r="1.8" fill="#27308f"/>
<circle cx="732.87" cy="1039.37" r="1.8" fill="#27308f"/>
<circle cx="741.96" cy="1039.37" r="1.8" fill="#27308f"/>
<circle cx="751.06" cy="1039.37" r="1.8" fill="#4271bb"/>
<circle cx="760.16" cy="1039.37" r="1.8" fill="#4271bb"/>
<circle cx="769.26" cy="1039.37" r="1.8" fill="#27308f"/>
<circle cx="778.36" cy="1039.37" r="1.8" fill="#4271bb"/>
<circle cx="787.45" cy="1039.37" r="4.9" fill="#78b4d8"/>
<circle cx="796.55" cy="1039.37" r="1.8" fill="#4271bb"/>
<circle cx="123.30" cy="1051.84" r="1.8" fill="#27308f"/>
<circle cx="132.40" cy="1051.84" r="1.8" fill="#4271bb"/>
<circle cx="141.50" cy="1051.84" r="1.8" fill="#4271bb"/>
<circle cx="150.59" cy="1051.84" r="4.9" fill="#5a94c8"/>
<circle cx="159.69" cy="1051.84" r="1.8" fill="#4271bb"/>
<circle cx="168.79" cy="1051.84" r="1.8" fill="#4271bb"/>
<circle cx="177.89" cy="1051.84" r="1.8" fill="#4271bb"/>
<circle cx="186.99" cy="1051.84" r="1.8" fill="#4271bb"/>
<circle cx="196.08" cy="1051.84" r="1.8" fill="#4271bb"/>
<circle cx="205.18" cy="1051.84" r="1.8" fill="#27308f"/>
<circle cx="214.28" cy="1051.84" r="1.8" fill="#27308f"/>
<circle cx="223.38" cy="1051.84" r="1.8" fill="#27308f"/>
<circle cx="232.48" cy="1051.84" r="1.8" fill="#4271bb"/>
<circle cx="241.57" cy="1051.84" r="1.8" fill="#27308f"/>
<circle cx="250.67" cy="1051.84" r="1.8" fill="#4271bb"/>
<circle cx="259.77" cy="1051.84" r="1.8" fill="#4271bb"/>
<circle cx="268.87" cy="1051.84" r="1.8" fill="#4271bb"/>
<circle cx="277.97" cy="1051.84" r="4.9" fill="#e8f4e0"/>
<circle cx="287.06" cy="1051.84" r="1.8" fill="#27308f"/>
<circle cx="296.16" cy="1051.84" r="1.8" fill="#27308f"/>
<circle cx="305.26" cy="1051.84" r="1.8" fill="#27308f"/>
<circle cx="314.36" cy="1051.84" r="1.8" fill="#27308f"/>
<circle cx="323.46" cy="1051.84" r="1.8" fill="#27308f"/>
<circle cx="332.55" cy="1051.84" r="1.8" fill="#27308f"/>
<circle cx="341.65" cy="1051.84" r="1.8" fill="#4271bb"/>
<circle cx="350.75" cy="1051.84" r="1.8" fill="#27308f"/>
<circle cx="359.85" cy="1051.84" r="1.8" fill="#27308f"/>
<circle cx="368.95" cy="1051.84" r="1.8" fill="#27308f"/>
<circle cx="378.04" cy="1051.84" r="1.8" fill="#27308f"/>
<circle cx="387.14" cy="1051.84" r="1.8" fill="#27308f"/>
<circle cx="396.24" cy="1051.84" r="1.8" fill="#27308f"/>
<circle cx="405.34" cy="1051.84" r="1.8" fill="#7fb6dc"/>
<circle cx="414.44" cy="1051.84" r="1.8" fill="#4271bb"/>
<circle cx="423.53" cy="1051.84" r="4.9" fill="#88c0dc"/>
<circle cx="432.63" cy="1051.84" r="1.8" fill="#27308f"/>
<circle cx="441.73" cy="1051.84" r="1.8" fill="#4271bb"/>
<circle cx="450.83" cy="1051.84" r="1.8" fill="#27308f"/>
<circle cx="459.93" cy="1051.84" r="1.8" fill="#27308f"/>
<circle cx="469.02" cy="1051.84" r="1.8" fill="#4271bb"/>
<circle cx="478.12" cy="1051.84" r="1.8" fill="#4271bb"/>
<circle cx="487.22" cy="1051.84" r="1.8" fill="#4271bb"/>
<circle cx="496.32" cy="1051.84" r="1.8" fill="#27308f"/>
<circle cx="505.42" cy="1051.84" r="1.8" fill="#4271bb"/>
<circle cx="514.51" cy="1051.84" r="4.9" fill="#80b8dc"/>
<circle cx="523.61" cy="1051.84" r="1.8" fill="#27308f"/>
<circle cx="532.71" cy="1051.84" r="1.8" fill="#27308f"/>
<circle cx="541.81" cy="1051.84" r="1.8" fill="#27308f"/>
<circle cx="550.91" cy="1051.84" r="1.8" fill="#27308f"/>
<circle cx="560.00" cy="1051.84" r="1.8" fill="#27308f"/>
<circle cx="569.10" cy="1051.84" r="1.8" fill="#27308f"/>
<circle cx="578.20" cy="1051.84" r="1.8" fill="#27308f"/>
<circle cx="587.30" cy="1051.84" r="1.8" fill="#fee090"/>
<circle cx="596.40" cy="1051.84" r="1.8" fill="#27308f"/>
<circle cx="605.49" cy="1051.84" r="1.8" fill="#4271bb"/>
<circle cx="614.59" cy="1051.84" r="1.8" fill="#27308f"/>
<circle cx="623.69" cy="1051.84" r="4.9" fill="#c8e4ec"/>
<circle cx="632.79" cy="1051.84" r="1.8" fill="#4271bb"/>
<circle cx="641.89" cy="1051.84" r="1.8" fill="#27308f"/>
<circle cx="650.98" cy="1051.84" r="1.8" fill="#27308f"/>
<circle cx="660.08" cy="1051.84" r="4.9" fill="#fdd080"/>
<circle cx="669.18" cy="1051.84" r="1.8" fill="#4271bb"/>
<circle cx="678.28" cy="1051.84" r="1.8" fill="#4271bb"/>
<circle cx="687.38" cy="1051.84" r="1.8" fill="#27308f"/>
<circle cx="696.47" cy="1051.84" r="1.8" fill="#27308f"/>
<circle cx="705.57" cy="1051.84" r="1.8" fill="#27308f"/>
<circle cx="714.67" cy="1051.84" r="1.8" fill="#7fb6dc"/>
<circle cx="723.77" cy="1051.84" r="1.8" fill="#27308f"/>
<circle cx="732.87" cy="1051.84" r="1.8" fill="#27308f"/>
<circle cx="741.96" cy="1051.84" r="1.8" fill="#27308f"/>
<circle cx="751.06" cy="1051.84" r="1.8" fill="#27308f"/>
<circle cx="760.16" cy="1051.84" r="1.8" fill="#4271bb"/>
<circle cx="769.26" cy="1051.84" r="1.8" fill="#4271bb"/>
<circle cx="778.36" cy="1051.84" r="1.8" fill="#4271bb"/>
<circle cx="787.45" cy="1051.84" r="4.9" fill="#a50026"/>
<circle cx="796.55" cy="1051.84" r="4.9" fill="#e85838"/>
<circle cx="123.30" cy="1064.31" r="1.8" fill="#27308f"/>
<circle cx="132.40" cy="1064.31" r="1.8" fill="#4271bb"/>
<circle cx="141.50" cy="1064.31" r="1.8" fill="#4271bb"/>
<circle cx="150.59" cy="1064.31" r="4.9" fill="#80b8dc"/>
<circle cx="159.69" cy="1064.31" r="4.9" fill="#a50026"/>
<circle cx="168.79" cy="1064.31" r="1.8" fill="#4271bb"/>
<circle cx="177.89" cy="1064.31" r="1.8" fill="#4271bb"/>
<circle cx="186.99" cy="1064.31" r="4.9" fill="#f48c48"/>
<circle cx="196.08" cy="1064.31" r="1.8" fill="#4271bb"/>
<circle cx="205.18" cy="1064.31" r="1.8" fill="#27308f"/>
<circle cx="214.28" cy="1064.31" r="1.8" fill="#27308f"/>
<circle cx="223.38" cy="1064.31" r="1.8" fill="#27308f"/>
<circle cx="232.48" cy="1064.31" r="1.8" fill="#4271bb"/>
<circle cx="241.57" cy="1064.31" r="1.8" fill="#27308f"/>
<circle cx="250.67" cy="1064.31" r="4.9" fill="#c8e4ec"/>
<circle cx="259.77" cy="1064.31" r="4.9" fill="#4a7cc0"/>
<circle cx="268.87" cy="1064.31" r="4.9" fill="#5a94c8"/>
<circle cx="277.97" cy="1064.31" r="1.8" fill="#27308f"/>
<circle cx="287.06" cy="1064.31" r="4.9" fill="#6aa4d0"/>
<circle cx="296.16" cy="1064.31" r="1.8" fill="#27308f"/>
<circle cx="305.26" cy="1064.31" r="1.8" fill="#27308f"/>
<circle cx="314.36" cy="1064.31" r="1.8" fill="#27308f"/>
<circle cx="323.46" cy="1064.31" r="1.8" fill="#27308f"/>
<circle cx="332.55" cy="1064.31" r="1.8" fill="#27308f"/>
<circle cx="341.65" cy="1064.31" r="4.9" fill="#88c0dc"/>
<circle cx="350.75" cy="1064.31" r="1.8" fill="#27308f"/>
<circle cx="359.85" cy="1064.31" r="1.8" fill="#27308f"/>
<circle cx="368.95" cy="1064.31" r="1.8" fill="#4271bb"/>
<circle cx="378.04" cy="1064.31" r="1.8" fill="#27308f"/>
<circle cx="387.14" cy="1064.31" r="1.8" fill="#27308f"/>
<circle cx="396.24" cy="1064.31" r="1.8" fill="#27308f"/>
<circle cx="405.34" cy="1064.31" r="1.8" fill="#7fb6dc"/>
<circle cx="414.44" cy="1064.31" r="1.8" fill="#27308f"/>
<circle cx="423.53" cy="1064.31" r="4.9" fill="#80b8dc"/>
<circle cx="432.63" cy="1064.31" r="4.9" fill="#5a94c8"/>
<circle cx="441.73" cy="1064.31" r="4.9" fill="#6aa4d0"/>
<circle cx="450.83" cy="1064.31" r="1.8" fill="#27308f"/>
<circle cx="459.93" cy="1064.31" r="1.8" fill="#27308f"/>
<circle cx="469.02" cy="1064.31" r="1.8" fill="#4271bb"/>
<circle cx="478.12" cy="1064.31" r="1.8" fill="#4271bb"/>
<circle cx="487.22" cy="1064.31" r="1.8" fill="#4271bb"/>
<circle cx="496.32" cy="1064.31" r="1.8" fill="#7fb6dc"/>
<circle cx="505.42" cy="1064.31" r="1.8" fill="#4271bb"/>
<circle cx="514.51" cy="1064.31" r="1.8" fill="#27308f"/>
<circle cx="523.61" cy="1064.31" r="1.8" fill="#4271bb"/>
<circle cx="532.71" cy="1064.31" r="1.8" fill="#27308f"/>
<circle cx="541.81" cy="1064.31" r="1.8" fill="#27308f"/>
<circle cx="550.91" cy="1064.31" r="1.8" fill="#27308f"/>
<circle cx="560.00" cy="1064.31" r="4.9" fill="#6aa4d0"/>
<circle cx="569.10" cy="1064.31" r="1.8" fill="#4271bb"/>
<circle cx="578.20" cy="1064.31" r="1.8" fill="#27308f"/>
<circle cx="587.30" cy="1064.31" r="1.8" fill="#27308f"/>
<circle cx="596.40" cy="1064.31" r="1.8" fill="#27308f"/>
<circle cx="605.49" cy="1064.31" r="1.8" fill="#4271bb"/>
<circle cx="614.59" cy="1064.31" r="1.8" fill="#27308f"/>
<circle cx="623.69" cy="1064.31" r="1.8" fill="#27308f"/>
<circle cx="632.79" cy="1064.31" r="1.8" fill="#4271bb"/>
<circle cx="641.89" cy="1064.31" r="1.8" fill="#27308f"/>
<circle cx="650.98" cy="1064.31" r="1.8" fill="#27308f"/>
<circle cx="660.08" cy="1064.31" r="1.8" fill="#4271bb"/>
<circle cx="669.18" cy="1064.31" r="4.9" fill="#78b4d8"/>
<circle cx="678.28" cy="1064.31" r="4.9" fill="#90c8e0"/>
<circle cx="687.38" cy="1064.31" r="1.8" fill="#27308f"/>
<circle cx="696.47" cy="1064.31" r="1.8" fill="#fee090"/>
<circle cx="705.57" cy="1064.31" r="4.9" fill="#fdc070"/>
<circle cx="714.67" cy="1064.31" r="1.8" fill="#e04830"/>
<circle cx="723.77" cy="1064.31" r="1.8" fill="#27308f"/>
<circle cx="732.87" cy="1064.31" r="1.8" fill="#27308f"/>
<circle cx="741.96" cy="1064.31" r="1.8" fill="#27308f"/>
<circle cx="751.06" cy="1064.31" r="1.8" fill="#4271bb"/>
<circle cx="760.16" cy="1064.31" r="1.8" fill="#4271bb"/>
<circle cx="769.26" cy="1064.31" r="1.8" fill="#4271bb"/>
<circle cx="778.36" cy="1064.31" r="1.8" fill="#4271bb"/>
<circle cx="787.45" cy="1064.31" r="1.8" fill="#4271bb"/>
<circle cx="796.55" cy="1064.31" r="1.8" fill="#4271bb"/>
<circle cx="123.30" cy="1076.78" r="1.8" fill="#4271bb"/>
<circle cx="132.40" cy="1076.78" r="1.8" fill="#4271bb"/>
<circle cx="141.50" cy="1076.78" r="1.8" fill="#27308f"/>
<circle cx="150.59" cy="1076.78" r="1.8" fill="#27308f"/>
<circle cx="159.69" cy="1076.78" r="1.8" fill="#4271bb"/>
<circle cx="168.79" cy="1076.78" r="1.8" fill="#4271bb"/>
<circle cx="177.89" cy="1076.78" r="1.8" fill="#27308f"/>
<circle cx="186.99" cy="1076.78" r="1.8" fill="#27308f"/>
<circle cx="196.08" cy="1076.78" r="1.8" fill="#27308f"/>
<circle cx="205.18" cy="1076.78" r="1.8" fill="#4271bb"/>
<circle cx="214.28" cy="1076.78" r="1.8" fill="#27308f"/>
<circle cx="223.38" cy="1076.78" r="1.8" fill="#27308f"/>
<circle cx="232.48" cy="1076.78" r="1.8" fill="#4271bb"/>
<circle cx="241.57" cy="1076.78" r="1.8" fill="#27308f"/>
<circle cx="250.67" cy="1076.78" r="1.8" fill="#4271bb"/>
<circle cx="259.77" cy="1076.78" r="4.9" fill="#5a94c8"/>
<circle cx="268.87" cy="1076.78" r="1.8" fill="#27308f"/>
<circle cx="277.97" cy="1076.78" r="1.8" fill="#27308f"/>
<circle cx="287.06" cy="1076.78" r="1.8" fill="#27308f"/>
<circle cx="296.16" cy="1076.78" r="1.8" fill="#27308f"/>
<circle cx="305.26" cy="1076.78" r="1.8" fill="#4271bb"/>
<circle cx="314.36" cy="1076.78" r="1.8" fill="#4271bb"/>
<circle cx="323.46" cy="1076.78" r="1.8" fill="#27308f"/>
<circle cx="332.55" cy="1076.78" r="1.8" fill="#27308f"/>
<circle cx="341.65" cy="1076.78" r="1.8" fill="#27308f"/>
<circle cx="350.75" cy="1076.78" r="1.8" fill="#4271bb"/>
<circle cx="359.85" cy="1076.78" r="1.8" fill="#7fb6dc"/>
<circle cx="368.95" cy="1076.78" r="1.8" fill="#4271bb"/>
<circle cx="378.04" cy="1076.78" r="1.8" fill="#27308f"/>
<circle cx="387.14" cy="1076.78" r="1.8" fill="#27308f"/>
<circle cx="396.24" cy="1076.78" r="1.8" fill="#27308f"/>
<circle cx="405.34" cy="1076.78" r="1.8" fill="#4271bb"/>
<circle cx="414.44" cy="1076.78" r="1.8" fill="#27308f"/>
<circle cx="423.53" cy="1076.78" r="1.8" fill="#27308f"/>
<circle cx="432.63" cy="1076.78" r="1.8" fill="#27308f"/>
<circle cx="441.73" cy="1076.78" r="1.8" fill="#27308f"/>
<circle cx="450.83" cy="1076.78" r="1.8" fill="#27308f"/>
<circle cx="459.93" cy="1076.78" r="1.8" fill="#27308f"/>
<circle cx="469.02" cy="1076.78" r="1.8" fill="#27308f"/>
<circle cx="478.12" cy="1076.78" r="1.8" fill="#90c8e0"/>
<circle cx="487.22" cy="1076.78" r="1.8" fill="#90c8e0"/>
<circle cx="496.32" cy="1076.78" r="1.8" fill="#90c8e0"/>
<circle cx="505.42" cy="1076.78" r="1.8" fill="#4271bb"/>
<circle cx="514.51" cy="1076.78" r="1.8" fill="#27308f"/>
<circle cx="523.61" cy="1076.78" r="1.8" fill="#27308f"/>
<circle cx="532.71" cy="1076.78" r="1.8" fill="#4271bb"/>
<circle cx="541.81" cy="1076.78" r="1.8" fill="#27308f"/>
<circle cx="550.91" cy="1076.78" r="1.8" fill="#27308f"/>
<circle cx="560.00" cy="1076.78" r="1.8" fill="#27308f"/>
<circle cx="569.10" cy="1076.78" r="4.9" fill="#90c8e0"/>
<circle cx="578.20" cy="1076.78" r="1.8" fill="#4271bb"/>
<circle cx="587.30" cy="1076.78" r="1.8" fill="#27308f"/>
<circle cx="596.40" cy="1076.78" r="1.8" fill="#27308f"/>
<circle cx="605.49" cy="1076.78" r="1.8" fill="#27308f"/>
<circle cx="614.59" cy="1076.78" r="1.8" fill="#27308f"/>
<circle cx="623.69" cy="1076.78" r="1.8" fill="#27308f"/>
<circle cx="632.79" cy="1076.78" r="1.8" fill="#4271bb"/>
<circle cx="641.89" cy="1076.78" r="4.9" fill="#98cce4"/>
<circle cx="650.98" cy="1076.78" r="1.8" fill="#4271bb"/>
<circle cx="660.08" cy="1076.78" r="1.8" fill="#27308f"/>
<circle cx="669.18" cy="1076.78" r="1.8" fill="#27308f"/>
<circle cx="678.28" cy="1076.78" r="1.8" fill="#27308f"/>
<circle cx="687.38" cy="1076.78" r="1.8" fill="#4271bb"/>
<circle cx="696.47" cy="1076.78" r="1.8" fill="#27308f"/>
<circle cx="705.57" cy="1076.78" r="1.8" fill="#27308f"/>
<circle cx="714.67" cy="1076.78" r="1.8" fill="#27308f"/>
<circle cx="723.77" cy="1076.78" r="1.8" fill="#4271bb"/>
<circle cx="732.87" cy="1076.78" r="4.9" fill="#78b4d8"/>
<circle cx="741.96" cy="1076.78" r="4.9" fill="#78b4d8"/>
<circle cx="751.06" cy="1076.78" r="3.5" fill="#a0d0e4"/>
<circle cx="760.16" cy="1076.78" r="4.9" fill="#a0d0e4"/>
<circle cx="769.26" cy="1076.78" r="1.8" fill="#4271bb"/>
<circle cx="778.36" cy="1076.78" r="1.8" fill="#4271bb"/>
<circle cx="787.45" cy="1076.78" r="1.8" fill="#e8f4e0"/>
<circle cx="796.55" cy="1076.78" r="1.8" fill="#e0f0f0"/>
<circle cx="123.30" cy="1089.25" r="1.8" fill="#4271bb"/>
<circle cx="132.40" cy="1089.25" r="1.8" fill="#4271bb"/>
<circle cx="141.50" cy="1089.25" r="1.8" fill="#27308f"/>
<circle cx="150.59" cy="1089.25" r="1.8" fill="#27308f"/>
<circle cx="159.69" cy="1089.25" r="1.8" fill="#4271bb"/>
<circle cx="168.79" cy="1089.25" r="1.8" fill="#4271bb"/>
<circle cx="177.89" cy="1089.25" r="1.8" fill="#27308f"/>
<circle cx="186.99" cy="1089.25" r="1.8" fill="#27308f"/>
<circle cx="196.08" cy="1089.25" r="1.8" fill="#27308f"/>
<circle cx="205.18" cy="1089.25" r="1.8" fill="#4271bb"/>
<circle cx="214.28" cy="1089.25" r="1.8" fill="#27308f"/>
<circle cx="223.38" cy="1089.25" r="1.8" fill="#27308f"/>
<circle cx="232.48" cy="1089.25" r="1.8" fill="#4271bb"/>
<circle cx="241.57" cy="1089.25" r="1.8" fill="#27308f"/>
<circle cx="250.67" cy="1089.25" r="1.8" fill="#4271bb"/>
<circle cx="259.77" cy="1089.25" r="4.9" fill="#78b4d8"/>
<circle cx="268.87" cy="1089.25" r="1.8" fill="#4271bb"/>
<circle cx="277.97" cy="1089.25" r="1.8" fill="#27308f"/>
<circle cx="287.06" cy="1089.25" r="1.8" fill="#4271bb"/>
<circle cx="296.16" cy="1089.25" r="1.8" fill="#27308f"/>
<circle cx="305.26" cy="1089.25" r="1.8" fill="#4271bb"/>
<circle cx="314.36" cy="1089.25" r="1.8" fill="#4271bb"/>
<circle cx="323.46" cy="1089.25" r="1.8" fill="#27308f"/>
<circle cx="332.55" cy="1089.25" r="1.8" fill="#27308f"/>
<circle cx="341.65" cy="1089.25" r="1.8" fill="#27308f"/>
<circle cx="350.75" cy="1089.25" r="1.8" fill="#4271bb"/>
<circle cx="359.85" cy="1089.25" r="1.8" fill="#7fb6dc"/>
<circle cx="368.95" cy="1089.25" r="1.8" fill="#4271bb"/>
<circle cx="378.04" cy="1089.25" r="1.8" fill="#27308f"/>
<circle cx="387.14" cy="1089.25" r="1.8" fill="#27308f"/>
<circle cx="396.24" cy="1089.25" r="1.8" fill="#4271bb"/>
<circle cx="405.34" cy="1089.25" r="1.8" fill="#4271bb"/>
<circle cx="414.44" cy="1089.25" r="1.8" fill="#27308f"/>
<circle cx="423.53" cy="1089.25" r="1.8" fill="#27308f"/>
<circle cx="432.63" cy="1089.25" r="1.8" fill="#4271bb"/>
<circle cx="441.73" cy="1089.25" r="1.8" fill="#27308f"/>
<circle cx="450.83" cy="1089.25" r="1.8" fill="#27308f"/>
<circle cx="459.93" cy="1089.25" r="1.8" fill="#27308f"/>
<circle cx="469.02" cy="1089.25" r="1.8" fill="#27308f"/>
<circle cx="478.12" cy="1089.25" r="1.8" fill="#90c8e0"/>
<circle cx="487.22" cy="1089.25" r="1.8" fill="#90c8e0"/>
<circle cx="496.32" cy="1089.25" r="1.8" fill="#90c8e0"/>
<circle cx="505.42" cy="1089.25" r="1.8" fill="#27308f"/>
<circle cx="514.51" cy="1089.25" r="1.8" fill="#27308f"/>
<circle cx="523.61" cy="1089.25" r="1.8" fill="#27308f"/>
<circle cx="532.71" cy="1089.25" r="1.8" fill="#4271bb"/>
<circle cx="541.81" cy="1089.25" r="1.8" fill="#27308f"/>
<circle cx="550.91" cy="1089.25" r="1.8" fill="#27308f"/>
<circle cx="560.00" cy="1089.25" r="1.8" fill="#27308f"/>
<circle cx="569.10" cy="1089.25" r="4.9" fill="#6aa4d0"/>
<circle cx="578.20" cy="1089.25" r="1.8" fill="#4271bb"/>
<circle cx="587.30" cy="1089.25" r="1.8" fill="#27308f"/>
<circle cx="596.40" cy="1089.25" r="1.8" fill="#27308f"/>
<circle cx="605.49" cy="1089.25" r="1.8" fill="#27308f"/>
<circle cx="614.59" cy="1089.25" r="1.8" fill="#27308f"/>
<circle cx="623.69" cy="1089.25" r="1.8" fill="#27308f"/>
<circle cx="632.79" cy="1089.25" r="1.8" fill="#4271bb"/>
<circle cx="641.89" cy="1089.25" r="4.9" fill="#6aa4d0"/>
<circle cx="650.98" cy="1089.25" r="1.8" fill="#27308f"/>
<circle cx="660.08" cy="1089.25" r="1.8" fill="#27308f"/>
<circle cx="669.18" cy="1089.25" r="1.8" fill="#27308f"/>
<circle cx="678.28" cy="1089.25" r="1.8" fill="#27308f"/>
<circle cx="687.38" cy="1089.25" r="1.8" fill="#4271bb"/>
<circle cx="696.47" cy="1089.25" r="1.8" fill="#27308f"/>
<circle cx="705.57" cy="1089.25" r="1.8" fill="#27308f"/>
<circle cx="714.67" cy="1089.25" r="1.8" fill="#27308f"/>
<circle cx="723.77" cy="1089.25" r="4.9" fill="#80b8dc"/>
<circle cx="732.87" cy="1089.25" r="1.8" fill="#27308f"/>
<circle cx="741.96" cy="1089.25" r="1.8" fill="#4271bb"/>
<circle cx="751.06" cy="1089.25" r="1.8" fill="#7fb6dc"/>
<circle cx="760.16" cy="1089.25" r="1.8" fill="#7fb6dc"/>
<circle cx="769.26" cy="1089.25" r="1.8" fill="#4271bb"/>
<circle cx="778.36" cy="1089.25" r="1.8" fill="#4271bb"/>
<circle cx="787.45" cy="1089.25" r="1.8" fill="#7fb6dc"/>
<circle cx="796.55" cy="1089.25" r="1.8" fill="#7fb6dc"/>
<circle cx="123.30" cy="1101.72" r="1.8" fill="#4271bb"/>
<circle cx="132.40" cy="1101.72" r="1.8" fill="#4271bb"/>
<circle cx="141.50" cy="1101.72" r="1.8" fill="#27308f"/>
<circle cx="150.59" cy="1101.72" r="1.8" fill="#27308f"/>
<circle cx="159.69" cy="1101.72" r="1.8" fill="#27308f"/>
<circle cx="168.79" cy="1101.72" r="1.8" fill="#4271bb"/>
<circle cx="177.89" cy="1101.72" r="1.8" fill="#27308f"/>
<circle cx="186.99" cy="1101.72" r="1.8" fill="#27308f"/>
<circle cx="196.08" cy="1101.72" r="1.8" fill="#27308f"/>
<circle cx="205.18" cy="1101.72" r="1.8" fill="#4271bb"/>
<circle cx="214.28" cy="1101.72" r="1.8" fill="#27308f"/>
<circle cx="223.38" cy="1101.72" r="1.8" fill="#27308f"/>
<circle cx="232.48" cy="1101.72" r="1.8" fill="#4271bb"/>
<circle cx="241.57" cy="1101.72" r="1.8" fill="#27308f"/>
<circle cx="250.67" cy="1101.72" r="4.9" fill="#5a94c8"/>
<circle cx="259.77" cy="1101.72" r="4.9" fill="#6aa4d0"/>
<circle cx="268.87" cy="1101.72" r="1.8" fill="#27308f"/>
<circle cx="277.97" cy="1101.72" r="1.8" fill="#27308f"/>
<circle cx="287.06" cy="1101.72" r="1.8" fill="#27308f"/>
<circle cx="296.16" cy="1101.72" r="1.8" fill="#4271bb"/>
<circle cx="305.26" cy="1101.72" r="1.8" fill="#4271bb"/>
<circle cx="314.36" cy="1101.72" r="1.8" fill="#4271bb"/>
<circle cx="323.46" cy="1101.72" r="1.8" fill="#27308f"/>
<circle cx="332.55" cy="1101.72" r="1.8" fill="#27308f"/>
<circle cx="341.65" cy="1101.72" r="1.8" fill="#27308f"/>
<circle cx="350.75" cy="1101.72" r="1.8" fill="#4271bb"/>
<circle cx="359.85" cy="1101.72" r="1.8" fill="#7fb6dc"/>
<circle cx="368.95" cy="1101.72" r="1.8" fill="#4271bb"/>
<circle cx="378.04" cy="1101.72" r="1.8" fill="#27308f"/>
<circle cx="387.14" cy="1101.72" r="1.8" fill="#27308f"/>
<circle cx="396.24" cy="1101.72" r="1.8" fill="#4271bb"/>
<circle cx="405.34" cy="1101.72" r="1.8" fill="#4271bb"/>
<circle cx="414.44" cy="1101.72" r="1.8" fill="#27308f"/>
<circle cx="423.53" cy="1101.72" r="1.8" fill="#27308f"/>
<circle cx="432.63" cy="1101.72" r="1.8" fill="#27308f"/>
<circle cx="441.73" cy="1101.72" r="1.8" fill="#27308f"/>
<circle cx="450.83" cy="1101.72" r="1.8" fill="#27308f"/>
<circle cx="459.93" cy="1101.72" r="1.8" fill="#27308f"/>
<circle cx="469.02" cy="1101.72" r="1.8" fill="#4271bb"/>
<circle cx="478.12" cy="1101.72" r="1.8" fill="#7fb6dc"/>
<circle cx="487.22" cy="1101.72" r="1.8" fill="#4271bb"/>
<circle cx="496.32" cy="1101.72" r="1.8" fill="#7fb6dc"/>
<circle cx="505.42" cy="1101.72" r="1.8" fill="#27308f"/>
<circle cx="514.51" cy="1101.72" r="1.8" fill="#27308f"/>
<circle cx="523.61" cy="1101.72" r="1.8" fill="#27308f"/>
<circle cx="532.71" cy="1101.72" r="1.8" fill="#4271bb"/>
<circle cx="541.81" cy="1101.72" r="1.8" fill="#27308f"/>
<circle cx="550.91" cy="1101.72" r="1.8" fill="#27308f"/>
<circle cx="560.00" cy="1101.72" r="1.8" fill="#27308f"/>
<circle cx="569.10" cy="1101.72" r="4.9" fill="#5a94c8"/>
<circle cx="578.20" cy="1101.72" r="1.8" fill="#4271bb"/>
<circle cx="587.30" cy="1101.72" r="1.8" fill="#27308f"/>
<circle cx="596.40" cy="1101.72" r="1.8" fill="#27308f"/>
<circle cx="605.49" cy="1101.72" r="1.8" fill="#27308f"/>
<circle cx="614.59" cy="1101.72" r="1.8" fill="#27308f"/>
<circle cx="623.69" cy="1101.72" r="1.8" fill="#27308f"/>
<circle cx="632.79" cy="1101.72" r="1.8" fill="#4271bb"/>
<circle cx="641.89" cy="1101.72" r="4.9" fill="#5a94c8"/>
<circle cx="650.98" cy="1101.72" r="1.8" fill="#27308f"/>
<circle cx="660.08" cy="1101.72" r="1.8" fill="#4271bb"/>
<circle cx="669.18" cy="1101.72" r="1.8" fill="#27308f"/>
<circle cx="678.28" cy="1101.72" r="1.8" fill="#27308f"/>
<circle cx="687.38" cy="1101.72" r="1.8" fill="#27308f"/>
<circle cx="696.47" cy="1101.72" r="1.8" fill="#27308f"/>
<circle cx="705.57" cy="1101.72" r="1.8" fill="#27308f"/>
<circle cx="714.67" cy="1101.72" r="3.5" fill="#5a94c8"/>
<circle cx="723.77" cy="1101.72" r="4.9" fill="#e0f0ec"/>
<circle cx="732.87" cy="1101.72" r="4.9" fill="#fef0a8"/>
<circle cx="741.96" cy="1101.72" r="1.8" fill="#4271bb"/>
<circle cx="751.06" cy="1101.72" r="4.9" fill="#fddc88"/>
<circle cx="760.16" cy="1101.72" r="1.8" fill="#7fb6dc"/>
<circle cx="769.26" cy="1101.72" r="4.9" fill="#c0e0ec"/>
<circle cx="778.36" cy="1101.72" r="4.9" fill="#f0f8d8"/>
<circle cx="787.45" cy="1101.72" r="1.8" fill="#7fb6dc"/>
<circle cx="796.55" cy="1101.72" r="1.8" fill="#7fb6dc"/>
<circle cx="123.30" cy="1114.19" r="1.8" fill="#4271bb"/>
<circle cx="132.40" cy="1114.19" r="1.8" fill="#27308f"/>
<circle cx="141.50" cy="1114.19" r="1.8" fill="#27308f"/>
<circle cx="150.59" cy="1114.19" r="1.8" fill="#27308f"/>
<circle cx="159.69" cy="1114.19" r="4.9" fill="#fef0a0"/>
<circle cx="168.79" cy="1114.19" r="4.9" fill="#6aa4d0"/>
<circle cx="177.89" cy="1114.19" r="4.9" fill="#6aa4d0"/>
<circle cx="186.99" cy="1114.19" r="1.8" fill="#27308f"/>
<circle cx="196.08" cy="1114.19" r="1.8" fill="#27308f"/>
<circle cx="205.18" cy="1114.19" r="1.8" fill="#27308f"/>
<circle cx="214.28" cy="1114.19" r="1.8" fill="#27308f"/>
<circle cx="223.38" cy="1114.19" r="1.8" fill="#27308f"/>
<circle cx="232.48" cy="1114.19" r="1.8" fill="#4271bb"/>
<circle cx="241.57" cy="1114.19" r="1.8" fill="#4271bb"/>
<circle cx="250.67" cy="1114.19" r="4.9" fill="#5a94c8"/>
<circle cx="259.77" cy="1114.19" r="4.9" fill="#90c8e0"/>
<circle cx="268.87" cy="1114.19" r="1.8" fill="#27308f"/>
<circle cx="277.97" cy="1114.19" r="1.8" fill="#27308f"/>
<circle cx="287.06" cy="1114.19" r="1.8" fill="#27308f"/>
<circle cx="296.16" cy="1114.19" r="1.8" fill="#27308f"/>
<circle cx="305.26" cy="1114.19" r="1.8" fill="#4271bb"/>
<circle cx="314.36" cy="1114.19" r="1.8" fill="#4271bb"/>
<circle cx="323.46" cy="1114.19" r="1.8" fill="#27308f"/>
<circle cx="332.55" cy="1114.19" r="1.8" fill="#27308f"/>
<circle cx="341.65" cy="1114.19" r="1.8" fill="#27308f"/>
<circle cx="350.75" cy="1114.19" r="1.8" fill="#4271bb"/>
<circle cx="359.85" cy="1114.19" r="1.8" fill="#7fb6dc"/>
<circle cx="368.95" cy="1114.19" r="1.8" fill="#4271bb"/>
<circle cx="378.04" cy="1114.19" r="1.8" fill="#27308f"/>
<circle cx="387.14" cy="1114.19" r="1.8" fill="#27308f"/>
<circle cx="396.24" cy="1114.19" r="1.8" fill="#4271bb"/>
<circle cx="405.34" cy="1114.19" r="1.8" fill="#4271bb"/>
<circle cx="414.44" cy="1114.19" r="1.8" fill="#27308f"/>
<circle cx="423.53" cy="1114.19" r="1.8" fill="#27308f"/>
<circle cx="432.63" cy="1114.19" r="1.8" fill="#27308f"/>
<circle cx="441.73" cy="1114.19" r="1.8" fill="#27308f"/>
<circle cx="450.83" cy="1114.19" r="1.8" fill="#27308f"/>
<circle cx="459.93" cy="1114.19" r="1.8" fill="#27308f"/>
<circle cx="469.02" cy="1114.19" r="1.8" fill="#27308f"/>
<circle cx="478.12" cy="1114.19" r="1.8" fill="#7fb6dc"/>
<circle cx="487.22" cy="1114.19" r="1.8" fill="#7fb6dc"/>
<circle cx="496.32" cy="1114.19" r="1.8" fill="#7fb6dc"/>
<circle cx="505.42" cy="1114.19" r="1.8" fill="#27308f"/>
<circle cx="514.51" cy="1114.19" r="1.8" fill="#27308f"/>
<circle cx="523.61" cy="1114.19" r="1.8" fill="#4271bb"/>
<circle cx="532.71" cy="1114.19" r="1.8" fill="#4271bb"/>
<circle cx="541.81" cy="1114.19" r="1.8" fill="#27308f"/>
<circle cx="550.91" cy="1114.19" r="1.8" fill="#27308f"/>
<circle cx="560.00" cy="1114.19" r="1.8" fill="#27308f"/>
<circle cx="569.10" cy="1114.19" r="4.9" fill="#6aa4d0"/>
<circle cx="578.20" cy="1114.19" r="4.9" fill="#5088c4"/>
<circle cx="587.30" cy="1114.19" r="1.8" fill="#27308f"/>
<circle cx="596.40" cy="1114.19" r="1.8" fill="#27308f"/>
<circle cx="605.49" cy="1114.19" r="1.8" fill="#27308f"/>
<circle cx="614.59" cy="1114.19" r="1.8" fill="#27308f"/>
<circle cx="623.69" cy="1114.19" r="1.8" fill="#4271bb"/>
<circle cx="632.79" cy="1114.19" r="4.9" fill="#f06838"/>
<circle cx="641.89" cy="1114.19" r="4.9" fill="#5a94c8"/>
<circle cx="650.98" cy="1114.19" r="3.5" fill="#4a7cc0"/>
<circle cx="660.08" cy="1114.19" r="1.8" fill="#27308f"/>
<circle cx="669.18" cy="1114.19" r="4.9" fill="#c8e4ec"/>
<circle cx="678.28" cy="1114.19" r="4.9" fill="#c8e4ec"/>
<circle cx="687.38" cy="1114.19" r="4.9" fill="#5a94c8"/>
<circle cx="696.47" cy="1114.19" r="1.8" fill="#27308f"/>
<circle cx="705.57" cy="1114.19" r="1.8" fill="#27308f"/>
<circle cx="714.67" cy="1114.19" r="1.8" fill="#27308f"/>
<circle cx="723.77" cy="1114.19" r="4.9" fill="#90c8e0"/>
<circle cx="732.87" cy="1114.19" r="4.9" fill="#eef8d8"/>
<circle cx="741.96" cy="1114.19" r="4.9" fill="#78b4d8"/>
<circle cx="751.06" cy="1114.19" r="4.9" fill="#fefab8"/>
<circle cx="760.16" cy="1114.19" r="4.9" fill="#90c8e0"/>
<circle cx="769.26" cy="1114.19" r="1.8" fill="#27308f"/>
<circle cx="778.36" cy="1114.19" r="4.9" fill="#d8ecf4"/>
<circle cx="787.45" cy="1114.19" r="1.8" fill="#7fb6dc"/>
<circle cx="796.55" cy="1114.19" r="1.8" fill="#7fb6dc"/>
<circle cx="123.30" cy="1126.66" r="1.8" fill="#4271bb"/>
<circle cx="132.40" cy="1126.66" r="1.8" fill="#4271bb"/>
<circle cx="141.50" cy="1126.66" r="1.8" fill="#27308f"/>
<circle cx="150.59" cy="1126.66" r="1.8" fill="#27308f"/>
<circle cx="159.69" cy="1126.66" r="1.8" fill="#90c8e0"/>
<circle cx="168.79" cy="1126.66" r="4.9" fill="#88c0dc"/>
<circle cx="177.89" cy="1126.66" r="4.9" fill="#80bcdc"/>
<circle cx="186.99" cy="1126.66" r="1.8" fill="#27308f"/>
<circle cx="196.08" cy="1126.66" r="1.8" fill="#4271bb"/>
<circle cx="205.18" cy="1126.66" r="1.8" fill="#27308f"/>
<circle cx="214.28" cy="1126.66" r="1.8" fill="#27308f"/>
<circle cx="223.38" cy="1126.66" r="1.8" fill="#27308f"/>
<circle cx="232.48" cy="1126.66" r="1.8" fill="#4271bb"/>
<circle cx="241.57" cy="1126.66" r="1.8" fill="#27308f"/>
<circle cx="250.67" cy="1126.66" r="1.8" fill="#4271bb"/>
<circle cx="259.77" cy="1126.66" r="4.9" fill="#e0f0f4"/>
<circle cx="268.87" cy="1126.66" r="1.8" fill="#27308f"/>
<circle cx="277.97" cy="1126.66" r="1.8" fill="#27308f"/>
<circle cx="287.06" cy="1126.66" r="1.8" fill="#27308f"/>
<circle cx="296.16" cy="1126.66" r="1.8" fill="#27308f"/>
<circle cx="305.26" cy="1126.66" r="1.8" fill="#4271bb"/>
<circle cx="314.36" cy="1126.66" r="1.8" fill="#4271bb"/>
<circle cx="323.46" cy="1126.66" r="1.8" fill="#27308f"/>
<circle cx="332.55" cy="1126.66" r="1.8" fill="#27308f"/>
<circle cx="341.65" cy="1126.66" r="1.8" fill="#27308f"/>
<circle cx="350.75" cy="1126.66" r="1.8" fill="#4271bb"/>
<circle cx="359.85" cy="1126.66" r="1.8" fill="#7fb6dc"/>
<circle cx="368.95" cy="1126.66" r="1.8" fill="#4271bb"/>
<circle cx="378.04" cy="1126.66" r="1.8" fill="#27308f"/>
<circle cx="387.14" cy="1126.66" r="1.8" fill="#27308f"/>
<circle cx="396.24" cy="1126.66" r="1.8" fill="#4271bb"/>
<circle cx="405.34" cy="1126.66" r="1.8" fill="#4271bb"/>
<circle cx="414.44" cy="1126.66" r="1.8" fill="#27308f"/>
<circle cx="423.53" cy="1126.66" r="1.8" fill="#27308f"/>
<circle cx="432.63" cy="1126.66" r="1.8" fill="#27308f"/>
<circle cx="441.73" cy="1126.66" r="1.8" fill="#4271bb"/>
<circle cx="450.83" cy="1126.66" r="1.8" fill="#27308f"/>
<circle cx="459.93" cy="1126.66" r="1.8" fill="#27308f"/>
<circle cx="469.02" cy="1126.66" r="1.8" fill="#27308f"/>
<circle cx="478.12" cy="1126.66" r="1.8" fill="#7fb6dc"/>
<circle cx="487.22" cy="1126.66" r="1.8" fill="#7fb6dc"/>
<circle cx="496.32" cy="1126.66" r="1.8" fill="#7fb6dc"/>
<circle cx="505.42" cy="1126.66" r="1.8" fill="#27308f"/>
<circle cx="514.51" cy="1126.66" r="1.8" fill="#fee090"/>
<circle cx="523.61" cy="1126.66" r="4.9" fill="#98cce4"/>
<circle cx="532.71" cy="1126.66" r="1.8" fill="#27308f"/>
<circle cx="541.81" cy="1126.66" r="1.8" fill="#27308f"/>
<circle cx="550.91" cy="1126.66" r="4.9" fill="#fde08a"/>
<circle cx="560.00" cy="1126.66" r="1.8" fill="#4271bb"/>
<circle cx="569.10" cy="1126.66" r="1.8" fill="#4271bb"/>
<circle cx="578.20" cy="1126.66" r="4.9" fill="#c0e0ec"/>
<circle cx="587.30" cy="1126.66" r="1.8" fill="#4271bb"/>
<circle cx="596.40" cy="1126.66" r="4.9" fill="#6aa4d0"/>
<circle cx="605.49" cy="1126.66" r="4.9" fill="#6aa4d0"/>
<circle cx="614.59" cy="1126.66" r="4.9" fill="#5a94c8"/>
<circle cx="623.69" cy="1126.66" r="4.9" fill="#fde08a"/>
<circle cx="632.79" cy="1126.66" r="1.8" fill="#4271bb"/>
<circle cx="641.89" cy="1126.66" r="1.8" fill="#4271bb"/>
<circle cx="650.98" cy="1126.66" r="4.9" fill="#c8e4ec"/>
<circle cx="660.08" cy="1126.66" r="1.8" fill="#27308f"/>
<circle cx="669.18" cy="1126.66" r="4.9" fill="#d8ecf4"/>
<circle cx="678.28" cy="1126.66" r="4.9" fill="#d8ecf4"/>
<circle cx="687.38" cy="1126.66" r="4.9" fill="#d8ecf4"/>
<circle cx="696.47" cy="1126.66" r="1.8" fill="#fee090"/>
<circle cx="705.57" cy="1126.66" r="1.8" fill="#27308f"/>
<circle cx="714.67" cy="1126.66" r="4.9" fill="#fefab8"/>
<circle cx="723.77" cy="1126.66" r="4.9" fill="#f47040"/>
<circle cx="732.87" cy="1126.66" r="4.9" fill="#e04830"/>
<circle cx="741.96" cy="1126.66" r="4.9" fill="#a50026"/>
<circle cx="751.06" cy="1126.66" r="4.9" fill="#c82028"/>
<circle cx="760.16" cy="1126.66" r="4.9" fill="#a50026"/>
<circle cx="769.26" cy="1126.66" r="4.9" fill="#f89050"/>
<circle cx="778.36" cy="1126.66" r="4.9" fill="#f47040"/>
<circle cx="787.45" cy="1126.66" r="1.8" fill="#7fb6dc"/>
<circle cx="796.55" cy="1126.66" r="1.8" fill="#7fb6dc"/>
<circle cx="123.30" cy="1139.13" r="1.8" fill="#4271bb"/>
<circle cx="132.40" cy="1139.13" r="1.8" fill="#4271bb"/>
<circle cx="141.50" cy="1139.13" r="1.8" fill="#27308f"/>
<circle cx="150.59" cy="1139.13" r="1.8" fill="#27308f"/>
<circle cx="159.69" cy="1139.13" r="4.9" fill="#f47040"/>
<circle cx="168.79" cy="1139.13" r="4.9" fill="#e8f4e0"/>
<circle cx="177.89" cy="1139.13" r="4.9" fill="#e8f4e0"/>
<circle cx="186.99" cy="1139.13" r="1.8" fill="#e0f0f0"/>
<circle cx="196.08" cy="1139.13" r="1.8" fill="#e0f0f0"/>
<circle cx="205.18" cy="1139.13" r="4.9" fill="#5088c4"/>
<circle cx="214.28" cy="1139.13" r="1.8" fill="#27308f"/>
<circle cx="223.38" cy="1139.13" r="1.8" fill="#27308f"/>
<circle cx="232.48" cy="1139.13" r="1.8" fill="#4271bb"/>
<circle cx="241.57" cy="1139.13" r="1.8" fill="#27308f"/>
<circle cx="250.67" cy="1139.13" r="4.9" fill="#5a94c8"/>
<circle cx="259.77" cy="1139.13" r="4.9" fill="#80b8dc"/>
<circle cx="268.87" cy="1139.13" r="1.8" fill="#27308f"/>
<circle cx="277.97" cy="1139.13" r="1.8" fill="#27308f"/>
<circle cx="287.06" cy="1139.13" r="1.8" fill="#27308f"/>
<circle cx="296.16" cy="1139.13" r="1.8" fill="#27308f"/>
<circle cx="305.26" cy="1139.13" r="4.9" fill="#98cce4"/>
<circle cx="314.36" cy="1139.13" r="4.9" fill="#88c0dc"/>
<circle cx="323.46" cy="1139.13" r="1.8" fill="#27308f"/>
<circle cx="332.55" cy="1139.13" r="1.8" fill="#27308f"/>
<circle cx="341.65" cy="1139.13" r="1.8" fill="#27308f"/>
<circle cx="350.75" cy="1139.13" r="4.9" fill="#98cce4"/>
<circle cx="359.85" cy="1139.13" r="4.9" fill="#e8f4d8"/>
<circle cx="368.95" cy="1139.13" r="4.9" fill="#a0d0e4"/>
<circle cx="378.04" cy="1139.13" r="1.8" fill="#27308f"/>
<circle cx="387.14" cy="1139.13" r="1.8" fill="#27308f"/>
<circle cx="396.24" cy="1139.13" r="4.9" fill="#6aa4d0"/>
<circle cx="405.34" cy="1139.13" r="4.9" fill="#5a94c8"/>
<circle cx="414.44" cy="1139.13" r="4.9" fill="#4a7cc0"/>
<circle cx="423.53" cy="1139.13" r="1.8" fill="#27308f"/>
<circle cx="432.63" cy="1139.13" r="1.8" fill="#27308f"/>
<circle cx="441.73" cy="1139.13" r="1.8" fill="#27308f"/>
<circle cx="450.83" cy="1139.13" r="1.8" fill="#27308f"/>
<circle cx="459.93" cy="1139.13" r="1.8" fill="#27308f"/>
<circle cx="469.02" cy="1139.13" r="1.8" fill="#27308f"/>
<circle cx="478.12" cy="1139.13" r="1.8" fill="#7fb6dc"/>
<circle cx="487.22" cy="1139.13" r="1.8" fill="#7fb6dc"/>
<circle cx="496.32" cy="1139.13" r="1.8" fill="#7fb6dc"/>
<circle cx="505.42" cy="1139.13" r="1.8" fill="#27308f"/>
<circle cx="514.51" cy="1139.13" r="1.8" fill="#27308f"/>
<circle cx="523.61" cy="1139.13" r="1.8" fill="#27308f"/>
<circle cx="532.71" cy="1139.13" r="1.8" fill="#4271bb"/>
<circle cx="541.81" cy="1139.13" r="1.8" fill="#27308f"/>
<circle cx="550.91" cy="1139.13" r="1.8" fill="#27308f"/>
<circle cx="560.00" cy="1139.13" r="1.8" fill="#27308f"/>
<circle cx="569.10" cy="1139.13" r="4.9" fill="#80b8dc"/>
<circle cx="578.20" cy="1139.13" r="1.8" fill="#4271bb"/>
<circle cx="587.30" cy="1139.13" r="1.8" fill="#27308f"/>
<circle cx="596.40" cy="1139.13" r="1.8" fill="#27308f"/>
<circle cx="605.49" cy="1139.13" r="1.8" fill="#27308f"/>
<circle cx="614.59" cy="1139.13" r="1.8" fill="#27308f"/>
<circle cx="623.69" cy="1139.13" r="1.8" fill="#27308f"/>
<circle cx="632.79" cy="1139.13" r="4.9" fill="#6aa4d0"/>
<circle cx="641.89" cy="1139.13" r="4.9" fill="#80b8dc"/>
<circle cx="650.98" cy="1139.13" r="1.8" fill="#4271bb"/>
<circle cx="660.08" cy="1139.13" r="1.8" fill="#27308f"/>
<circle cx="669.18" cy="1139.13" r="4.9" fill="#5a94c8"/>
<circle cx="678.28" cy="1139.13" r="4.9" fill="#5a94c8"/>
<circle cx="687.38" cy="1139.13" r="1.8" fill="#4271bb"/>
<circle cx="696.47" cy="1139.13" r="1.8" fill="#27308f"/>
<circle cx="705.57" cy="1139.13" r="1.8" fill="#27308f"/>
<circle cx="714.67" cy="1139.13" r="1.8" fill="#27308f"/>
<circle cx="723.77" cy="1139.13" r="4.9" fill="#e8f4e8"/>
<circle cx="732.87" cy="1139.13" r="4.9" fill="#d8ecf4"/>
<circle cx="741.96" cy="1139.13" r="1.8" fill="#4271bb"/>
<circle cx="751.06" cy="1139.13" r="4.9" fill="#eef8d8"/>
<circle cx="760.16" cy="1139.13" r="1.8" fill="#7fb6dc"/>
<circle cx="769.26" cy="1139.13" r="4.9" fill="#c8e4ec"/>
<circle cx="778.36" cy="1139.13" r="4.9" fill="#b0dcea"/>
<circle cx="787.45" cy="1139.13" r="1.8" fill="#7fb6dc"/>
<circle cx="796.55" cy="1139.13" r="1.8" fill="#7fb6dc"/>
<circle cx="123.30" cy="1151.60" r="1.8" fill="#27308f"/>
<circle cx="132.40" cy="1151.60" r="4.9" fill="#6aa4d0"/>
<circle cx="141.50" cy="1151.60" r="1.8" fill="#fee090"/>
<circle cx="150.59" cy="1151.60" r="1.8" fill="#27308f"/>
<circle cx="159.69" cy="1151.60" r="4.9" fill="#a50026"/>
<circle cx="168.79" cy="1151.60" r="1.8" fill="#4271bb"/>
<circle cx="177.89" cy="1151.60" r="1.8" fill="#4271bb"/>
<circle cx="186.99" cy="1151.60" r="1.8" fill="#4271bb"/>
<circle cx="196.08" cy="1151.60" r="1.8" fill="#4271bb"/>
<circle cx="205.18" cy="1151.60" r="1.8" fill="#27308f"/>
<circle cx="214.28" cy="1151.60" r="1.8" fill="#27308f"/>
<circle cx="223.38" cy="1151.60" r="1.8" fill="#27308f"/>
<circle cx="232.48" cy="1151.60" r="1.8" fill="#4271bb"/>
<circle cx="241.57" cy="1151.60" r="1.8" fill="#27308f"/>
<circle cx="250.67" cy="1151.60" r="1.8" fill="#4271bb"/>
<circle cx="259.77" cy="1151.60" r="1.8" fill="#4271bb"/>
<circle cx="268.87" cy="1151.60" r="1.8" fill="#27308f"/>
<circle cx="277.97" cy="1151.60" r="1.8" fill="#27308f"/>
<circle cx="287.06" cy="1151.60" r="1.8" fill="#27308f"/>
<circle cx="296.16" cy="1151.60" r="1.8" fill="#4271bb"/>
<circle cx="305.26" cy="1151.60" r="1.8" fill="#27308f"/>
<circle cx="314.36" cy="1151.60" r="1.8" fill="#27308f"/>
<circle cx="323.46" cy="1151.60" r="1.8" fill="#27308f"/>
<circle cx="332.55" cy="1151.60" r="1.8" fill="#27308f"/>
<circle cx="341.65" cy="1151.60" r="1.8" fill="#4271bb"/>
<circle cx="350.75" cy="1151.60" r="1.8" fill="#27308f"/>
<circle cx="359.85" cy="1151.60" r="1.8" fill="#27308f"/>
<circle cx="368.95" cy="1151.60" r="1.8" fill="#27308f"/>
<circle cx="378.04" cy="1151.60" r="1.8" fill="#27308f"/>
<circle cx="387.14" cy="1151.60" r="1.8" fill="#27308f"/>
<circle cx="396.24" cy="1151.60" r="1.8" fill="#27308f"/>
<circle cx="405.34" cy="1151.60" r="1.8" fill="#7fb6dc"/>
<circle cx="414.44" cy="1151.60" r="1.8" fill="#4271bb"/>
<circle cx="423.53" cy="1151.60" r="1.8" fill="#27308f"/>
<circle cx="432.63" cy="1151.60" r="1.8" fill="#27308f"/>
<circle cx="441.73" cy="1151.60" r="1.8" fill="#4271bb"/>
<circle cx="450.83" cy="1151.60" r="1.8" fill="#27308f"/>
<circle cx="459.93" cy="1151.60" r="1.8" fill="#4271bb"/>
<circle cx="469.02" cy="1151.60" r="4.9" fill="#4a7cc0"/>
<circle cx="478.12" cy="1151.60" r="1.8" fill="#4271bb"/>
<circle cx="487.22" cy="1151.60" r="1.8" fill="#4271bb"/>
<circle cx="496.32" cy="1151.60" r="1.8" fill="#7fb6dc"/>
<circle cx="505.42" cy="1151.60" r="1.8" fill="#4271bb"/>
<circle cx="514.51" cy="1151.60" r="1.8" fill="#27308f"/>
<circle cx="523.61" cy="1151.60" r="1.8" fill="#27308f"/>
<circle cx="532.71" cy="1151.60" r="1.8" fill="#27308f"/>
<circle cx="541.81" cy="1151.60" r="1.8" fill="#27308f"/>
<circle cx="550.91" cy="1151.60" r="1.8" fill="#27308f"/>
<circle cx="560.00" cy="1151.60" r="1.8" fill="#27308f"/>
<circle cx="569.10" cy="1151.60" r="1.8" fill="#4271bb"/>
<circle cx="578.20" cy="1151.60" r="1.8" fill="#27308f"/>
<circle cx="587.30" cy="1151.60" r="1.8" fill="#27308f"/>
<circle cx="596.40" cy="1151.60" r="1.8" fill="#27308f"/>
<circle cx="605.49" cy="1151.60" r="4.9" fill="#80b8dc"/>
<circle cx="614.59" cy="1151.60" r="1.8" fill="#27308f"/>
<circle cx="623.69" cy="1151.60" r="1.8" fill="#27308f"/>
<circle cx="632.79" cy="1151.60" r="1.8" fill="#4271bb"/>
<circle cx="641.89" cy="1151.60" r="1.8" fill="#27308f"/>
<circle cx="650.98" cy="1151.60" r="1.8" fill="#27308f"/>
<circle cx="660.08" cy="1151.60" r="1.8" fill="#4271bb"/>
<circle cx="669.18" cy="1151.60" r="1.8" fill="#4271bb"/>
<circle cx="678.28" cy="1151.60" r="4.9" fill="#a8d4e8"/>
<circle cx="687.38" cy="1151.60" r="1.8" fill="#27308f"/>
<circle cx="696.47" cy="1151.60" r="1.8" fill="#27308f"/>
<circle cx="705.57" cy="1151.60" r="1.8" fill="#27308f"/>
<circle cx="714.67" cy="1151.60" r="1.8" fill="#7fb6dc"/>
<circle cx="723.77" cy="1151.60" r="1.8" fill="#27308f"/>
<circle cx="732.87" cy="1151.60" r="1.8" fill="#27308f"/>
<circle cx="741.96" cy="1151.60" r="1.8" fill="#27308f"/>
<circle cx="751.06" cy="1151.60" r="1.8" fill="#4271bb"/>
<circle cx="760.16" cy="1151.60" r="1.8" fill="#4271bb"/>
<circle cx="769.26" cy="1151.60" r="1.8" fill="#4271bb"/>
<circle cx="778.36" cy="1151.60" r="1.8" fill="#4271bb"/>
<circle cx="787.45" cy="1151.60" r="1.8" fill="#4271bb"/>
<circle cx="796.55" cy="1151.60" r="1.8" fill="#27308f"/>
<circle cx="123.30" cy="1164.07" r="1.8" fill="#27308f"/>
<circle cx="132.40" cy="1164.07" r="1.8" fill="#4271bb"/>
<circle cx="141.50" cy="1164.07" r="1.8" fill="#90c8e0"/>
<circle cx="150.59" cy="1164.07" r="1.8" fill="#27308f"/>
<circle cx="159.69" cy="1164.07" r="4.9" fill="#a50026"/>
<circle cx="168.79" cy="1164.07" r="1.8" fill="#4271bb"/>
<circle cx="177.89" cy="1164.07" r="1.8" fill="#4271bb"/>
<circle cx="186.99" cy="1164.07" r="1.8" fill="#4271bb"/>
<circle cx="196.08" cy="1164.07" r="1.8" fill="#4271bb"/>
<circle cx="205.18" cy="1164.07" r="1.8" fill="#27308f"/>
<circle cx="214.28" cy="1164.07" r="1.8" fill="#27308f"/>
<circle cx="223.38" cy="1164.07" r="1.8" fill="#27308f"/>
<circle cx="232.48" cy="1164.07" r="1.8" fill="#4271bb"/>
<circle cx="241.57" cy="1164.07" r="1.8" fill="#27308f"/>
<circle cx="250.67" cy="1164.07" r="1.8" fill="#4271bb"/>
<circle cx="259.77" cy="1164.07" r="1.8" fill="#4271bb"/>
<circle cx="268.87" cy="1164.07" r="1.8" fill="#27308f"/>
<circle cx="277.97" cy="1164.07" r="1.8" fill="#27308f"/>
<circle cx="287.06" cy="1164.07" r="1.8" fill="#27308f"/>
<circle cx="296.16" cy="1164.07" r="1.8" fill="#27308f"/>
<circle cx="305.26" cy="1164.07" r="1.8" fill="#27308f"/>
<circle cx="314.36" cy="1164.07" r="1.8" fill="#4271bb"/>
<circle cx="323.46" cy="1164.07" r="1.8" fill="#27308f"/>
<circle cx="332.55" cy="1164.07" r="1.8" fill="#27308f"/>
<circle cx="341.65" cy="1164.07" r="1.8" fill="#4271bb"/>
<circle cx="350.75" cy="1164.07" r="1.8" fill="#27308f"/>
<circle cx="359.85" cy="1164.07" r="1.8" fill="#27308f"/>
<circle cx="368.95" cy="1164.07" r="1.8" fill="#27308f"/>
<circle cx="378.04" cy="1164.07" r="1.8" fill="#27308f"/>
<circle cx="387.14" cy="1164.07" r="1.8" fill="#27308f"/>
<circle cx="396.24" cy="1164.07" r="1.8" fill="#27308f"/>
<circle cx="405.34" cy="1164.07" r="1.8" fill="#7fb6dc"/>
<circle cx="414.44" cy="1164.07" r="1.8" fill="#27308f"/>
<circle cx="423.53" cy="1164.07" r="1.8" fill="#27308f"/>
<circle cx="432.63" cy="1164.07" r="1.8" fill="#27308f"/>
<circle cx="441.73" cy="1164.07" r="1.8" fill="#4271bb"/>
<circle cx="450.83" cy="1164.07" r="1.8" fill="#27308f"/>
<circle cx="459.93" cy="1164.07" r="1.8" fill="#27308f"/>
<circle cx="469.02" cy="1164.07" r="4.9" fill="#5088c4"/>
<circle cx="478.12" cy="1164.07" r="1.8" fill="#4271bb"/>
<circle cx="487.22" cy="1164.07" r="1.8" fill="#4271bb"/>
<circle cx="496.32" cy="1164.07" r="1.8" fill="#7fb6dc"/>
<circle cx="505.42" cy="1164.07" r="1.8" fill="#4271bb"/>
<circle cx="514.51" cy="1164.07" r="1.8" fill="#27308f"/>
<circle cx="523.61" cy="1164.07" r="1.8" fill="#27308f"/>
<circle cx="532.71" cy="1164.07" r="1.8" fill="#27308f"/>
<circle cx="541.81" cy="1164.07" r="1.8" fill="#27308f"/>
<circle cx="550.91" cy="1164.07" r="1.8" fill="#27308f"/>
<circle cx="560.00" cy="1164.07" r="1.8" fill="#27308f"/>
<circle cx="569.10" cy="1164.07" r="1.8" fill="#4271bb"/>
<circle cx="578.20" cy="1164.07" r="1.8" fill="#27308f"/>
<circle cx="587.30" cy="1164.07" r="1.8" fill="#27308f"/>
<circle cx="596.40" cy="1164.07" r="1.8" fill="#4271bb"/>
<circle cx="605.49" cy="1164.07" r="4.9" fill="#5a94c8"/>
<circle cx="614.59" cy="1164.07" r="1.8" fill="#27308f"/>
<circle cx="623.69" cy="1164.07" r="1.8" fill="#27308f"/>
<circle cx="632.79" cy="1164.07" r="1.8" fill="#4271bb"/>
<circle cx="641.89" cy="1164.07" r="1.8" fill="#27308f"/>
<circle cx="650.98" cy="1164.07" r="1.8" fill="#27308f"/>
<circle cx="660.08" cy="1164.07" r="1.8" fill="#4271bb"/>
<circle cx="669.18" cy="1164.07" r="1.8" fill="#4271bb"/>
<circle cx="678.28" cy="1164.07" r="4.9" fill="#6aa4d0"/>
<circle cx="687.38" cy="1164.07" r="1.8" fill="#27308f"/>
<circle cx="696.47" cy="1164.07" r="1.8" fill="#27308f"/>
<circle cx="705.57" cy="1164.07" r="1.8" fill="#27308f"/>
<circle cx="714.67" cy="1164.07" r="1.8" fill="#7fb6dc"/>
<circle cx="723.77" cy="1164.07" r="1.8" fill="#27308f"/>
<circle cx="732.87" cy="1164.07" r="1.8" fill="#27308f"/>
<circle cx="741.96" cy="1164.07" r="1.8" fill="#27308f"/>
<circle cx="751.06" cy="1164.07" r="1.8" fill="#4271bb"/>
<circle cx="760.16" cy="1164.07" r="1.8" fill="#4271bb"/>
<circle cx="769.26" cy="1164.07" r="1.8" fill="#4271bb"/>
<circle cx="778.36" cy="1164.07" r="1.8" fill="#4271bb"/>
<circle cx="787.45" cy="1164.07" r="1.8" fill="#4271bb"/>
<circle cx="796.55" cy="1164.07" r="1.8" fill="#4271bb"/>
<circle cx="123.30" cy="1176.54" r="1.8" fill="#27308f"/>
<circle cx="132.40" cy="1176.54" r="1.8" fill="#4271bb"/>
<circle cx="141.50" cy="1176.54" r="1.8" fill="#90c8e0"/>
<circle cx="150.59" cy="1176.54" r="1.8" fill="#27308f"/>
<circle cx="159.69" cy="1176.54" r="4.9" fill="#a50026"/>
<circle cx="168.79" cy="1176.54" r="1.8" fill="#4271bb"/>
<circle cx="177.89" cy="1176.54" r="1.8" fill="#4271bb"/>
<circle cx="186.99" cy="1176.54" r="1.8" fill="#4271bb"/>
<circle cx="196.08" cy="1176.54" r="1.8" fill="#4271bb"/>
<circle cx="205.18" cy="1176.54" r="1.8" fill="#27308f"/>
<circle cx="214.28" cy="1176.54" r="1.8" fill="#27308f"/>
<circle cx="223.38" cy="1176.54" r="1.8" fill="#27308f"/>
<circle cx="232.48" cy="1176.54" r="1.8" fill="#4271bb"/>
<circle cx="241.57" cy="1176.54" r="1.8" fill="#27308f"/>
<circle cx="250.67" cy="1176.54" r="1.8" fill="#4271bb"/>
<circle cx="259.77" cy="1176.54" r="1.8" fill="#4271bb"/>
<circle cx="268.87" cy="1176.54" r="1.8" fill="#27308f"/>
<circle cx="277.97" cy="1176.54" r="1.8" fill="#27308f"/>
<circle cx="287.06" cy="1176.54" r="1.8" fill="#27308f"/>
<circle cx="296.16" cy="1176.54" r="1.8" fill="#27308f"/>
<circle cx="305.26" cy="1176.54" r="1.8" fill="#27308f"/>
<circle cx="314.36" cy="1176.54" r="1.8" fill="#27308f"/>
<circle cx="323.46" cy="1176.54" r="1.8" fill="#4271bb"/>
<circle cx="332.55" cy="1176.54" r="1.8" fill="#27308f"/>
<circle cx="341.65" cy="1176.54" r="1.8" fill="#4271bb"/>
<circle cx="350.75" cy="1176.54" r="1.8" fill="#27308f"/>
<circle cx="359.85" cy="1176.54" r="1.8" fill="#27308f"/>
<circle cx="368.95" cy="1176.54" r="1.8" fill="#27308f"/>
<circle cx="378.04" cy="1176.54" r="1.8" fill="#27308f"/>
<circle cx="387.14" cy="1176.54" r="1.8" fill="#27308f"/>
<circle cx="396.24" cy="1176.54" r="1.8" fill="#27308f"/>
<circle cx="405.34" cy="1176.54" r="1.8" fill="#7fb6dc"/>
<circle cx="414.44" cy="1176.54" r="1.8" fill="#27308f"/>
<circle cx="423.53" cy="1176.54" r="1.8" fill="#4271bb"/>
<circle cx="432.63" cy="1176.54" r="1.8" fill="#27308f"/>
<circle cx="441.73" cy="1176.54" r="1.8" fill="#4271bb"/>
<circle cx="450.83" cy="1176.54" r="1.8" fill="#27308f"/>
<circle cx="459.93" cy="1176.54" r="1.8" fill="#27308f"/>
<circle cx="469.02" cy="1176.54" r="4.9" fill="#6aa4d0"/>
<circle cx="478.12" cy="1176.54" r="1.8" fill="#4271bb"/>
<circle cx="487.22" cy="1176.54" r="1.8" fill="#4271bb"/>
<circle cx="496.32" cy="1176.54" r="1.8" fill="#7fb6dc"/>
<circle cx="505.42" cy="1176.54" r="1.8" fill="#4271bb"/>
<circle cx="514.51" cy="1176.54" r="1.8" fill="#27308f"/>
<circle cx="523.61" cy="1176.54" r="1.8" fill="#27308f"/>
<circle cx="532.71" cy="1176.54" r="1.8" fill="#27308f"/>
<circle cx="541.81" cy="1176.54" r="1.8" fill="#27308f"/>
<circle cx="550.91" cy="1176.54" r="1.8" fill="#4271bb"/>
<circle cx="560.00" cy="1176.54" r="1.8" fill="#27308f"/>
<circle cx="569.10" cy="1176.54" r="1.8" fill="#4271bb"/>
<circle cx="578.20" cy="1176.54" r="1.8" fill="#27308f"/>
<circle cx="587.30" cy="1176.54" r="1.8" fill="#27308f"/>
<circle cx="596.40" cy="1176.54" r="1.8" fill="#27308f"/>
<circle cx="605.49" cy="1176.54" r="4.9" fill="#4a84c4"/>
<circle cx="614.59" cy="1176.54" r="1.8" fill="#4271bb"/>
<circle cx="623.69" cy="1176.54" r="1.8" fill="#27308f"/>
<circle cx="632.79" cy="1176.54" r="1.8" fill="#4271bb"/>
<circle cx="641.89" cy="1176.54" r="1.8" fill="#27308f"/>
<circle cx="650.98" cy="1176.54" r="1.8" fill="#27308f"/>
<circle cx="660.08" cy="1176.54" r="1.8" fill="#4271bb"/>
<circle cx="669.18" cy="1176.54" r="1.8" fill="#27308f"/>
<circle cx="678.28" cy="1176.54" r="4.9" fill="#6aa4d0"/>
<circle cx="687.38" cy="1176.54" r="1.8" fill="#27308f"/>
<circle cx="696.47" cy="1176.54" r="1.8" fill="#27308f"/>
<circle cx="705.57" cy="1176.54" r="1.8" fill="#27308f"/>
<circle cx="714.67" cy="1176.54" r="1.8" fill="#7fb6dc"/>
<circle cx="723.77" cy="1176.54" r="1.8" fill="#27308f"/>
<circle cx="732.87" cy="1176.54" r="1.8" fill="#27308f"/>
<circle cx="741.96" cy="1176.54" r="1.8" fill="#27308f"/>
<circle cx="751.06" cy="1176.54" r="1.8" fill="#4271bb"/>
<circle cx="760.16" cy="1176.54" r="1.8" fill="#4271bb"/>
<circle cx="769.26" cy="1176.54" r="1.8" fill="#4271bb"/>
<circle cx="778.36" cy="1176.54" r="1.8" fill="#4271bb"/>
<circle cx="787.45" cy="1176.54" r="1.8" fill="#4271bb"/>
<circle cx="796.55" cy="1176.54" r="1.8" fill="#4271bb"/>
<circle cx="123.30" cy="1189.01" r="1.8" fill="#27308f"/>
<circle cx="132.40" cy="1189.01" r="1.8" fill="#4271bb"/>
<circle cx="141.50" cy="1189.01" r="1.8" fill="#4271bb"/>
<circle cx="150.59" cy="1189.01" r="4.9" fill="#6aa4d0"/>
<circle cx="159.69" cy="1189.01" r="4.9" fill="#a50026"/>
<circle cx="168.79" cy="1189.01" r="1.8" fill="#4271bb"/>
<circle cx="177.89" cy="1189.01" r="1.8" fill="#4271bb"/>
<circle cx="186.99" cy="1189.01" r="1.8" fill="#4271bb"/>
<circle cx="196.08" cy="1189.01" r="1.8" fill="#4271bb"/>
<circle cx="205.18" cy="1189.01" r="1.8" fill="#27308f"/>
<circle cx="214.28" cy="1189.01" r="1.8" fill="#27308f"/>
<circle cx="223.38" cy="1189.01" r="1.8" fill="#27308f"/>
<circle cx="232.48" cy="1189.01" r="1.8" fill="#4271bb"/>
<circle cx="241.57" cy="1189.01" r="1.8" fill="#27308f"/>
<circle cx="250.67" cy="1189.01" r="1.8" fill="#4271bb"/>
<circle cx="259.77" cy="1189.01" r="1.8" fill="#4271bb"/>
<circle cx="268.87" cy="1189.01" r="1.8" fill="#27308f"/>
<circle cx="277.97" cy="1189.01" r="1.8" fill="#27308f"/>
<circle cx="287.06" cy="1189.01" r="1.8" fill="#4271bb"/>
<circle cx="296.16" cy="1189.01" r="1.8" fill="#27308f"/>
<circle cx="305.26" cy="1189.01" r="1.8" fill="#27308f"/>
<circle cx="314.36" cy="1189.01" r="1.8" fill="#27308f"/>
<circle cx="323.46" cy="1189.01" r="1.8" fill="#27308f"/>
<circle cx="332.55" cy="1189.01" r="1.8" fill="#27308f"/>
<circle cx="341.65" cy="1189.01" r="1.8" fill="#4271bb"/>
<circle cx="350.75" cy="1189.01" r="1.8" fill="#27308f"/>
<circle cx="359.85" cy="1189.01" r="1.8" fill="#27308f"/>
<circle cx="368.95" cy="1189.01" r="1.8" fill="#27308f"/>
<circle cx="378.04" cy="1189.01" r="1.8" fill="#27308f"/>
<circle cx="387.14" cy="1189.01" r="1.8" fill="#27308f"/>
<circle cx="396.24" cy="1189.01" r="1.8" fill="#27308f"/>
<circle cx="405.34" cy="1189.01" r="1.8" fill="#7fb6dc"/>
<circle cx="414.44" cy="1189.01" r="1.8" fill="#27308f"/>
<circle cx="423.53" cy="1189.01" r="1.8" fill="#27308f"/>
<circle cx="432.63" cy="1189.01" r="1.8" fill="#27308f"/>
<circle cx="441.73" cy="1189.01" r="1.8" fill="#4271bb"/>
<circle cx="450.83" cy="1189.01" r="1.8" fill="#27308f"/>
<circle cx="459.93" cy="1189.01" r="1.8" fill="#27308f"/>
<circle cx="469.02" cy="1189.01" r="4.9" fill="#4a7cc0"/>
<circle cx="478.12" cy="1189.01" r="1.8" fill="#4271bb"/>
<circle cx="487.22" cy="1189.01" r="1.8" fill="#4271bb"/>
<circle cx="496.32" cy="1189.01" r="1.8" fill="#7fb6dc"/>
<circle cx="505.42" cy="1189.01" r="1.8" fill="#4271bb"/>
<circle cx="514.51" cy="1189.01" r="1.8" fill="#27308f"/>
<circle cx="523.61" cy="1189.01" r="1.8" fill="#f46d43"/>
<circle cx="532.71" cy="1189.01" r="1.8" fill="#27308f"/>
<circle cx="541.81" cy="1189.01" r="1.8" fill="#27308f"/>
<circle cx="550.91" cy="1189.01" r="1.8" fill="#27308f"/>
<circle cx="560.00" cy="1189.01" r="4.9" fill="#f06838"/>
<circle cx="569.10" cy="1189.01" r="1.8" fill="#4271bb"/>
<circle cx="578.20" cy="1189.01" r="1.8" fill="#27308f"/>
<circle cx="587.30" cy="1189.01" r="1.8" fill="#27308f"/>
<circle cx="596.40" cy="1189.01" r="4.9" fill="#f07040"/>
<circle cx="605.49" cy="1189.01" r="4.9" fill="#4a84c4"/>
<circle cx="614.59" cy="1189.01" r="4.9" fill="#3a6ab8"/>
<circle cx="623.69" cy="1189.01" r="1.8" fill="#27308f"/>
<circle cx="632.79" cy="1189.01" r="1.8" fill="#4271bb"/>
<circle cx="641.89" cy="1189.01" r="1.8" fill="#4271bb"/>
<circle cx="650.98" cy="1189.01" r="1.8" fill="#27308f"/>
<circle cx="660.08" cy="1189.01" r="1.8" fill="#4271bb"/>
<circle cx="669.18" cy="1189.01" r="4.9" fill="#e04830"/>
<circle cx="678.28" cy="1189.01" r="4.9" fill="#6aa4d0"/>
<circle cx="687.38" cy="1189.01" r="4.9" fill="#c8e4ec"/>
<circle cx="696.47" cy="1189.01" r="1.8" fill="#27308f"/>
<circle cx="705.57" cy="1189.01" r="1.8" fill="#27308f"/>
<circle cx="714.67" cy="1189.01" r="1.8" fill="#7fb6dc"/>
<circle cx="723.77" cy="1189.01" r="1.8" fill="#27308f"/>
<circle cx="732.87" cy="1189.01" r="1.8" fill="#27308f"/>
<circle cx="741.96" cy="1189.01" r="1.8" fill="#27308f"/>
<circle cx="751.06" cy="1189.01" r="1.8" fill="#4271bb"/>
<circle cx="760.16" cy="1189.01" r="1.8" fill="#27308f"/>
<circle cx="769.26" cy="1189.01" r="1.8" fill="#4271bb"/>
<circle cx="778.36" cy="1189.01" r="1.8" fill="#4271bb"/>
<circle cx="787.45" cy="1189.01" r="1.8" fill="#4271bb"/>
<circle cx="796.55" cy="1189.01" r="1.8" fill="#4271bb"/>
<circle cx="123.30" cy="1201.48" r="1.8" fill="#27308f"/>
<circle cx="132.40" cy="1201.48" r="1.8" fill="#4271bb"/>
<circle cx="141.50" cy="1201.48" r="1.8" fill="#4271bb"/>
<circle cx="150.59" cy="1201.48" r="4.9" fill="#5a94c8"/>
<circle cx="159.69" cy="1201.48" r="1.8" fill="#c01020"/>
<circle cx="168.79" cy="1201.48" r="1.8" fill="#4271bb"/>
<circle cx="177.89" cy="1201.48" r="1.8" fill="#4271bb"/>
<circle cx="186.99" cy="1201.48" r="1.8" fill="#4271bb"/>
<circle cx="196.08" cy="1201.48" r="1.8" fill="#4271bb"/>
<circle cx="205.18" cy="1201.48" r="1.8" fill="#4271bb"/>
<circle cx="214.28" cy="1201.48" r="1.8" fill="#27308f"/>
<circle cx="223.38" cy="1201.48" r="1.8" fill="#4271bb"/>
<circle cx="232.48" cy="1201.48" r="1.8" fill="#4271bb"/>
<circle cx="241.57" cy="1201.48" r="1.8" fill="#4271bb"/>
<circle cx="250.67" cy="1201.48" r="1.8" fill="#4271bb"/>
<circle cx="259.77" cy="1201.48" r="1.8" fill="#4271bb"/>
<circle cx="268.87" cy="1201.48" r="1.8" fill="#27308f"/>
<circle cx="277.97" cy="1201.48" r="1.8" fill="#27308f"/>
<circle cx="287.06" cy="1201.48" r="1.8" fill="#27308f"/>
<circle cx="296.16" cy="1201.48" r="1.8" fill="#27308f"/>
<circle cx="305.26" cy="1201.48" r="1.8" fill="#4271bb"/>
<circle cx="314.36" cy="1201.48" r="1.8" fill="#27308f"/>
<circle cx="323.46" cy="1201.48" r="1.8" fill="#27308f"/>
<circle cx="332.55" cy="1201.48" r="1.8" fill="#4271bb"/>
<circle cx="341.65" cy="1201.48" r="1.8" fill="#4271bb"/>
<circle cx="350.75" cy="1201.48" r="1.8" fill="#27308f"/>
<circle cx="359.85" cy="1201.48" r="1.8" fill="#4271bb"/>
<circle cx="368.95" cy="1201.48" r="1.8" fill="#27308f"/>
<circle cx="378.04" cy="1201.48" r="1.8" fill="#27308f"/>
<circle cx="387.14" cy="1201.48" r="1.8" fill="#27308f"/>
<circle cx="396.24" cy="1201.48" r="1.8" fill="#27308f"/>
<circle cx="405.34" cy="1201.48" r="1.8" fill="#7fb6dc"/>
<circle cx="414.44" cy="1201.48" r="1.8" fill="#4271bb"/>
<circle cx="423.53" cy="1201.48" r="1.8" fill="#27308f"/>
<circle cx="432.63" cy="1201.48" r="1.8" fill="#27308f"/>
<circle cx="441.73" cy="1201.48" r="1.8" fill="#4271bb"/>
<circle cx="450.83" cy="1201.48" r="4.9" fill="#6aa4d0"/>
<circle cx="459.93" cy="1201.48" r="1.8" fill="#27308f"/>
<circle cx="469.02" cy="1201.48" r="1.8" fill="#4271bb"/>
<circle cx="478.12" cy="1201.48" r="1.8" fill="#27308f"/>
<circle cx="487.22" cy="1201.48" r="1.8" fill="#4271bb"/>
<circle cx="496.32" cy="1201.48" r="1.8" fill="#7fb6dc"/>
<circle cx="505.42" cy="1201.48" r="1.8" fill="#4271bb"/>
<circle cx="514.51" cy="1201.48" r="1.8" fill="#27308f"/>
<circle cx="523.61" cy="1201.48" r="1.8" fill="#27308f"/>
<circle cx="532.71" cy="1201.48" r="4.9" fill="#98cce4"/>
<circle cx="541.81" cy="1201.48" r="4.9" fill="#88c0dc"/>
<circle cx="550.91" cy="1201.48" r="1.8" fill="#27308f"/>
<circle cx="560.00" cy="1201.48" r="1.8" fill="#27308f"/>
<circle cx="569.10" cy="1201.48" r="1.8" fill="#4271bb"/>
<circle cx="578.20" cy="1201.48" r="1.8" fill="#27308f"/>
<circle cx="587.30" cy="1201.48" r="4.9" fill="#fee08a"/>
<circle cx="596.40" cy="1201.48" r="1.8" fill="#27308f"/>
<circle cx="605.49" cy="1201.48" r="4.9" fill="#b0dcea"/>
<circle cx="614.59" cy="1201.48" r="1.8" fill="#27308f"/>
<circle cx="623.69" cy="1201.48" r="4.9" fill="#c8e4ec"/>
<circle cx="632.79" cy="1201.48" r="4.9" fill="#d0e8f0"/>
<circle cx="641.89" cy="1201.48" r="4.9" fill="#d0e8f0"/>
<circle cx="650.98" cy="1201.48" r="4.9" fill="#c8e4ec"/>
<circle cx="660.08" cy="1201.48" r="4.9" fill="#fdd080"/>
<circle cx="669.18" cy="1201.48" r="1.8" fill="#4271bb"/>
<circle cx="678.28" cy="1201.48" r="1.8" fill="#4271bb"/>
<circle cx="687.38" cy="1201.48" r="4.9" fill="#d8ecf4"/>
<circle cx="696.47" cy="1201.48" r="1.8" fill="#27308f"/>
<circle cx="705.57" cy="1201.48" r="1.8" fill="#27308f"/>
<circle cx="714.67" cy="1201.48" r="1.8" fill="#7fb6dc"/>
<circle cx="723.77" cy="1201.48" r="1.8" fill="#27308f"/>
<circle cx="732.87" cy="1201.48" r="1.8" fill="#27308f"/>
<circle cx="741.96" cy="1201.48" r="1.8" fill="#27308f"/>
<circle cx="751.06" cy="1201.48" r="1.8" fill="#4271bb"/>
<circle cx="760.16" cy="1201.48" r="1.8" fill="#4271bb"/>
<circle cx="769.26" cy="1201.48" r="1.8" fill="#4271bb"/>
<circle cx="778.36" cy="1201.48" r="1.8" fill="#4271bb"/>
<circle cx="787.45" cy="1201.48" r="4.9" fill="#b00828"/>
<circle cx="796.55" cy="1201.48" r="4.9" fill="#f48c48"/>
<circle cx="123.30" cy="1213.95" r="1.8" fill="#27308f"/>
<circle cx="132.40" cy="1213.95" r="1.8" fill="#4271bb"/>
<circle cx="141.50" cy="1213.95" r="1.8" fill="#4271bb"/>
<circle cx="150.59" cy="1213.95" r="4.9" fill="#88c0dc"/>
<circle cx="159.69" cy="1213.95" r="4.9" fill="#a50026"/>
<circle cx="168.79" cy="1213.95" r="1.8" fill="#4271bb"/>
<circle cx="177.89" cy="1213.95" r="1.8" fill="#4271bb"/>
<circle cx="186.99" cy="1213.95" r="4.9" fill="#f48c48"/>
<circle cx="196.08" cy="1213.95" r="1.8" fill="#27308f"/>
<circle cx="205.18" cy="1213.95" r="1.8" fill="#e0f0f0"/>
<circle cx="214.28" cy="1213.95" r="1.8" fill="#27308f"/>
<circle cx="223.38" cy="1213.95" r="1.8" fill="#27308f"/>
<circle cx="232.48" cy="1213.95" r="1.8" fill="#4271bb"/>
<circle cx="241.57" cy="1213.95" r="1.8" fill="#27308f"/>
<circle cx="250.67" cy="1213.95" r="4.9" fill="#88c0dc"/>
<circle cx="259.77" cy="1213.95" r="4.9" fill="#4a7cc0"/>
<circle cx="268.87" cy="1213.95" r="4.9" fill="#3a68b0"/>
<circle cx="277.97" cy="1213.95" r="1.8" fill="#27308f"/>
<circle cx="287.06" cy="1213.95" r="1.8" fill="#27308f"/>
<circle cx="296.16" cy="1213.95" r="1.8" fill="#27308f"/>
<circle cx="305.26" cy="1213.95" r="1.8" fill="#27308f"/>
<circle cx="314.36" cy="1213.95" r="1.8" fill="#4271bb"/>
<circle cx="323.46" cy="1213.95" r="1.8" fill="#27308f"/>
<circle cx="332.55" cy="1213.95" r="1.8" fill="#27308f"/>
<circle cx="341.65" cy="1213.95" r="4.9" fill="#88c0dc"/>
<circle cx="350.75" cy="1213.95" r="1.8" fill="#27308f"/>
<circle cx="359.85" cy="1213.95" r="1.8" fill="#27308f"/>
<circle cx="368.95" cy="1213.95" r="1.8" fill="#27308f"/>
<circle cx="378.04" cy="1213.95" r="1.8" fill="#27308f"/>
<circle cx="387.14" cy="1213.95" r="1.8" fill="#27308f"/>
<circle cx="396.24" cy="1213.95" r="1.8" fill="#27308f"/>
<circle cx="405.34" cy="1213.95" r="1.8" fill="#7fb6dc"/>
<circle cx="414.44" cy="1213.95" r="1.8" fill="#27308f"/>
<circle cx="423.53" cy="1213.95" r="1.8" fill="#27308f"/>
<circle cx="432.63" cy="1213.95" r="1.8" fill="#27308f"/>
<circle cx="441.73" cy="1213.95" r="1.8" fill="#4271bb"/>
<circle cx="450.83" cy="1213.95" r="4.9" fill="#6aa4d0"/>
<circle cx="459.93" cy="1213.95" r="4.9" fill="#4a7cc0"/>
<circle cx="469.02" cy="1213.95" r="4.9" fill="#6aa4d0"/>
<circle cx="478.12" cy="1213.95" r="1.8" fill="#4271bb"/>
<circle cx="487.22" cy="1213.95" r="1.8" fill="#4271bb"/>
<circle cx="496.32" cy="1213.95" r="1.8" fill="#4271bb"/>
<circle cx="505.42" cy="1213.95" r="1.8" fill="#4271bb"/>
<circle cx="514.51" cy="1213.95" r="1.8" fill="#27308f"/>
<circle cx="523.61" cy="1213.95" r="1.8" fill="#27308f"/>
<circle cx="532.71" cy="1213.95" r="1.8" fill="#27308f"/>
<circle cx="541.81" cy="1213.95" r="1.8" fill="#27308f"/>
<circle cx="550.91" cy="1213.95" r="1.8" fill="#27308f"/>
<circle cx="560.00" cy="1213.95" r="4.9" fill="#6aa4d0"/>
<circle cx="569.10" cy="1213.95" r="1.8" fill="#4271bb"/>
<circle cx="578.20" cy="1213.95" r="1.8" fill="#27308f"/>
<circle cx="587.30" cy="1213.95" r="1.8" fill="#27308f"/>
<circle cx="596.40" cy="1213.95" r="4.9" fill="#5a94c8"/>
<circle cx="605.49" cy="1213.95" r="4.9" fill="#78b4d8"/>
<circle cx="614.59" cy="1213.95" r="1.8" fill="#27308f"/>
<circle cx="623.69" cy="1213.95" r="1.8" fill="#27308f"/>
<circle cx="632.79" cy="1213.95" r="1.8" fill="#4271bb"/>
<circle cx="641.89" cy="1213.95" r="1.8" fill="#27308f"/>
<circle cx="650.98" cy="1213.95" r="1.8" fill="#27308f"/>
<circle cx="660.08" cy="1213.95" r="1.8" fill="#4271bb"/>
<circle cx="669.18" cy="1213.95" r="4.9" fill="#78b4d8"/>
<circle cx="678.28" cy="1213.95" r="4.9" fill="#90c8e0"/>
<circle cx="687.38" cy="1213.95" r="4.9" fill="#5088c4"/>
<circle cx="696.47" cy="1213.95" r="1.8" fill="#fee090"/>
<circle cx="705.57" cy="1213.95" r="1.8" fill="#fee090"/>
<circle cx="714.67" cy="1213.95" r="1.8" fill="#e04830"/>
<circle cx="723.77" cy="1213.95" r="1.8" fill="#4271bb"/>
<circle cx="732.87" cy="1213.95" r="1.8" fill="#27308f"/>
<circle cx="741.96" cy="1213.95" r="1.8" fill="#27308f"/>
<circle cx="751.06" cy="1213.95" r="1.8" fill="#4271bb"/>
<circle cx="760.16" cy="1213.95" r="1.8" fill="#4271bb"/>
<circle cx="769.26" cy="1213.95" r="1.8" fill="#4271bb"/>
<circle cx="778.36" cy="1213.95" r="1.8" fill="#4271bb"/>
<circle cx="787.45" cy="1213.95" r="1.8" fill="#4271bb"/>
<circle cx="796.55" cy="1213.95" r="1.8" fill="#4271bb"/>
<text x="43.50" y="752.80" font-size="11.4" text-anchor="middle">Ligand</text>
<text x="43.50" y="765.60" font-size="11.4" text-anchor="middle">cell</text>
<text x="92.40" y="752.80" font-size="11.4" text-anchor="middle">Receptor</text>
<text x="92.40" y="765.60" font-size="11.4" text-anchor="middle">cell</text>
<line x1="64.6" x2="64.6" y1="772.8" y2="1221.5" stroke="#111" stroke-width="1.8"/>
<line x1="37" x2="95.5" y1="920.8" y2="920.8" stroke="#444" stroke-width="1.2"/>
<line x1="37" x2="95.5" y1="1071" y2="1071" stroke="#444" stroke-width="1.2"/>
<text x="58.60" y="781.60" font-size="11.4" text-anchor="end">Mono</text>
<text x="70.40" y="856.42" font-size="11.4">Mono</text>
<text x="58.60" y="794.07" font-size="11.4" text-anchor="end">DCs</text>
<text x="70.40" y="868.89" font-size="11.4">DCs</text>
<text x="58.60" y="806.54" font-size="11.4" text-anchor="end">Macro</text>
<text x="70.40" y="881.36" font-size="11.4">Macro</text>
<text x="58.60" y="819.01" font-size="11.4" text-anchor="end">SMCs</text>
<text x="70.40" y="893.83" font-size="11.4">SMCs</text>
<text x="58.60" y="831.48" font-size="11.4" text-anchor="end">Endo</text>
<text x="70.40" y="906.30" font-size="11.4">Endo</text>
<text x="58.60" y="843.95" font-size="11.4" text-anchor="end">Fibro</text>
<text x="70.40" y="918.77" font-size="11.4">Fibro</text>
<text x="86.10" y="817.70" font-size="11.4" text-anchor="middle" transform="rotate(57.50 86.10 817.70)">Mesenchymal</text>
<text x="37.00" y="886.50" font-size="11.4" text-anchor="middle" transform="rotate(57.50 37.00 886.50)">Mesenchymal</text>
<text x="58.60" y="931.24" font-size="11.4" text-anchor="end">Mono</text>
<text x="70.40" y="1006.06" font-size="11.4">Mono</text>
<text x="58.60" y="943.71" font-size="11.4" text-anchor="end">DCs</text>
<text x="70.40" y="1018.53" font-size="11.4">DCs</text>
<text x="58.60" y="956.18" font-size="11.4" text-anchor="end">Macro</text>
<text x="70.40" y="1031.00" font-size="11.4">Macro</text>
<text x="58.60" y="968.65" font-size="11.4" text-anchor="end">SMCs</text>
<text x="70.40" y="1043.47" font-size="11.4">SMCs</text>
<text x="58.60" y="981.12" font-size="11.4" text-anchor="end">Endo</text>
<text x="70.40" y="1055.94" font-size="11.4">Endo</text>
<text x="58.60" y="993.59" font-size="11.4" text-anchor="end">Fibro</text>
<text x="70.40" y="1068.41" font-size="11.4">Fibro</text>
<text x="78.10" y="971.60" font-size="11.4" text-anchor="middle" transform="rotate(57.50 78.10 971.60)">Neural</text>
<text x="45.30" y="1034.80" font-size="11.4" text-anchor="middle" transform="rotate(57.50 45.30 1034.80)">Neural</text>
<text x="58.60" y="1080.88" font-size="11.4" text-anchor="end">Mono</text>
<text x="70.40" y="1155.70" font-size="11.4">Mono</text>
<text x="58.60" y="1093.35" font-size="11.4" text-anchor="end">DCs</text>
<text x="70.40" y="1168.17" font-size="11.4">DCs</text>
<text x="58.60" y="1105.82" font-size="11.4" text-anchor="end">Macro</text>
<text x="70.40" y="1180.64" font-size="11.4">Macro</text>
<text x="58.60" y="1118.29" font-size="11.4" text-anchor="end">SMCs</text>
<text x="70.40" y="1193.11" font-size="11.4">SMCs</text>
<text x="58.60" y="1130.76" font-size="11.4" text-anchor="end">Endo</text>
<text x="70.40" y="1205.58" font-size="11.4">Endo</text>
<text x="58.60" y="1143.23" font-size="11.4" text-anchor="end">Fibro</text>
<text x="70.40" y="1218.05" font-size="11.4">Fibro</text>
<text x="76.30" y="1118.20" font-size="11.4" text-anchor="middle" transform="rotate(57.50 76.30 1118.20)">Basal</text>
<text x="48.70" y="1184.90" font-size="11.4" text-anchor="middle" transform="rotate(57.50 48.70 1184.90)">Basal</text>
<text x="0" y="0" font-size="11.2" transform="translate(819.6 993) rotate(-90)">−log<tspan font-size="7.5" dy="3.6">10</tspan><tspan dy="-3.6">(</tspan><tspan font-style="italic">P</tspan> value)</text>
<circle cx="834.6" cy="946.8" r="1.7" fill="#000"/>
<text x="845.60" y="950.80" font-size="11.2">0</text>
<circle cx="834.6" cy="958" r="3.35" fill="#000"/>
<text x="845.60" y="962.00" font-size="11.2">1</text>
<circle cx="834.6" cy="969" r="4.55" fill="#000"/>
<text x="845.60" y="973.00" font-size="11.2">2</text>
<circle cx="834.6" cy="980" r="5.2" fill="#000"/>
<text x="845.60" y="984.00" font-size="11.2">3</text>
<defs><linearGradient id="excb" x1="0" y1="1" x2="0" y2="0"><stop offset="0" stop-color="#313695"/><stop offset="0.1" stop-color="#4575b4"/><stop offset="0.2" stop-color="#74add1"/><stop offset="0.3" stop-color="#abd9e9"/><stop offset="0.4" stop-color="#e0f3f8"/><stop offset="0.5" stop-color="#ffffbf"/><stop offset="0.6" stop-color="#fee090"/><stop offset="0.7" stop-color="#fdae61"/><stop offset="0.8" stop-color="#f46d43"/><stop offset="0.9" stop-color="#d73027"/><stop offset="1.0" stop-color="#a50026"/></linearGradient></defs>
<rect x="829.4" y="1007.4" width="10.6" height="53.4" fill="url(#excb)" stroke="#333" stroke-width="0.6"/>
<line x1="840" x2="842" y1="1008" y2="1008" stroke="#333" stroke-width="0.6"/>
<text x="845.60" y="1012.00" font-size="11.2">1.00</text>
<line x1="840" x2="842" y1="1021.2" y2="1021.2" stroke="#333" stroke-width="0.6"/>
<text x="845.60" y="1025.20" font-size="11.2">0.75</text>
<line x1="840" x2="842" y1="1034.4" y2="1034.4" stroke="#333" stroke-width="0.6"/>
<text x="845.60" y="1038.40" font-size="11.2">0.50</text>
<line x1="840" x2="842" y1="1047.4" y2="1047.4" stroke="#333" stroke-width="0.6"/>
<text x="845.60" y="1051.40" font-size="11.2">0.25</text>
<line x1="840" x2="842" y1="1060.4" y2="1060.4" stroke="#333" stroke-width="0.6"/>
<text x="845.60" y="1064.40" font-size="11.2">0</text>
<text x="822.80" y="1061.50" font-size="11.2" transform="rotate(-90.00 822.80 1061.50)">Expression</text>
<text x="1.9" y="15.5" font-size="19.3" font-weight="bold" stroke="#000" stroke-width="0.6">a</text>
<text x="463.6" y="15.9" font-size="19.3" font-weight="bold" stroke="#000" stroke-width="0.6">b</text>
<text x="1.9" y="469.8" font-size="19.3" font-weight="bold" stroke="#000" stroke-width="0.6">c</text>
<text x="1.8" y="750.0" font-size="19.3" font-weight="bold" stroke="#000" stroke-width="0.6">d</text>
</svg></body></html>
